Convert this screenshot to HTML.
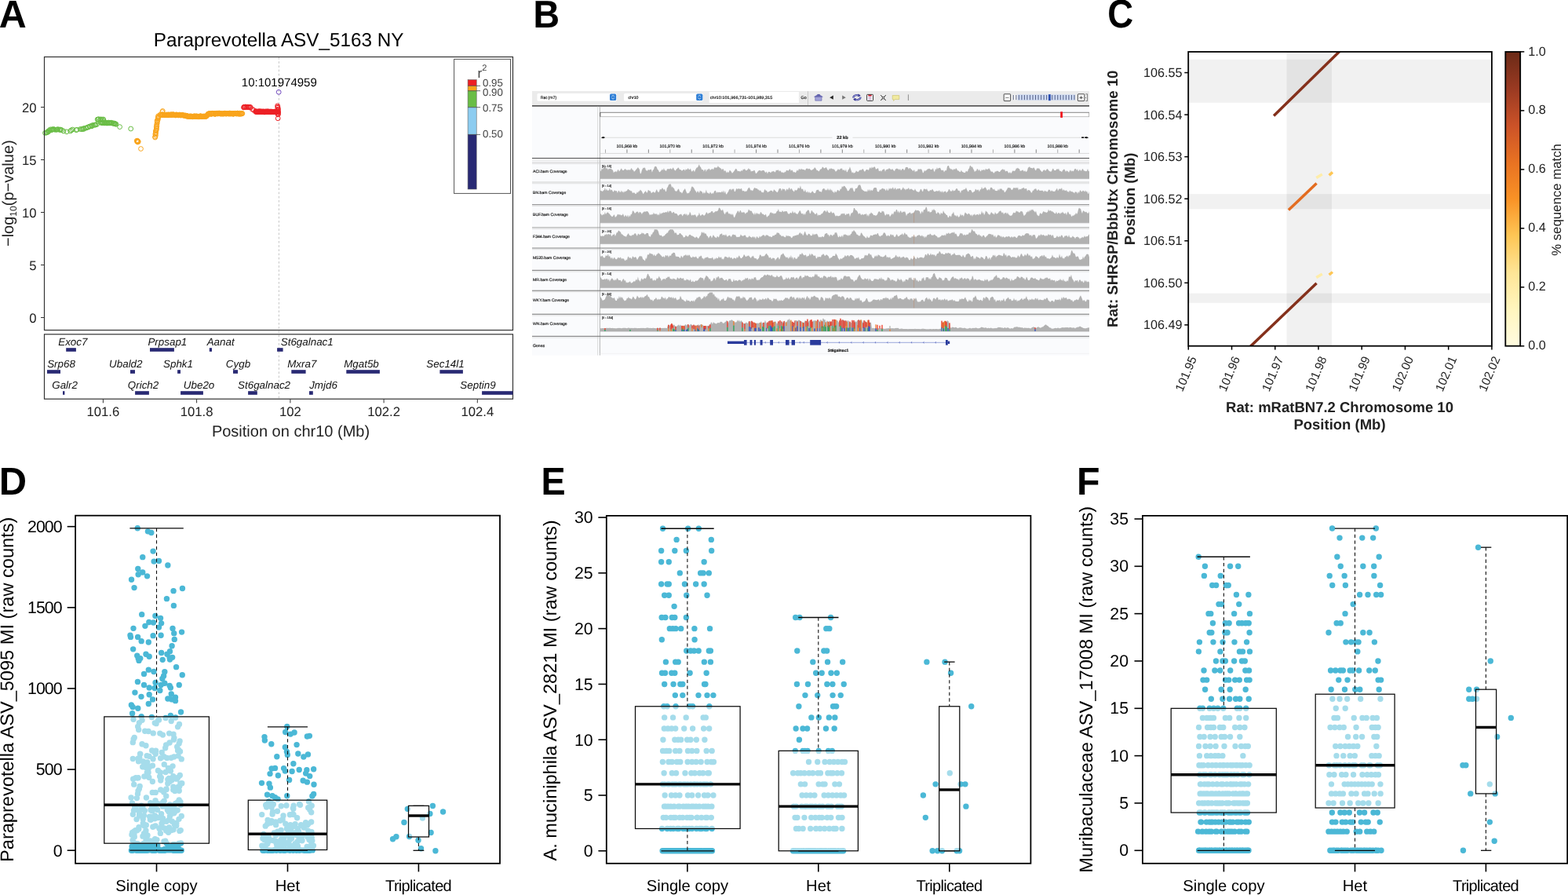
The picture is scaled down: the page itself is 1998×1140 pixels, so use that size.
<!DOCTYPE html>
<html lang="en"><head><meta charset="utf-8"><title>Figure</title>
<style>
html,body{margin:0;padding:0;background:#fff}
body{width:1998px;height:1140px;overflow:hidden}
svg{display:block}
#panelB text{stroke:#111;stroke-width:.16px}
svg text{font-family:"Liberation Sans",sans-serif;text-rendering:geometricPrecision}
</style></head><body>
<svg width="1998" height="1140" viewBox="0 0 1998 1140">
<rect width="1998" height="1140" fill="#fff"/>
<g id="panelA">
<text transform="translate(-1.21 35) scale(0.9886 1.0086)" font-size="49" font-weight="bold">A</text>
<text x="355.2" y="58.7" font-size="24.3" text-anchor="middle">Paraprevotella ASV_5163 NY</text>
<line x1="355.4" y1="73" x2="355.4" y2="508" stroke="#bdbdbd" stroke-width="0.9" stroke-dasharray="2.6 2.6"/>
<path d="M54.55 169.36a2.9 2.9 0 1 0 5.8 0a2.9 2.9 0 1 0 -5.8 0M56.02 169a2.9 2.9 0 1 0 5.8 0a2.9 2.9 0 1 0 -5.8 0M56.61 168.85a2.9 2.9 0 1 0 5.8 0a2.9 2.9 0 1 0 -5.8 0M57.28 168.51a2.9 2.9 0 1 0 5.8 0a2.9 2.9 0 1 0 -5.8 0M58.6 167.99a2.9 2.9 0 1 0 5.8 0a2.9 2.9 0 1 0 -5.8 0M58.94 166.7a2.9 2.9 0 1 0 5.8 0a2.9 2.9 0 1 0 -5.8 0M59.82 166.41a2.9 2.9 0 1 0 5.8 0a2.9 2.9 0 1 0 -5.8 0M61.29 164.84a2.9 2.9 0 1 0 5.8 0a2.9 2.9 0 1 0 -5.8 0M62.58 165.72a2.9 2.9 0 1 0 5.8 0a2.9 2.9 0 1 0 -5.8 0M63.25 165.32a2.9 2.9 0 1 0 5.8 0a2.9 2.9 0 1 0 -5.8 0M63.76 164.68a2.9 2.9 0 1 0 5.8 0a2.9 2.9 0 1 0 -5.8 0M65.13 164.68a2.9 2.9 0 1 0 5.8 0a2.9 2.9 0 1 0 -5.8 0M65.79 164.81a2.9 2.9 0 1 0 5.8 0a2.9 2.9 0 1 0 -5.8 0M66.63 164.99a2.9 2.9 0 1 0 5.8 0a2.9 2.9 0 1 0 -5.8 0M68.04 165.32a2.9 2.9 0 1 0 5.8 0a2.9 2.9 0 1 0 -5.8 0M69.12 165.08a2.9 2.9 0 1 0 5.8 0a2.9 2.9 0 1 0 -5.8 0M70.1 165.05a2.9 2.9 0 1 0 5.8 0a2.9 2.9 0 1 0 -5.8 0M71.06 164.62a2.9 2.9 0 1 0 5.8 0a2.9 2.9 0 1 0 -5.8 0M72.6 165.3a2.9 2.9 0 1 0 5.8 0a2.9 2.9 0 1 0 -5.8 0M73.61 165.27a2.9 2.9 0 1 0 5.8 0a2.9 2.9 0 1 0 -5.8 0M74.25 165.06a2.9 2.9 0 1 0 5.8 0a2.9 2.9 0 1 0 -5.8 0M75.6 165.6a2.9 2.9 0 1 0 5.8 0a2.9 2.9 0 1 0 -5.8 0M78.1 167a2.9 2.9 0 1 0 5.8 0a2.9 2.9 0 1 0 -5.8 0M82.1 167.8a2.9 2.9 0 1 0 5.8 0a2.9 2.9 0 1 0 -5.8 0M86.7 167a2.9 2.9 0 1 0 5.8 0a2.9 2.9 0 1 0 -5.8 0M87.9 165.8a2.9 2.9 0 1 0 5.8 0a2.9 2.9 0 1 0 -5.8 0M89.7 165a2.9 2.9 0 1 0 5.8 0a2.9 2.9 0 1 0 -5.8 0M94.1 165.6a2.9 2.9 0 1 0 5.8 0a2.9 2.9 0 1 0 -5.8 0M95.3 165.2a2.9 2.9 0 1 0 5.8 0a2.9 2.9 0 1 0 -5.8 0M99.39 164.47a2.9 2.9 0 1 0 5.8 0a2.9 2.9 0 1 0 -5.8 0M101.03 164.57a2.9 2.9 0 1 0 5.8 0a2.9 2.9 0 1 0 -5.8 0M102.28 164.32a2.9 2.9 0 1 0 5.8 0a2.9 2.9 0 1 0 -5.8 0M103.56 164.55a2.9 2.9 0 1 0 5.8 0a2.9 2.9 0 1 0 -5.8 0M103.93 163.44a2.9 2.9 0 1 0 5.8 0a2.9 2.9 0 1 0 -5.8 0M106.18 163.24a2.9 2.9 0 1 0 5.8 0a2.9 2.9 0 1 0 -5.8 0M107.1 162.8a2.9 2.9 0 1 0 5.8 0a2.9 2.9 0 1 0 -5.8 0M109.08 162.1a2.9 2.9 0 1 0 5.8 0a2.9 2.9 0 1 0 -5.8 0M109.39 161.93a2.9 2.9 0 1 0 5.8 0a2.9 2.9 0 1 0 -5.8 0M111.32 161.17a2.9 2.9 0 1 0 5.8 0a2.9 2.9 0 1 0 -5.8 0M111.85 160.83a2.9 2.9 0 1 0 5.8 0a2.9 2.9 0 1 0 -5.8 0M113.94 160.86a2.9 2.9 0 1 0 5.8 0a2.9 2.9 0 1 0 -5.8 0M114.32 159.95a2.9 2.9 0 1 0 5.8 0a2.9 2.9 0 1 0 -5.8 0M115.48 159.4a2.9 2.9 0 1 0 5.8 0a2.9 2.9 0 1 0 -5.8 0M117.36 159.16a2.9 2.9 0 1 0 5.8 0a2.9 2.9 0 1 0 -5.8 0M118.3 159.07a2.9 2.9 0 1 0 5.8 0a2.9 2.9 0 1 0 -5.8 0M119.11 158.99a2.9 2.9 0 1 0 5.8 0a2.9 2.9 0 1 0 -5.8 0M120.6 158.4a2.9 2.9 0 1 0 5.8 0a2.9 2.9 0 1 0 -5.8 0M121.23 152.14a2.9 2.9 0 1 0 5.8 0a2.9 2.9 0 1 0 -5.8 0M122.13 151.92a2.9 2.9 0 1 0 5.8 0a2.9 2.9 0 1 0 -5.8 0M123.14 151.77a2.9 2.9 0 1 0 5.8 0a2.9 2.9 0 1 0 -5.8 0M124.81 152.3a2.9 2.9 0 1 0 5.8 0a2.9 2.9 0 1 0 -5.8 0M125.05 152.38a2.9 2.9 0 1 0 5.8 0a2.9 2.9 0 1 0 -5.8 0M125.87 151.89a2.9 2.9 0 1 0 5.8 0a2.9 2.9 0 1 0 -5.8 0M127.43 152.14a2.9 2.9 0 1 0 5.8 0a2.9 2.9 0 1 0 -5.8 0M127.59 152.49a2.9 2.9 0 1 0 5.8 0a2.9 2.9 0 1 0 -5.8 0M128.9 152a2.9 2.9 0 1 0 5.8 0a2.9 2.9 0 1 0 -5.8 0M125.31 156.26a2.9 2.9 0 1 0 5.8 0a2.9 2.9 0 1 0 -5.8 0M126.59 156.32a2.9 2.9 0 1 0 5.8 0a2.9 2.9 0 1 0 -5.8 0M126.84 156.06a2.9 2.9 0 1 0 5.8 0a2.9 2.9 0 1 0 -5.8 0M127.36 156.57a2.9 2.9 0 1 0 5.8 0a2.9 2.9 0 1 0 -5.8 0M128.23 156.58a2.9 2.9 0 1 0 5.8 0a2.9 2.9 0 1 0 -5.8 0M129.08 156.43a2.9 2.9 0 1 0 5.8 0a2.9 2.9 0 1 0 -5.8 0M130.39 156.45a2.9 2.9 0 1 0 5.8 0a2.9 2.9 0 1 0 -5.8 0M130.73 156.83a2.9 2.9 0 1 0 5.8 0a2.9 2.9 0 1 0 -5.8 0M131.06 156.11a2.9 2.9 0 1 0 5.8 0a2.9 2.9 0 1 0 -5.8 0M132.51 156.77a2.9 2.9 0 1 0 5.8 0a2.9 2.9 0 1 0 -5.8 0M132.57 156.13a2.9 2.9 0 1 0 5.8 0a2.9 2.9 0 1 0 -5.8 0M133.78 156.88a2.9 2.9 0 1 0 5.8 0a2.9 2.9 0 1 0 -5.8 0M133.96 156.88a2.9 2.9 0 1 0 5.8 0a2.9 2.9 0 1 0 -5.8 0M135.37 156.53a2.9 2.9 0 1 0 5.8 0a2.9 2.9 0 1 0 -5.8 0M135.63 156.03a2.9 2.9 0 1 0 5.8 0a2.9 2.9 0 1 0 -5.8 0M135.97 156.88a2.9 2.9 0 1 0 5.8 0a2.9 2.9 0 1 0 -5.8 0M136.89 156.62a2.9 2.9 0 1 0 5.8 0a2.9 2.9 0 1 0 -5.8 0M137.63 156.73a2.9 2.9 0 1 0 5.8 0a2.9 2.9 0 1 0 -5.8 0M138.7 156.19a2.9 2.9 0 1 0 5.8 0a2.9 2.9 0 1 0 -5.8 0M139.03 156.82a2.9 2.9 0 1 0 5.8 0a2.9 2.9 0 1 0 -5.8 0M139.67 156.53a2.9 2.9 0 1 0 5.8 0a2.9 2.9 0 1 0 -5.8 0M140.91 157.35a2.9 2.9 0 1 0 5.8 0a2.9 2.9 0 1 0 -5.8 0M141.71 156.98a2.9 2.9 0 1 0 5.8 0a2.9 2.9 0 1 0 -5.8 0M142.77 157.1a2.9 2.9 0 1 0 5.8 0a2.9 2.9 0 1 0 -5.8 0M142.62 157.37a2.9 2.9 0 1 0 5.8 0a2.9 2.9 0 1 0 -5.8 0M143.71 157.39a2.9 2.9 0 1 0 5.8 0a2.9 2.9 0 1 0 -5.8 0M144.11 157.94a2.9 2.9 0 1 0 5.8 0a2.9 2.9 0 1 0 -5.8 0M145.1 158.3a2.9 2.9 0 1 0 5.8 0a2.9 2.9 0 1 0 -5.8 0M149.7 161.6a2.9 2.9 0 1 0 5.8 0a2.9 2.9 0 1 0 -5.8 0M163.8 164a2.9 2.9 0 1 0 5.8 0a2.9 2.9 0 1 0 -5.8 0" fill="none" stroke="#69BD45" stroke-width="1"/>
<path d="M171.37 179.23a2.9 2.9 0 1 0 5.8 0a2.9 2.9 0 1 0 -5.8 0M171.66 180.19a2.9 2.9 0 1 0 5.8 0a2.9 2.9 0 1 0 -5.8 0M172.78 180.16a2.9 2.9 0 1 0 5.8 0a2.9 2.9 0 1 0 -5.8 0M172.99 180.28a2.9 2.9 0 1 0 5.8 0a2.9 2.9 0 1 0 -5.8 0M173.3 180.4a2.9 2.9 0 1 0 5.8 0a2.9 2.9 0 1 0 -5.8 0M172.3 179.2a2.9 2.9 0 1 0 5.8 0a2.9 2.9 0 1 0 -5.8 0M172.5 181a2.9 2.9 0 1 0 5.8 0a2.9 2.9 0 1 0 -5.8 0M176.6 189.5a2.9 2.9 0 1 0 5.8 0a2.9 2.9 0 1 0 -5.8 0M194.74 175.04a2.9 2.9 0 1 0 5.8 0a2.9 2.9 0 1 0 -5.8 0M194.72 174.16a2.9 2.9 0 1 0 5.8 0a2.9 2.9 0 1 0 -5.8 0M195.5 172.46a2.9 2.9 0 1 0 5.8 0a2.9 2.9 0 1 0 -5.8 0M194.96 170.85a2.9 2.9 0 1 0 5.8 0a2.9 2.9 0 1 0 -5.8 0M195.57 169.66a2.9 2.9 0 1 0 5.8 0a2.9 2.9 0 1 0 -5.8 0M195.55 168.64a2.9 2.9 0 1 0 5.8 0a2.9 2.9 0 1 0 -5.8 0M195.45 166.9a2.9 2.9 0 1 0 5.8 0a2.9 2.9 0 1 0 -5.8 0M196.25 165.97a2.9 2.9 0 1 0 5.8 0a2.9 2.9 0 1 0 -5.8 0M196.39 164.49a2.9 2.9 0 1 0 5.8 0a2.9 2.9 0 1 0 -5.8 0M196.59 163.42a2.9 2.9 0 1 0 5.8 0a2.9 2.9 0 1 0 -5.8 0M196.31 161.79a2.9 2.9 0 1 0 5.8 0a2.9 2.9 0 1 0 -5.8 0M197.02 160.57a2.9 2.9 0 1 0 5.8 0a2.9 2.9 0 1 0 -5.8 0M196.7 159.09a2.9 2.9 0 1 0 5.8 0a2.9 2.9 0 1 0 -5.8 0M197.3 157.47a2.9 2.9 0 1 0 5.8 0a2.9 2.9 0 1 0 -5.8 0M197.22 155.88a2.9 2.9 0 1 0 5.8 0a2.9 2.9 0 1 0 -5.8 0M197.43 154.86a2.9 2.9 0 1 0 5.8 0a2.9 2.9 0 1 0 -5.8 0M197.18 153.64a2.9 2.9 0 1 0 5.8 0a2.9 2.9 0 1 0 -5.8 0M198.34 152.63a2.9 2.9 0 1 0 5.8 0a2.9 2.9 0 1 0 -5.8 0M198.33 150.89a2.9 2.9 0 1 0 5.8 0a2.9 2.9 0 1 0 -5.8 0M198.67 149.91a2.9 2.9 0 1 0 5.8 0a2.9 2.9 0 1 0 -5.8 0M198.71 149.01a2.9 2.9 0 1 0 5.8 0a2.9 2.9 0 1 0 -5.8 0M198.68 147.75a2.9 2.9 0 1 0 5.8 0a2.9 2.9 0 1 0 -5.8 0M201.1 146.3a2.9 2.9 0 1 0 5.8 0a2.9 2.9 0 1 0 -5.8 0M204.4 141.4a2.9 2.9 0 1 0 5.8 0a2.9 2.9 0 1 0 -5.8 0M203.9 142.6a2.9 2.9 0 1 0 5.8 0a2.9 2.9 0 1 0 -5.8 0M201.54 146.42a2.9 2.9 0 1 0 5.8 0a2.9 2.9 0 1 0 -5.8 0M202.63 145.98a2.9 2.9 0 1 0 5.8 0a2.9 2.9 0 1 0 -5.8 0M203.45 146.3a2.9 2.9 0 1 0 5.8 0a2.9 2.9 0 1 0 -5.8 0M203.9 146.8a2.9 2.9 0 1 0 5.8 0a2.9 2.9 0 1 0 -5.8 0M204.03 145.71a2.9 2.9 0 1 0 5.8 0a2.9 2.9 0 1 0 -5.8 0M204.64 146.51a2.9 2.9 0 1 0 5.8 0a2.9 2.9 0 1 0 -5.8 0M205.08 145.9a2.9 2.9 0 1 0 5.8 0a2.9 2.9 0 1 0 -5.8 0M206.48 146.49a2.9 2.9 0 1 0 5.8 0a2.9 2.9 0 1 0 -5.8 0M206.47 146.77a2.9 2.9 0 1 0 5.8 0a2.9 2.9 0 1 0 -5.8 0M206.89 146.5a2.9 2.9 0 1 0 5.8 0a2.9 2.9 0 1 0 -5.8 0M207.29 146.22a2.9 2.9 0 1 0 5.8 0a2.9 2.9 0 1 0 -5.8 0M208.58 146.8a2.9 2.9 0 1 0 5.8 0a2.9 2.9 0 1 0 -5.8 0M209.22 146.16a2.9 2.9 0 1 0 5.8 0a2.9 2.9 0 1 0 -5.8 0M209.42 146.08a2.9 2.9 0 1 0 5.8 0a2.9 2.9 0 1 0 -5.8 0M209.44 146.3a2.9 2.9 0 1 0 5.8 0a2.9 2.9 0 1 0 -5.8 0M210.84 146.72a2.9 2.9 0 1 0 5.8 0a2.9 2.9 0 1 0 -5.8 0M211.24 146.84a2.9 2.9 0 1 0 5.8 0a2.9 2.9 0 1 0 -5.8 0M211.28 145.9a2.9 2.9 0 1 0 5.8 0a2.9 2.9 0 1 0 -5.8 0M212.04 146.03a2.9 2.9 0 1 0 5.8 0a2.9 2.9 0 1 0 -5.8 0M212.31 146.21a2.9 2.9 0 1 0 5.8 0a2.9 2.9 0 1 0 -5.8 0M213.36 146.31a2.9 2.9 0 1 0 5.8 0a2.9 2.9 0 1 0 -5.8 0M213.55 146.73a2.9 2.9 0 1 0 5.8 0a2.9 2.9 0 1 0 -5.8 0M214.9 146.28a2.9 2.9 0 1 0 5.8 0a2.9 2.9 0 1 0 -5.8 0M214.37 145.78a2.9 2.9 0 1 0 5.8 0a2.9 2.9 0 1 0 -5.8 0M215.88 145.8a2.9 2.9 0 1 0 5.8 0a2.9 2.9 0 1 0 -5.8 0M216.24 146.44a2.9 2.9 0 1 0 5.8 0a2.9 2.9 0 1 0 -5.8 0M216.32 146.72a2.9 2.9 0 1 0 5.8 0a2.9 2.9 0 1 0 -5.8 0M216.52 145.94a2.9 2.9 0 1 0 5.8 0a2.9 2.9 0 1 0 -5.8 0M217.6 145.81a2.9 2.9 0 1 0 5.8 0a2.9 2.9 0 1 0 -5.8 0M218.61 146.08a2.9 2.9 0 1 0 5.8 0a2.9 2.9 0 1 0 -5.8 0M218.34 145.86a2.9 2.9 0 1 0 5.8 0a2.9 2.9 0 1 0 -5.8 0M219.48 146.34a2.9 2.9 0 1 0 5.8 0a2.9 2.9 0 1 0 -5.8 0M220.03 146.6a2.9 2.9 0 1 0 5.8 0a2.9 2.9 0 1 0 -5.8 0M220.8 146.98a2.9 2.9 0 1 0 5.8 0a2.9 2.9 0 1 0 -5.8 0M221.21 146.07a2.9 2.9 0 1 0 5.8 0a2.9 2.9 0 1 0 -5.8 0M221.51 146.06a2.9 2.9 0 1 0 5.8 0a2.9 2.9 0 1 0 -5.8 0M221.51 146.42a2.9 2.9 0 1 0 5.8 0a2.9 2.9 0 1 0 -5.8 0M222.91 146.07a2.9 2.9 0 1 0 5.8 0a2.9 2.9 0 1 0 -5.8 0M222.94 146.28a2.9 2.9 0 1 0 5.8 0a2.9 2.9 0 1 0 -5.8 0M224 146.5a2.9 2.9 0 1 0 5.8 0a2.9 2.9 0 1 0 -5.8 0M224.46 146.79a2.9 2.9 0 1 0 5.8 0a2.9 2.9 0 1 0 -5.8 0M224.75 146.84a2.9 2.9 0 1 0 5.8 0a2.9 2.9 0 1 0 -5.8 0M225.92 146a2.9 2.9 0 1 0 5.8 0a2.9 2.9 0 1 0 -5.8 0M226.51 146.78a2.9 2.9 0 1 0 5.8 0a2.9 2.9 0 1 0 -5.8 0M226.1 146.46a2.9 2.9 0 1 0 5.8 0a2.9 2.9 0 1 0 -5.8 0M227.25 147.02a2.9 2.9 0 1 0 5.8 0a2.9 2.9 0 1 0 -5.8 0M227.51 146.62a2.9 2.9 0 1 0 5.8 0a2.9 2.9 0 1 0 -5.8 0M228.67 146.9a2.9 2.9 0 1 0 5.8 0a2.9 2.9 0 1 0 -5.8 0M229.3 146.51a2.9 2.9 0 1 0 5.8 0a2.9 2.9 0 1 0 -5.8 0M229.5 146.2a2.9 2.9 0 1 0 5.8 0a2.9 2.9 0 1 0 -5.8 0M230.14 146.95a2.9 2.9 0 1 0 5.8 0a2.9 2.9 0 1 0 -5.8 0M230.6 146.84a2.9 2.9 0 1 0 5.8 0a2.9 2.9 0 1 0 -5.8 0M230.64 147.06a2.9 2.9 0 1 0 5.8 0a2.9 2.9 0 1 0 -5.8 0M232.12 147.16a2.9 2.9 0 1 0 5.8 0a2.9 2.9 0 1 0 -5.8 0M232.14 146.95a2.9 2.9 0 1 0 5.8 0a2.9 2.9 0 1 0 -5.8 0M232.38 147.36a2.9 2.9 0 1 0 5.8 0a2.9 2.9 0 1 0 -5.8 0M233.53 146.95a2.9 2.9 0 1 0 5.8 0a2.9 2.9 0 1 0 -5.8 0M233.1 147.33a2.9 2.9 0 1 0 5.8 0a2.9 2.9 0 1 0 -5.8 0M234.16 147.99a2.9 2.9 0 1 0 5.8 0a2.9 2.9 0 1 0 -5.8 0M234.58 147.37a2.9 2.9 0 1 0 5.8 0a2.9 2.9 0 1 0 -5.8 0M235.47 147.68a2.9 2.9 0 1 0 5.8 0a2.9 2.9 0 1 0 -5.8 0M236.02 147.81a2.9 2.9 0 1 0 5.8 0a2.9 2.9 0 1 0 -5.8 0M236.02 148.55a2.9 2.9 0 1 0 5.8 0a2.9 2.9 0 1 0 -5.8 0M236.34 147.79a2.9 2.9 0 1 0 5.8 0a2.9 2.9 0 1 0 -5.8 0M237.35 148.49a2.9 2.9 0 1 0 5.8 0a2.9 2.9 0 1 0 -5.8 0M238.3 148.45a2.9 2.9 0 1 0 5.8 0a2.9 2.9 0 1 0 -5.8 0M238.98 148.22a2.9 2.9 0 1 0 5.8 0a2.9 2.9 0 1 0 -5.8 0M239.55 147.74a2.9 2.9 0 1 0 5.8 0a2.9 2.9 0 1 0 -5.8 0M239.23 148.27a2.9 2.9 0 1 0 5.8 0a2.9 2.9 0 1 0 -5.8 0M239.87 148.52a2.9 2.9 0 1 0 5.8 0a2.9 2.9 0 1 0 -5.8 0M240.85 148.27a2.9 2.9 0 1 0 5.8 0a2.9 2.9 0 1 0 -5.8 0M241.65 148.32a2.9 2.9 0 1 0 5.8 0a2.9 2.9 0 1 0 -5.8 0M241.57 148.11a2.9 2.9 0 1 0 5.8 0a2.9 2.9 0 1 0 -5.8 0M242.77 148.74a2.9 2.9 0 1 0 5.8 0a2.9 2.9 0 1 0 -5.8 0M242.56 148.69a2.9 2.9 0 1 0 5.8 0a2.9 2.9 0 1 0 -5.8 0M244.03 148.3a2.9 2.9 0 1 0 5.8 0a2.9 2.9 0 1 0 -5.8 0M244.12 147.92a2.9 2.9 0 1 0 5.8 0a2.9 2.9 0 1 0 -5.8 0M244.63 148.28a2.9 2.9 0 1 0 5.8 0a2.9 2.9 0 1 0 -5.8 0M245.27 147.72a2.9 2.9 0 1 0 5.8 0a2.9 2.9 0 1 0 -5.8 0M246.27 148.31a2.9 2.9 0 1 0 5.8 0a2.9 2.9 0 1 0 -5.8 0M246.14 148.65a2.9 2.9 0 1 0 5.8 0a2.9 2.9 0 1 0 -5.8 0M246.9 148.29a2.9 2.9 0 1 0 5.8 0a2.9 2.9 0 1 0 -5.8 0M247.61 147.78a2.9 2.9 0 1 0 5.8 0a2.9 2.9 0 1 0 -5.8 0M247.98 148.2a2.9 2.9 0 1 0 5.8 0a2.9 2.9 0 1 0 -5.8 0M249.04 148.82a2.9 2.9 0 1 0 5.8 0a2.9 2.9 0 1 0 -5.8 0M248.78 148.28a2.9 2.9 0 1 0 5.8 0a2.9 2.9 0 1 0 -5.8 0M249.16 148.24a2.9 2.9 0 1 0 5.8 0a2.9 2.9 0 1 0 -5.8 0M250.55 148.81a2.9 2.9 0 1 0 5.8 0a2.9 2.9 0 1 0 -5.8 0M250.7 148.11a2.9 2.9 0 1 0 5.8 0a2.9 2.9 0 1 0 -5.8 0M250.92 148.48a2.9 2.9 0 1 0 5.8 0a2.9 2.9 0 1 0 -5.8 0M252.35 147.89a2.9 2.9 0 1 0 5.8 0a2.9 2.9 0 1 0 -5.8 0M252.74 147.77a2.9 2.9 0 1 0 5.8 0a2.9 2.9 0 1 0 -5.8 0M252.59 148.02a2.9 2.9 0 1 0 5.8 0a2.9 2.9 0 1 0 -5.8 0M253.74 148.14a2.9 2.9 0 1 0 5.8 0a2.9 2.9 0 1 0 -5.8 0M253.9 148.5a2.9 2.9 0 1 0 5.8 0a2.9 2.9 0 1 0 -5.8 0M254.16 148.64a2.9 2.9 0 1 0 5.8 0a2.9 2.9 0 1 0 -5.8 0M254.74 148.38a2.9 2.9 0 1 0 5.8 0a2.9 2.9 0 1 0 -5.8 0M255.45 148.01a2.9 2.9 0 1 0 5.8 0a2.9 2.9 0 1 0 -5.8 0M256.35 148.3a2.9 2.9 0 1 0 5.8 0a2.9 2.9 0 1 0 -5.8 0M256.72 148.28a2.9 2.9 0 1 0 5.8 0a2.9 2.9 0 1 0 -5.8 0M257.46 147.98a2.9 2.9 0 1 0 5.8 0a2.9 2.9 0 1 0 -5.8 0M257.63 148.55a2.9 2.9 0 1 0 5.8 0a2.9 2.9 0 1 0 -5.8 0M258.71 148.43a2.9 2.9 0 1 0 5.8 0a2.9 2.9 0 1 0 -5.8 0M259.52 148.53a2.9 2.9 0 1 0 5.8 0a2.9 2.9 0 1 0 -5.8 0M259.97 147.7a2.9 2.9 0 1 0 5.8 0a2.9 2.9 0 1 0 -5.8 0M260.28 148.02a2.9 2.9 0 1 0 5.8 0a2.9 2.9 0 1 0 -5.8 0M260.92 147.05a2.9 2.9 0 1 0 5.8 0a2.9 2.9 0 1 0 -5.8 0M260.66 147.4a2.9 2.9 0 1 0 5.8 0a2.9 2.9 0 1 0 -5.8 0M260.98 147.11a2.9 2.9 0 1 0 5.8 0a2.9 2.9 0 1 0 -5.8 0M262.23 145.69a2.9 2.9 0 1 0 5.8 0a2.9 2.9 0 1 0 -5.8 0M261.9 146.03a2.9 2.9 0 1 0 5.8 0a2.9 2.9 0 1 0 -5.8 0M262.37 144.89a2.9 2.9 0 1 0 5.8 0a2.9 2.9 0 1 0 -5.8 0M263.5 144.91a2.9 2.9 0 1 0 5.8 0a2.9 2.9 0 1 0 -5.8 0M264.01 144.54a2.9 2.9 0 1 0 5.8 0a2.9 2.9 0 1 0 -5.8 0M264.1 145.19a2.9 2.9 0 1 0 5.8 0a2.9 2.9 0 1 0 -5.8 0M264.2 144.59a2.9 2.9 0 1 0 5.8 0a2.9 2.9 0 1 0 -5.8 0M265.56 145.43a2.9 2.9 0 1 0 5.8 0a2.9 2.9 0 1 0 -5.8 0M266.46 144.46a2.9 2.9 0 1 0 5.8 0a2.9 2.9 0 1 0 -5.8 0M266.47 145.21a2.9 2.9 0 1 0 5.8 0a2.9 2.9 0 1 0 -5.8 0M267.02 145.11a2.9 2.9 0 1 0 5.8 0a2.9 2.9 0 1 0 -5.8 0M267.21 144.36a2.9 2.9 0 1 0 5.8 0a2.9 2.9 0 1 0 -5.8 0M267.67 144.3a2.9 2.9 0 1 0 5.8 0a2.9 2.9 0 1 0 -5.8 0M268.76 144.86a2.9 2.9 0 1 0 5.8 0a2.9 2.9 0 1 0 -5.8 0M269.34 144.4a2.9 2.9 0 1 0 5.8 0a2.9 2.9 0 1 0 -5.8 0M269.44 144.45a2.9 2.9 0 1 0 5.8 0a2.9 2.9 0 1 0 -5.8 0M270.79 145.38a2.9 2.9 0 1 0 5.8 0a2.9 2.9 0 1 0 -5.8 0M271.45 144.29a2.9 2.9 0 1 0 5.8 0a2.9 2.9 0 1 0 -5.8 0M270.97 145.3a2.9 2.9 0 1 0 5.8 0a2.9 2.9 0 1 0 -5.8 0M272.01 145.06a2.9 2.9 0 1 0 5.8 0a2.9 2.9 0 1 0 -5.8 0M272.41 144.69a2.9 2.9 0 1 0 5.8 0a2.9 2.9 0 1 0 -5.8 0M273.2 144.63a2.9 2.9 0 1 0 5.8 0a2.9 2.9 0 1 0 -5.8 0M273.86 144.11a2.9 2.9 0 1 0 5.8 0a2.9 2.9 0 1 0 -5.8 0M274.54 145.09a2.9 2.9 0 1 0 5.8 0a2.9 2.9 0 1 0 -5.8 0M274.48 144.61a2.9 2.9 0 1 0 5.8 0a2.9 2.9 0 1 0 -5.8 0M275.71 144.53a2.9 2.9 0 1 0 5.8 0a2.9 2.9 0 1 0 -5.8 0M275.61 144.23a2.9 2.9 0 1 0 5.8 0a2.9 2.9 0 1 0 -5.8 0M276.56 144.03a2.9 2.9 0 1 0 5.8 0a2.9 2.9 0 1 0 -5.8 0M277.57 144.96a2.9 2.9 0 1 0 5.8 0a2.9 2.9 0 1 0 -5.8 0M277.9 145.04a2.9 2.9 0 1 0 5.8 0a2.9 2.9 0 1 0 -5.8 0M278.37 144.5a2.9 2.9 0 1 0 5.8 0a2.9 2.9 0 1 0 -5.8 0M278.89 144.62a2.9 2.9 0 1 0 5.8 0a2.9 2.9 0 1 0 -5.8 0M279.9 144.99a2.9 2.9 0 1 0 5.8 0a2.9 2.9 0 1 0 -5.8 0M279.59 145.12a2.9 2.9 0 1 0 5.8 0a2.9 2.9 0 1 0 -5.8 0M280.73 144.97a2.9 2.9 0 1 0 5.8 0a2.9 2.9 0 1 0 -5.8 0M281.37 144.53a2.9 2.9 0 1 0 5.8 0a2.9 2.9 0 1 0 -5.8 0M282.02 145.1a2.9 2.9 0 1 0 5.8 0a2.9 2.9 0 1 0 -5.8 0M282.33 144.97a2.9 2.9 0 1 0 5.8 0a2.9 2.9 0 1 0 -5.8 0M282.97 144.54a2.9 2.9 0 1 0 5.8 0a2.9 2.9 0 1 0 -5.8 0M283.48 144.15a2.9 2.9 0 1 0 5.8 0a2.9 2.9 0 1 0 -5.8 0M283.58 144.63a2.9 2.9 0 1 0 5.8 0a2.9 2.9 0 1 0 -5.8 0M283.73 144.5a2.9 2.9 0 1 0 5.8 0a2.9 2.9 0 1 0 -5.8 0M285.04 144.83a2.9 2.9 0 1 0 5.8 0a2.9 2.9 0 1 0 -5.8 0M285.11 145.22a2.9 2.9 0 1 0 5.8 0a2.9 2.9 0 1 0 -5.8 0M286.19 144.49a2.9 2.9 0 1 0 5.8 0a2.9 2.9 0 1 0 -5.8 0M286.74 144.78a2.9 2.9 0 1 0 5.8 0a2.9 2.9 0 1 0 -5.8 0M287.14 144.57a2.9 2.9 0 1 0 5.8 0a2.9 2.9 0 1 0 -5.8 0M288.26 144.88a2.9 2.9 0 1 0 5.8 0a2.9 2.9 0 1 0 -5.8 0M288.45 145.03a2.9 2.9 0 1 0 5.8 0a2.9 2.9 0 1 0 -5.8 0M289.34 144.14a2.9 2.9 0 1 0 5.8 0a2.9 2.9 0 1 0 -5.8 0M289.46 145.01a2.9 2.9 0 1 0 5.8 0a2.9 2.9 0 1 0 -5.8 0M289.59 144.61a2.9 2.9 0 1 0 5.8 0a2.9 2.9 0 1 0 -5.8 0M289.89 144.37a2.9 2.9 0 1 0 5.8 0a2.9 2.9 0 1 0 -5.8 0M290.84 144.26a2.9 2.9 0 1 0 5.8 0a2.9 2.9 0 1 0 -5.8 0M291.25 145.23a2.9 2.9 0 1 0 5.8 0a2.9 2.9 0 1 0 -5.8 0M292.16 144.76a2.9 2.9 0 1 0 5.8 0a2.9 2.9 0 1 0 -5.8 0M293.22 144.84a2.9 2.9 0 1 0 5.8 0a2.9 2.9 0 1 0 -5.8 0M293.81 144.93a2.9 2.9 0 1 0 5.8 0a2.9 2.9 0 1 0 -5.8 0M294.14 144.26a2.9 2.9 0 1 0 5.8 0a2.9 2.9 0 1 0 -5.8 0M294.44 145.08a2.9 2.9 0 1 0 5.8 0a2.9 2.9 0 1 0 -5.8 0M294.33 145.29a2.9 2.9 0 1 0 5.8 0a2.9 2.9 0 1 0 -5.8 0M295.03 144.75a2.9 2.9 0 1 0 5.8 0a2.9 2.9 0 1 0 -5.8 0M295.59 144.78a2.9 2.9 0 1 0 5.8 0a2.9 2.9 0 1 0 -5.8 0M296.68 144.26a2.9 2.9 0 1 0 5.8 0a2.9 2.9 0 1 0 -5.8 0M297.63 144.7a2.9 2.9 0 1 0 5.8 0a2.9 2.9 0 1 0 -5.8 0M297.68 144.9a2.9 2.9 0 1 0 5.8 0a2.9 2.9 0 1 0 -5.8 0M298.04 144.52a2.9 2.9 0 1 0 5.8 0a2.9 2.9 0 1 0 -5.8 0M298.94 144.84a2.9 2.9 0 1 0 5.8 0a2.9 2.9 0 1 0 -5.8 0M299.04 145.01a2.9 2.9 0 1 0 5.8 0a2.9 2.9 0 1 0 -5.8 0M299.61 144.15a2.9 2.9 0 1 0 5.8 0a2.9 2.9 0 1 0 -5.8 0M300.09 144.18a2.9 2.9 0 1 0 5.8 0a2.9 2.9 0 1 0 -5.8 0M300.54 145.02a2.9 2.9 0 1 0 5.8 0a2.9 2.9 0 1 0 -5.8 0M301.37 145.18a2.9 2.9 0 1 0 5.8 0a2.9 2.9 0 1 0 -5.8 0M302.35 144.15a2.9 2.9 0 1 0 5.8 0a2.9 2.9 0 1 0 -5.8 0M303.19 145.21a2.9 2.9 0 1 0 5.8 0a2.9 2.9 0 1 0 -5.8 0M302.64 145.15a2.9 2.9 0 1 0 5.8 0a2.9 2.9 0 1 0 -5.8 0M303.62 144.62a2.9 2.9 0 1 0 5.8 0a2.9 2.9 0 1 0 -5.8 0M304.82 144.33a2.9 2.9 0 1 0 5.8 0a2.9 2.9 0 1 0 -5.8 0M304.83 145.15a2.9 2.9 0 1 0 5.8 0a2.9 2.9 0 1 0 -5.8 0M305.62 144.57a2.9 2.9 0 1 0 5.8 0a2.9 2.9 0 1 0 -5.8 0M305.9 144.6a2.9 2.9 0 1 0 5.8 0a2.9 2.9 0 1 0 -5.8 0" fill="none" stroke="#F9A41A" stroke-width="1"/>
<path d="M307.58 136.92a2.9 2.9 0 1 0 5.8 0a2.9 2.9 0 1 0 -5.8 0M308.1 136.2a2.9 2.9 0 1 0 5.8 0a2.9 2.9 0 1 0 -5.8 0M309.02 136.52a2.9 2.9 0 1 0 5.8 0a2.9 2.9 0 1 0 -5.8 0M309.5 136.09a2.9 2.9 0 1 0 5.8 0a2.9 2.9 0 1 0 -5.8 0M310.73 136.14a2.9 2.9 0 1 0 5.8 0a2.9 2.9 0 1 0 -5.8 0M311.54 136.67a2.9 2.9 0 1 0 5.8 0a2.9 2.9 0 1 0 -5.8 0M312.46 136.24a2.9 2.9 0 1 0 5.8 0a2.9 2.9 0 1 0 -5.8 0M313.48 136.38a2.9 2.9 0 1 0 5.8 0a2.9 2.9 0 1 0 -5.8 0M314.58 136.47a2.9 2.9 0 1 0 5.8 0a2.9 2.9 0 1 0 -5.8 0M315.7 136.87a2.9 2.9 0 1 0 5.8 0a2.9 2.9 0 1 0 -5.8 0M316.1 136.4a2.9 2.9 0 1 0 5.8 0a2.9 2.9 0 1 0 -5.8 0M318.5 139a2.9 2.9 0 1 0 5.8 0a2.9 2.9 0 1 0 -5.8 0M320.6 140.6a2.9 2.9 0 1 0 5.8 0a2.9 2.9 0 1 0 -5.8 0M322.9 141.8a2.9 2.9 0 1 0 5.8 0a2.9 2.9 0 1 0 -5.8 0M323.33 141.94a2.9 2.9 0 1 0 5.8 0a2.9 2.9 0 1 0 -5.8 0M323.17 142.6a2.9 2.9 0 1 0 5.8 0a2.9 2.9 0 1 0 -5.8 0M324.29 142.33a2.9 2.9 0 1 0 5.8 0a2.9 2.9 0 1 0 -5.8 0M324.32 141.99a2.9 2.9 0 1 0 5.8 0a2.9 2.9 0 1 0 -5.8 0M325.1 142.28a2.9 2.9 0 1 0 5.8 0a2.9 2.9 0 1 0 -5.8 0M325.46 142.36a2.9 2.9 0 1 0 5.8 0a2.9 2.9 0 1 0 -5.8 0M326.08 141.92a2.9 2.9 0 1 0 5.8 0a2.9 2.9 0 1 0 -5.8 0M326.03 142.71a2.9 2.9 0 1 0 5.8 0a2.9 2.9 0 1 0 -5.8 0M327.15 142.62a2.9 2.9 0 1 0 5.8 0a2.9 2.9 0 1 0 -5.8 0M326.73 141.8a2.9 2.9 0 1 0 5.8 0a2.9 2.9 0 1 0 -5.8 0M327.42 142.17a2.9 2.9 0 1 0 5.8 0a2.9 2.9 0 1 0 -5.8 0M328.22 141.85a2.9 2.9 0 1 0 5.8 0a2.9 2.9 0 1 0 -5.8 0M328.6 141.83a2.9 2.9 0 1 0 5.8 0a2.9 2.9 0 1 0 -5.8 0M328.6 142.44a2.9 2.9 0 1 0 5.8 0a2.9 2.9 0 1 0 -5.8 0M329.51 142.39a2.9 2.9 0 1 0 5.8 0a2.9 2.9 0 1 0 -5.8 0M329.79 142.25a2.9 2.9 0 1 0 5.8 0a2.9 2.9 0 1 0 -5.8 0M330.08 142.12a2.9 2.9 0 1 0 5.8 0a2.9 2.9 0 1 0 -5.8 0M331.07 142.62a2.9 2.9 0 1 0 5.8 0a2.9 2.9 0 1 0 -5.8 0M330.86 141.9a2.9 2.9 0 1 0 5.8 0a2.9 2.9 0 1 0 -5.8 0M332.05 142.41a2.9 2.9 0 1 0 5.8 0a2.9 2.9 0 1 0 -5.8 0M332.46 142a2.9 2.9 0 1 0 5.8 0a2.9 2.9 0 1 0 -5.8 0M332.57 142.05a2.9 2.9 0 1 0 5.8 0a2.9 2.9 0 1 0 -5.8 0M333.41 142.17a2.9 2.9 0 1 0 5.8 0a2.9 2.9 0 1 0 -5.8 0M333.7 142.79a2.9 2.9 0 1 0 5.8 0a2.9 2.9 0 1 0 -5.8 0M333.83 142.35a2.9 2.9 0 1 0 5.8 0a2.9 2.9 0 1 0 -5.8 0M334.7 142.73a2.9 2.9 0 1 0 5.8 0a2.9 2.9 0 1 0 -5.8 0M334.83 142.18a2.9 2.9 0 1 0 5.8 0a2.9 2.9 0 1 0 -5.8 0M334.95 142.69a2.9 2.9 0 1 0 5.8 0a2.9 2.9 0 1 0 -5.8 0M335.38 141.9a2.9 2.9 0 1 0 5.8 0a2.9 2.9 0 1 0 -5.8 0M336.31 142.3a2.9 2.9 0 1 0 5.8 0a2.9 2.9 0 1 0 -5.8 0M336.89 142.12a2.9 2.9 0 1 0 5.8 0a2.9 2.9 0 1 0 -5.8 0M337.43 141.9a2.9 2.9 0 1 0 5.8 0a2.9 2.9 0 1 0 -5.8 0M337.31 142.49a2.9 2.9 0 1 0 5.8 0a2.9 2.9 0 1 0 -5.8 0M337.63 142.13a2.9 2.9 0 1 0 5.8 0a2.9 2.9 0 1 0 -5.8 0M338.72 142.52a2.9 2.9 0 1 0 5.8 0a2.9 2.9 0 1 0 -5.8 0M338.73 141.98a2.9 2.9 0 1 0 5.8 0a2.9 2.9 0 1 0 -5.8 0M339.26 142.56a2.9 2.9 0 1 0 5.8 0a2.9 2.9 0 1 0 -5.8 0M339.72 141.95a2.9 2.9 0 1 0 5.8 0a2.9 2.9 0 1 0 -5.8 0M340.51 142.41a2.9 2.9 0 1 0 5.8 0a2.9 2.9 0 1 0 -5.8 0M341.17 142.78a2.9 2.9 0 1 0 5.8 0a2.9 2.9 0 1 0 -5.8 0M341.61 142.28a2.9 2.9 0 1 0 5.8 0a2.9 2.9 0 1 0 -5.8 0M341.95 142.15a2.9 2.9 0 1 0 5.8 0a2.9 2.9 0 1 0 -5.8 0M341.92 142.25a2.9 2.9 0 1 0 5.8 0a2.9 2.9 0 1 0 -5.8 0M342.98 142.75a2.9 2.9 0 1 0 5.8 0a2.9 2.9 0 1 0 -5.8 0M342.75 142.22a2.9 2.9 0 1 0 5.8 0a2.9 2.9 0 1 0 -5.8 0M343.32 142.22a2.9 2.9 0 1 0 5.8 0a2.9 2.9 0 1 0 -5.8 0M343.8 142.25a2.9 2.9 0 1 0 5.8 0a2.9 2.9 0 1 0 -5.8 0M344.04 142.43a2.9 2.9 0 1 0 5.8 0a2.9 2.9 0 1 0 -5.8 0M345.1 142.41a2.9 2.9 0 1 0 5.8 0a2.9 2.9 0 1 0 -5.8 0M345.59 142.43a2.9 2.9 0 1 0 5.8 0a2.9 2.9 0 1 0 -5.8 0M345.38 142.63a2.9 2.9 0 1 0 5.8 0a2.9 2.9 0 1 0 -5.8 0M346.53 142.15a2.9 2.9 0 1 0 5.8 0a2.9 2.9 0 1 0 -5.8 0M346.12 142.39a2.9 2.9 0 1 0 5.8 0a2.9 2.9 0 1 0 -5.8 0M347.09 142.44a2.9 2.9 0 1 0 5.8 0a2.9 2.9 0 1 0 -5.8 0M347.97 142.53a2.9 2.9 0 1 0 5.8 0a2.9 2.9 0 1 0 -5.8 0M348.25 141.95a2.9 2.9 0 1 0 5.8 0a2.9 2.9 0 1 0 -5.8 0M348.45 142.67a2.9 2.9 0 1 0 5.8 0a2.9 2.9 0 1 0 -5.8 0M348.43 141.97a2.9 2.9 0 1 0 5.8 0a2.9 2.9 0 1 0 -5.8 0M349.54 142.79a2.9 2.9 0 1 0 5.8 0a2.9 2.9 0 1 0 -5.8 0M349.33 142.53a2.9 2.9 0 1 0 5.8 0a2.9 2.9 0 1 0 -5.8 0M349.84 142.64a2.9 2.9 0 1 0 5.8 0a2.9 2.9 0 1 0 -5.8 0M350.8 142.14a2.9 2.9 0 1 0 5.8 0a2.9 2.9 0 1 0 -5.8 0M351.1 142.4a2.9 2.9 0 1 0 5.8 0a2.9 2.9 0 1 0 -5.8 0M350.72 134.77a2.9 2.9 0 1 0 5.8 0a2.9 2.9 0 1 0 -5.8 0M351.07 136.2a2.9 2.9 0 1 0 5.8 0a2.9 2.9 0 1 0 -5.8 0M350.99 137.21a2.9 2.9 0 1 0 5.8 0a2.9 2.9 0 1 0 -5.8 0M351.62 138.98a2.9 2.9 0 1 0 5.8 0a2.9 2.9 0 1 0 -5.8 0M351.19 140.29a2.9 2.9 0 1 0 5.8 0a2.9 2.9 0 1 0 -5.8 0M351.47 141.9a2.9 2.9 0 1 0 5.8 0a2.9 2.9 0 1 0 -5.8 0M351.71 143.04a2.9 2.9 0 1 0 5.8 0a2.9 2.9 0 1 0 -5.8 0M351.68 144.73a2.9 2.9 0 1 0 5.8 0a2.9 2.9 0 1 0 -5.8 0M351.4 146a2.9 2.9 0 1 0 5.8 0a2.9 2.9 0 1 0 -5.8 0M351.3 150.8a2.9 2.9 0 1 0 5.8 0a2.9 2.9 0 1 0 -5.8 0M350.7 144.5a2.9 2.9 0 1 0 5.8 0a2.9 2.9 0 1 0 -5.8 0" fill="none" stroke="#ED1F24" stroke-width="1"/>
<path d="M352.3 117.3a2.9 2.9 0 1 0 5.8 0a2.9 2.9 0 1 0 -5.8 0" fill="none" stroke="#6E45BD" stroke-width="1"/>
<text x="355.8" y="110" font-size="15" text-anchor="middle">10:101974959</text>
<rect x="56.5" y="72.5" width="597" height="348" fill="none" stroke="#333" stroke-width="1.2"/>
<line x1="52" y1="404.5" x2="56.5" y2="404.5" stroke="#333" stroke-width="1"/>
<text x="46.6" y="410.6" font-size="16.7" text-anchor="end" fill="#222">0</text>
<line x1="52" y1="337.5" x2="56.5" y2="337.5" stroke="#333" stroke-width="1"/>
<text x="46.6" y="343.6" font-size="16.7" text-anchor="end" fill="#222">5</text>
<line x1="52" y1="270.5" x2="56.5" y2="270.5" stroke="#333" stroke-width="1"/>
<text x="46.6" y="276.6" font-size="16.7" text-anchor="end" fill="#222">10</text>
<line x1="52" y1="203.5" x2="56.5" y2="203.5" stroke="#333" stroke-width="1"/>
<text x="46.6" y="209.6" font-size="16.7" text-anchor="end" fill="#222">15</text>
<line x1="52" y1="136.5" x2="56.5" y2="136.5" stroke="#333" stroke-width="1"/>
<text x="46.6" y="142.6" font-size="16.7" text-anchor="end" fill="#222">20</text>
<text transform="translate(16.6 314) rotate(-90)" font-size="20" fill="#222">−log<tspan font-size="12" dy="4">10</tspan><tspan dy="-4">(p−value)</tspan></text>
<rect x="578.6" y="75.4" width="71.9" height="171" fill="#fff" stroke="#555" stroke-width="1"/>
<rect x="596.1" y="101.6" width="11.1" height="7.9" fill="#ED1F24"/>
<rect x="596.1" y="109.5" width="11.1" height="6.3" fill="#F9A41A"/>
<rect x="596.1" y="115.8" width="11.1" height="20.9" fill="#69BD45"/>
<rect x="596.1" y="136.7" width="11.1" height="34.7" fill="#8CCCF0"/>
<rect x="596.1" y="171.4" width="11.1" height="69.6" fill="#282973"/>
<rect x="596.1" y="101.6" width="11.1" height="139.4" fill="none" stroke="#666" stroke-width="0.6"/>
<line x1="596.1" y1="109.3" x2="612.1" y2="109.3" stroke="#444" stroke-width="0.8"/>
<text x="615" y="109.8" font-size="13.3" fill="#444">0.95</text>
<line x1="596.1" y1="115.7" x2="612.1" y2="115.7" stroke="#444" stroke-width="0.8"/>
<text x="615" y="121.8" font-size="13.3" fill="#444">0.90</text>
<line x1="596.1" y1="136.7" x2="612.1" y2="136.7" stroke="#444" stroke-width="0.8"/>
<text x="615" y="141.7" font-size="13.3" fill="#444">0.75</text>
<line x1="596.1" y1="171.4" x2="612.1" y2="171.4" stroke="#444" stroke-width="0.8"/>
<text x="615" y="175" font-size="13.3" fill="#444">0.50</text>
<text x="608.6" y="98.6" font-size="17" fill="#444">r<tspan font-size="11" dy="-8.2">2</tspan></text>
<rect x="56.5" y="425.8" width="597" height="82.4" fill="none" stroke="#333" stroke-width="1.2"/>
<rect x="84.2" y="443.2" width="12.7" height="4.6" fill="#282973"/>
<text x="92.85" y="439.6" font-size="13.4" text-anchor="middle" font-style="italic" fill="#111">Exoc7</text>
<rect x="191" y="443.2" width="30.9" height="4.6" fill="#282973"/>
<text x="213.35" y="439.6" font-size="13.4" text-anchor="middle" font-style="italic" fill="#111">Prpsap1</text>
<rect x="266.8" y="443.2" width="3.2" height="4.6" fill="#282973"/>
<text x="281.2" y="439.6" font-size="13.4" text-anchor="middle" font-style="italic" fill="#111">Aanat</text>
<rect x="353.1" y="443.2" width="7.5" height="4.6" fill="#282973"/>
<text x="391.25" y="439.6" font-size="13.4" text-anchor="middle" font-style="italic" fill="#111">St6galnac1</text>
<rect x="60" y="471.2" width="17" height="4.6" fill="#282973"/>
<text x="78" y="467.7" font-size="13.4" text-anchor="middle" font-style="italic" fill="#111">Srp68</text>
<rect x="166" y="471.2" width="6" height="4.6" fill="#282973"/>
<text x="160.3" y="467.7" font-size="13.4" text-anchor="middle" font-style="italic" fill="#111">Ubald2</text>
<rect x="226.1" y="471.2" width="3.9" height="4.6" fill="#282973"/>
<text x="227" y="467.7" font-size="13.4" text-anchor="middle" font-style="italic" fill="#111">Sphk1</text>
<rect x="297" y="471.2" width="6.1" height="4.6" fill="#282973"/>
<text x="303.45" y="467.7" font-size="13.4" text-anchor="middle" font-style="italic" fill="#111">Cygb</text>
<rect x="371.3" y="471.2" width="18.3" height="4.6" fill="#282973"/>
<text x="384.8" y="467.7" font-size="13.4" text-anchor="middle" font-style="italic" fill="#111">Mxra7</text>
<rect x="441.3" y="471.2" width="42.6" height="4.6" fill="#282973"/>
<text x="460.5" y="467.7" font-size="13.4" text-anchor="middle" font-style="italic" fill="#111">Mgat5b</text>
<rect x="560.4" y="471.2" width="29.5" height="4.6" fill="#282973"/>
<text x="567.55" y="467.7" font-size="13.4" text-anchor="middle" font-style="italic" fill="#111">Sec14l1</text>
<rect x="80" y="498.2" width="2.4" height="4.6" fill="#282973"/>
<text x="82.6" y="494.9" font-size="13.4" text-anchor="middle" font-style="italic" fill="#111">Galr2</text>
<rect x="172.1" y="498.2" width="17.8" height="4.6" fill="#282973"/>
<text x="182.55" y="494.9" font-size="13.4" text-anchor="middle" font-style="italic" fill="#111">Qrich2</text>
<rect x="230.1" y="498.2" width="28.8" height="4.6" fill="#282973"/>
<text x="253.55" y="494.9" font-size="13.4" text-anchor="middle" font-style="italic" fill="#111">Ube2o</text>
<rect x="316.1" y="498.2" width="11.7" height="4.6" fill="#282973"/>
<text x="336.55" y="494.9" font-size="13.4" text-anchor="middle" font-style="italic" fill="#111">St6galnac2</text>
<rect x="394" y="498.2" width="4.8" height="4.6" fill="#282973"/>
<text x="412" y="494.9" font-size="13.4" text-anchor="middle" font-style="italic" fill="#111">Jmjd6</text>
<rect x="614.1" y="498.2" width="39.4" height="4.6" fill="#282973"/>
<text x="609.05" y="494.9" font-size="13.4" text-anchor="middle" font-style="italic" fill="#111">Septin9</text>
<line x1="131.4" y1="508.2" x2="131.4" y2="513.3" stroke="#333" stroke-width="1"/>
<text x="131.4" y="529.6" font-size="16.7" text-anchor="middle" fill="#222">101.6</text>
<line x1="250.6" y1="508.2" x2="250.6" y2="513.3" stroke="#333" stroke-width="1"/>
<text x="250.6" y="529.6" font-size="16.7" text-anchor="middle" fill="#222">101.8</text>
<line x1="369.9" y1="508.2" x2="369.9" y2="513.3" stroke="#333" stroke-width="1"/>
<text x="369.9" y="529.6" font-size="16.7" text-anchor="middle" fill="#222">102</text>
<line x1="489.1" y1="508.2" x2="489.1" y2="513.3" stroke="#333" stroke-width="1"/>
<text x="489.1" y="529.6" font-size="16.7" text-anchor="middle" fill="#222">102.2</text>
<line x1="608.3" y1="508.2" x2="608.3" y2="513.3" stroke="#333" stroke-width="1"/>
<text x="608.3" y="529.6" font-size="16.7" text-anchor="middle" fill="#222">102.4</text>
<text x="370.5" y="555.8" font-size="20" text-anchor="middle" fill="#222">Position on chr10 (Mb)</text>
</g>
<g id="panelB" stroke-linejoin="round">
<text transform="translate(679.54 34.9) scale(0.9487 1.0041)" font-size="49" font-weight="bold">B</text>
<rect x="678" y="116" width="710" height="336.6" fill="#fafbfd"/>
<rect x="678" y="116" width="710" height="18.6" fill="#ebebeb"/>
<line x1="678" y1="134.9" x2="1388" y2="134.9" stroke="#5a5a5a" stroke-width="1.6"/>
<rect x="684.5" y="119" width="101.5" height="9.8" rx="1.6" fill="#fff"/>
<rect x="777" y="119.6" width="8.2" height="8.4" rx="1.6" fill="#2f7fd6"/>
<path d="M779.4 122.9l1.7-1.5 1.7 1.5M779.4 124.8l1.7 1.5 1.7-1.5" stroke="#fff" stroke-width="0.7" fill="none"/>
<text x="688.8" y="125.6" font-size="5.2" fill="#111">Rat (rn7)</text>
<rect x="795" y="119" width="101" height="9.8" rx="1.6" fill="#fff"/>
<rect x="887.2" y="119.6" width="8.2" height="8.4" rx="1.6" fill="#2f7fd6"/>
<path d="M889.6 122.9l1.7-1.5 1.7 1.5M889.6 124.8l1.7 1.5 1.7-1.5" stroke="#fff" stroke-width="0.7" fill="none"/>
<text x="800.5" y="125.6" font-size="5.2" fill="#111">chr10</text>
<rect x="903.7" y="117" width="114.2" height="14" fill="#fff"/>
<text x="904.8" y="125.6" font-size="5.2" fill="#111" textLength="79.5" lengthAdjust="spacingAndGlyphs">chr10:101,966,731-101,989,315</text>
<text x="1020.6" y="126.2" font-size="5.4" fill="#222">Go</text>
<line x1="1029.5" y1="116.2" x2="1029.5" y2="134" stroke="#c4c4c4" stroke-width="0.9"/>
<g>
<path d="M1037.4 123l5.6-3.2 5.4 3.2v0.8h-11z" fill="#6a6ab4"/><rect x="1038.8" y="123.4" width="8.2" height="4.8" fill="#a3a3d8" stroke="#5e5ea8" stroke-width="0.6"/><rect x="1041.4" y="120.2" width="3.4" height="1.6" fill="#5e5ea8"/>
<path d="M1057.2 124.2l4.6-2.6v5.2z" fill="#222"/>
<path d="M1077.8 124.2l-4.6-2.6v5.2z" fill="#777"/>
<g fill="none" stroke="#3d3d96" stroke-width="2.2"><path d="M1087.2 124.6c0.4-3.4 5-4.6 8.2-2.4"/><path d="M1096.6 123.6c-0.4 3.4-5 4.6-8.2 2.4"/></g><g fill="none" stroke="#a9b0e6" stroke-width="1"><path d="M1087.2 124.6c0.4-3.4 5-4.6 8.2-2.4"/><path d="M1096.6 123.6c-0.4 3.4-5 4.6-8.2 2.4"/></g><path d="M1093.6 119.4l3.2 2.4-3.4 1.6zM1090.2 128.8l-3.2-2.4 3.4-1.6z" fill="#3d3d96"/>
<rect x="1104.6" y="120.4" width="7.9" height="8" rx="0.8" fill="#fff" stroke="#222" stroke-width="0.9"/><rect x="1106.4" y="121" width="4.2" height="6.8" fill="#d6d3ee"/><rect x="1106.4" y="120.9" width="4.2" height="1.5" fill="#e01b24"/><path d="M1107.6 122.6v5M1109.4 122.6v5" stroke="#e7a0b0" stroke-width="0.5"/>
<path d="M1122.2 121.2l6.6 6.8M1128.8 121.2l-6.6 6.8" stroke="#111" stroke-width="0.9"/><rect x="1124.3" y="123.4" width="2.4" height="2.4" fill="#ebebeb" stroke="#111" stroke-width="0.6"/>
<path d="M1137.2 121.6h8.6v5h-5.6l-1.6 1.9v-1.9h-1.4z" fill="#f1eaa0" stroke="#c9bd62" stroke-width="0.6"/>
<line x1="1157.4" y1="120.4" x2="1157.4" y2="128" stroke="#666" stroke-width="0.7"/>
<rect x="1279.2" y="119.8" width="8.4" height="8.8" rx="0.6" fill="#fff" stroke="#222" stroke-width="0.8"/><path d="M1281.2 124.4h4.4" stroke="#333" stroke-width="0.6"/>
<rect x="1290.4" y="120.6" width="6" height="7" fill="#f6f6f6"/><rect x="1296.4" y="120.4" width="73.6" height="7.4" fill="#cfdbf3"/>
<path d="M1291.3 121v6.2M1294.83 121v6.2M1298.36 121v6.2M1301.89 121v6.2M1305.42 121v6.2M1308.95 121v6.2M1312.48 121v6.2M1316.01 121v6.2M1319.54 121v6.2M1323.07 121v6.2M1326.6 121v6.2M1330.13 121v6.2M1333.66 121v6.2M1337.19 121v6.2M1340.72 121v6.2M1344.25 121v6.2M1347.78 121v6.2M1351.31 121v6.2M1354.84 121v6.2M1358.37 121v6.2M1361.9 121v6.2M1365.43 121v6.2M1368.96 121v6.2" stroke="#2b3560" stroke-width="0.75"/>
<rect x="1336" y="120.2" width="2.8" height="8" fill="#2d4fb0"/>
<rect x="1373.4" y="119.8" width="8.4" height="8.8" rx="0.6" fill="#fff" stroke="#222" stroke-width="0.8"/><path d="M1375.4 124.4h4.4M1377.6 122.2v4.4" stroke="#111" stroke-width="0.7"/>
<path d="M1383.4 119.8h2.2v8.8h-2.2" fill="none" stroke="#333" stroke-width="0.6"/><rect x="1383.2" y="124" width="0.8" height="0.8" fill="#333"/>
</g>
<line x1="761.6" y1="135.6" x2="761.6" y2="452.6" stroke="#cfcfcf" stroke-width="0.7"/>
<line x1="764.4" y1="135.6" x2="764.4" y2="452.6" stroke="#9a9a9a" stroke-width="0.7"/>
<rect x="764.6" y="143.3" width="623.2" height="5.2" fill="#fff"/>
<line x1="764.6" y1="143.3" x2="1388" y2="143.3" stroke="#666" stroke-width="0.8"/>
<line x1="764.6" y1="148.6" x2="1388" y2="148.6" stroke="#aaa" stroke-width="0.7"/>
<line x1="764.8" y1="143.3" x2="764.8" y2="148.6" stroke="#333" stroke-width="0.9"/>
<line x1="1387.6" y1="143.3" x2="1387.6" y2="148.6" stroke="#888" stroke-width="0.6"/>
<rect x="1351.2" y="142.3" width="2.8" height="7.6" fill="#f0141e"/>
<line x1="770" y1="175.2" x2="1060.5" y2="175.2" stroke="#dcdcdc" stroke-width="1.1"/>
<line x1="1086.5" y1="175.2" x2="1379" y2="175.2" stroke="#dcdcdc" stroke-width="1.1"/>
<path d="M765.8 175.2l3-1.2v2.4z" fill="#000"/><rect x="768" y="174.4" width="2.4" height="1.6" fill="#000"/>
<path d="M1387.2 175.2l-3-1.2v2.4z" fill="#000"/><rect x="1378.2" y="174.4" width="3" height="1.6" fill="#000"/><rect x="1382.2" y="174.4" width="2.4" height="1.6" fill="#000"/>
<text x="1073.5" y="177.4" font-size="5.6" font-weight="bold" text-anchor="middle" fill="#111">22 kb</text>
<line x1="771.5" y1="190.4" x2="771.5" y2="194.8" stroke="#777" stroke-width="0.6"/>
<line x1="798.94" y1="190.4" x2="798.94" y2="194.8" stroke="#333" stroke-width="0.6"/>
<text x="798.94" y="187.9" font-size="5.4" text-anchor="middle" fill="#111">101,968 kb</text>
<line x1="826.38" y1="190.4" x2="826.38" y2="194.8" stroke="#333" stroke-width="0.6"/>
<line x1="853.82" y1="190.4" x2="853.82" y2="194.8" stroke="#777" stroke-width="0.6"/>
<text x="853.82" y="187.9" font-size="5.4" text-anchor="middle" fill="#111">101,970 kb</text>
<line x1="881.26" y1="190.4" x2="881.26" y2="194.8" stroke="#333" stroke-width="0.6"/>
<line x1="908.7" y1="190.4" x2="908.7" y2="194.8" stroke="#333" stroke-width="0.6"/>
<text x="908.7" y="187.9" font-size="5.4" text-anchor="middle" fill="#111">101,972 kb</text>
<line x1="936.14" y1="190.4" x2="936.14" y2="194.8" stroke="#777" stroke-width="0.6"/>
<line x1="963.58" y1="190.4" x2="963.58" y2="194.8" stroke="#333" stroke-width="0.6"/>
<text x="963.58" y="187.9" font-size="5.4" text-anchor="middle" fill="#111">101,974 kb</text>
<line x1="991.02" y1="190.4" x2="991.02" y2="194.8" stroke="#333" stroke-width="0.6"/>
<line x1="1018.46" y1="190.4" x2="1018.46" y2="194.8" stroke="#777" stroke-width="0.6"/>
<text x="1018.46" y="187.9" font-size="5.4" text-anchor="middle" fill="#111">101,976 kb</text>
<line x1="1045.9" y1="190.4" x2="1045.9" y2="194.8" stroke="#333" stroke-width="0.6"/>
<line x1="1073.34" y1="190.4" x2="1073.34" y2="194.8" stroke="#333" stroke-width="0.6"/>
<text x="1073.34" y="187.9" font-size="5.4" text-anchor="middle" fill="#111">101,978 kb</text>
<line x1="1100.78" y1="190.4" x2="1100.78" y2="194.8" stroke="#777" stroke-width="0.6"/>
<line x1="1128.22" y1="190.4" x2="1128.22" y2="194.8" stroke="#333" stroke-width="0.6"/>
<text x="1128.22" y="187.9" font-size="5.4" text-anchor="middle" fill="#111">101,980 kb</text>
<line x1="1155.66" y1="190.4" x2="1155.66" y2="194.8" stroke="#333" stroke-width="0.6"/>
<line x1="1183.1" y1="190.4" x2="1183.1" y2="194.8" stroke="#777" stroke-width="0.6"/>
<text x="1183.1" y="187.9" font-size="5.4" text-anchor="middle" fill="#111">101,982 kb</text>
<line x1="1210.54" y1="190.4" x2="1210.54" y2="194.8" stroke="#333" stroke-width="0.6"/>
<line x1="1237.98" y1="190.4" x2="1237.98" y2="194.8" stroke="#333" stroke-width="0.6"/>
<text x="1237.98" y="187.9" font-size="5.4" text-anchor="middle" fill="#111">101,984 kb</text>
<line x1="1265.42" y1="190.4" x2="1265.42" y2="194.8" stroke="#777" stroke-width="0.6"/>
<line x1="1292.86" y1="190.4" x2="1292.86" y2="194.8" stroke="#333" stroke-width="0.6"/>
<text x="1292.86" y="187.9" font-size="5.4" text-anchor="middle" fill="#111">101,986 kb</text>
<line x1="1320.3" y1="190.4" x2="1320.3" y2="194.8" stroke="#333" stroke-width="0.6"/>
<line x1="1347.74" y1="190.4" x2="1347.74" y2="194.8" stroke="#777" stroke-width="0.6"/>
<text x="1347.74" y="187.9" font-size="5.4" text-anchor="middle" fill="#111">101,988 kb</text>
<line x1="1375.18" y1="190.4" x2="1375.18" y2="194.8" stroke="#333" stroke-width="0.6"/>
<line x1="764.6" y1="195.4" x2="1388" y2="195.4" stroke="#cfcfcf" stroke-width="0.8"/>
<line x1="678" y1="201.5" x2="1388" y2="201.5" stroke="#3a3a3a" stroke-width="0.9"/>
<line x1="678" y1="204.1" x2="1388" y2="204.1" stroke="#dedede" stroke-width="0.7"/>
<line x1="678" y1="206.9" x2="1388" y2="206.9" stroke="#c9c9c9" stroke-width="0.9"/>
<line x1="678" y1="208.6" x2="1388" y2="208.6" stroke="#d0d0d0" stroke-width="0.6"/>
<text x="679" y="219.6" font-size="5.15" fill="#111">ACI.bam Coverage</text>
<path d="M764.9 227.4L764.9 218.41L765.9 217.16L766.9 214.11L767.9 216.03L768.9 213.83L769.9 211.77L770.9 209.28L771.9 212.93L772.9 215.18L773.9 213.86L774.9 216.76L775.9 214.37L776.9 215.02L777.9 214.75L778.9 214.64L779.9 216.33L780.9 216.48L781.9 220.22L782.9 218.49L783.9 219L784.9 217.82L785.9 219.61L786.9 216.86L787.9 215.78L788.9 218.58L789.9 217.13L790.9 215.76L791.9 214.31L792.9 216.57L793.9 216.91L794.9 216.77L795.9 215.53L796.91 215.12L797.91 216.54L798.91 216.6L799.91 216.46L800.91 216.6L801.91 216.01L802.91 216.9L803.91 215.07L804.91 214.07L805.91 216.85L806.91 216.36L807.91 218.74L808.91 217.95L809.91 216.68L810.91 215.45L811.91 214.49L812.91 213.08L813.91 214.55L814.91 215.68L815.91 221.45L816.91 220.62L817.91 216.85L818.91 214.85L819.91 213.62L820.91 214.04L821.91 213.18L822.91 216.84L823.91 217.27L824.91 217.8L825.91 216.01L826.91 216.62L827.91 216.54L828.91 215.78L829.91 215.73L830.91 219.83L831.91 216.57L832.91 215.88L833.91 212.51L834.91 212.06L835.91 211.79L836.91 213.31L837.91 216.09L838.91 216.48L839.91 218.9L840.91 219.37L841.91 217.74L842.91 216.94L843.91 215.14L844.91 217.31L845.91 214.06L846.91 216.63L847.91 216.89L848.91 218.07L849.91 215.87L850.91 215.05L851.91 215.16L852.91 215.57L853.91 214.83L854.91 214.47L855.91 215.9L856.91 214.44L857.91 213.37L858.92 215.68L859.92 217.05L860.92 217.53L861.92 215.33L862.92 215.05L863.92 213.58L864.92 213.82L865.92 215.91L866.92 215.95L867.92 216.58L868.92 217.72L869.92 216.7L870.92 215.98L871.92 215.67L872.92 217.87L873.92 215L874.92 216.39L875.92 215.35L876.92 214.04L877.92 216.21L878.92 216L879.92 214.48L880.92 217.67L881.92 218.63L882.92 217.36L883.92 216.55L884.92 219.22L885.92 216.63L886.92 214.87L887.92 213.3L888.92 213.48L889.92 211.28L890.92 209.28L891.92 212.28L892.92 212.83L893.92 215.51L894.92 216.19L895.92 216.01L896.92 218.6L897.92 215.84L898.92 215.83L899.92 218.88L900.92 215.27L901.92 216.82L902.92 214.84L903.92 215.09L904.92 216.97L905.92 215.77L906.92 215.54L907.92 214.66L908.92 216.33L909.92 214.02L910.92 212.74L911.92 213.9L912.92 213.22L913.92 213.58L914.92 211L915.92 213.03L916.92 213.2L917.92 214.27L918.92 214.83L919.92 216.38L920.93 214.83L921.93 215.84L922.93 218.45L923.93 216.81L924.93 218.16L925.93 220.6L926.93 218.14L927.93 220.26L928.93 218.79L929.93 216.59L930.93 217.84L931.93 218.79L932.93 220.83L933.93 219.77L934.93 218.54L935.93 217.28L936.93 215.48L937.93 214.63L938.93 216.01L939.93 218.29L940.93 217.78L941.93 218.09L942.93 218.52L943.93 218.19L944.93 216.5L945.93 218.23L946.93 215.23L947.93 216.32L948.93 214.84L949.93 216.79L950.93 217.3L951.93 216.8L952.93 215.77L953.93 213.96L954.93 216.31L955.93 215.27L956.93 218.73L957.93 217.81L958.93 218.09L959.93 217.7L960.93 216.43L961.93 217.8L962.93 220.95L963.93 220.63L964.93 219.49L965.93 217.99L966.93 217.21L967.93 216.95L968.93 217.02L969.93 218.25L970.93 216.93L971.93 217.28L972.93 216.79L973.93 217.38L974.93 219.46L975.93 219.74L976.93 218.24L977.93 221.45L978.93 218.9L979.93 218.87L980.93 218.94L981.93 220.37L982.93 219.1L983.94 218.35L984.94 218.54L985.94 217.67L986.94 219.11L987.94 219.6L988.94 216.62L989.94 217.06L990.94 216.64L991.94 216.2L992.94 218.86L993.94 216.94L994.94 218.23L995.94 219.74L996.94 219.49L997.94 219.58L998.94 220.42L999.94 218.42L1000.94 219.45L1001.94 216.99L1002.94 216.64L1003.94 217.56L1004.94 217.29L1005.94 215.58L1006.94 215.56L1007.94 218.06L1008.94 216.13L1009.94 217.22L1010.94 219.79L1011.94 218.79L1012.94 219.39L1013.94 220.1L1014.94 218.03L1015.94 216.22L1016.94 218.05L1017.94 215.3L1018.94 215.2L1019.94 216.5L1020.94 214.51L1021.94 216.11L1022.94 215.57L1023.94 216.18L1024.94 215.93L1025.94 217.22L1026.94 215.23L1027.94 214.48L1028.94 214.45L1029.94 215.8L1030.94 214.43L1031.94 215.33L1032.94 216.62L1033.94 216.78L1034.94 216.57L1035.94 215.56L1036.94 215.14L1037.94 213.34L1038.94 213.79L1039.94 215.57L1040.94 217.18L1041.94 216.69L1042.94 218.3L1043.94 218.06L1044.94 215.63L1045.95 215.58L1046.95 215.04L1047.95 212.43L1048.95 213.11L1049.95 214.43L1050.95 214.2L1051.95 213.41L1052.95 212.95L1053.95 215.15L1054.95 216.79L1055.95 216.87L1056.95 214.13L1057.95 215.84L1058.95 214.04L1059.95 215.12L1060.95 215.17L1061.95 215.41L1062.95 215.51L1063.95 217.33L1064.95 218.79L1065.95 217.76L1066.95 216.81L1067.95 214.9L1068.95 216.33L1069.95 216.29L1070.95 214.55L1071.95 215.07L1072.95 214.37L1073.95 217.13L1074.95 216.18L1075.95 216.54L1076.95 218.23L1077.95 215.25L1078.95 219.5L1079.95 218.76L1080.95 215.88L1081.95 215.52L1082.95 212.35L1083.95 215.37L1084.95 218.21L1085.95 220.49L1086.95 219.03L1087.95 221.12L1088.95 219.69L1089.95 219.85L1090.95 217.13L1091.95 218.44L1092.95 218.74L1093.95 218.8L1094.95 216.91L1095.95 216.57L1096.95 216.6L1097.95 216.51L1098.95 215.36L1099.95 215.32L1100.95 217.7L1101.95 218.64L1102.95 217.32L1103.95 215.88L1104.95 215.83L1105.95 216.57L1106.95 216.75L1107.96 214.21L1108.96 212.96L1109.96 215.17L1110.96 212.35L1111.96 214.18L1112.96 212.99L1113.96 212.54L1114.96 212.43L1115.96 215.71L1116.96 215.25L1117.96 214.67L1118.96 213.96L1119.96 217.97L1120.96 218.08L1121.96 216.9L1122.96 218.68L1123.96 216.75L1124.96 216.04L1125.96 215.44L1126.96 215.2L1127.96 218.63L1128.96 216.27L1129.96 216L1130.96 215.34L1131.96 215.76L1132.96 213.79L1133.96 215.22L1134.96 215.38L1135.96 216.41L1136.96 214.75L1137.96 216.15L1138.96 217.24L1139.96 217.91L1140.96 215.34L1141.96 215.2L1142.96 214.25L1143.96 215.56L1144.96 215.33L1145.96 216.77L1146.96 214.87L1147.96 217.54L1148.96 216.06L1149.96 214.88L1150.96 215.07L1151.96 217.09L1152.96 215.89L1153.96 212.99L1154.96 213.03L1155.96 212.85L1156.96 213.54L1157.96 215.77L1158.96 213.86L1159.96 214.19L1160.96 215.38L1161.96 216L1162.96 217.84L1163.96 217.4L1164.96 215.73L1165.96 219.52L1166.96 217.68L1167.96 218.55L1168.96 217.84L1169.97 214.95L1170.97 215.68L1171.97 215.61L1172.97 215.49L1173.97 215.22L1174.97 216.97L1175.97 220.6L1176.97 219.59L1177.97 216.38L1178.97 218.4L1179.97 216.67L1180.97 216.71L1181.97 214.91L1182.97 215.42L1183.97 214.54L1184.97 215.26L1185.97 216.14L1186.97 215.79L1187.97 215.77L1188.97 214.07L1189.97 217.72L1190.97 219.07L1191.97 214.69L1192.97 216.56L1193.97 213.08L1194.97 215.63L1195.97 213.84L1196.97 214.32L1197.97 213.57L1198.97 215.83L1199.97 217.21L1200.97 216.82L1201.97 216.47L1202.97 219.53L1203.97 217.51L1204.97 216.99L1205.97 217.13L1206.97 212.34L1207.97 211.09L1208.97 211.05L1209.97 214.54L1210.97 214.58L1211.97 216.12L1212.97 215.12L1213.97 217.11L1214.97 215.72L1215.97 214.94L1216.97 216.18L1217.97 214.14L1218.97 214.67L1219.97 217.02L1220.97 217.4L1221.97 217.67L1222.97 219.23L1223.97 218.85L1224.97 216.52L1225.97 218.98L1226.97 218.67L1227.97 220.08L1228.97 219.73L1229.97 220.06L1230.97 217.47L1231.97 218.43L1232.98 218.45L1233.98 215.58L1234.98 214.49L1235.98 210.85L1236.98 211.24L1237.98 212.99L1238.98 212.37L1239.98 214.74L1240.98 216.42L1241.98 219.15L1242.98 217.34L1243.98 217.93L1244.98 215.02L1245.98 215.39L1246.98 217.76L1247.98 215.49L1248.98 218.06L1249.98 218.21L1250.98 215.74L1251.98 217.24L1252.98 216.35L1253.98 215.84L1254.98 217.61L1255.98 214.6L1256.98 215.9L1257.98 215.39L1258.98 215.77L1259.98 214.35L1260.98 214.98L1261.98 217.32L1262.98 218.64L1263.98 218.5L1264.98 218.66L1265.98 220.46L1266.98 220.34L1267.98 218.26L1268.98 218.64L1269.98 217.66L1270.98 217.67L1271.98 218.07L1272.98 219.07L1273.98 219L1274.98 217.6L1275.98 216.57L1276.98 215.86L1277.98 215.33L1278.98 216.69L1279.98 215.57L1280.98 218.34L1281.98 218.34L1282.98 217.43L1283.98 218.36L1284.98 220.33L1285.98 220.62L1286.98 218.65L1287.98 221L1288.98 219.99L1289.98 217.96L1290.98 217.33L1291.98 218.07L1292.98 217.87L1293.98 216.77L1294.99 214.15L1295.99 214.72L1296.99 213.55L1297.99 215.01L1298.99 215.05L1299.99 218.13L1300.99 217.21L1301.99 217.46L1302.99 216.37L1303.99 217.16L1304.99 218.66L1305.99 216.91L1306.99 218.63L1307.99 218.72L1308.99 217.29L1309.99 213.61L1310.99 213.35L1311.99 212.02L1312.99 213.99L1313.99 213.74L1314.99 214.27L1315.99 214.52L1316.99 213.36L1317.99 214.12L1318.99 216.55L1319.99 217.34L1320.99 214.68L1321.99 214.18L1322.99 214.83L1323.99 214.21L1324.99 215.79L1325.99 217.34L1326.99 218.28L1327.99 219.37L1328.99 217.61L1329.99 216.52L1330.99 216.33L1331.99 217.77L1332.99 216.65L1333.99 215.3L1334.99 215.32L1335.99 216.71L1336.99 218.01L1337.99 218.24L1338.99 218.78L1339.99 218L1340.99 215.44L1341.99 214.57L1342.99 216.46L1343.99 217.22L1344.99 217.06L1345.99 216.32L1346.99 214.69L1347.99 216.15L1348.99 214.48L1349.99 217.6L1350.99 217.85L1351.99 217.93L1352.99 219.17L1353.99 216.91L1354.99 216.34L1355.99 215.3L1357 216.68L1358 219.02L1359 217.24L1360 217.8L1361 218.5L1362 219.72L1363 217.62L1364 216.34L1365 218.77L1366 216.9L1367 218.2L1368 217.89L1369 215.75L1370 214.78L1371 215.2L1372 217.25L1373 215.01L1374 218.15L1375 217.33L1376 215.62L1377 217.41L1378 217.62L1379 215.18L1380 215.24L1381 217.62L1382 217.43L1383 217.91L1384 218.29L1385 217.67L1386 214.82L1387 218.25L1388 217.82L1388 227.4Z" fill="#b1b1b1"/>
<text x="766.9" y="212.7" font-size="3.9" fill="#222">[0 - 15]</text>
<line x1="764.6" y1="227.6" x2="1388" y2="227.6" stroke="#a0a0a0" stroke-width="0.5"/>
<line x1="678" y1="232" x2="1388" y2="232" stroke="#c9c9c9" stroke-width="0.9"/>
<line x1="678" y1="233.7" x2="1388" y2="233.7" stroke="#d0d0d0" stroke-width="0.6"/>
<text x="679" y="246.6" font-size="5.15" fill="#111">BN.bam Coverage</text>
<path d="M764.9 254.3L764.9 242.27L765.9 243.18L766.9 243.14L767.9 243.97L768.9 242.61L769.9 241.95L770.9 238.92L771.9 242.91L772.9 240.25L773.9 242.83L774.9 242.45L775.9 242.6L776.9 239.23L777.9 242.7L778.9 241.5L779.9 242.09L780.9 243.98L781.9 244.53L782.9 242.1L783.9 243.04L784.9 243.42L785.9 242.89L786.9 245.88L787.9 243.2L788.9 242.76L789.9 245.09L790.9 244.38L791.9 242.53L792.9 245.15L793.9 243.41L794.9 245.83L795.9 243.37L796.91 244.52L797.91 243.12L798.91 243.31L799.91 240.94L800.91 241.09L801.91 242.55L802.91 242.31L803.91 243.84L804.91 243.03L805.91 245.93L806.91 245.48L807.91 245.25L808.91 245.97L809.91 247.28L810.91 246.51L811.91 244.35L812.91 245.8L813.91 243.19L814.91 243.8L815.91 241.58L816.91 242.68L817.91 243.84L818.91 245.93L819.91 247.2L820.91 245.09L821.91 244.27L822.91 243.07L823.91 245.45L824.91 245.13L825.91 241.74L826.91 242.62L827.91 243.56L828.91 243.22L829.91 246.27L830.91 245.36L831.91 244.39L832.91 244.17L833.91 245.48L834.91 245.34L835.91 242.75L836.91 241.07L837.91 244.12L838.91 244.69L839.91 244.43L840.91 240.76L841.91 241.51L842.91 241.11L843.91 238.98L844.91 240.55L845.91 241.98L846.91 240.4L847.91 243.39L848.91 244.22L849.91 239.34L850.91 238.26L851.91 235.62L852.91 234.4L853.91 234.4L854.91 234.4L855.91 239.08L856.91 237.35L857.91 239.55L858.92 239.63L859.92 242.83L860.92 243.39L861.92 243.66L862.92 242.97L863.92 240.95L864.92 240.62L865.92 243.52L866.92 245.06L867.92 244.48L868.92 246.49L869.92 244.84L870.92 242.57L871.92 241.44L872.92 239.99L873.92 242.7L874.92 245.24L875.92 246.71L876.92 245.6L877.92 246.18L878.92 243.73L879.92 242.88L880.92 238.8L881.92 237.37L882.92 238.24L883.92 239.06L884.92 241.03L885.92 242.74L886.92 244.03L887.92 245.83L888.92 243.02L889.92 244.33L890.92 246.06L891.92 242.55L892.92 243.74L893.92 243.39L894.92 244.94L895.92 247.02L896.92 244.32L897.92 246.72L898.92 244.97L899.92 241.48L900.92 245.92L901.92 245.32L902.92 246.31L903.92 247.05L904.92 244.13L905.92 245.98L906.92 247.36L907.92 245.27L908.92 246.91L909.92 243.91L910.92 243.09L911.92 242.77L912.92 246.35L913.92 243.96L914.92 245.58L915.92 244.62L916.92 245.03L917.92 244.7L918.92 245.37L919.92 243.37L920.93 245.51L921.93 242.35L922.93 246.41L923.93 243.07L924.93 246.72L925.93 247.69L926.93 245.57L927.93 244.62L928.93 241.85L929.93 241.09L930.93 240.56L931.93 242.71L932.93 240.29L933.93 241.38L934.93 240.01L935.93 244.29L936.93 243.72L937.93 240.96L938.93 239.64L939.93 241.42L940.93 240.01L941.93 240.36L942.93 240.91L943.93 240.47L944.93 239.79L945.93 243.22L946.93 243.25L947.93 242.64L948.93 244.39L949.93 243.35L950.93 244.05L951.93 242.67L952.93 240.52L953.93 239.17L954.93 238.72L955.93 241.15L956.93 242.77L957.93 241.94L958.93 243.45L959.93 241.44L960.93 239.58L961.93 238.99L962.93 240.01L963.93 240.11L964.93 240.3L965.93 241.84L966.93 241.52L967.93 243.49L968.93 241.95L969.93 244.09L970.93 245.18L971.93 244.68L972.93 245.46L973.93 241.88L974.93 241.02L975.93 243.27L976.93 242.51L977.93 245.03L978.93 244.62L979.93 243.96L980.93 243.47L981.93 242.38L982.93 242.8L983.94 243.01L984.94 244.79L985.94 241.39L986.94 241.82L987.94 243.25L988.94 243.78L989.94 245.09L990.94 244.63L991.94 242.45L992.94 240.04L993.94 240.29L994.94 240L995.94 243.42L996.94 240.44L997.94 240.62L998.94 241.45L999.94 240.48L1000.94 243.97L1001.94 241.5L1002.94 240.16L1003.94 242.43L1004.94 239.67L1005.94 238.8L1006.94 241.98L1007.94 240.26L1008.94 240.3L1009.94 242.44L1010.94 243.21L1011.94 244.38L1012.94 241.44L1013.94 242.61L1014.94 242.47L1015.94 241.39L1016.94 238.88L1017.94 239.4L1018.94 240.19L1019.94 236.29L1020.94 240.2L1021.94 241.31L1022.94 240.31L1023.94 243.29L1024.94 244.15L1025.94 241.01L1026.94 244.39L1027.94 245.28L1028.94 243.2L1029.94 246.21L1030.94 243.67L1031.94 246.07L1032.94 245.54L1033.94 245.24L1034.94 243.28L1035.94 244.09L1036.94 245.63L1037.94 246.08L1038.94 246.05L1039.94 243.01L1040.94 241.75L1041.94 242.08L1042.94 241.4L1043.94 244.01L1044.94 243.68L1045.95 244.25L1046.95 244.84L1047.95 240.93L1048.95 240.55L1049.95 239.87L1050.95 241.08L1051.95 242.63L1052.95 241.15L1053.95 242.8L1054.95 239.55L1055.95 242.28L1056.95 242.45L1057.95 240.06L1058.95 243.32L1059.95 241.3L1060.95 244.64L1061.95 244.1L1062.95 246.29L1063.95 243.05L1064.95 245.01L1065.95 244.39L1066.95 242.31L1067.95 241.72L1068.95 243.53L1069.95 242.89L1070.95 239.93L1071.95 241.33L1072.95 237.12L1073.95 238.43L1074.95 237.12L1075.95 236.7L1076.95 237.78L1077.95 239.19L1078.95 240.51L1079.95 243.28L1080.95 243.16L1081.95 242.33L1082.95 240.54L1083.95 239.1L1084.95 240.21L1085.95 238.62L1086.95 240.9L1087.95 243.75L1088.95 244.28L1089.95 240.01L1090.95 239.94L1091.95 239.75L1092.95 237.93L1093.95 235.31L1094.95 235.91L1095.95 235L1096.95 237.45L1097.95 241.34L1098.95 241.38L1099.95 242.85L1100.95 243.26L1101.95 243.84L1102.95 244L1103.95 243.27L1104.95 244.73L1105.95 240.86L1106.95 243.67L1107.96 240.8L1108.96 243.73L1109.96 241.4L1110.96 242.82L1111.96 242.84L1112.96 240.25L1113.96 239.07L1114.96 239.05L1115.96 238.93L1116.96 239.58L1117.96 244.36L1118.96 244.11L1119.96 244.57L1120.96 241.33L1121.96 241.92L1122.96 240.65L1123.96 240.35L1124.96 239.44L1125.96 240.88L1126.96 240.22L1127.96 241.68L1128.96 243.27L1129.96 239.72L1130.96 242.65L1131.96 242.48L1132.96 239.29L1133.96 241.31L1134.96 239.14L1135.96 241.06L1136.96 239.7L1137.96 238.23L1138.96 241.51L1139.96 240.17L1140.96 238.82L1141.96 242.09L1142.96 240.49L1143.96 240.2L1144.96 240.57L1145.96 239.91L1146.96 239.94L1147.96 242.45L1148.96 241.5L1149.96 240.02L1150.96 238.18L1151.96 241.12L1152.96 240.18L1153.96 242.58L1154.96 240.24L1155.96 241.25L1156.96 240.32L1157.96 239.12L1158.96 242.06L1159.96 240.48L1160.96 240.99L1161.96 240.38L1162.96 242.34L1163.96 242.15L1164.96 242.84L1165.96 240.3L1166.96 242.56L1167.96 243.72L1168.96 244.17L1169.97 244.42L1170.97 244.82L1171.97 243.61L1172.97 240.75L1173.97 240.98L1174.97 243.19L1175.97 244.35L1176.97 240.43L1177.97 240.75L1178.97 240.81L1179.97 241.87L1180.97 239.94L1181.97 242.85L1182.97 243.57L1183.97 243.83L1184.97 242.62L1185.97 241.74L1186.97 242.81L1187.97 240.59L1188.97 241.95L1189.97 243.84L1190.97 244.15L1191.97 243.83L1192.97 243.2L1193.97 243.13L1194.97 243.45L1195.97 243.54L1196.97 242.12L1197.97 245.06L1198.97 243.05L1199.97 245.38L1200.97 242.84L1201.97 245.64L1202.97 243.67L1203.97 244.12L1204.97 243.32L1205.97 245.65L1206.97 244.34L1207.97 243.8L1208.97 241.01L1209.97 241.15L1210.97 243.67L1211.97 243.16L1212.97 243.65L1213.97 241.19L1214.97 243.79L1215.97 242.62L1216.97 243.01L1217.97 240.8L1218.97 240.1L1219.97 240.6L1220.97 243.21L1221.97 242.55L1222.97 243.45L1223.97 246.34L1224.97 242.17L1225.97 242.9L1226.97 241.83L1227.97 241.51L1228.97 241.16L1229.97 240.99L1230.97 238.7L1231.97 241.44L1232.98 243.52L1233.98 244.62L1234.98 241.96L1235.98 242.04L1236.98 242.03L1237.98 243.49L1238.98 245.55L1239.98 244.95L1240.98 244L1241.98 243.79L1242.98 240.6L1243.98 241.54L1244.98 242.78L1245.98 241.23L1246.98 241.88L1247.98 244.53L1248.98 240.76L1249.98 241.86L1250.98 237.77L1251.98 240.91L1252.98 240.04L1253.98 239.89L1254.98 238.19L1255.98 239.12L1256.98 240.84L1257.98 242.67L1258.98 241.64L1259.98 240.73L1260.98 242.86L1261.98 238.92L1262.98 238.78L1263.98 239.07L1264.98 240.66L1265.98 241.64L1266.98 240.16L1267.98 242.96L1268.98 242.76L1269.98 243.37L1270.98 243.02L1271.98 240.41L1272.98 242.88L1273.98 239.92L1274.98 240.97L1275.98 239.98L1276.98 241.4L1277.98 242.64L1278.98 242.05L1279.98 245.32L1280.98 244.46L1281.98 242.92L1282.98 241.54L1283.98 239.44L1284.98 238.79L1285.98 239.54L1286.98 238.97L1287.98 240.27L1288.98 242L1289.98 241.75L1290.98 239.88L1291.98 238.71L1292.98 239.59L1293.98 239.65L1294.99 238.6L1295.99 240.15L1296.99 238.29L1297.99 242.55L1298.99 240.66L1299.99 240.84L1300.99 241.53L1301.99 239.55L1302.99 240.36L1303.99 238.82L1304.99 239.56L1305.99 240.92L1306.99 239.93L1307.99 240.04L1308.99 243.64L1309.99 241.69L1310.99 242.37L1311.99 242.19L1312.99 243.56L1313.99 245.49L1314.99 245.13L1315.99 242.22L1316.99 242.9L1317.99 240.51L1318.99 241.06L1319.99 239.87L1320.99 242.23L1321.99 242.93L1322.99 240.99L1323.99 242.01L1324.99 243.2L1325.99 242.51L1326.99 243.12L1327.99 242.39L1328.99 243.01L1329.99 244.66L1330.99 242.58L1331.99 243.68L1332.99 243.33L1333.99 244.4L1334.99 243.88L1335.99 241.79L1336.99 241.49L1337.99 242.24L1338.99 244.14L1339.99 242.23L1340.99 243.15L1341.99 244.01L1342.99 243.39L1343.99 244.2L1344.99 242.56L1345.99 241.31L1346.99 239.54L1347.99 243.23L1348.99 241.57L1349.99 240.25L1350.99 240.86L1351.99 240.63L1352.99 238.98L1353.99 243.18L1354.99 241.02L1355.99 242.6L1357 242.48L1358 243.31L1359 241.8L1360 244.45L1361 243.51L1362 245.25L1363 242.59L1364 243.15L1365 244.53L1366 243.51L1367 245.11L1368 244.67L1369 246.49L1370 244.06L1371 244.8L1372 244.55L1373 247.01L1374 243.78L1375 246.03L1376 242.81L1377 242.13L1378 244.52L1379 243.73L1380 242.53L1381 243.37L1382 244.4L1383 242.18L1384 244.78L1385 243.35L1386 246.1L1387 247.24L1388 243.49L1388 254.3Z" fill="#b1b1b1"/>
<text x="766.9" y="237.8" font-size="3.9" fill="#222">[0 - 14]</text>
<line x1="764.6" y1="254.5" x2="1388" y2="254.5" stroke="#a0a0a0" stroke-width="0.5"/>
<line x1="678" y1="260.7" x2="1388" y2="260.7" stroke="#777" stroke-width="0.9"/>
<line x1="678" y1="262.4" x2="1388" y2="262.4" stroke="#d0d0d0" stroke-width="0.6"/>
<text x="679" y="275.1" font-size="5.15" fill="#111">BUF.bam Coverage</text>
<path d="M764.9 283.7L764.9 272.75L765.9 272.33L766.9 274.53L767.9 273.67L768.9 272.39L769.9 273.77L770.9 269.73L771.9 273.28L772.9 271.42L773.9 270.53L774.9 270.49L775.9 272.1L776.9 272.44L777.9 274.3L778.9 274.96L779.9 276.34L780.9 275.47L781.9 273.97L782.9 273.23L783.9 276.9L784.9 276.05L785.9 274.97L786.9 273.12L787.9 272.87L788.9 274.02L789.9 272.87L790.9 274.26L791.9 274.18L792.9 274.02L793.9 272.04L794.9 274.67L795.9 276.59L796.91 273.51L797.91 274.99L798.91 276.2L799.91 273.49L800.91 277.23L801.91 273.65L802.91 276.31L803.91 272.51L804.91 273.26L805.91 269.08L806.91 268.22L807.91 270.12L808.91 271.7L809.91 271.33L810.91 269.66L811.91 269.85L812.91 269.55L813.91 272L814.91 269.7L815.91 270.29L816.91 270.9L817.91 273.03L818.91 270.8L819.91 270.54L820.91 269.13L821.91 269.68L822.91 269.52L823.91 269.21L824.91 269.11L825.91 270.12L826.91 271.69L827.91 274.23L828.91 272.63L829.91 273.96L830.91 272.43L831.91 273.52L832.91 270.5L833.91 272.93L834.91 271.92L835.91 273L836.91 271.99L837.91 274.53L838.91 272.55L839.91 274.43L840.91 270.37L841.91 273.26L842.91 271.17L843.91 271.66L844.91 270.71L845.91 270.46L846.91 270.9L847.91 270.17L848.91 270.03L849.91 270.73L850.91 268.02L851.91 271.19L852.91 268.33L853.91 269.36L854.91 268.38L855.91 270.9L856.91 271.56L857.91 269.78L858.92 270.32L859.92 272.35L860.92 271.83L861.92 271.95L862.92 272.73L863.92 274.76L864.92 274.61L865.92 273.01L866.92 273.33L867.92 272.32L868.92 274.06L869.92 275.43L870.92 272.48L871.92 273.37L872.92 271.77L873.92 274.2L874.92 271.71L875.92 275.17L876.92 272.93L877.92 273.9L878.92 269.87L879.92 271.16L880.92 274.31L881.92 274.52L882.92 273.29L883.92 274.41L884.92 273.59L885.92 273.26L886.92 275.34L887.92 277.11L888.92 273.98L889.92 274.71L890.92 270.62L891.92 274.04L892.92 274.94L893.92 273.64L894.92 272.99L895.92 273.41L896.92 274.87L897.92 274.32L898.92 272.63L899.92 270.5L900.92 270.38L901.92 272.74L902.92 271.39L903.92 271.03L904.92 271.14L905.92 269.84L906.92 269.07L907.92 269.05L908.92 271.44L909.92 270.41L910.92 270.09L911.92 268.7L912.92 269.45L913.92 268.69L914.92 268.19L915.92 265.05L916.92 264.47L917.92 266.35L918.92 267.88L919.92 268.35L920.93 266.41L921.93 269.42L922.93 272.21L923.93 272.92L924.93 269.98L925.93 270.68L926.93 268.82L927.93 271.16L928.93 272.85L929.93 271.47L930.93 273.67L931.93 271.91L932.93 274.21L933.93 271.94L934.93 276.36L935.93 277.23L936.93 274.65L937.93 272.36L938.93 270.72L939.93 268.4L940.93 268.76L941.93 271.36L942.93 268.11L943.93 268.23L944.93 271.18L945.93 270.1L946.93 271.11L947.93 269.66L948.93 271.25L949.93 272.75L950.93 270.5L951.93 270.88L952.93 269.75L953.93 266.59L954.93 267.71L955.93 268.78L956.93 268.49L957.93 269.05L958.93 271.78L959.93 271.86L960.93 273.9L961.93 270.27L962.93 273.78L963.93 271.37L964.93 271.58L965.93 273.02L966.93 271.79L967.93 273.58L968.93 270.3L969.93 270.17L970.93 272.3L971.93 272.64L972.93 272.8L973.93 274.3L974.93 273.8L975.93 272.62L976.93 276.53L977.93 276.36L978.93 274.5L979.93 274.67L980.93 271.63L981.93 270.47L982.93 270.42L983.94 272L984.94 270.93L985.94 272.75L986.94 271.58L987.94 272.28L988.94 271L989.94 268.96L990.94 268.67L991.94 266.03L992.94 270.25L993.94 269.17L994.94 270.02L995.94 270.29L996.94 268.11L997.94 269.38L998.94 270.1L999.94 268.84L1000.94 269.49L1001.94 268.84L1002.94 269.59L1003.94 272.04L1004.94 272.49L1005.94 272.46L1006.94 271.03L1007.94 270.66L1008.94 272.06L1009.94 268.34L1010.94 271L1011.94 271.4L1012.94 269.59L1013.94 272.35L1014.94 271.87L1015.94 273.28L1016.94 271.82L1017.94 269.96L1018.94 268.15L1019.94 268.6L1020.94 271.71L1021.94 272.42L1022.94 271.48L1023.94 274.05L1024.94 271.61L1025.94 273.94L1026.94 270.13L1027.94 269.19L1028.94 268.01L1029.94 267.13L1030.94 268.31L1031.94 272.05L1032.94 271.77L1033.94 268.05L1034.94 268.39L1035.94 270.44L1036.94 270.59L1037.94 272.29L1038.94 273.04L1039.94 272.18L1040.94 270.77L1041.94 275.15L1042.94 273.13L1043.94 274.33L1044.94 273.83L1045.95 273.38L1046.95 271.85L1047.95 272.13L1048.95 269.89L1049.95 268.67L1050.95 268.06L1051.95 268.93L1052.95 270.53L1053.95 267.22L1054.95 269.85L1055.95 271.07L1056.95 271.2L1057.95 270.71L1058.95 268.71L1059.95 271.06L1060.95 271.81L1061.95 270.62L1062.95 271.53L1063.95 274.03L1064.95 275.68L1065.95 274.55L1066.95 274.7L1067.95 275.43L1068.95 274.99L1069.95 274.64L1070.95 274.19L1071.95 271.71L1072.95 272.81L1073.95 271.61L1074.95 272.83L1075.95 271.25L1076.95 273.63L1077.95 273.97L1078.95 271.79L1079.95 273.09L1080.95 272.23L1081.95 271.75L1082.95 276.14L1083.95 272.92L1084.95 271.01L1085.95 271.4L1086.95 269.75L1087.95 265.12L1088.95 264.99L1089.95 267.55L1090.95 267.74L1091.95 268.43L1092.95 270.23L1093.95 272.95L1094.95 271.87L1095.95 271.5L1096.95 273.79L1097.95 273.65L1098.95 272.37L1099.95 273.95L1100.95 273.14L1101.95 272.54L1102.95 273.31L1103.95 271.58L1104.95 275.71L1105.95 272.73L1106.95 276.02L1107.96 271.69L1108.96 272.68L1109.96 270.19L1110.96 271.75L1111.96 272.01L1112.96 273.91L1113.96 274.22L1114.96 274.06L1115.96 274.99L1116.96 273.9L1117.96 273.37L1118.96 270.45L1119.96 269.2L1120.96 269.53L1121.96 270.9L1122.96 270.9L1123.96 268.28L1124.96 269.75L1125.96 268.78L1126.96 271.88L1127.96 274.78L1128.96 273.84L1129.96 272L1130.96 273.86L1131.96 272.48L1132.96 273.31L1133.96 276.16L1134.96 274.6L1135.96 273.23L1136.96 271.52L1137.96 273.8L1138.96 270.44L1139.96 268.72L1140.96 270.55L1141.96 267.04L1142.96 267L1143.96 270.93L1144.96 268.35L1145.96 271.65L1146.96 269.13L1147.96 268.26L1148.96 271.09L1149.96 270.57L1150.96 269.19L1151.96 270.25L1152.96 268.97L1153.96 271.62L1154.96 275.36L1155.96 272.62L1156.96 272.26L1157.96 271.42L1158.96 270.79L1159.96 270.58L1160.96 272.85L1161.96 271.4L1162.96 271.36L1163.96 271.53L1164.96 269.43L1165.96 268.15L1166.96 266.98L1167.96 268.61L1168.96 268.01L1169.97 267.64L1170.97 268.77L1171.97 269.24L1172.97 272.88L1173.97 270.51L1174.97 268.43L1175.97 271.87L1176.97 266.82L1177.97 267.6L1178.97 266.32L1179.97 263.24L1180.97 264.59L1181.97 269.59L1182.97 269.38L1183.97 268.75L1184.97 271.04L1185.97 269.83L1186.97 270.28L1187.97 266.38L1188.97 268.45L1189.97 265.83L1190.97 268.02L1191.97 267.96L1192.97 272.18L1193.97 271.88L1194.97 269.78L1195.97 271.35L1196.97 271.69L1197.97 273.92L1198.97 270.44L1199.97 272.02L1200.97 272.34L1201.97 268.09L1202.97 270.58L1203.97 271.81L1204.97 272.61L1205.97 273.88L1206.97 273.93L1207.97 277.26L1208.97 276.63L1209.97 274.48L1210.97 275.32L1211.97 276.53L1212.97 272.32L1213.97 272.16L1214.97 269.47L1215.97 273.62L1216.97 274.71L1217.97 274.32L1218.97 276.25L1219.97 273.56L1220.97 276.48L1221.97 276.51L1222.97 275.29L1223.97 272.11L1224.97 274.88L1225.97 273.51L1226.97 273.98L1227.97 275.97L1228.97 272.42L1229.97 270.18L1230.97 271.85L1231.97 272.34L1232.98 273.61L1233.98 271.4L1234.98 272.3L1235.98 273.25L1236.98 275.1L1237.98 272.87L1238.98 276.02L1239.98 273.08L1240.98 273.95L1241.98 271.98L1242.98 274.4L1243.98 273.43L1244.98 272.92L1245.98 272.67L1246.98 274.52L1247.98 271.62L1248.98 273.75L1249.98 272.45L1250.98 268.26L1251.98 272.52L1252.98 269.99L1253.98 273.92L1254.98 272.37L1255.98 268.26L1256.98 269.64L1257.98 269.69L1258.98 272.55L1259.98 272.44L1260.98 274.08L1261.98 272.57L1262.98 270.15L1263.98 270.72L1264.98 272.56L1265.98 272.04L1266.98 273.66L1267.98 270L1268.98 271.95L1269.98 272.77L1270.98 271.72L1271.98 271.42L1272.98 269.24L1273.98 269.14L1274.98 268.07L1275.98 269.95L1276.98 271.53L1277.98 270.03L1278.98 273.3L1279.98 271.23L1280.98 271.43L1281.98 270.62L1282.98 272.88L1283.98 270.51L1284.98 273.34L1285.98 273.6L1286.98 275.08L1287.98 274.49L1288.98 274.86L1289.98 273.4L1290.98 271.17L1291.98 270.51L1292.98 271.59L1293.98 270.66L1294.99 268.31L1295.99 269.42L1296.99 269.13L1297.99 270.33L1298.99 270.94L1299.99 269.73L1300.99 268.63L1301.99 269.53L1302.99 269.58L1303.99 273.34L1304.99 275.26L1305.99 273.61L1306.99 273.16L1307.99 269.8L1308.99 270.83L1309.99 268.2L1310.99 270.62L1311.99 267.19L1312.99 269.35L1313.99 266.6L1314.99 268.06L1315.99 266.18L1316.99 268.61L1317.99 269.12L1318.99 270.67L1319.99 268.38L1320.99 272.32L1321.99 274.6L1322.99 274.57L1323.99 275.49L1324.99 271.67L1325.99 271.2L1326.99 272.83L1327.99 272.11L1328.99 269.85L1329.99 268.89L1330.99 270.6L1331.99 269.73L1332.99 270.96L1333.99 270.41L1334.99 269.98L1335.99 266.55L1336.99 269.07L1337.99 268.22L1338.99 268.11L1339.99 269.63L1340.99 268.68L1341.99 270.46L1342.99 270.41L1343.99 272.34L1344.99 272.07L1345.99 269.48L1346.99 272.75L1347.99 271.71L1348.99 270.83L1349.99 271.48L1350.99 272.68L1351.99 270.58L1352.99 271.84L1353.99 269.54L1354.99 271.14L1355.99 272.11L1357 272.61L1358 270.6L1359 274.3L1360 270.88L1361 269.37L1362 271.72L1363 273.6L1364 272.28L1365 275.42L1366 275.86L1367 274.08L1368 275.34L1369 273.36L1370 273.43L1371 270.83L1372 273.09L1373 271.16L1374 266.98L1375 264.62L1376 265.7L1377 265.75L1378 269.54L1379 272.07L1380 268.31L1381 268.79L1382 269.51L1383 270.52L1384 269.43L1385 270.77L1386 271.76L1387 271.41L1388 269.31L1388 283.7Z" fill="#b1b1b1"/>
<line x1="1164.6" y1="270.8" x2="1164.6" y2="283.7" stroke="#b9937f" stroke-width="0.7"/>
<text x="766.9" y="266.5" font-size="3.9" fill="#222">[0 - 16]</text>
<line x1="764.6" y1="283.9" x2="1388" y2="283.9" stroke="#a0a0a0" stroke-width="0.5"/>
<line x1="678" y1="289.8" x2="1388" y2="289.8" stroke="#999" stroke-width="0.9"/>
<line x1="678" y1="291.5" x2="1388" y2="291.5" stroke="#d0d0d0" stroke-width="0.6"/>
<text x="679" y="302.8" font-size="5.15" fill="#111">F344.bam Coverage</text>
<path d="M764.9 310.4L764.9 299.66L765.9 301.05L766.9 300.82L767.9 300.13L768.9 301.01L769.9 300.37L770.9 298.39L771.9 299.34L772.9 297.53L773.9 299.68L774.9 297.41L775.9 298.23L776.9 299.24L777.9 297.11L778.9 300.53L779.9 300.82L780.9 298.4L781.9 299.18L782.9 297.4L783.9 300.89L784.9 298.78L785.9 295.66L786.9 296.55L787.9 293.63L788.9 293.87L789.9 295.32L790.9 295.44L791.9 298.42L792.9 298.17L793.9 299.62L794.9 300.17L795.9 301.1L796.91 300.87L797.91 301.89L798.91 299.56L799.91 298.27L800.91 296.89L801.91 299.71L802.91 300.04L803.91 300.61L804.91 300.34L805.91 298.83L806.91 299.76L807.91 298.25L808.91 297.28L809.91 297.32L810.91 299.34L811.91 300.66L812.91 297.82L813.91 297.86L814.91 299.39L815.91 297.99L816.91 298.31L817.91 295.91L818.91 297.63L819.91 296.6L820.91 298.34L821.91 298.71L822.91 297.97L823.91 296.8L824.91 297.05L825.91 297.12L826.91 301.09L827.91 300.81L828.91 302.1L829.91 298.04L830.91 299.1L831.91 295.83L832.91 295.84L833.91 292.18L834.91 292.18L835.91 292.43L836.91 292.18L837.91 292.96L838.91 294.93L839.91 298.77L840.91 299.83L841.91 300.12L842.91 299.42L843.91 301.42L844.91 301.14L845.91 300.36L846.91 300.37L847.91 298.24L848.91 297.95L849.91 296.29L850.91 296.76L851.91 293.63L852.91 293.26L853.91 292.18L854.91 292.18L855.91 292.41L856.91 292.18L857.91 292.94L858.92 294.87L859.92 297.47L860.92 296.06L861.92 296.98L862.92 299.49L863.92 299.01L864.92 298.96L865.92 297.08L866.92 296.98L867.92 298.19L868.92 299.18L869.92 299.91L870.92 302.42L871.92 302.13L872.92 301.72L873.92 299.35L874.92 300.68L875.92 301.16L876.92 301.43L877.92 299.61L878.92 298.75L879.92 298.93L880.92 300.54L881.92 300.16L882.92 300.9L883.92 301.39L884.92 302.29L885.92 303.13L886.92 301.47L887.92 301.84L888.92 303.1L889.92 304.06L890.92 302.49L891.92 300.4L892.92 299.68L893.92 295.62L894.92 295.67L895.92 297.16L896.92 295.21L897.92 297.92L898.92 296.99L899.92 298.22L900.92 300.65L901.92 300.87L902.92 303.73L903.92 301.75L904.92 300.43L905.92 300.23L906.92 303.44L907.92 301.33L908.92 299.11L909.92 300.71L910.92 302.08L911.92 302.38L912.92 303.25L913.92 300.58L914.92 301.68L915.92 302.38L916.92 299.51L917.92 298.03L918.92 298.19L919.92 297.06L920.93 300.17L921.93 298.97L922.93 298.89L923.93 300.45L924.93 297.93L925.93 300.38L926.93 301.81L927.93 300.57L928.93 299.93L929.93 299.41L930.93 301.21L931.93 301.76L932.93 299.58L933.93 298.41L934.93 298.64L935.93 299.5L936.93 298.81L937.93 300.95L938.93 302.24L939.93 301.64L940.93 301.66L941.93 302L942.93 301.07L943.93 298.33L944.93 300.16L945.93 300.18L946.93 300.95L947.93 299.66L948.93 299.7L949.93 299.43L950.93 302.54L951.93 301.96L952.93 302.86L953.93 301.49L954.93 300.04L955.93 301.94L956.93 301.68L957.93 302.9L958.93 301.61L959.93 301.2L960.93 303.03L961.93 301.03L962.93 304.72L963.93 301.48L964.93 301.32L965.93 302.93L966.93 303.25L967.93 300.16L968.93 302.6L969.93 300.71L970.93 300.77L971.93 299.26L972.93 299.59L973.93 299.54L974.93 301.46L975.93 299.36L976.93 299.51L977.93 299.54L978.93 299.89L979.93 301.22L980.93 301.3L981.93 301.27L982.93 302.26L983.94 301.48L984.94 299.65L985.94 300.45L986.94 299.72L987.94 298.59L988.94 299.04L989.94 295.89L990.94 296.78L991.94 296.4L992.94 297.23L993.94 299.61L994.94 299.36L995.94 301.34L996.94 300.81L997.94 300.19L998.94 301.84L999.94 301.7L1000.94 302.53L1001.94 299.36L1002.94 300.99L1003.94 300.27L1004.94 300.41L1005.94 300.92L1006.94 300.65L1007.94 302.46L1008.94 303.24L1009.94 301.83L1010.94 300.2L1011.94 301.08L1012.94 299.75L1013.94 300.03L1014.94 299.8L1015.94 298.75L1016.94 299.83L1017.94 297.91L1018.94 296.47L1019.94 296.32L1020.94 298.5L1021.94 297.06L1022.94 300.08L1023.94 299.23L1024.94 296.06L1025.94 294.55L1026.94 297.96L1027.94 299.48L1028.94 300.04L1029.94 297.87L1030.94 297.78L1031.94 298.42L1032.94 300.26L1033.94 300.27L1034.94 299.79L1035.94 296.97L1036.94 299.84L1037.94 297.99L1038.94 298.82L1039.94 297.97L1040.94 297.82L1041.94 299.44L1042.94 301.82L1043.94 302.39L1044.94 301.33L1045.95 302.56L1046.95 301.84L1047.95 300.72L1048.95 302.07L1049.95 301.67L1050.95 298.35L1051.95 297.54L1052.95 297.32L1053.95 296.66L1054.95 299.69L1055.95 298.52L1056.95 301.77L1057.95 298.88L1058.95 298.66L1059.95 299.83L1060.95 300.83L1061.95 298.34L1062.95 299.39L1063.95 295.82L1064.95 296.64L1065.95 295.72L1066.95 298.73L1067.95 301.96L1068.95 302.14L1069.95 299.99L1070.95 302.19L1071.95 301.3L1072.95 299.38L1073.95 302.55L1074.95 298.29L1075.95 299.45L1076.95 297.92L1077.95 299.15L1078.95 299.59L1079.95 299.61L1080.95 300.72L1081.95 298.77L1082.95 300.59L1083.95 297.99L1084.95 297.85L1085.95 294.25L1086.95 295.23L1087.95 292.81L1088.95 294.62L1089.95 295.35L1090.95 296.91L1091.95 299.31L1092.95 298.58L1093.95 300.85L1094.95 299.83L1095.95 300.85L1096.95 296.69L1097.95 296.48L1098.95 298.53L1099.95 299.95L1100.95 301.06L1101.95 301.44L1102.95 302.88L1103.95 303.43L1104.95 300.29L1105.95 303.11L1106.95 302.6L1107.96 302.63L1108.96 299.96L1109.96 299.44L1110.96 300.28L1111.96 300.25L1112.96 298.82L1113.96 299.03L1114.96 298.38L1115.96 298.16L1116.96 298.88L1117.96 297.04L1118.96 297.21L1119.96 300.4L1120.96 300.46L1121.96 301.54L1122.96 299.38L1123.96 300.28L1124.96 298.49L1125.96 296.4L1126.96 296.22L1127.96 296.97L1128.96 299.5L1129.96 300.96L1130.96 300.37L1131.96 299.15L1132.96 301.31L1133.96 300.18L1134.96 297.72L1135.96 299.37L1136.96 299.87L1137.96 298.44L1138.96 300.97L1139.96 302.04L1140.96 301.4L1141.96 299.07L1142.96 298.23L1143.96 300.72L1144.96 301.29L1145.96 300.44L1146.96 299.41L1147.96 298.65L1148.96 298.74L1149.96 297.03L1150.96 300.1L1151.96 297.85L1152.96 295.95L1153.96 298.75L1154.96 298.21L1155.96 299.1L1156.96 301.68L1157.96 301.4L1158.96 303.3L1159.96 302.27L1160.96 302.98L1161.96 300.78L1162.96 301.7L1163.96 300.34L1164.96 302.04L1165.96 300.27L1166.96 302.47L1167.96 301.12L1168.96 300.06L1169.97 299.86L1170.97 299.15L1171.97 299.62L1172.97 300.75L1173.97 300.69L1174.97 299.18L1175.97 301.67L1176.97 300.27L1177.97 303.43L1178.97 300.54L1179.97 302.64L1180.97 300.16L1181.97 299.16L1182.97 298.49L1183.97 299.57L1184.97 297.49L1185.97 298.18L1186.97 299.78L1187.97 299.55L1188.97 299.69L1189.97 299.24L1190.97 298.31L1191.97 300.09L1192.97 300.4L1193.97 301.08L1194.97 302.91L1195.97 301.95L1196.97 302.73L1197.97 301.36L1198.97 301.22L1199.97 299.18L1200.97 299.93L1201.97 299.41L1202.97 300.21L1203.97 298.42L1204.97 300.68L1205.97 296.39L1206.97 298.31L1207.97 297.22L1208.97 296.13L1209.97 298.21L1210.97 297.3L1211.97 296.9L1212.97 296.14L1213.97 295.9L1214.97 296.67L1215.97 295.04L1216.97 298.6L1217.97 297.3L1218.97 298.82L1219.97 301.25L1220.97 301.21L1221.97 300.59L1222.97 297.9L1223.97 296.5L1224.97 297.78L1225.97 296.88L1226.97 299.11L1227.97 300.06L1228.97 298.13L1229.97 299.83L1230.97 299.51L1231.97 298.25L1232.98 299.05L1233.98 298.14L1234.98 295.94L1235.98 296.57L1236.98 296.42L1237.98 292.57L1238.98 292.35L1239.98 294.16L1240.98 294.79L1241.98 294.23L1242.98 297.13L1243.98 297.69L1244.98 298.57L1245.98 300.33L1246.98 298.44L1247.98 298.82L1248.98 300.79L1249.98 299.85L1250.98 302.22L1251.98 300.52L1252.98 299.38L1253.98 299.88L1254.98 302.17L1255.98 302.42L1256.98 300.54L1257.98 300.45L1258.98 298.84L1259.98 298.01L1260.98 297.67L1261.98 298.54L1262.98 298.01L1263.98 299.79L1264.98 298.36L1265.98 300.16L1266.98 301.91L1267.98 299.17L1268.98 302.69L1269.98 301.92L1270.98 300.25L1271.98 298.73L1272.98 300.24L1273.98 299.82L1274.98 301.97L1275.98 300.21L1276.98 302.72L1277.98 301.2L1278.98 301.48L1279.98 302.66L1280.98 302.33L1281.98 301.31L1282.98 301.16L1283.98 302.08L1284.98 300.59L1285.98 301.14L1286.98 301.87L1287.98 303.11L1288.98 300.8L1289.98 302.16L1290.98 302.39L1291.98 300.91L1292.98 301.79L1293.98 301.51L1294.99 303.36L1295.99 302.63L1296.99 300.85L1297.99 300.09L1298.99 299.66L1299.99 300.6L1300.99 300.77L1301.99 301.09L1302.99 298.95L1303.99 300.24L1304.99 299.94L1305.99 298.55L1306.99 297.47L1307.99 297.18L1308.99 296.94L1309.99 297.48L1310.99 297.42L1311.99 300.23L1312.99 299.21L1313.99 299.45L1314.99 301.51L1315.99 299.01L1316.99 299.62L1317.99 298.66L1318.99 299.74L1319.99 303.68L1320.99 303.45L1321.99 302.05L1322.99 300.58L1323.99 298.97L1324.99 300.85L1325.99 298.58L1326.99 298.45L1327.99 300.34L1328.99 298.82L1329.99 299.62L1330.99 299.95L1331.99 301.02L1332.99 299.37L1333.99 300.87L1334.99 299.82L1335.99 297.76L1336.99 299.81L1337.99 298.95L1338.99 298.65L1339.99 301.1L1340.99 299.24L1341.99 299.52L1342.99 303.14L1343.99 303.08L1344.99 302.93L1345.99 301.88L1346.99 299.88L1347.99 301.71L1348.99 302.21L1349.99 300.27L1350.99 302.23L1351.99 299.95L1352.99 299.3L1353.99 300.75L1354.99 303.35L1355.99 301.72L1357 299.93L1358 300.91L1359 299.6L1360 301.04L1361 302.22L1362 299.01L1363 302L1364 302.55L1365 302.82L1366 302L1367 300.19L1368 302.09L1369 301.9L1370 304.24L1371 301.92L1372 301.96L1373 301.24L1374 302.57L1375 302.5L1376 304.67L1377 302.65L1378 303.49L1379 301.54L1380 302.83L1381 302.21L1382 299.9L1383 302.34L1384 301.07L1385 301.14L1386 301.1L1387 299.41L1388 298.21L1388 310.4Z" fill="#b1b1b1"/>
<line x1="1164.6" y1="298.99" x2="1164.6" y2="310.4" stroke="#b9937f" stroke-width="0.7"/>
<text x="766.9" y="295.6" font-size="3.9" fill="#222">[0 - 20]</text>
<line x1="764.6" y1="310.6" x2="1388" y2="310.6" stroke="#a0a0a0" stroke-width="0.5"/>
<line x1="678" y1="316" x2="1388" y2="316" stroke="#777" stroke-width="0.9"/>
<line x1="678" y1="317.7" x2="1388" y2="317.7" stroke="#d0d0d0" stroke-width="0.6"/>
<text x="679" y="330.3" font-size="5.15" fill="#111">M520.bam Coverage</text>
<path d="M764.9 338.5L764.9 325.2L765.9 327.17L766.9 325.87L767.9 325.93L768.9 328.11L769.9 328.14L770.9 328.13L771.9 325.08L772.9 326.1L773.9 325.86L774.9 323.57L775.9 327.29L776.9 325.39L777.9 328.21L778.9 329.53L779.9 327.33L780.9 330.35L781.9 329.01L782.9 327.44L783.9 329.41L784.9 330.34L785.9 330.24L786.9 328.67L787.9 327.62L788.9 328.87L789.9 328.46L790.9 327.34L791.9 330.24L792.9 328.76L793.9 329.81L794.9 329.27L795.9 331.5L796.91 332.29L797.91 330.28L798.91 331.49L799.91 327.55L800.91 326.39L801.91 329.09L802.91 327.95L803.91 328.59L804.91 330.15L805.91 326.6L806.91 326.69L807.91 328.23L808.91 327.74L809.91 327.01L810.91 328.54L811.91 330.9L812.91 329.6L813.91 327.42L814.91 326.46L815.91 325.83L816.91 326.98L817.91 326.05L818.91 329.45L819.91 330.77L820.91 331.18L821.91 332.41L822.91 328.01L823.91 330.21L824.91 324.46L825.91 324.24L826.91 324.62L827.91 321.67L828.91 323.3L829.91 323.27L830.91 323.62L831.91 323.95L832.91 326.34L833.91 323.58L834.91 326.36L835.91 325.74L836.91 323.49L837.91 323.84L838.91 321.75L839.91 323.13L840.91 323.51L841.91 325.37L842.91 325.66L843.91 327.58L844.91 326.96L845.91 326.31L846.91 328.46L847.91 325.12L848.91 325.17L849.91 326.55L850.91 324.54L851.91 327.9L852.91 325.89L853.91 325.33L854.91 325.88L855.91 322.92L856.91 323.03L857.91 321.61L858.92 322.05L859.92 322.02L860.92 326.59L861.92 326.69L862.92 326.68L863.92 326.88L864.92 327.12L865.92 328.22L866.92 329.1L867.92 325.42L868.92 326.87L869.92 328.41L870.92 325.65L871.92 325.44L872.92 325.14L873.92 324.05L874.92 326.17L875.92 324.2L876.92 326.29L877.92 324.31L878.92 325.22L879.92 327.58L880.92 327.96L881.92 328.13L882.92 326.3L883.92 327.74L884.92 327.36L885.92 327.64L886.92 326.36L887.92 328.49L888.92 329.15L889.92 329.34L890.92 326.17L891.92 327.26L892.92 325.56L893.92 326.11L894.92 329.62L895.92 328.69L896.92 330.84L897.92 328.32L898.92 328.63L899.92 327.47L900.92 327.92L901.92 327.06L902.92 329.1L903.92 328.87L904.92 329.03L905.92 328.68L906.92 329.02L907.92 327.2L908.92 329.96L909.92 330.98L910.92 328.57L911.92 330.31L912.92 327.76L913.92 329.18L914.92 328.89L915.92 326.33L916.92 327.88L917.92 328.47L918.92 326.85L919.92 330.47L920.93 329.31L921.93 330.84L922.93 328.1L923.93 326.59L924.93 326.92L925.93 327.38L926.93 327.68L927.93 328.73L928.93 326.39L929.93 328.02L930.93 328.98L931.93 327.44L932.93 329.25L933.93 330.31L934.93 328.42L935.93 328.48L936.93 328.93L937.93 329.72L938.93 326.87L939.93 329.07L940.93 326.71L941.93 325.17L942.93 327.5L943.93 329.09L944.93 329.1L945.93 327.77L946.93 326.78L947.93 324.04L948.93 324.93L949.93 326.71L950.93 327.14L951.93 325.58L952.93 326.51L953.93 324.97L954.93 326.67L955.93 327.65L956.93 328.98L957.93 326.5L958.93 326.64L959.93 325.39L960.93 328.76L961.93 328.8L962.93 329.22L963.93 329.27L964.93 331.13L965.93 329.47L966.93 328.89L967.93 325.01L968.93 324.22L969.93 325.68L970.93 327.09L971.93 326.1L972.93 326.55L973.93 326.17L974.93 324.85L975.93 323.41L976.93 322.87L977.93 324.97L978.93 325.51L979.93 328.47L980.93 328.37L981.93 327.47L982.93 330.21L983.94 329.14L984.94 328.3L985.94 328.99L986.94 328.64L987.94 332.03L988.94 329.73L989.94 329.18L990.94 327.62L991.94 327.88L992.94 330.81L993.94 328.97L994.94 324.65L995.94 324.21L996.94 323.86L997.94 322.24L998.94 324.2L999.94 326.09L1000.94 327.01L1001.94 328.6L1002.94 326.92L1003.94 328.43L1004.94 329.73L1005.94 326.43L1006.94 328.95L1007.94 324.84L1008.94 329.47L1009.94 326.75L1010.94 331.09L1011.94 327.65L1012.94 327.96L1013.94 329.91L1014.94 329.57L1015.94 329.21L1016.94 326.22L1017.94 327.39L1018.94 323.97L1019.94 323.53L1020.94 324.47L1021.94 321.86L1022.94 323.58L1023.94 324.65L1024.94 325.62L1025.94 324.86L1026.94 324.38L1027.94 327.83L1028.94 325.71L1029.94 326.41L1030.94 325.31L1031.94 322.5L1032.94 326.09L1033.94 323.35L1034.94 323.54L1035.94 324.46L1036.94 326.04L1037.94 325.67L1038.94 325.15L1039.94 329.14L1040.94 328.89L1041.94 326.52L1042.94 327.81L1043.94 326.94L1044.94 327.1L1045.95 327.69L1046.95 324.34L1047.95 325.12L1048.95 323.11L1049.95 324.3L1050.95 326.1L1051.95 325.54L1052.95 324.33L1053.95 324.65L1054.95 325.66L1055.95 326.72L1056.95 329.7L1057.95 328.4L1058.95 328.27L1059.95 327.69L1060.95 326.15L1061.95 325.75L1062.95 326L1063.95 326.05L1064.95 322.41L1065.95 324.34L1066.95 325.53L1067.95 328.69L1068.95 329.78L1069.95 331.59L1070.95 328.71L1071.95 329.76L1072.95 329.69L1073.95 328.16L1074.95 328.25L1075.95 326.98L1076.95 324.73L1077.95 326.83L1078.95 326.22L1079.95 325.08L1080.95 325.22L1081.95 326.94L1082.95 325.42L1083.95 324.87L1084.95 324.95L1085.95 325.13L1086.95 326.24L1087.95 327.07L1088.95 329.64L1089.95 329.56L1090.95 328.67L1091.95 328.08L1092.95 328.95L1093.95 327.09L1094.95 330.3L1095.95 330.77L1096.95 329.95L1097.95 328.67L1098.95 329.33L1099.95 328.85L1100.95 328.14L1101.95 324.5L1102.95 325.8L1103.95 324.56L1104.95 325.88L1105.95 324.85L1106.95 322.6L1107.96 323.03L1108.96 324.92L1109.96 323.68L1110.96 326.66L1111.96 328.41L1112.96 329.21L1113.96 327.88L1114.96 325.22L1115.96 327.21L1116.96 324.72L1117.96 327.26L1118.96 324.01L1119.96 325.18L1120.96 325.27L1121.96 326.88L1122.96 326.49L1123.96 327.27L1124.96 327.54L1125.96 326.74L1126.96 326.49L1127.96 324.97L1128.96 324.4L1129.96 328.48L1130.96 327.12L1131.96 327.84L1132.96 328.57L1133.96 326.71L1134.96 329.51L1135.96 330.16L1136.96 328.83L1137.96 328.92L1138.96 327.69L1139.96 328.12L1140.96 325.83L1141.96 324.6L1142.96 327.72L1143.96 326.19L1144.96 328.33L1145.96 326.16L1146.96 327.24L1147.96 328.92L1148.96 327.35L1149.96 328.08L1150.96 326.52L1151.96 327.17L1152.96 328.63L1153.96 328.44L1154.96 327.14L1155.96 328.34L1156.96 328.27L1157.96 330.42L1158.96 331.4L1159.96 330.78L1160.96 328.33L1161.96 330L1162.96 330.44L1163.96 328.2L1164.96 327.34L1165.96 328.13L1166.96 330.28L1167.96 329.5L1168.96 326.98L1169.97 328.9L1170.97 328.76L1171.97 328L1172.97 327.48L1173.97 328L1174.97 327.48L1175.97 328.81L1176.97 328.58L1177.97 327.22L1178.97 323.99L1179.97 323.9L1180.97 325.89L1181.97 322.77L1182.97 322.88L1183.97 325.13L1184.97 325.05L1185.97 322.33L1186.97 325.01L1187.97 324.25L1188.97 323.72L1189.97 325.61L1190.97 323.84L1191.97 326.7L1192.97 325.43L1193.97 323.31L1194.97 322.85L1195.97 322.66L1196.97 319.8L1197.97 320.87L1198.97 322.69L1199.97 323.87L1200.97 322.39L1201.97 324.06L1202.97 323.95L1203.97 324.02L1204.97 322.12L1205.97 322.52L1206.97 323.34L1207.97 321.64L1208.97 322.15L1209.97 323.17L1210.97 322.27L1211.97 325.83L1212.97 324.69L1213.97 323.64L1214.97 323.9L1215.97 321.78L1216.97 324.02L1217.97 325.01L1218.97 324.96L1219.97 325.1L1220.97 324.54L1221.97 325.01L1222.97 324.62L1223.97 325.7L1224.97 326.71L1225.97 327.26L1226.97 324.35L1227.97 326.1L1228.97 327.82L1229.97 327.68L1230.97 324.33L1231.97 323.67L1232.98 323.22L1233.98 322.52L1234.98 323.54L1235.98 324.14L1236.98 326.99L1237.98 327.31L1238.98 325.81L1239.98 326.34L1240.98 330.79L1241.98 327.99L1242.98 330.57L1243.98 326.29L1244.98 327.24L1245.98 327.63L1246.98 328.07L1247.98 328.84L1248.98 329.86L1249.98 326.73L1250.98 327.71L1251.98 327.76L1252.98 328.71L1253.98 330.56L1254.98 329.7L1255.98 326.33L1256.98 325.98L1257.98 327.58L1258.98 330.44L1259.98 328.99L1260.98 327.61L1261.98 331.29L1262.98 327.64L1263.98 327.75L1264.98 325.62L1265.98 324.39L1266.98 326.58L1267.98 324.26L1268.98 328.15L1269.98 325.89L1270.98 326.27L1271.98 324.85L1272.98 324.82L1273.98 324.72L1274.98 325.59L1275.98 325.35L1276.98 326.29L1277.98 326.01L1278.98 321.91L1279.98 323.18L1280.98 325.99L1281.98 323.68L1282.98 327.97L1283.98 325.46L1284.98 325.74L1285.98 324.97L1286.98 326.11L1287.98 327.36L1288.98 328.14L1289.98 327.32L1290.98 327.05L1291.98 328.07L1292.98 326.76L1293.98 328.82L1294.99 327.93L1295.99 328.42L1296.99 325.37L1297.99 326.07L1298.99 328.05L1299.99 325.69L1300.99 323.35L1301.99 323.28L1302.99 326L1303.99 326.53L1304.99 326.22L1305.99 323.52L1306.99 325.59L1307.99 325.39L1308.99 322.61L1309.99 323.52L1310.99 326.33L1311.99 324.17L1312.99 326.15L1313.99 327.55L1314.99 325.98L1315.99 330.26L1316.99 329.37L1317.99 329.33L1318.99 327.39L1319.99 325.73L1320.99 326.92L1321.99 327.2L1322.99 328.51L1323.99 329.27L1324.99 326.61L1325.99 326.48L1326.99 326.04L1327.99 324.76L1328.99 327.18L1329.99 324.56L1330.99 325.54L1331.99 327.78L1332.99 326.46L1333.99 329.56L1334.99 328.87L1335.99 329.22L1336.99 329.82L1337.99 329.47L1338.99 328.38L1339.99 327.59L1340.99 324.33L1341.99 327.55L1342.99 327.59L1343.99 328.11L1344.99 328.83L1345.99 329.07L1346.99 327.04L1347.99 328.73L1348.99 328.3L1349.99 323.23L1350.99 327.04L1351.99 328.28L1352.99 325.31L1353.99 329.42L1354.99 328.17L1355.99 329.98L1357 327.22L1358 327.5L1359 326.26L1360 325.54L1361 327.71L1362 325.24L1363 325.85L1364 324.59L1365 319.8L1366 318.87L1367 321.16L1368 323.04L1369 322.3L1370 324.37L1371 327.38L1372 326.72L1373 326.48L1374 326.86L1375 330.02L1376 330.63L1377 330.99L1378 329.64L1379 330.6L1380 326.27L1381 329.65L1382 327.03L1383 326.59L1384 324.62L1385 323.45L1386 323.7L1387 324.32L1388 327.52L1388 338.5Z" fill="#b1b1b1"/>
<line x1="1164.6" y1="325.91" x2="1164.6" y2="338.5" stroke="#b9937f" stroke-width="0.7"/>
<text x="766.9" y="321.8" font-size="3.9" fill="#222">[0 - 20]</text>
<line x1="764.6" y1="338.7" x2="1388" y2="338.7" stroke="#a0a0a0" stroke-width="0.5"/>
<line x1="678" y1="344.3" x2="1388" y2="344.3" stroke="#666" stroke-width="0.9"/>
<line x1="678" y1="346" x2="1388" y2="346" stroke="#d0d0d0" stroke-width="0.6"/>
<text x="679" y="357.9" font-size="5.15" fill="#111">MR.bam Coverage</text>
<path d="M764.9 366.5L764.9 352.72L765.9 353.94L766.9 355.87L767.9 356.17L768.9 355.95L769.9 356.11L770.9 354.68L771.9 356.53L772.9 354.79L773.9 355.27L774.9 357.34L775.9 355.11L776.9 358.64L777.9 356.39L778.9 355.13L779.9 354.16L780.9 355.49L781.9 356.66L782.9 357.49L783.9 355.55L784.9 357.56L785.9 354.86L786.9 354.33L787.9 356.44L788.9 356.89L789.9 356.68L790.9 356.92L791.9 359.37L792.9 357.26L793.9 355.39L794.9 355.18L795.9 358.21L796.91 356.46L797.91 360.48L798.91 359.27L799.91 360.5L800.91 359.17L801.91 359.56L802.91 358.03L803.91 360.5L804.91 360.5L805.91 359.63L806.91 358.98L807.91 357.75L808.91 359.05L809.91 357L810.91 355.41L811.91 357.42L812.91 352.34L813.91 357.05L814.91 357.29L815.91 359.02L816.91 355.52L817.91 354.28L818.91 356.39L819.91 355.56L820.91 354.37L821.91 354.4L822.91 354.92L823.91 352.58L824.91 349.23L825.91 348.47L826.91 351.35L827.91 352.28L828.91 355.23L829.91 354.84L830.91 354.09L831.91 357.48L832.91 357.17L833.91 356.02L834.91 357.73L835.91 356.62L836.91 353.85L837.91 355.59L838.91 353.83L839.91 351.54L840.91 354.26L841.91 354.73L842.91 358.34L843.91 356L844.91 355.49L845.91 355.19L846.91 354.91L847.91 356.26L848.91 353.77L849.91 354.22L850.91 352.17L851.91 353.34L852.91 352.03L853.91 355.14L854.91 354.98L855.91 355.47L856.91 355.67L857.91 354.31L858.92 355.44L859.92 354.95L860.92 356.13L861.92 356.49L862.92 353.55L863.92 353.66L864.92 355.2L865.92 354.7L866.92 353.39L867.92 354.17L868.92 355.06L869.92 354.73L870.92 354.02L871.92 357.44L872.92 356.53L873.92 357.4L874.92 355.03L875.92 356.74L876.92 355.63L877.92 357.41L878.92 357.13L879.92 355.28L880.92 358.93L881.92 359.07L882.92 357.14L883.92 359.32L884.92 359.03L885.92 357.99L886.92 356.94L887.92 358.3L888.92 356.92L889.92 356.51L890.92 354.5L891.92 353.9L892.92 352.97L893.92 354.05L894.92 354.14L895.92 354.13L896.92 357.8L897.92 354.6L898.92 352.98L899.92 350.86L900.92 351.79L901.92 352.38L902.92 354.11L903.92 356.11L904.92 355.03L905.92 358.83L906.92 357.52L907.92 357.72L908.92 355.44L909.92 353.87L910.92 354.92L911.92 357.6L912.92 352.54L913.92 354.23L914.92 352.07L915.92 352.36L916.92 355.61L917.92 353.77L918.92 354.35L919.92 353.4L920.93 354.83L921.93 356L922.93 357.1L923.93 357.06L924.93 356.14L925.93 355.65L926.93 358.56L927.93 356.25L928.93 354.81L929.93 355.53L930.93 354.94L931.93 357.98L932.93 359.04L933.93 358.84L934.93 355.11L935.93 357.99L936.93 357.42L937.93 356.69L938.93 357.61L939.93 358.34L940.93 356.8L941.93 356.53L942.93 356.58L943.93 357.35L944.93 358.82L945.93 356.42L946.93 357.62L947.93 355.43L948.93 356.49L949.93 353.54L950.93 355.19L951.93 354.34L952.93 353.79L953.93 357.22L954.93 354.67L955.93 355.18L956.93 356.86L957.93 354.29L958.93 354.92L959.93 355.92L960.93 353.11L961.93 353.66L962.93 352.83L963.93 356.81L964.93 356.65L965.93 356.74L966.93 356.62L967.93 356.46L968.93 354.44L969.93 353.77L970.93 353.11L971.93 352.9L972.93 351.31L973.93 350.56L974.93 349.38L975.93 351.31L976.93 350.56L977.93 349.29L978.93 350.24L979.93 350.72L980.93 350.22L981.93 351.81L982.93 350.24L983.94 350.25L984.94 352.66L985.94 351.7L986.94 353.49L987.94 352.44L988.94 353.33L989.94 350.29L990.94 352.49L991.94 352.68L992.94 352.88L993.94 351.86L994.94 350.93L995.94 351.29L996.94 353.38L997.94 356.16L998.94 356.44L999.94 355.4L1000.94 355.79L1001.94 352.86L1002.94 355.38L1003.94 354.65L1004.94 352.99L1005.94 356.09L1006.94 355.3L1007.94 353.37L1008.94 352.7L1009.94 354.06L1010.94 352.44L1011.94 353.64L1012.94 356.27L1013.94 353.65L1014.94 353.67L1015.94 353.36L1016.94 356.02L1017.94 353.93L1018.94 352.07L1019.94 351.15L1020.94 351.57L1021.94 355.19L1022.94 353.08L1023.94 353.21L1024.94 352.8L1025.94 350.12L1026.94 351.99L1027.94 351.27L1028.94 350.93L1029.94 351.8L1030.94 352.84L1031.94 352.95L1032.94 352.49L1033.94 353.81L1034.94 352.57L1035.94 351.95L1036.94 352.99L1037.94 350.77L1038.94 348.3L1039.94 351.05L1040.94 348.62L1041.94 351.8L1042.94 352.59L1043.94 352.11L1044.94 353.88L1045.95 354.06L1046.95 352.78L1047.95 354.89L1048.95 352.11L1049.95 351.37L1050.95 351.57L1051.95 352.33L1052.95 352.75L1053.95 354.7L1054.95 352.55L1055.95 352.82L1056.95 352.67L1057.95 352.5L1058.95 350.89L1059.95 354.19L1060.95 352.27L1061.95 353.29L1062.95 353.75L1063.95 352.29L1064.95 353.49L1065.95 352.66L1066.95 357.07L1067.95 357.69L1068.95 356.08L1069.95 356.66L1070.95 355.99L1071.95 353.75L1072.95 355.85L1073.95 355.53L1074.95 352.55L1075.95 351.23L1076.95 351.52L1077.95 351.44L1078.95 352.76L1079.95 351.9L1080.95 352.18L1081.95 351.88L1082.95 352.73L1083.95 355.46L1084.95 355.55L1085.95 356.55L1086.95 356.01L1087.95 358.69L1088.95 358.37L1089.95 356.14L1090.95 356.96L1091.95 356.04L1092.95 353.04L1093.95 351.95L1094.95 349.94L1095.95 350.68L1096.95 353.76L1097.95 354.79L1098.95 356.15L1099.95 355.59L1100.95 356.51L1101.95 354.09L1102.95 355.1L1103.95 355.74L1104.95 355.54L1105.95 354.35L1106.95 358.11L1107.96 354.57L1108.96 355.86L1109.96 357.16L1110.96 357.91L1111.96 357.89L1112.96 357.37L1113.96 355.33L1114.96 355.19L1115.96 355.2L1116.96 355.67L1117.96 355.51L1118.96 356.62L1119.96 355.39L1120.96 353.84L1121.96 356.24L1122.96 352.64L1123.96 356.45L1124.96 354.84L1125.96 356.37L1126.96 356.31L1127.96 358.33L1128.96 356.15L1129.96 357.58L1130.96 353.34L1131.96 353.59L1132.96 354.12L1133.96 355.14L1134.96 357.69L1135.96 356.05L1136.96 356.55L1137.96 356.06L1138.96 357.79L1139.96 356.88L1140.96 358.19L1141.96 358.7L1142.96 357.6L1143.96 353.78L1144.96 355.99L1145.96 356.26L1146.96 357.14L1147.96 355L1148.96 356.58L1149.96 358.12L1150.96 359.7L1151.96 356.75L1152.96 359.22L1153.96 355.51L1154.96 356.09L1155.96 356.12L1156.96 357.25L1157.96 354.43L1158.96 353.28L1159.96 354.67L1160.96 352.67L1161.96 356.17L1162.96 356.35L1163.96 356.68L1164.96 357.23L1165.96 353.59L1166.96 355.07L1167.96 357.97L1168.96 356.26L1169.97 359.05L1170.97 358.26L1171.97 356.44L1172.97 358.38L1173.97 357.47L1174.97 353.89L1175.97 355.08L1176.97 352.78L1177.97 356.88L1178.97 357.18L1179.97 352.73L1180.97 353.5L1181.97 353.01L1182.97 353.55L1183.97 355.89L1184.97 353.96L1185.97 356.32L1186.97 352.69L1187.97 352.86L1188.97 349.18L1189.97 348.15L1190.97 348.01L1191.97 351.84L1192.97 353.39L1193.97 355.37L1194.97 355.88L1195.97 355.26L1196.97 352.67L1197.97 354.11L1198.97 354.13L1199.97 355.06L1200.97 357.71L1201.97 356.46L1202.97 357.15L1203.97 353.71L1204.97 353.81L1205.97 354.11L1206.97 354.41L1207.97 357.38L1208.97 357.23L1209.97 357.96L1210.97 356.59L1211.97 354.43L1212.97 353.16L1213.97 352.4L1214.97 352.29L1215.97 355.45L1216.97 354.05L1217.97 354.42L1218.97 355.15L1219.97 355.58L1220.97 355.5L1221.97 357.3L1222.97 354.06L1223.97 355.31L1224.97 353.54L1225.97 353.81L1226.97 355.88L1227.97 355.24L1228.97 354.2L1229.97 354.24L1230.97 356.23L1231.97 354.43L1232.98 354.43L1233.98 354.85L1234.98 355.79L1235.98 357.99L1236.98 355.58L1237.98 355.64L1238.98 351.06L1239.98 352.7L1240.98 356.88L1241.98 355.79L1242.98 355.15L1243.98 356.47L1244.98 356.68L1245.98 356.58L1246.98 356.16L1247.98 355.58L1248.98 357.1L1249.98 356.75L1250.98 357.67L1251.98 357.14L1252.98 357.7L1253.98 358.3L1254.98 355.05L1255.98 357.59L1256.98 356.43L1257.98 355.14L1258.98 357.41L1259.98 359.07L1260.98 356.97L1261.98 357.81L1262.98 355.95L1263.98 356.96L1264.98 356.11L1265.98 354.84L1266.98 352.48L1267.98 352.58L1268.98 350.93L1269.98 350.21L1270.98 354.35L1271.98 353.39L1272.98 353.81L1273.98 354.85L1274.98 356.58L1275.98 355.26L1276.98 355.61L1277.98 352.74L1278.98 353.47L1279.98 353.44L1280.98 355.54L1281.98 353.48L1282.98 353.71L1283.98 354.58L1284.98 355.77L1285.98 354.53L1286.98 356.68L1287.98 358.42L1288.98 354.61L1289.98 357.56L1290.98 356.72L1291.98 356.98L1292.98 355.29L1293.98 355.41L1294.99 354.73L1295.99 352.07L1296.99 352.3L1297.99 353.1L1298.99 353.77L1299.99 354.68L1300.99 352.16L1301.99 352.96L1302.99 352.73L1303.99 355.32L1304.99 353.73L1305.99 356.84L1306.99 355.59L1307.99 352.57L1308.99 353.95L1309.99 357.02L1310.99 357.02L1311.99 356.86L1312.99 354.53L1313.99 353.61L1314.99 353.6L1315.99 354.07L1316.99 355.05L1317.99 355.03L1318.99 353.7L1319.99 355.51L1320.99 356.09L1321.99 356.14L1322.99 356.92L1323.99 357.2L1324.99 355.24L1325.99 353.6L1326.99 355.56L1327.99 354.98L1328.99 355.9L1329.99 355.35L1330.99 355.16L1331.99 353.52L1332.99 354.51L1333.99 352.98L1334.99 354.28L1335.99 355.37L1336.99 354.99L1337.99 354.18L1338.99 357.42L1339.99 356.3L1340.99 356.38L1341.99 357.18L1342.99 357.2L1343.99 356.48L1344.99 359.66L1345.99 357.37L1346.99 357.97L1347.99 358.11L1348.99 356.6L1349.99 357.3L1350.99 354.76L1351.99 357.2L1352.99 356.15L1353.99 357.89L1354.99 354.91L1355.99 358.56L1357 357.28L1358 359.34L1359 358.22L1360 356.89L1361 358.77L1362 352.87L1363 352.23L1364 353.09L1365 349.85L1366 354.16L1367 355.96L1368 357.56L1369 359.78L1370 356.82L1371 357.73L1372 357.5L1373 356.41L1374 359.96L1375 357.26L1376 356.04L1377 357.24L1378 358.95L1379 357.41L1380 359.33L1381 360.48L1382 356.47L1383 358.98L1384 356.93L1385 359.55L1386 358.78L1387 358.61L1388 359.7L1388 366.5Z" fill="#b1b1b1"/>
<line x1="1164.6" y1="354.1" x2="1164.6" y2="366.5" stroke="#b9937f" stroke-width="0.7"/>
<text x="766.9" y="350.1" font-size="3.9" fill="#222">[0 - 14]</text>
<line x1="764.6" y1="366.7" x2="1388" y2="366.7" stroke="#a0a0a0" stroke-width="0.5"/>
<line x1="678" y1="370.2" x2="1388" y2="370.2" stroke="#666" stroke-width="0.9"/>
<line x1="678" y1="371.9" x2="1388" y2="371.9" stroke="#d0d0d0" stroke-width="0.6"/>
<text x="679" y="384" font-size="5.15" fill="#111">WKY.bam Coverage</text>
<path d="M764.9 392.2L764.9 378.3L765.9 378.94L766.9 380.99L767.9 383.01L768.9 382.25L769.9 382.08L770.9 380.97L771.9 378.15L772.9 376.82L773.9 372.6L774.9 373.94L775.9 373.01L776.9 377.43L777.9 376.19L778.9 378.6L779.9 379.19L780.9 379.76L781.9 379.97L782.9 378.64L783.9 382.13L784.9 383.02L785.9 383.12L786.9 379.14L787.9 381.33L788.9 376.96L789.9 380.14L790.9 377.43L791.9 379.86L792.9 378.34L793.9 380.84L794.9 381.89L795.9 383.62L796.91 382.39L797.91 382.49L798.91 379.61L799.91 380.27L800.91 377.98L801.91 380.11L802.91 379.97L803.91 380.6L804.91 381.62L805.91 378.88L806.91 377.49L807.91 379.25L808.91 380.77L809.91 381.43L810.91 379.51L811.91 376.48L812.91 377.78L813.91 379.46L814.91 379.29L815.91 379.06L816.91 377.87L817.91 379.99L818.91 377.87L819.91 379.71L820.91 378.23L821.91 377.18L822.91 377.05L823.91 376.04L824.91 374.66L825.91 378.56L826.91 377.75L827.91 380.37L828.91 381.44L829.91 382.5L830.91 381.22L831.91 383.64L832.91 382.72L833.91 380.72L834.91 381L835.91 378.87L836.91 380.83L837.91 382.32L838.91 380.23L839.91 381.94L840.91 380.71L841.91 381.32L842.91 377.65L843.91 378.04L844.91 379.93L845.91 379.25L846.91 380.86L847.91 378.16L848.91 382.15L849.91 380.24L850.91 380.18L851.91 378.26L852.91 377.94L853.91 379.5L854.91 378.39L855.91 378.41L856.91 380.5L857.91 377.9L858.92 380.5L859.92 380.02L860.92 378.72L861.92 381.29L862.92 382.5L863.92 381.53L864.92 381.43L865.92 380.79L866.92 376.85L867.92 378.75L868.92 381.46L869.92 381.47L870.92 382.01L871.92 383.52L872.92 383.43L873.92 384.49L874.92 381L875.92 382.97L876.92 383.22L877.92 382.56L878.92 384.17L879.92 384.19L880.92 382.86L881.92 383.29L882.92 384L883.92 382.21L884.92 384.8L885.92 381.39L886.92 381.57L887.92 378.71L888.92 379.71L889.92 378.03L890.92 378.41L891.92 377.83L892.92 380.04L893.92 381.64L894.92 379.74L895.92 379.63L896.92 377.48L897.92 377.31L898.92 379.25L899.92 376.45L900.92 377.63L901.92 374.05L902.92 374.31L903.92 372.69L904.92 372.6L905.92 372.6L906.92 372.6L907.92 372.6L908.92 375.97L909.92 373.99L910.92 377.89L911.92 377.13L912.92 380.12L913.92 378.62L914.92 382.22L915.92 379.35L916.92 383.13L917.92 383.38L918.92 381.74L919.92 381.33L920.93 381.31L921.93 379.36L922.93 383.12L923.93 383.03L924.93 382.69L925.93 381.11L926.93 378.4L927.93 377.78L928.93 380.1L929.93 378.46L930.93 380.23L931.93 379.13L932.93 380.52L933.93 381.96L934.93 381.44L935.93 384.04L936.93 380.9L937.93 378.33L938.93 377.29L939.93 377.87L940.93 377.63L941.93 376.9L942.93 378.67L943.93 380.72L944.93 379.1L945.93 380.38L946.93 377.36L947.93 379.6L948.93 378.36L949.93 380.53L950.93 381.88L951.93 383.18L952.93 381.73L953.93 381.07L954.93 378.69L955.93 379.25L956.93 378.47L957.93 378.76L958.93 382.26L959.93 381.28L960.93 379.75L961.93 378.42L962.93 379.98L963.93 381.65L964.93 384.46L965.93 381.4L966.93 383.54L967.93 380.59L968.93 381.96L969.93 381.52L970.93 382.12L971.93 379.79L972.93 381.58L973.93 381.6L974.93 380.67L975.93 379.42L976.93 382.32L977.93 379.15L978.93 379.5L979.93 380.71L980.93 381.9L981.93 381.77L982.93 382.58L983.94 384.07L984.94 382.9L985.94 379.95L986.94 380.99L987.94 380.9L988.94 380.27L989.94 381.66L990.94 382.98L991.94 383.65L992.94 381.89L993.94 383.56L994.94 382.22L995.94 382.28L996.94 383.14L997.94 382.44L998.94 381.58L999.94 380.41L1000.94 379.02L1001.94 379.44L1002.94 379.7L1003.94 379.13L1004.94 381.61L1005.94 380.2L1006.94 378.08L1007.94 377.75L1008.94 377.61L1009.94 380.04L1010.94 378.26L1011.94 378.38L1012.94 381.26L1013.94 381.41L1014.94 378.59L1015.94 379.94L1016.94 378.22L1017.94 381.48L1018.94 378.54L1019.94 380.1L1020.94 381.09L1021.94 378.79L1022.94 379.01L1023.94 380.59L1024.94 378.01L1025.94 382.24L1026.94 380.48L1027.94 377.84L1028.94 377.11L1029.94 380.52L1030.94 378.51L1031.94 381.97L1032.94 379.93L1033.94 377.17L1034.94 378.72L1035.94 377.69L1036.94 377.24L1037.94 376.6L1038.94 377.65L1039.94 378.67L1040.94 378.4L1041.94 379.36L1042.94 379.51L1043.94 382.56L1044.94 382.21L1045.95 378.51L1046.95 378.28L1047.95 378.95L1048.95 380.18L1049.95 383.46L1050.95 382.49L1051.95 378.74L1052.95 379.67L1053.95 380.4L1054.95 378.9L1055.95 381.07L1056.95 378.85L1057.95 379.93L1058.95 381.77L1059.95 377.73L1060.95 376.73L1061.95 375.67L1062.95 375.83L1063.95 375.34L1064.95 374.45L1065.95 375.63L1066.95 374.53L1067.95 377.65L1068.95 377.64L1069.95 377.57L1070.95 378.65L1071.95 378.54L1072.95 377.08L1073.95 377.43L1074.95 377.86L1075.95 379.62L1076.95 382.6L1077.95 380.39L1078.95 379.24L1079.95 378.83L1080.95 379.82L1081.95 381.35L1082.95 379.1L1083.95 379.27L1084.95 380.08L1085.95 382.29L1086.95 382.24L1087.95 382.81L1088.95 382.42L1089.95 379.26L1090.95 381.68L1091.95 379.36L1092.95 380.48L1093.95 380.55L1094.95 378.72L1095.95 383.49L1096.95 381.94L1097.95 383.07L1098.95 385.43L1099.95 384.57L1100.95 383.94L1101.95 383.65L1102.95 382.07L1103.95 379.68L1104.95 380.28L1105.95 383.23L1106.95 384.98L1107.96 384.13L1108.96 384.98L1109.96 383.73L1110.96 383.82L1111.96 382.15L1112.96 381.49L1113.96 381.42L1114.96 381.77L1115.96 382.02L1116.96 382.34L1117.96 382.1L1118.96 381.48L1119.96 381.24L1120.96 383.39L1121.96 381.32L1122.96 381.09L1123.96 382.61L1124.96 379.69L1125.96 380.22L1126.96 379.13L1127.96 380.38L1128.96 378.04L1129.96 380.55L1130.96 379.19L1131.96 379.96L1132.96 381.64L1133.96 381.73L1134.96 379.06L1135.96 381.96L1136.96 378.31L1137.96 379.95L1138.96 377.76L1139.96 376.45L1140.96 377.11L1141.96 375.81L1142.96 375.87L1143.96 380.29L1144.96 380.81L1145.96 380.24L1146.96 379.81L1147.96 380.02L1148.96 381.31L1149.96 381.36L1150.96 381.39L1151.96 381.19L1152.96 379.4L1153.96 380.33L1154.96 377.81L1155.96 379.12L1156.96 381.49L1157.96 380.87L1158.96 382.62L1159.96 379.72L1160.96 381.12L1161.96 379.79L1162.96 381.79L1163.96 383.03L1164.96 380.27L1165.96 381.32L1166.96 378.95L1167.96 381.34L1168.96 384.3L1169.97 384.62L1170.97 384.4L1171.97 384.21L1172.97 384.13L1173.97 381.9L1174.97 382.25L1175.97 381.52L1176.97 383.63L1177.97 384.33L1178.97 380.43L1179.97 379.83L1180.97 378.45L1181.97 381.06L1182.97 381.77L1183.97 379.13L1184.97 382.11L1185.97 381.15L1186.97 383.74L1187.97 383.91L1188.97 380.39L1189.97 379.59L1190.97 380.07L1191.97 381.78L1192.97 380.08L1193.97 378.55L1194.97 378.93L1195.97 382.26L1196.97 381.67L1197.97 380.96L1198.97 382.88L1199.97 381.81L1200.97 381.34L1201.97 382.81L1202.97 381.12L1203.97 380.21L1204.97 382.76L1205.97 381.62L1206.97 381.24L1207.97 383.84L1208.97 382.85L1209.97 382.71L1210.97 381.71L1211.97 382.78L1212.97 381.28L1213.97 381.64L1214.97 383.63L1215.97 381.77L1216.97 383.42L1217.97 383.77L1218.97 384.05L1219.97 383.65L1220.97 384.29L1221.97 383.13L1222.97 380.28L1223.97 381.77L1224.97 380.63L1225.97 380.13L1226.97 381.08L1227.97 381.05L1228.97 379.89L1229.97 378.13L1230.97 380.69L1231.97 382.81L1232.98 384.5L1233.98 383.64L1234.98 381.1L1235.98 383.75L1236.98 381.83L1237.98 383.75L1238.98 384.55L1239.98 379.25L1240.98 379.01L1241.98 378.55L1242.98 376.33L1243.98 378.55L1244.98 381.78L1245.98 381.61L1246.98 381.91L1247.98 383.12L1248.98 382.08L1249.98 381.71L1250.98 383.04L1251.98 383.46L1252.98 378.94L1253.98 378.94L1254.98 380.91L1255.98 378.31L1256.98 378.1L1257.98 379.33L1258.98 379.52L1259.98 382.09L1260.98 383.14L1261.98 378.94L1262.98 379.04L1263.98 377.87L1264.98 377.99L1265.98 379.37L1266.98 382.71L1267.98 380.71L1268.98 385.03L1269.98 383.11L1270.98 382.45L1271.98 382.86L1272.98 382.83L1273.98 381.83L1274.98 384.69L1275.98 381.87L1276.98 383.01L1277.98 382.5L1278.98 379.82L1279.98 382.95L1280.98 384.33L1281.98 381.02L1282.98 380.54L1283.98 379.47L1284.98 378.41L1285.98 381.59L1286.98 381.04L1287.98 380.63L1288.98 383.62L1289.98 382.6L1290.98 382.97L1291.98 379.58L1292.98 382.31L1293.98 382.51L1294.99 381.16L1295.99 384.52L1296.99 382.26L1297.99 383.55L1298.99 382.39L1299.99 381.86L1300.99 381.07L1301.99 379.6L1302.99 381.97L1303.99 381.76L1304.99 380.12L1305.99 381L1306.99 379.56L1307.99 377.02L1308.99 380.95L1309.99 381.26L1310.99 383.53L1311.99 380.86L1312.99 382.07L1313.99 381.66L1314.99 379.89L1315.99 382.34L1316.99 380.79L1317.99 382.45L1318.99 379.87L1319.99 379.8L1320.99 381.89L1321.99 379.26L1322.99 381.9L1323.99 382.55L1324.99 381.28L1325.99 381.74L1326.99 382.32L1327.99 382.01L1328.99 382.53L1329.99 381.8L1330.99 380.1L1331.99 381.75L1332.99 380.25L1333.99 379.07L1334.99 380.3L1335.99 382.91L1336.99 383.3L1337.99 384.77L1338.99 384.26L1339.99 382.65L1340.99 382.88L1341.99 383.57L1342.99 384.9L1343.99 382.54L1344.99 380.79L1345.99 382.51L1346.99 381.84L1347.99 381.82L1348.99 382.15L1349.99 380.2L1350.99 382.99L1351.99 380.89L1352.99 378.18L1353.99 381.36L1354.99 377.98L1355.99 379.31L1357 380.28L1358 378.95L1359 379.27L1360 381.82L1361 380.75L1362 380.69L1363 380.76L1364 381.14L1365 383.09L1366 381.84L1367 384.25L1368 384.18L1369 382.28L1370 382.55L1371 381.88L1372 380.97L1373 382.12L1374 382.33L1375 379.91L1376 377.83L1377 376.28L1378 378.46L1379 380.9L1380 383.55L1381 382.02L1382 382.52L1383 384.25L1384 384.05L1385 381.17L1386 381.94L1387 381.44L1388 382.49L1388 392.2Z" fill="#b1b1b1"/>
<line x1="1164.6" y1="379.92" x2="1164.6" y2="392.2" stroke="#b9937f" stroke-width="0.7"/>
<text x="766.9" y="376" font-size="3.9" fill="#222">[0 - 16]</text>
<line x1="764.6" y1="392.4" x2="1388" y2="392.4" stroke="#a0a0a0" stroke-width="0.5"/>
<line x1="678" y1="400.2" x2="1388" y2="400.2" stroke="#666" stroke-width="0.9"/>
<line x1="678" y1="401.9" x2="1388" y2="401.9" stroke="#d0d0d0" stroke-width="0.6"/>
<text x="679" y="414" font-size="5.15" fill="#111">WN.bam Coverage</text>
<path d="M764.9 422L764.9 418.08L765.9 418.16L766.9 418.26L767.9 418.06L768.9 418L769.9 418.18L770.9 417.97L771.9 418.03L772.9 417.8L773.9 417.66L774.9 417.88L775.9 417.69L776.9 417.76L777.9 417.7L778.9 418.07L779.9 417.94L780.9 417.87L781.9 418.22L782.9 417.95L783.9 418.23L784.9 418.23L785.9 418.19L786.9 417.94L787.9 417.7L788.9 417.99L789.9 417.71L790.9 418.03L791.9 418.24L792.9 417.91L793.9 417.71L794.9 417.75L795.9 417.87L796.91 417.79L797.91 417.88L798.91 418.16L799.91 417.84L800.91 417.59L801.91 417.69L802.91 418.12L803.91 417.8L804.91 417.96L805.91 417.87L806.91 418.14L807.91 417.76L808.91 417.77L809.91 417.93L810.91 417.86L811.91 418.17L812.91 417.92L813.91 417.95L814.91 418.05L815.91 417.88L816.91 417.69L817.91 417.98L818.91 417.85L819.91 418L820.91 417.85L821.91 418.23L822.91 417.7L823.91 417.69L824.91 417.37L825.91 417.78L826.91 417.81L827.91 417.93L828.91 417.66L829.91 417.93L830.91 417.88L831.91 417.68L832.91 417.86L833.91 417.98L834.91 418.03L835.91 418.13L836.91 418.06L837.91 417.75L838.91 418.01L839.91 417.95L840.91 417.66L841.91 417.64L842.91 417.93L843.91 417.99L844.91 417.68L845.91 418.08L846.91 417.82L847.91 417.63L848.91 418.03L849.91 417.88L850.91 414.45L851.91 413.71L852.91 413.96L853.91 415.08L854.91 413.31L855.91 411.98L856.91 413.52L857.91 415.51L858.92 413.74L859.92 414.91L860.92 415.82L861.92 416.34L862.92 414.66L863.92 414.52L864.92 413.25L865.92 415.38L866.92 413.34L867.92 415.26L868.92 414.82L869.92 415.3L870.92 414.83L871.92 415.29L872.92 413.51L873.92 413.27L874.92 415.06L875.92 413.48L876.92 413.2L877.92 414.51L878.92 414.32L879.92 413.09L880.92 412.67L881.92 414.43L882.92 415.04L883.92 413.64L884.92 413.93L885.92 414.85L886.92 414.69L887.92 414.85L888.92 414.31L889.92 413.59L890.92 415L891.92 413.89L892.92 413.07L893.92 413.34L894.92 413.81L895.92 414.21L896.92 415.23L897.92 415.04L898.92 414.94L899.92 415.65L900.92 414.85L901.92 415.21L902.92 415.23L903.92 413.05L904.92 413.49L905.92 410.79L906.92 410.43L907.92 413.32L908.92 409.9L909.92 411.49L910.92 411.5L911.92 412.27L912.92 412.45L913.92 411.16L914.92 411.14L915.92 411.11L916.92 411.6L917.92 409.43L918.92 410.18L919.92 409.7L920.93 411.86L921.93 411.5L922.93 411.39L923.93 409.66L924.93 409.63L925.93 407.85L926.93 409.24L927.93 412.04L928.93 409.05L929.93 408.12L930.93 408.56L931.93 407.13L932.93 407.5L933.93 408.54L934.93 409.06L935.93 411.09L936.93 409.98L937.93 410.65L938.93 409.57L939.93 407.29L940.93 409.82L941.93 407.29L942.93 410.24L943.93 408.77L944.93 408.14L945.93 410.48L946.93 411.9L947.93 411.9L948.93 412.34L949.93 411.45L950.93 410.24L951.93 411.72L952.93 411.7L953.93 409.18L954.93 409.2L955.93 411.27L956.93 409.23L957.93 408.76L958.93 410.11L959.93 411.56L960.93 410.69L961.93 411.35L962.93 411.87L963.93 412.09L964.93 411.23L965.93 411.94L966.93 411.8L967.93 410.74L968.93 411.11L969.93 408.92L970.93 411.82L971.93 411.56L972.93 410.86L973.93 411.14L974.93 407.77L975.93 410.47L976.93 412.17L977.93 410.53L978.93 410.74L979.93 409.02L980.93 408.06L981.93 408.63L982.93 408.55L983.94 408.18L984.94 410.86L985.94 409.16L986.94 410.05L987.94 409.21L988.94 410.05L989.94 412.88L990.94 410.71L991.94 409.24L992.94 411.37L993.94 408.03L994.94 410.5L995.94 409.51L996.94 410.02L997.94 411.47L998.94 409.1L999.94 408.41L1000.94 410.91L1001.94 410.41L1002.94 408.95L1003.94 406.68L1004.94 407.78L1005.94 405.62L1006.94 409.28L1007.94 407.66L1008.94 410.59L1009.94 409.69L1010.94 410.88L1011.94 410.99L1012.94 408.41L1013.94 408.68L1014.94 408.14L1015.94 409.49L1016.94 407.95L1017.94 407.54L1018.94 408.03L1019.94 409.09L1020.94 409.46L1021.94 409.64L1022.94 410.81L1023.94 411.27L1024.94 410.12L1025.94 407.93L1026.94 408.9L1027.94 408.91L1028.94 406.48L1029.94 411.03L1030.94 409.26L1031.94 407.83L1032.94 407.82L1033.94 407.01L1034.94 409.58L1035.94 409.61L1036.94 407.65L1037.94 408.98L1038.94 407.42L1039.94 409.05L1040.94 408.38L1041.94 407.09L1042.94 410.05L1043.94 407.62L1044.94 410.22L1045.95 407.36L1046.95 408.86L1047.95 409.6L1048.95 405.71L1049.95 407.79L1050.95 407.2L1051.95 410.62L1052.95 409.92L1053.95 407.89L1054.95 409.68L1055.95 410.06L1056.95 408.79L1057.95 410.23L1058.95 409.32L1059.95 410.58L1060.95 406.92L1061.95 408.1L1062.95 406.74L1063.95 407.18L1064.95 407.15L1065.95 408.68L1066.95 407.45L1067.95 409.38L1068.95 410.95L1069.95 408.21L1070.95 405.65L1071.95 408.94L1072.95 407.57L1073.95 406.73L1074.95 407.85L1075.95 409.05L1076.95 407.45L1077.95 408.46L1078.95 410.14L1079.95 408.04L1080.95 408.74L1081.95 411.87L1082.95 409.6L1083.95 410.47L1084.95 411.41L1085.95 407.75L1086.95 410.24L1087.95 407.89L1088.95 410.59L1089.95 408.54L1090.95 410.53L1091.95 409.3L1092.95 408.04L1093.95 407.46L1094.95 407.35L1095.95 408.5L1096.95 407.25L1097.95 407.86L1098.95 409.86L1099.95 411.47L1100.95 408.27L1101.95 407.76L1102.95 409.75L1103.95 410.54L1104.95 410.8L1105.95 407.7L1106.95 407.51L1107.96 410.8L1108.96 411.05L1109.96 410.47L1110.96 418.4L1111.96 417.76L1112.96 417.8L1113.96 418.41L1114.96 418.11L1115.96 417.97L1116.96 418.24L1117.96 418.52L1118.96 418.09L1119.96 418.35L1120.96 418.28L1121.96 417.98L1122.96 418.26L1123.96 418.32L1124.96 418.15L1125.96 418.74L1126.96 418.72L1127.96 418.76L1128.96 418.56L1129.96 418.35L1130.96 418.52L1131.96 417.86L1132.96 418.45L1133.96 418.41L1134.96 417.92L1135.96 418.23L1136.96 418.33L1137.96 418.07L1138.96 418.5L1139.96 418.33L1140.96 418.08L1141.96 417.65L1142.96 418.05L1143.96 417.84L1144.96 417.96L1145.96 419.13L1146.96 418.84L1147.96 418.71L1148.96 418.62L1149.96 418.87L1150.96 418.98L1151.96 419.02L1152.96 418.94L1153.96 418.98L1154.96 418.98L1155.96 418.93L1156.96 419.2L1157.96 418.95L1158.96 419.09L1159.96 418.95L1160.96 419.06L1161.96 419.05L1162.96 418.99L1163.96 419.09L1164.96 418.94L1165.96 418.8L1166.96 419.12L1167.96 418.96L1168.96 419.01L1169.97 419.04L1170.97 418.91L1171.97 419.05L1172.97 419.14L1173.97 419.04L1174.97 418.76L1175.97 418.86L1176.97 418.83L1177.97 419.07L1178.97 418.98L1179.97 419.27L1180.97 419.22L1181.97 419.16L1182.97 419.24L1183.97 419.22L1184.97 419.12L1185.97 418.98L1186.97 419.16L1187.97 419.16L1188.97 418.9L1189.97 418.9L1190.97 419.21L1191.97 418.96L1192.97 418.97L1193.97 419.08L1194.97 419.18L1195.97 419.33L1196.97 419.04L1197.97 418.86L1198.97 418.98L1199.97 408.6L1200.97 410.71L1201.97 410.66L1202.97 409.68L1203.97 408.75L1204.97 408.91L1205.97 410.27L1206.97 407.99L1207.97 409.05L1208.97 411.76L1209.97 411.32L1210.97 417.09L1211.97 417.78L1212.97 417.12L1213.97 416.5L1214.97 416.96L1215.97 417.33L1216.97 417.15L1217.97 416.62L1218.97 417.42L1219.97 417.64L1220.97 418.3L1221.97 417.3L1222.97 417.45L1223.97 416.98L1224.97 417.7L1225.97 417.53L1226.97 418.37L1227.97 417.63L1228.97 417.66L1229.97 417.85L1230.97 418.45L1231.97 418.38L1232.98 418.84L1233.98 418.3L1234.98 418.17L1235.98 417.57L1236.98 418.14L1237.98 418.47L1238.98 417.76L1239.98 418.02L1240.98 417.75L1241.98 417.88L1242.98 417.5L1243.98 417.62L1244.98 418.07L1245.98 418.34L1246.98 418.16L1247.98 418.08L1248.98 417.81L1249.98 417.08L1250.98 416.51L1251.98 416.99L1252.98 417.16L1253.98 417.55L1254.98 417.63L1255.98 417.05L1256.98 417.78L1257.98 418.27L1258.98 417.65L1259.98 417.76L1260.98 418.32L1261.98 417.77L1262.98 417.43L1263.98 418.25L1264.98 418.37L1265.98 418.2L1266.98 418.15L1267.98 417.7L1268.98 418.33L1269.98 417.84L1270.98 417.84L1271.98 416.57L1272.98 417.24L1273.98 416.68L1274.98 416.91L1275.98 417.67L1276.98 416.95L1277.98 417.97L1278.98 418.09L1279.98 416.89L1280.98 417.55L1281.98 417.82L1282.98 417.73L1283.98 417.09L1284.98 417.46L1285.98 418.15L1286.98 418.56L1287.98 418.62L1288.98 417.7L1289.98 418.57L1290.98 418.22L1291.98 416.98L1292.98 416.59L1293.98 416.63L1294.99 416.2L1295.99 416.17L1296.99 416.6L1297.99 416.89L1298.99 416.39L1299.99 417.21L1300.99 416.92L1301.99 417.55L1302.99 417.09L1303.99 418.31L1304.99 417.66L1305.99 417.35L1306.99 418.1L1307.99 417.5L1308.99 417.94L1309.99 417.7L1310.99 417.86L1311.99 417.99L1312.99 418.39L1313.99 418.06L1314.99 417.1L1315.99 416.76L1316.99 416.23L1317.99 416.87L1318.99 417.19L1319.99 418.17L1320.99 417.31L1321.99 416.8L1322.99 416.25L1323.99 416.68L1324.99 417.55L1325.99 417.45L1326.99 417.35L1327.99 416.3L1328.99 416.59L1329.99 415.29L1330.99 414.49L1331.99 413.54L1332.99 413.45L1333.99 414.56L1334.99 415.08L1335.99 415.63L1336.99 416.95L1337.99 417.46L1338.99 417.41L1339.99 418.74L1340.99 418.39L1341.99 418.82L1342.99 418.24L1343.99 418.05L1344.99 417.69L1345.99 417.98L1346.99 418.22L1347.99 417.19L1348.99 417.95L1349.99 418.2L1350.99 417.97L1351.99 417.66L1352.99 417.14L1353.99 417L1354.99 417.48L1355.99 416.88L1357 417.45L1358 416.79L1359 417.34L1360 417.04L1361 417.05L1362 417.77L1363 416.85L1364 417.01L1365 417.27L1366 417.48L1367 417.72L1368 417.36L1369 417.61L1370 418.61L1371 417.35L1372 417.23L1373 416.44L1374 416.73L1375 416.34L1376 415.4L1377 415.99L1378 416.64L1379 417.11L1380 417.76L1381 418.03L1382 418.18L1383 418.34L1384 418.15L1385 417.81L1386 417.4L1387 417.42L1388 417.04L1388 422Z" fill="#b1b1b1"/>
<rect x="770.3" y="419.99" width="1.25" height="2.01" fill="#1fa04e"/>
<rect x="770.3" y="417.97" width="1.25" height="2.01" fill="#f0321e"/>
<rect x="802.31" y="419.87" width="1.25" height="2.13" fill="#1fa04e"/>
<rect x="802.31" y="418.12" width="1.25" height="1.75" fill="#b1b1b1"/>
<rect x="809.31" y="419.94" width="1.25" height="2.06" fill="#b1b1b1"/>
<rect x="809.31" y="417.93" width="1.25" height="2.01" fill="#b1b1b1"/>
<rect x="837.31" y="420.89" width="1.25" height="1.11" fill="#1fa04e"/>
<rect x="837.31" y="417.75" width="1.25" height="3.13" fill="#f0321e"/>
<rect x="840.31" y="420.38" width="1.25" height="1.62" fill="#ee7d2a"/>
<rect x="840.31" y="417.66" width="1.25" height="2.72" fill="#f0321e"/>
<rect x="851.31" y="418.24" width="1.25" height="3.76" fill="#ee7d2a"/>
<rect x="851.31" y="413.71" width="1.25" height="4.53" fill="#f0321e"/>
<rect x="854.31" y="419.74" width="1.25" height="2.26" fill="#ee7d2a"/>
<rect x="854.31" y="413.31" width="1.25" height="6.43" fill="#f0321e"/>
<rect x="855.31" y="419.31" width="1.25" height="2.69" fill="#ee7d2a"/>
<rect x="855.31" y="411.98" width="1.25" height="7.33" fill="#f0321e"/>
<rect x="856.31" y="417.36" width="1.25" height="4.64" fill="#b1b1b1"/>
<rect x="856.31" y="413.52" width="1.25" height="3.84" fill="#f0321e"/>
<rect x="857.31" y="418.33" width="1.25" height="3.67" fill="#1fa04e"/>
<rect x="857.31" y="415.51" width="1.25" height="2.83" fill="#f0321e"/>
<rect x="858.32" y="419.2" width="1.25" height="2.8" fill="#1fa04e"/>
<rect x="858.32" y="413.74" width="1.25" height="5.46" fill="#b1b1b1"/>
<rect x="860.32" y="420.19" width="1.25" height="1.81" fill="#2546c0"/>
<rect x="860.32" y="415.82" width="1.25" height="4.36" fill="#f0321e"/>
<rect x="868.32" y="419.73" width="1.25" height="2.27" fill="#2546c0"/>
<rect x="868.32" y="414.82" width="1.25" height="4.92" fill="#f0321e"/>
<rect x="869.32" y="418.07" width="1.25" height="3.93" fill="#1fa04e"/>
<rect x="869.32" y="415.3" width="1.25" height="2.77" fill="#f0321e"/>
<rect x="870.32" y="419.94" width="1.25" height="2.06" fill="#1fa04e"/>
<rect x="870.32" y="414.83" width="1.25" height="5.12" fill="#ee7d2a"/>
<rect x="871.32" y="419.71" width="1.25" height="2.29" fill="#2546c0"/>
<rect x="871.32" y="415.29" width="1.25" height="4.43" fill="#f0321e"/>
<rect x="874.32" y="419.92" width="1.25" height="2.08" fill="#2546c0"/>
<rect x="874.32" y="415.06" width="1.25" height="4.85" fill="#b1b1b1"/>
<rect x="875.32" y="418.88" width="1.25" height="3.12" fill="#2546c0"/>
<rect x="875.32" y="413.48" width="1.25" height="5.39" fill="#b1b1b1"/>
<rect x="876.32" y="417.45" width="1.25" height="4.55" fill="#1fa04e"/>
<rect x="876.32" y="413.2" width="1.25" height="4.25" fill="#f0321e"/>
<rect x="881.32" y="418.13" width="1.25" height="3.87" fill="#ee7d2a"/>
<rect x="881.32" y="414.43" width="1.25" height="3.7" fill="#f0321e"/>
<rect x="883.32" y="419.22" width="1.25" height="2.78" fill="#b1b1b1"/>
<rect x="883.32" y="413.64" width="1.25" height="5.58" fill="#f0321e"/>
<rect x="885.32" y="419.68" width="1.25" height="2.32" fill="#2546c0"/>
<rect x="885.32" y="414.85" width="1.25" height="4.83" fill="#f0321e"/>
<rect x="886.32" y="418.69" width="1.25" height="3.31" fill="#ee7d2a"/>
<rect x="886.32" y="414.69" width="1.25" height="4" fill="#ee7d2a"/>
<rect x="888.32" y="417.91" width="1.25" height="4.09" fill="#2546c0"/>
<rect x="888.32" y="414.31" width="1.25" height="3.6" fill="#f0321e"/>
<rect x="889.32" y="418.79" width="1.25" height="3.21" fill="#1fa04e"/>
<rect x="889.32" y="413.59" width="1.25" height="5.2" fill="#b1b1b1"/>
<rect x="890.32" y="419.99" width="1.25" height="2.01" fill="#2546c0"/>
<rect x="890.32" y="415" width="1.25" height="4.99" fill="#f0321e"/>
<rect x="891.32" y="418.3" width="1.25" height="3.7" fill="#b1b1b1"/>
<rect x="891.32" y="413.89" width="1.25" height="4.41" fill="#b1b1b1"/>
<rect x="893.32" y="417.03" width="1.25" height="4.97" fill="#b1b1b1"/>
<rect x="893.32" y="413.34" width="1.25" height="3.69" fill="#ee7d2a"/>
<rect x="896.32" y="419.87" width="1.25" height="2.13" fill="#2546c0"/>
<rect x="896.32" y="415.23" width="1.25" height="4.64" fill="#f0321e"/>
<rect x="897.32" y="417.97" width="1.25" height="4.03" fill="#2546c0"/>
<rect x="897.32" y="415.04" width="1.25" height="2.93" fill="#f0321e"/>
<rect x="898.32" y="419.57" width="1.25" height="2.43" fill="#b1b1b1"/>
<rect x="898.32" y="414.94" width="1.25" height="4.63" fill="#f0321e"/>
<rect x="902.32" y="418.43" width="1.25" height="3.57" fill="#ee7d2a"/>
<rect x="902.32" y="415.23" width="1.25" height="3.2" fill="#f0321e"/>
<rect x="904.32" y="417.95" width="1.25" height="4.05" fill="#1fa04e"/>
<rect x="904.32" y="413.49" width="1.25" height="4.46" fill="#f0321e"/>
<rect x="926.33" y="416.8" width="1.25" height="5.2" fill="#1fa04e"/>
<rect x="926.33" y="409.24" width="1.25" height="7.56" fill="#f0321e"/>
<rect x="934.33" y="414.43" width="1.25" height="7.57" fill="#1fa04e"/>
<rect x="934.33" y="409.06" width="1.25" height="5.37" fill="#ee7d2a"/>
<rect x="945.33" y="417.3" width="1.25" height="4.7" fill="#1fa04e"/>
<rect x="945.33" y="410.48" width="1.25" height="6.82" fill="#f0321e"/>
<rect x="947.33" y="417.48" width="1.25" height="4.52" fill="#b1b1b1"/>
<rect x="947.33" y="411.9" width="1.25" height="5.58" fill="#b1b1b1"/>
<rect x="948.33" y="419.29" width="1.25" height="2.71" fill="#ee7d2a"/>
<rect x="948.33" y="412.34" width="1.25" height="6.96" fill="#f0321e"/>
<rect x="954.33" y="415.81" width="1.25" height="6.19" fill="#2546c0"/>
<rect x="954.33" y="409.2" width="1.25" height="6.61" fill="#f0321e"/>
<rect x="956.33" y="416.58" width="1.25" height="5.42" fill="#2546c0"/>
<rect x="956.33" y="409.23" width="1.25" height="7.36" fill="#b1b1b1"/>
<rect x="957.33" y="418.53" width="1.25" height="3.47" fill="#b1b1b1"/>
<rect x="957.33" y="408.76" width="1.25" height="9.76" fill="#f0321e"/>
<rect x="958.33" y="417.08" width="1.25" height="4.92" fill="#b1b1b1"/>
<rect x="958.33" y="410.11" width="1.25" height="6.97" fill="#f0321e"/>
<rect x="960.33" y="417.1" width="1.25" height="4.9" fill="#ee7d2a"/>
<rect x="960.33" y="410.69" width="1.25" height="6.4" fill="#f0321e"/>
<rect x="961.33" y="417.66" width="1.25" height="4.34" fill="#2546c0"/>
<rect x="961.33" y="411.35" width="1.25" height="6.32" fill="#ee7d2a"/>
<rect x="962.33" y="417.74" width="1.25" height="4.26" fill="#2546c0"/>
<rect x="962.33" y="411.87" width="1.25" height="5.88" fill="#f0321e"/>
<rect x="966.33" y="417.15" width="1.25" height="4.85" fill="#2546c0"/>
<rect x="966.33" y="411.8" width="1.25" height="5.35" fill="#b1b1b1"/>
<rect x="968.33" y="418.93" width="1.25" height="3.07" fill="#2546c0"/>
<rect x="968.33" y="411.11" width="1.25" height="7.82" fill="#ee7d2a"/>
<rect x="971.33" y="415.8" width="1.25" height="6.2" fill="#1fa04e"/>
<rect x="971.33" y="411.56" width="1.25" height="4.23" fill="#b1b1b1"/>
<rect x="972.33" y="416.78" width="1.25" height="5.22" fill="#1fa04e"/>
<rect x="972.33" y="410.86" width="1.25" height="5.92" fill="#f0321e"/>
<rect x="976.33" y="417.6" width="1.25" height="4.4" fill="#2546c0"/>
<rect x="976.33" y="412.17" width="1.25" height="5.43" fill="#b1b1b1"/>
<rect x="977.33" y="418.23" width="1.25" height="3.77" fill="#b1b1b1"/>
<rect x="977.33" y="410.53" width="1.25" height="7.71" fill="#f0321e"/>
<rect x="979.33" y="415.08" width="1.25" height="6.92" fill="#1fa04e"/>
<rect x="979.33" y="409.02" width="1.25" height="6.06" fill="#f0321e"/>
<rect x="981.33" y="414.26" width="1.25" height="7.74" fill="#2546c0"/>
<rect x="981.33" y="408.63" width="1.25" height="5.63" fill="#f0321e"/>
<rect x="982.33" y="415.58" width="1.25" height="6.42" fill="#2546c0"/>
<rect x="982.33" y="408.55" width="1.25" height="7.03" fill="#ee7d2a"/>
<rect x="983.34" y="417.49" width="1.25" height="4.51" fill="#2546c0"/>
<rect x="983.34" y="408.18" width="1.25" height="9.31" fill="#f0321e"/>
<rect x="984.34" y="416.49" width="1.25" height="5.51" fill="#1fa04e"/>
<rect x="984.34" y="410.86" width="1.25" height="5.63" fill="#f0321e"/>
<rect x="986.34" y="415.35" width="1.25" height="6.65" fill="#1fa04e"/>
<rect x="986.34" y="410.05" width="1.25" height="5.3" fill="#ee7d2a"/>
<rect x="989.34" y="418.18" width="1.25" height="3.82" fill="#ee7d2a"/>
<rect x="989.34" y="412.88" width="1.25" height="5.29" fill="#b1b1b1"/>
<rect x="991.34" y="414.54" width="1.25" height="7.46" fill="#1fa04e"/>
<rect x="991.34" y="409.24" width="1.25" height="5.31" fill="#f0321e"/>
<rect x="992.34" y="417.43" width="1.25" height="4.57" fill="#b1b1b1"/>
<rect x="992.34" y="411.37" width="1.25" height="6.06" fill="#b1b1b1"/>
<rect x="993.34" y="418.16" width="1.25" height="3.84" fill="#ee7d2a"/>
<rect x="993.34" y="408.03" width="1.25" height="10.13" fill="#f0321e"/>
<rect x="994.34" y="419.1" width="1.25" height="2.9" fill="#ee7d2a"/>
<rect x="994.34" y="410.5" width="1.25" height="8.6" fill="#b1b1b1"/>
<rect x="995.34" y="414.72" width="1.25" height="7.28" fill="#1fa04e"/>
<rect x="995.34" y="409.51" width="1.25" height="5.21" fill="#f0321e"/>
<rect x="996.34" y="415.55" width="1.25" height="6.45" fill="#1fa04e"/>
<rect x="996.34" y="410.02" width="1.25" height="5.52" fill="#b1b1b1"/>
<rect x="997.34" y="418.86" width="1.25" height="3.14" fill="#ee7d2a"/>
<rect x="997.34" y="411.47" width="1.25" height="7.4" fill="#f0321e"/>
<rect x="998.34" y="415.32" width="1.25" height="6.68" fill="#2546c0"/>
<rect x="998.34" y="409.1" width="1.25" height="6.21" fill="#f0321e"/>
<rect x="1001.34" y="415.07" width="1.25" height="6.93" fill="#b1b1b1"/>
<rect x="1001.34" y="410.41" width="1.25" height="4.66" fill="#ee7d2a"/>
<rect x="1007.34" y="416.66" width="1.25" height="5.34" fill="#ee7d2a"/>
<rect x="1007.34" y="407.66" width="1.25" height="9" fill="#ee7d2a"/>
<rect x="1009.34" y="415.17" width="1.25" height="6.83" fill="#2546c0"/>
<rect x="1009.34" y="409.69" width="1.25" height="5.49" fill="#f0321e"/>
<rect x="1010.34" y="416.3" width="1.25" height="5.7" fill="#ee7d2a"/>
<rect x="1010.34" y="410.88" width="1.25" height="5.42" fill="#f0321e"/>
<rect x="1012.34" y="414.66" width="1.25" height="7.34" fill="#ee7d2a"/>
<rect x="1012.34" y="408.41" width="1.25" height="6.24" fill="#f0321e"/>
<rect x="1013.34" y="417.44" width="1.25" height="4.56" fill="#2546c0"/>
<rect x="1013.34" y="408.68" width="1.25" height="8.75" fill="#b1b1b1"/>
<rect x="1014.34" y="416.28" width="1.25" height="5.72" fill="#ee7d2a"/>
<rect x="1014.34" y="408.14" width="1.25" height="8.14" fill="#b1b1b1"/>
<rect x="1015.34" y="415.29" width="1.25" height="6.71" fill="#2546c0"/>
<rect x="1015.34" y="409.49" width="1.25" height="5.8" fill="#f0321e"/>
<rect x="1018.34" y="414.34" width="1.25" height="7.66" fill="#b1b1b1"/>
<rect x="1018.34" y="408.03" width="1.25" height="6.3" fill="#b1b1b1"/>
<rect x="1019.34" y="416.59" width="1.25" height="5.41" fill="#2546c0"/>
<rect x="1019.34" y="409.09" width="1.25" height="7.5" fill="#f0321e"/>
<rect x="1022.34" y="417.96" width="1.25" height="4.04" fill="#b1b1b1"/>
<rect x="1022.34" y="410.81" width="1.25" height="7.14" fill="#ee7d2a"/>
<rect x="1023.34" y="415.96" width="1.25" height="6.04" fill="#2546c0"/>
<rect x="1023.34" y="411.27" width="1.25" height="4.69" fill="#f0321e"/>
<rect x="1026.34" y="416.46" width="1.25" height="5.54" fill="#ee7d2a"/>
<rect x="1026.34" y="408.9" width="1.25" height="7.56" fill="#f0321e"/>
<rect x="1028.34" y="415.27" width="1.25" height="6.73" fill="#1fa04e"/>
<rect x="1028.34" y="406.48" width="1.25" height="8.78" fill="#f0321e"/>
<rect x="1029.34" y="415.5" width="1.25" height="6.5" fill="#b1b1b1"/>
<rect x="1029.34" y="411.03" width="1.25" height="4.47" fill="#f0321e"/>
<rect x="1030.34" y="417.71" width="1.25" height="4.29" fill="#2546c0"/>
<rect x="1030.34" y="409.26" width="1.25" height="8.46" fill="#b1b1b1"/>
<rect x="1032.34" y="416.3" width="1.25" height="5.7" fill="#1fa04e"/>
<rect x="1032.34" y="407.82" width="1.25" height="8.48" fill="#f0321e"/>
<rect x="1033.34" y="417.64" width="1.25" height="4.36" fill="#b1b1b1"/>
<rect x="1033.34" y="407.01" width="1.25" height="10.63" fill="#f0321e"/>
<rect x="1034.34" y="416.94" width="1.25" height="5.06" fill="#ee7d2a"/>
<rect x="1034.34" y="409.58" width="1.25" height="7.36" fill="#f0321e"/>
<rect x="1037.34" y="418.3" width="1.25" height="3.7" fill="#2546c0"/>
<rect x="1037.34" y="408.98" width="1.25" height="9.32" fill="#b1b1b1"/>
<rect x="1039.34" y="414.63" width="1.25" height="7.37" fill="#ee7d2a"/>
<rect x="1039.34" y="409.05" width="1.25" height="5.58" fill="#ee7d2a"/>
<rect x="1041.34" y="418.1" width="1.25" height="3.9" fill="#2546c0"/>
<rect x="1041.34" y="407.09" width="1.25" height="11.01" fill="#f0321e"/>
<rect x="1042.34" y="416.43" width="1.25" height="5.57" fill="#b1b1b1"/>
<rect x="1042.34" y="410.05" width="1.25" height="6.38" fill="#b1b1b1"/>
<rect x="1044.34" y="418.12" width="1.25" height="3.88" fill="#2546c0"/>
<rect x="1044.34" y="410.22" width="1.25" height="7.9" fill="#f0321e"/>
<rect x="1045.35" y="414.25" width="1.25" height="7.75" fill="#b1b1b1"/>
<rect x="1045.35" y="407.36" width="1.25" height="6.89" fill="#b1b1b1"/>
<rect x="1046.35" y="415.5" width="1.25" height="6.5" fill="#1fa04e"/>
<rect x="1046.35" y="408.86" width="1.25" height="6.63" fill="#ee7d2a"/>
<rect x="1047.35" y="416.98" width="1.25" height="5.02" fill="#ee7d2a"/>
<rect x="1047.35" y="409.6" width="1.25" height="7.38" fill="#f0321e"/>
<rect x="1048.35" y="415.52" width="1.25" height="6.48" fill="#1fa04e"/>
<rect x="1048.35" y="405.71" width="1.25" height="9.81" fill="#b1b1b1"/>
<rect x="1050.35" y="413.54" width="1.25" height="8.46" fill="#1fa04e"/>
<rect x="1050.35" y="407.2" width="1.25" height="6.35" fill="#b1b1b1"/>
<rect x="1051.35" y="416.2" width="1.25" height="5.8" fill="#1fa04e"/>
<rect x="1051.35" y="410.62" width="1.25" height="5.58" fill="#ee7d2a"/>
<rect x="1054.35" y="415.04" width="1.25" height="6.96" fill="#1fa04e"/>
<rect x="1054.35" y="409.68" width="1.25" height="5.36" fill="#ee7d2a"/>
<rect x="1055.35" y="416.8" width="1.25" height="5.2" fill="#1fa04e"/>
<rect x="1055.35" y="410.06" width="1.25" height="6.73" fill="#f0321e"/>
<rect x="1056.35" y="414.12" width="1.25" height="7.88" fill="#1fa04e"/>
<rect x="1056.35" y="408.79" width="1.25" height="5.33" fill="#b1b1b1"/>
<rect x="1057.35" y="415.64" width="1.25" height="6.36" fill="#ee7d2a"/>
<rect x="1057.35" y="410.23" width="1.25" height="5.4" fill="#f0321e"/>
<rect x="1058.35" y="414.91" width="1.25" height="7.09" fill="#b1b1b1"/>
<rect x="1058.35" y="409.32" width="1.25" height="5.59" fill="#f0321e"/>
<rect x="1060.35" y="414.71" width="1.25" height="7.29" fill="#1fa04e"/>
<rect x="1060.35" y="406.92" width="1.25" height="7.8" fill="#f0321e"/>
<rect x="1061.35" y="417.73" width="1.25" height="4.27" fill="#ee7d2a"/>
<rect x="1061.35" y="408.1" width="1.25" height="9.63" fill="#b1b1b1"/>
<rect x="1062.35" y="415.5" width="1.25" height="6.5" fill="#1fa04e"/>
<rect x="1062.35" y="406.74" width="1.25" height="8.76" fill="#f0321e"/>
<rect x="1063.35" y="416.95" width="1.25" height="5.05" fill="#ee7d2a"/>
<rect x="1063.35" y="407.18" width="1.25" height="9.77" fill="#f0321e"/>
<rect x="1064.35" y="414.33" width="1.25" height="7.67" fill="#1fa04e"/>
<rect x="1064.35" y="407.15" width="1.25" height="7.18" fill="#ee7d2a"/>
<rect x="1069.35" y="415.86" width="1.25" height="6.14" fill="#b1b1b1"/>
<rect x="1069.35" y="408.21" width="1.25" height="7.65" fill="#f0321e"/>
<rect x="1070.35" y="414.79" width="1.25" height="7.21" fill="#1fa04e"/>
<rect x="1070.35" y="405.65" width="1.25" height="9.14" fill="#f0321e"/>
<rect x="1072.35" y="417.24" width="1.25" height="4.76" fill="#2546c0"/>
<rect x="1072.35" y="407.57" width="1.25" height="9.66" fill="#f0321e"/>
<rect x="1074.35" y="418.3" width="1.25" height="3.7" fill="#b1b1b1"/>
<rect x="1074.35" y="407.85" width="1.25" height="10.45" fill="#f0321e"/>
<rect x="1075.35" y="417.77" width="1.25" height="4.23" fill="#2546c0"/>
<rect x="1075.35" y="409.05" width="1.25" height="8.72" fill="#f0321e"/>
<rect x="1077.35" y="415.28" width="1.25" height="6.72" fill="#ee7d2a"/>
<rect x="1077.35" y="408.46" width="1.25" height="6.82" fill="#f0321e"/>
<rect x="1078.35" y="417.21" width="1.25" height="4.79" fill="#1fa04e"/>
<rect x="1078.35" y="410.14" width="1.25" height="7.08" fill="#ee7d2a"/>
<rect x="1080.35" y="417.52" width="1.25" height="4.48" fill="#2546c0"/>
<rect x="1080.35" y="408.74" width="1.25" height="8.78" fill="#b1b1b1"/>
<rect x="1082.35" y="416.74" width="1.25" height="5.26" fill="#1fa04e"/>
<rect x="1082.35" y="409.6" width="1.25" height="7.14" fill="#f0321e"/>
<rect x="1085.35" y="417.33" width="1.25" height="4.67" fill="#2546c0"/>
<rect x="1085.35" y="407.75" width="1.25" height="9.59" fill="#f0321e"/>
<rect x="1087.35" y="416.85" width="1.25" height="5.15" fill="#1fa04e"/>
<rect x="1087.35" y="407.89" width="1.25" height="8.96" fill="#f0321e"/>
<rect x="1088.35" y="418.77" width="1.25" height="3.23" fill="#ee7d2a"/>
<rect x="1088.35" y="410.59" width="1.25" height="8.18" fill="#f0321e"/>
<rect x="1092.35" y="413.99" width="1.25" height="8.01" fill="#ee7d2a"/>
<rect x="1092.35" y="408.04" width="1.25" height="5.94" fill="#b1b1b1"/>
<rect x="1093.35" y="417.53" width="1.25" height="4.47" fill="#ee7d2a"/>
<rect x="1093.35" y="407.46" width="1.25" height="10.07" fill="#f0321e"/>
<rect x="1095.35" y="417.49" width="1.25" height="4.51" fill="#2546c0"/>
<rect x="1095.35" y="408.5" width="1.25" height="8.99" fill="#f0321e"/>
<rect x="1096.35" y="415.77" width="1.25" height="6.23" fill="#ee7d2a"/>
<rect x="1096.35" y="407.25" width="1.25" height="8.52" fill="#ee7d2a"/>
<rect x="1099.35" y="417.79" width="1.25" height="4.21" fill="#b1b1b1"/>
<rect x="1099.35" y="411.47" width="1.25" height="6.32" fill="#f0321e"/>
<rect x="1100.35" y="416.67" width="1.25" height="5.33" fill="#2546c0"/>
<rect x="1100.35" y="408.27" width="1.25" height="8.4" fill="#f0321e"/>
<rect x="1102.35" y="417.94" width="1.25" height="4.06" fill="#1fa04e"/>
<rect x="1102.35" y="409.75" width="1.25" height="8.18" fill="#f0321e"/>
<rect x="1103.35" y="416.32" width="1.25" height="5.68" fill="#b1b1b1"/>
<rect x="1103.35" y="410.54" width="1.25" height="5.78" fill="#f0321e"/>
<rect x="1105.35" y="417.52" width="1.25" height="4.48" fill="#1fa04e"/>
<rect x="1105.35" y="407.7" width="1.25" height="9.81" fill="#ee7d2a"/>
<rect x="1106.35" y="414.81" width="1.25" height="7.19" fill="#2546c0"/>
<rect x="1106.35" y="407.51" width="1.25" height="7.3" fill="#f0321e"/>
<rect x="1107.36" y="416" width="1.25" height="6" fill="#2546c0"/>
<rect x="1107.36" y="410.8" width="1.25" height="5.19" fill="#f0321e"/>
<rect x="1115.36" y="418.27" width="1.25" height="3.73" fill="#2546c0"/>
<rect x="1115.36" y="413.29" width="1.25" height="4.98" fill="#ee7d2a"/>
<rect x="1117.36" y="419.85" width="1.25" height="2.15" fill="#1fa04e"/>
<rect x="1117.36" y="413.74" width="1.25" height="6.11" fill="#f0321e"/>
<rect x="1120.36" y="418.34" width="1.25" height="3.66" fill="#b1b1b1"/>
<rect x="1120.36" y="414.67" width="1.25" height="3.67" fill="#f0321e"/>
<rect x="1123.36" y="419.06" width="1.25" height="2.94" fill="#1fa04e"/>
<rect x="1123.36" y="413.84" width="1.25" height="5.22" fill="#f0321e"/>
<rect x="1133.36" y="419.22" width="1.25" height="2.78" fill="#ee7d2a"/>
<rect x="1133.36" y="415.1" width="1.25" height="4.12" fill="#b1b1b1"/>
<rect x="1199.37" y="416.87" width="1.25" height="5.13" fill="#2546c0"/>
<rect x="1199.37" y="408.6" width="1.25" height="8.27" fill="#f0321e"/>
<rect x="1200.37" y="417.96" width="1.25" height="4.04" fill="#b1b1b1"/>
<rect x="1200.37" y="410.71" width="1.25" height="7.25" fill="#ee7d2a"/>
<rect x="1201.37" y="418.09" width="1.25" height="3.91" fill="#1fa04e"/>
<rect x="1201.37" y="410.66" width="1.25" height="7.42" fill="#f0321e"/>
<rect x="1202.37" y="418.3" width="1.25" height="3.7" fill="#2546c0"/>
<rect x="1202.37" y="409.68" width="1.25" height="8.62" fill="#ee7d2a"/>
<rect x="1203.37" y="415.75" width="1.25" height="6.25" fill="#b1b1b1"/>
<rect x="1203.37" y="408.75" width="1.25" height="7" fill="#ee7d2a"/>
<rect x="1204.37" y="414.22" width="1.25" height="7.78" fill="#1fa04e"/>
<rect x="1204.37" y="408.91" width="1.25" height="5.31" fill="#f0321e"/>
<rect x="1205.37" y="416.08" width="1.25" height="5.92" fill="#1fa04e"/>
<rect x="1205.37" y="410.27" width="1.25" height="5.81" fill="#f0321e"/>
<rect x="1207.37" y="417.74" width="1.25" height="4.26" fill="#2546c0"/>
<rect x="1207.37" y="409.05" width="1.25" height="8.69" fill="#b1b1b1"/>
<rect x="1209.37" y="419.07" width="1.25" height="2.93" fill="#1fa04e"/>
<rect x="1209.37" y="411.32" width="1.25" height="7.75" fill="#f0321e"/>
<rect x="1318.39" y="419.22" width="1.25" height="2.78" fill="#2546c0"/>
<rect x="1318.39" y="417.19" width="1.25" height="2.04" fill="#f0321e"/>
<rect x="1366.4" y="420.52" width="1.25" height="1.48" fill="#b1b1b1"/>
<rect x="1366.4" y="417.72" width="1.25" height="2.8" fill="#b1b1b1"/>
<text x="766.9" y="406" font-size="3.9" fill="#222">[0 - 154]</text>
<line x1="764.6" y1="422.2" x2="1388" y2="422.2" stroke="#a0a0a0" stroke-width="0.5"/>
<line x1="678" y1="428.3" x2="1388" y2="428.3" stroke="#666" stroke-width="0.9"/>
<line x1="678" y1="430" x2="1388" y2="430" stroke="#d0d0d0" stroke-width="0.6"/>
<text x="679" y="442" font-size="5.15" fill="#111">Genes</text>
<line x1="927" y1="436.3" x2="1210" y2="436.3" stroke="#5b6cc4" stroke-width="0.6"/>
<path d="M975.9 435.3l-1.2 1 1.2 1M992.9 435.3l-1.2 1 1.2 1M1019.9 435.3l-1.2 1 1.2 1M1024.9 435.3l-1.2 1 1.2 1M1054.7 435.3l-1.2 1 1.2 1M1070.05 435.3l-1.2 1 1.2 1M1085.4 435.3l-1.2 1 1.2 1M1100.75 435.3l-1.2 1 1.2 1M1116.1 435.3l-1.2 1 1.2 1M1131.45 435.3l-1.2 1 1.2 1M1146.8 435.3l-1.2 1 1.2 1M1162.15 435.3l-1.2 1 1.2 1M1177.5 435.3l-1.2 1 1.2 1M1192.85 435.3l-1.2 1 1.2 1" fill="none" stroke="#3a4bb0" stroke-width="0.6"/>
<rect x="927" y="434.6" width="21" height="3.4" fill="#2a3b9c"/>
<rect x="948" y="433" width="3.6" height="6.6" fill="#2a3b9c"/>
<rect x="955.6" y="433" width="2.8" height="6.6" fill="#2a3b9c"/>
<rect x="961" y="433" width="2" height="6.6" fill="#2a3b9c"/>
<rect x="968.6" y="433" width="3" height="6.6" fill="#2a3b9c"/>
<rect x="981.2" y="433" width="3.8" height="6.6" fill="#2a3b9c"/>
<rect x="1001" y="433" width="4.6" height="6.6" fill="#2a3b9c"/>
<rect x="1008.6" y="433" width="4.4" height="6.6" fill="#2a3b9c"/>
<rect x="1032.2" y="433" width="13.9" height="6.6" fill="#2a3b9c"/>
<rect x="1205" y="433" width="2.8" height="6.6" fill="#2a3b9c"/>
<rect x="1207.8" y="434.6" width="2.4" height="3.4" fill="#2a3b9c"/>
<text x="1068" y="448.4" font-size="5" font-weight="bold" text-anchor="middle" fill="#111">St6galnac1</text>
<line x1="764.6" y1="450.4" x2="1388" y2="450.4" stroke="#ededed" stroke-width="0.6"/>
</g>
<g id="panelC">
<text transform="translate(1411.33 35.1) scale(0.9302 1.0406)" font-size="49" font-weight="bold">C</text>
<defs><linearGradient id="cb" x1="0" y1="1" x2="0" y2="0"><stop offset="0" stop-color="#FFFBE0"/><stop offset="0.125" stop-color="#FFF5BE"/><stop offset="0.25" stop-color="#FEE596"/><stop offset="0.375" stop-color="#FEC655"/><stop offset="0.5" stop-color="#F99226"/><stop offset="0.625" stop-color="#E87222"/><stop offset="0.75" stop-color="#CB5228"/><stop offset="0.875" stop-color="#9A3A22"/><stop offset="1" stop-color="#6B2A17"/></linearGradient><clipPath id="cclip"><rect x="1514.2" y="66" width="386.7" height="374.7"/></clipPath></defs>
<rect x="1514.2" y="75.7" width="386.7" height="55.2" fill="#000" fill-opacity="0.055"/>
<rect x="1514.2" y="247.1" width="386.7" height="19.2" fill="#000" fill-opacity="0.055"/>
<rect x="1514.2" y="373.6" width="386.7" height="12.3" fill="#000" fill-opacity="0.055"/>
<rect x="1639.5" y="66" width="57.5" height="374.7" fill="#000" fill-opacity="0.055"/>
<g clip-path="url(#cclip)" fill="none" stroke-width="3.5">
<path d="M1623.1 147.4L1708.4 64" stroke="#84301B"/>
<path d="M1641.9 267.6L1677.6 233.6" stroke="#E36C20"/>
<path d="M1677.3 226.5L1684.8 221.9" stroke="#FEEDA9"/>
<path d="M1693.6 223.2L1698 219.4" stroke="#FEC654"/>
<path d="M1589.4 445L1677.6 360.7" stroke="#84301B"/>
<path d="M1677.3 353.5L1684.8 349" stroke="#FEEDA9"/>
<path d="M1693.6 350L1698 346.5" stroke="#FEC654"/>
</g>
<rect x="1514.2" y="66" width="386.7" height="374.7" fill="none" stroke="#000" stroke-width="1.8"/>
<line x1="1509.3" y1="92.55" x2="1514.2" y2="92.55" stroke="#000" stroke-width="1.5"/>
<text x="1506.4" y="98.15" font-size="16.2" text-anchor="end" fill="#222">106.55</text>
<line x1="1509.3" y1="146.1" x2="1514.2" y2="146.1" stroke="#000" stroke-width="1.5"/>
<text x="1506.4" y="151.7" font-size="16.2" text-anchor="end" fill="#222">106.54</text>
<line x1="1509.3" y1="199.65" x2="1514.2" y2="199.65" stroke="#000" stroke-width="1.5"/>
<text x="1506.4" y="205.25" font-size="16.2" text-anchor="end" fill="#222">106.53</text>
<line x1="1509.3" y1="253.2" x2="1514.2" y2="253.2" stroke="#000" stroke-width="1.5"/>
<text x="1506.4" y="258.8" font-size="16.2" text-anchor="end" fill="#222">106.52</text>
<line x1="1509.3" y1="306.75" x2="1514.2" y2="306.75" stroke="#000" stroke-width="1.5"/>
<text x="1506.4" y="312.35" font-size="16.2" text-anchor="end" fill="#222">106.51</text>
<line x1="1509.3" y1="360.3" x2="1514.2" y2="360.3" stroke="#000" stroke-width="1.5"/>
<text x="1506.4" y="365.9" font-size="16.2" text-anchor="end" fill="#222">106.50</text>
<line x1="1509.3" y1="413.85" x2="1514.2" y2="413.85" stroke="#000" stroke-width="1.5"/>
<text x="1506.4" y="419.45" font-size="16.2" text-anchor="end" fill="#222">106.49</text>
<line x1="1514.3" y1="440.7" x2="1514.3" y2="445.6" stroke="#000" stroke-width="1.5"/>
<text transform="translate(1511 476) rotate(-67)" font-size="15.3" text-anchor="middle" y="5.4" fill="#222">101.95</text>
<line x1="1569.53" y1="440.7" x2="1569.53" y2="445.6" stroke="#000" stroke-width="1.5"/>
<text transform="translate(1566.23 476) rotate(-67)" font-size="15.3" text-anchor="middle" y="5.4" fill="#222">101.96</text>
<line x1="1624.76" y1="440.7" x2="1624.76" y2="445.6" stroke="#000" stroke-width="1.5"/>
<text transform="translate(1621.46 476) rotate(-67)" font-size="15.3" text-anchor="middle" y="5.4" fill="#222">101.97</text>
<line x1="1679.99" y1="440.7" x2="1679.99" y2="445.6" stroke="#000" stroke-width="1.5"/>
<text transform="translate(1676.69 476) rotate(-67)" font-size="15.3" text-anchor="middle" y="5.4" fill="#222">101.98</text>
<line x1="1735.22" y1="440.7" x2="1735.22" y2="445.6" stroke="#000" stroke-width="1.5"/>
<text transform="translate(1731.92 476) rotate(-67)" font-size="15.3" text-anchor="middle" y="5.4" fill="#222">101.99</text>
<line x1="1790.45" y1="440.7" x2="1790.45" y2="445.6" stroke="#000" stroke-width="1.5"/>
<text transform="translate(1787.15 476) rotate(-67)" font-size="15.3" text-anchor="middle" y="5.4" fill="#222">102.00</text>
<line x1="1845.68" y1="440.7" x2="1845.68" y2="445.6" stroke="#000" stroke-width="1.5"/>
<text transform="translate(1842.38 476) rotate(-67)" font-size="15.3" text-anchor="middle" y="5.4" fill="#222">102.01</text>
<line x1="1900.91" y1="440.7" x2="1900.91" y2="445.6" stroke="#000" stroke-width="1.5"/>
<text transform="translate(1897.61 476) rotate(-67)" font-size="15.3" text-anchor="middle" y="5.4" fill="#222">102.02</text>
<text x="1707" y="524.8" font-size="18.5" text-anchor="middle" font-weight="bold" fill="#222">Rat: mRatBN7.2 Chromosome 10</text>
<text x="1707" y="547" font-size="18.5" text-anchor="middle" font-weight="bold" fill="#222">Position (Mb)</text>
<text transform="translate(1424.2 253.3) rotate(-90)" font-size="18.6" text-anchor="middle" font-weight="bold" fill="#222">Rat: SHRSP/BbbUtx Chromosome 10</text>
<text transform="translate(1446.3 253.3) rotate(-90)" font-size="18.6" text-anchor="middle" font-weight="bold" fill="#222">Position (Mb)</text>
<rect x="1918.3" y="66" width="18.9" height="374.7" fill="url(#cb)" stroke="#000" stroke-width="1.8"/>
<line x1="1937.2" y1="65.9" x2="1942.3" y2="65.9" stroke="#000" stroke-width="1.5"/>
<text x="1947.3" y="70.5" font-size="16.2" fill="#222">1.0</text>
<line x1="1937.2" y1="140.87" x2="1942.3" y2="140.87" stroke="#000" stroke-width="1.5"/>
<text x="1947.3" y="145.47" font-size="16.2" fill="#222">0.8</text>
<line x1="1937.2" y1="215.84" x2="1942.3" y2="215.84" stroke="#000" stroke-width="1.5"/>
<text x="1947.3" y="220.44" font-size="16.2" fill="#222">0.6</text>
<line x1="1937.2" y1="290.81" x2="1942.3" y2="290.81" stroke="#000" stroke-width="1.5"/>
<text x="1947.3" y="295.41" font-size="16.2" fill="#222">0.4</text>
<line x1="1937.2" y1="365.78" x2="1942.3" y2="365.78" stroke="#000" stroke-width="1.5"/>
<text x="1947.3" y="370.38" font-size="16.2" fill="#222">0.2</text>
<line x1="1937.2" y1="440.75" x2="1942.3" y2="440.75" stroke="#000" stroke-width="1.5"/>
<text x="1947.3" y="445.35" font-size="16.2" fill="#222">0.0</text>
<text transform="translate(1989 254.5) rotate(-90)" font-size="16.8" text-anchor="middle" fill="#222">% sequence match</text>
</g>
<g id="panelD">
<path d="M171.56 672.81a3.7 3.7 0 1 0 7.4 0a3.7 3.7 0 1 0 -7.4 0M184.72 676.84a3.7 3.7 0 1 0 7.4 0a3.7 3.7 0 1 0 -7.4 0M189.11 678.42a3.7 3.7 0 1 0 7.4 0a3.7 3.7 0 1 0 -7.4 0M191.39 702.11a3.7 3.7 0 1 0 7.4 0a3.7 3.7 0 1 0 -7.4 0M178.05 709.65a3.7 3.7 0 1 0 7.4 0a3.7 3.7 0 1 0 -7.4 0M192.44 715.09a3.7 3.7 0 1 0 7.4 0a3.7 3.7 0 1 0 -7.4 0M198.76 714.56a3.7 3.7 0 1 0 7.4 0a3.7 3.7 0 1 0 -7.4 0M210.16 720a3.7 3.7 0 1 0 7.4 0a3.7 3.7 0 1 0 -7.4 0M172.09 724.39a3.7 3.7 0 1 0 7.4 0a3.7 3.7 0 1 0 -7.4 0M178.05 728.95a3.7 3.7 0 1 0 7.4 0a3.7 3.7 0 1 0 -7.4 0M172.44 731.75a3.7 3.7 0 1 0 7.4 0a3.7 3.7 0 1 0 -7.4 0M183.84 733.86a3.7 3.7 0 1 0 7.4 0a3.7 3.7 0 1 0 -7.4 0M163.84 738.25a3.7 3.7 0 1 0 7.4 0a3.7 3.7 0 1 0 -7.4 0M167.35 748.6a3.7 3.7 0 1 0 7.4 0a3.7 3.7 0 1 0 -7.4 0M228.76 749.47a3.7 3.7 0 1 0 7.4 0a3.7 3.7 0 1 0 -7.4 0M217.35 752.63a3.7 3.7 0 1 0 7.4 0a3.7 3.7 0 1 0 -7.4 0M208.76 762.63a3.7 3.7 0 1 0 7.4 0a3.7 3.7 0 1 0 -7.4 0M217.7 771.4a3.7 3.7 0 1 0 7.4 0a3.7 3.7 0 1 0 -7.4 0M177 782.63a3.7 3.7 0 1 0 7.4 0a3.7 3.7 0 1 0 -7.4 0M194.19 784.56a3.7 3.7 0 1 0 7.4 0a3.7 3.7 0 1 0 -7.4 0M200.86 787.37a3.7 3.7 0 1 0 7.4 0a3.7 3.7 0 1 0 -7.4 0M186.12 792.46a3.7 3.7 0 1 0 7.4 0a3.7 3.7 0 1 0 -7.4 0M191.74 792.98a3.7 3.7 0 1 0 7.4 0a3.7 3.7 0 1 0 -7.4 0M201.91 793.86a3.7 3.7 0 1 0 7.4 0a3.7 3.7 0 1 0 -7.4 0M181.21 797.37a3.7 3.7 0 1 0 7.4 0a3.7 3.7 0 1 0 -7.4 0M198.76 799.12a3.7 3.7 0 1 0 7.4 0a3.7 3.7 0 1 0 -7.4 0M166.3 800.35a3.7 3.7 0 1 0 7.4 0a3.7 3.7 0 1 0 -7.4 0M216.3 800.53a3.7 3.7 0 1 0 7.4 0a3.7 3.7 0 1 0 -7.4 0M227.88 805.09a3.7 3.7 0 1 0 7.4 0a3.7 3.7 0 1 0 -7.4 0M218.05 806.67a3.7 3.7 0 1 0 7.4 0a3.7 3.7 0 1 0 -7.4 0M162.26 809.3a3.7 3.7 0 1 0 7.4 0a3.7 3.7 0 1 0 -7.4 0M162.79 811.4a3.7 3.7 0 1 0 7.4 0a3.7 3.7 0 1 0 -7.4 0M171.91 811.4a3.7 3.7 0 1 0 7.4 0a3.7 3.7 0 1 0 -7.4 0M191.39 809.65a3.7 3.7 0 1 0 7.4 0a3.7 3.7 0 1 0 -7.4 0M201.39 809.3a3.7 3.7 0 1 0 7.4 0a3.7 3.7 0 1 0 -7.4 0M218.58 814.39a3.7 3.7 0 1 0 7.4 0a3.7 3.7 0 1 0 -7.4 0M176.48 816.67a3.7 3.7 0 1 0 7.4 0a3.7 3.7 0 1 0 -7.4 0M185.6 818.07a3.7 3.7 0 1 0 7.4 0a3.7 3.7 0 1 0 -7.4 0M215.42 822.81a3.7 3.7 0 1 0 7.4 0a3.7 3.7 0 1 0 -7.4 0M165.95 826.84a3.7 3.7 0 1 0 7.4 0a3.7 3.7 0 1 0 -7.4 0M212.79 829.82a3.7 3.7 0 1 0 7.4 0a3.7 3.7 0 1 0 -7.4 0M201.91 831.58a3.7 3.7 0 1 0 7.4 0a3.7 3.7 0 1 0 -7.4 0M209.28 833.33a3.7 3.7 0 1 0 7.4 0a3.7 3.7 0 1 0 -7.4 0M182.26 833.33a3.7 3.7 0 1 0 7.4 0a3.7 3.7 0 1 0 -7.4 0M186.48 836.32a3.7 3.7 0 1 0 7.4 0a3.7 3.7 0 1 0 -7.4 0M171.04 835.09a3.7 3.7 0 1 0 7.4 0a3.7 3.7 0 1 0 -7.4 0M172.44 838.6a3.7 3.7 0 1 0 7.4 0a3.7 3.7 0 1 0 -7.4 0M175.07 838.6a3.7 3.7 0 1 0 7.4 0a3.7 3.7 0 1 0 -7.4 0M212.44 837.72a3.7 3.7 0 1 0 7.4 0a3.7 3.7 0 1 0 -7.4 0M215.95 837.37a3.7 3.7 0 1 0 7.4 0a3.7 3.7 0 1 0 -7.4 0M203.49 840.35a3.7 3.7 0 1 0 7.4 0a3.7 3.7 0 1 0 -7.4 0M173.32 841.4a3.7 3.7 0 1 0 7.4 0a3.7 3.7 0 1 0 -7.4 0M212.79 840a3.7 3.7 0 1 0 7.4 0a3.7 3.7 0 1 0 -7.4 0M220.86 849.65a3.7 3.7 0 1 0 7.4 0a3.7 3.7 0 1 0 -7.4 0M185.6 853.16a3.7 3.7 0 1 0 7.4 0a3.7 3.7 0 1 0 -7.4 0M192.26 855.44a3.7 3.7 0 1 0 7.4 0a3.7 3.7 0 1 0 -7.4 0M206.12 855.79a3.7 3.7 0 1 0 7.4 0a3.7 3.7 0 1 0 -7.4 0M179.81 858.42a3.7 3.7 0 1 0 7.4 0a3.7 3.7 0 1 0 -7.4 0M228.58 859.82a3.7 3.7 0 1 0 7.4 0a3.7 3.7 0 1 0 -7.4 0M204.9 861.05a3.7 3.7 0 1 0 7.4 0a3.7 3.7 0 1 0 -7.4 0M203.14 864.56a3.7 3.7 0 1 0 7.4 0a3.7 3.7 0 1 0 -7.4 0M171.74 868.42a3.7 3.7 0 1 0 7.4 0a3.7 3.7 0 1 0 -7.4 0M194.37 869.47a3.7 3.7 0 1 0 7.4 0a3.7 3.7 0 1 0 -7.4 0M206.12 870.18a3.7 3.7 0 1 0 7.4 0a3.7 3.7 0 1 0 -7.4 0M179.81 872.46a3.7 3.7 0 1 0 7.4 0a3.7 3.7 0 1 0 -7.4 0M201.39 872.46a3.7 3.7 0 1 0 7.4 0a3.7 3.7 0 1 0 -7.4 0M224.55 872.46a3.7 3.7 0 1 0 7.4 0a3.7 3.7 0 1 0 -7.4 0M212.44 873.33a3.7 3.7 0 1 0 7.4 0a3.7 3.7 0 1 0 -7.4 0M186.48 875.96a3.7 3.7 0 1 0 7.4 0a3.7 3.7 0 1 0 -7.4 0M193.49 876.49a3.7 3.7 0 1 0 7.4 0a3.7 3.7 0 1 0 -7.4 0M213.67 875.96a3.7 3.7 0 1 0 7.4 0a3.7 3.7 0 1 0 -7.4 0M200.16 879.47a3.7 3.7 0 1 0 7.4 0a3.7 3.7 0 1 0 -7.4 0M168.23 882.11a3.7 3.7 0 1 0 7.4 0a3.7 3.7 0 1 0 -7.4 0M214.55 883.86a3.7 3.7 0 1 0 7.4 0a3.7 3.7 0 1 0 -7.4 0M186.48 884.74a3.7 3.7 0 1 0 7.4 0a3.7 3.7 0 1 0 -7.4 0M176.3 887.37a3.7 3.7 0 1 0 7.4 0a3.7 3.7 0 1 0 -7.4 0M219.81 888.25a3.7 3.7 0 1 0 7.4 0a3.7 3.7 0 1 0 -7.4 0M210.16 890a3.7 3.7 0 1 0 7.4 0a3.7 3.7 0 1 0 -7.4 0M215.42 890.88a3.7 3.7 0 1 0 7.4 0a3.7 3.7 0 1 0 -7.4 0M190.86 890.88a3.7 3.7 0 1 0 7.4 0a3.7 3.7 0 1 0 -7.4 0M219.81 892.63a3.7 3.7 0 1 0 7.4 0a3.7 3.7 0 1 0 -7.4 0M185.6 896.49a3.7 3.7 0 1 0 7.4 0a3.7 3.7 0 1 0 -7.4 0M163.67 897.89a3.7 3.7 0 1 0 7.4 0a3.7 3.7 0 1 0 -7.4 0M165.42 900.53a3.7 3.7 0 1 0 7.4 0a3.7 3.7 0 1 0 -7.4 0M172.09 902.28a3.7 3.7 0 1 0 7.4 0a3.7 3.7 0 1 0 -7.4 0M226.83 907.02a3.7 3.7 0 1 0 7.4 0a3.7 3.7 0 1 0 -7.4 0M164.9 908.77a3.7 3.7 0 1 0 7.4 0a3.7 3.7 0 1 0 -7.4 0M213.67 911.4a3.7 3.7 0 1 0 7.4 0a3.7 3.7 0 1 0 -7.4 0M176.48 912.81a3.7 3.7 0 1 0 7.4 0a3.7 3.7 0 1 0 -7.4 0M211.52 991.53a3.7 3.7 0 1 0 7.4 0a3.7 3.7 0 1 0 -7.4 0M224.56 1007.31a3.7 3.7 0 1 0 7.4 0a3.7 3.7 0 1 0 -7.4 0M223.25 1002.35a3.7 3.7 0 1 0 7.4 0a3.7 3.7 0 1 0 -7.4 0M193.57 920.87a3.7 3.7 0 1 0 7.4 0a3.7 3.7 0 1 0 -7.4 0M205.48 1020.21a3.7 3.7 0 1 0 7.4 0a3.7 3.7 0 1 0 -7.4 0M170.66 1016.57a3.7 3.7 0 1 0 7.4 0a3.7 3.7 0 1 0 -7.4 0M179.33 976.48a3.7 3.7 0 1 0 7.4 0a3.7 3.7 0 1 0 -7.4 0M200.61 983.92a3.7 3.7 0 1 0 7.4 0a3.7 3.7 0 1 0 -7.4 0M177.39 917.34a3.7 3.7 0 1 0 7.4 0a3.7 3.7 0 1 0 -7.4 0M222.86 956.05a3.7 3.7 0 1 0 7.4 0a3.7 3.7 0 1 0 -7.4 0M173.67 1004.68a3.7 3.7 0 1 0 7.4 0a3.7 3.7 0 1 0 -7.4 0M172.32 1007.49a3.7 3.7 0 1 0 7.4 0a3.7 3.7 0 1 0 -7.4 0M171.54 991.01a3.7 3.7 0 1 0 7.4 0a3.7 3.7 0 1 0 -7.4 0M219.94 913.97a3.7 3.7 0 1 0 7.4 0a3.7 3.7 0 1 0 -7.4 0M177.31 947.68a3.7 3.7 0 1 0 7.4 0a3.7 3.7 0 1 0 -7.4 0M220.01 1023.52a3.7 3.7 0 1 0 7.4 0a3.7 3.7 0 1 0 -7.4 0M225.8 957.18a3.7 3.7 0 1 0 7.4 0a3.7 3.7 0 1 0 -7.4 0M207.36 983.48a3.7 3.7 0 1 0 7.4 0a3.7 3.7 0 1 0 -7.4 0M224.46 947.09a3.7 3.7 0 1 0 7.4 0a3.7 3.7 0 1 0 -7.4 0M226.13 997.85a3.7 3.7 0 1 0 7.4 0a3.7 3.7 0 1 0 -7.4 0M182.72 1015.95a3.7 3.7 0 1 0 7.4 0a3.7 3.7 0 1 0 -7.4 0M174.09 965.18a3.7 3.7 0 1 0 7.4 0a3.7 3.7 0 1 0 -7.4 0M167.53 939.41a3.7 3.7 0 1 0 7.4 0a3.7 3.7 0 1 0 -7.4 0M202.5 958.55a3.7 3.7 0 1 0 7.4 0a3.7 3.7 0 1 0 -7.4 0M207.37 914.57a3.7 3.7 0 1 0 7.4 0a3.7 3.7 0 1 0 -7.4 0M183.45 962.64a3.7 3.7 0 1 0 7.4 0a3.7 3.7 0 1 0 -7.4 0M194.55 1009.38a3.7 3.7 0 1 0 7.4 0a3.7 3.7 0 1 0 -7.4 0M194.58 960.18a3.7 3.7 0 1 0 7.4 0a3.7 3.7 0 1 0 -7.4 0M167.01 999.14a3.7 3.7 0 1 0 7.4 0a3.7 3.7 0 1 0 -7.4 0M164.79 1022.9a3.7 3.7 0 1 0 7.4 0a3.7 3.7 0 1 0 -7.4 0M218.22 1003.25a3.7 3.7 0 1 0 7.4 0a3.7 3.7 0 1 0 -7.4 0M214.5 918.52a3.7 3.7 0 1 0 7.4 0a3.7 3.7 0 1 0 -7.4 0M200.9 965.72a3.7 3.7 0 1 0 7.4 0a3.7 3.7 0 1 0 -7.4 0M166.34 916.29a3.7 3.7 0 1 0 7.4 0a3.7 3.7 0 1 0 -7.4 0M225.39 944.07a3.7 3.7 0 1 0 7.4 0a3.7 3.7 0 1 0 -7.4 0M212.42 946.06a3.7 3.7 0 1 0 7.4 0a3.7 3.7 0 1 0 -7.4 0M224.53 1019.04a3.7 3.7 0 1 0 7.4 0a3.7 3.7 0 1 0 -7.4 0M186.36 963.35a3.7 3.7 0 1 0 7.4 0a3.7 3.7 0 1 0 -7.4 0M213.71 982.05a3.7 3.7 0 1 0 7.4 0a3.7 3.7 0 1 0 -7.4 0M211.95 934.11a3.7 3.7 0 1 0 7.4 0a3.7 3.7 0 1 0 -7.4 0M219.18 1007.49a3.7 3.7 0 1 0 7.4 0a3.7 3.7 0 1 0 -7.4 0M224.78 922.38a3.7 3.7 0 1 0 7.4 0a3.7 3.7 0 1 0 -7.4 0M185.45 931.58a3.7 3.7 0 1 0 7.4 0a3.7 3.7 0 1 0 -7.4 0M222.98 990.39a3.7 3.7 0 1 0 7.4 0a3.7 3.7 0 1 0 -7.4 0M223.37 962.86a3.7 3.7 0 1 0 7.4 0a3.7 3.7 0 1 0 -7.4 0M183.61 984.06a3.7 3.7 0 1 0 7.4 0a3.7 3.7 0 1 0 -7.4 0M174.84 960.29a3.7 3.7 0 1 0 7.4 0a3.7 3.7 0 1 0 -7.4 0M172.98 929.56a3.7 3.7 0 1 0 7.4 0a3.7 3.7 0 1 0 -7.4 0M228.09 997.72a3.7 3.7 0 1 0 7.4 0a3.7 3.7 0 1 0 -7.4 0M166.46 941.54a3.7 3.7 0 1 0 7.4 0a3.7 3.7 0 1 0 -7.4 0M197.98 1023.88a3.7 3.7 0 1 0 7.4 0a3.7 3.7 0 1 0 -7.4 0M178.73 969.95a3.7 3.7 0 1 0 7.4 0a3.7 3.7 0 1 0 -7.4 0M217.01 988.78a3.7 3.7 0 1 0 7.4 0a3.7 3.7 0 1 0 -7.4 0M190.71 975.12a3.7 3.7 0 1 0 7.4 0a3.7 3.7 0 1 0 -7.4 0M222.84 925.84a3.7 3.7 0 1 0 7.4 0a3.7 3.7 0 1 0 -7.4 0M195.38 921.62a3.7 3.7 0 1 0 7.4 0a3.7 3.7 0 1 0 -7.4 0M171.79 1011.13a3.7 3.7 0 1 0 7.4 0a3.7 3.7 0 1 0 -7.4 0M225.04 1001.6a3.7 3.7 0 1 0 7.4 0a3.7 3.7 0 1 0 -7.4 0M214.52 992.24a3.7 3.7 0 1 0 7.4 0a3.7 3.7 0 1 0 -7.4 0M191.55 933.9a3.7 3.7 0 1 0 7.4 0a3.7 3.7 0 1 0 -7.4 0M218.21 939.89a3.7 3.7 0 1 0 7.4 0a3.7 3.7 0 1 0 -7.4 0M192.76 957.81a3.7 3.7 0 1 0 7.4 0a3.7 3.7 0 1 0 -7.4 0M218.7 1024.94a3.7 3.7 0 1 0 7.4 0a3.7 3.7 0 1 0 -7.4 0M192.78 1022.98a3.7 3.7 0 1 0 7.4 0a3.7 3.7 0 1 0 -7.4 0M210.72 978.41a3.7 3.7 0 1 0 7.4 0a3.7 3.7 0 1 0 -7.4 0M182.22 977.49a3.7 3.7 0 1 0 7.4 0a3.7 3.7 0 1 0 -7.4 0M172.82 969.73a3.7 3.7 0 1 0 7.4 0a3.7 3.7 0 1 0 -7.4 0M227.55 966.89a3.7 3.7 0 1 0 7.4 0a3.7 3.7 0 1 0 -7.4 0M204.05 1021.61a3.7 3.7 0 1 0 7.4 0a3.7 3.7 0 1 0 -7.4 0M185.3 979.53a3.7 3.7 0 1 0 7.4 0a3.7 3.7 0 1 0 -7.4 0M181 931.27a3.7 3.7 0 1 0 7.4 0a3.7 3.7 0 1 0 -7.4 0M219.68 1006.14a3.7 3.7 0 1 0 7.4 0a3.7 3.7 0 1 0 -7.4 0M214.39 965.2a3.7 3.7 0 1 0 7.4 0a3.7 3.7 0 1 0 -7.4 0M208.45 1005.5a3.7 3.7 0 1 0 7.4 0a3.7 3.7 0 1 0 -7.4 0M212.68 995.39a3.7 3.7 0 1 0 7.4 0a3.7 3.7 0 1 0 -7.4 0M209.09 965.42a3.7 3.7 0 1 0 7.4 0a3.7 3.7 0 1 0 -7.4 0M194.87 956.21a3.7 3.7 0 1 0 7.4 0a3.7 3.7 0 1 0 -7.4 0M208.21 1005.04a3.7 3.7 0 1 0 7.4 0a3.7 3.7 0 1 0 -7.4 0M224.76 957.7a3.7 3.7 0 1 0 7.4 0a3.7 3.7 0 1 0 -7.4 0M201.04 994.05a3.7 3.7 0 1 0 7.4 0a3.7 3.7 0 1 0 -7.4 0M198.85 916.95a3.7 3.7 0 1 0 7.4 0a3.7 3.7 0 1 0 -7.4 0M206.96 952.68a3.7 3.7 0 1 0 7.4 0a3.7 3.7 0 1 0 -7.4 0M216.38 975.86a3.7 3.7 0 1 0 7.4 0a3.7 3.7 0 1 0 -7.4 0M215.15 993.84a3.7 3.7 0 1 0 7.4 0a3.7 3.7 0 1 0 -7.4 0M205.16 963.73a3.7 3.7 0 1 0 7.4 0a3.7 3.7 0 1 0 -7.4 0M217.13 1002.16a3.7 3.7 0 1 0 7.4 0a3.7 3.7 0 1 0 -7.4 0M218.09 963.97a3.7 3.7 0 1 0 7.4 0a3.7 3.7 0 1 0 -7.4 0M208.04 1013.88a3.7 3.7 0 1 0 7.4 0a3.7 3.7 0 1 0 -7.4 0M225.47 1022.99a3.7 3.7 0 1 0 7.4 0a3.7 3.7 0 1 0 -7.4 0M197.71 981.4a3.7 3.7 0 1 0 7.4 0a3.7 3.7 0 1 0 -7.4 0M217.68 942.15a3.7 3.7 0 1 0 7.4 0a3.7 3.7 0 1 0 -7.4 0M194.32 1019.7a3.7 3.7 0 1 0 7.4 0a3.7 3.7 0 1 0 -7.4 0M210.08 997.92a3.7 3.7 0 1 0 7.4 0a3.7 3.7 0 1 0 -7.4 0M174.47 1001.48a3.7 3.7 0 1 0 7.4 0a3.7 3.7 0 1 0 -7.4 0M201.05 1005.99a3.7 3.7 0 1 0 7.4 0a3.7 3.7 0 1 0 -7.4 0M190.65 995.53a3.7 3.7 0 1 0 7.4 0a3.7 3.7 0 1 0 -7.4 0M213.66 991.61a3.7 3.7 0 1 0 7.4 0a3.7 3.7 0 1 0 -7.4 0M210.13 992.85a3.7 3.7 0 1 0 7.4 0a3.7 3.7 0 1 0 -7.4 0M173.7 920.59a3.7 3.7 0 1 0 7.4 0a3.7 3.7 0 1 0 -7.4 0M205.56 973.62a3.7 3.7 0 1 0 7.4 0a3.7 3.7 0 1 0 -7.4 0M207.89 948.86a3.7 3.7 0 1 0 7.4 0a3.7 3.7 0 1 0 -7.4 0M166.02 992.28a3.7 3.7 0 1 0 7.4 0a3.7 3.7 0 1 0 -7.4 0M178.01 976.74a3.7 3.7 0 1 0 7.4 0a3.7 3.7 0 1 0 -7.4 0M171.98 925.57a3.7 3.7 0 1 0 7.4 0a3.7 3.7 0 1 0 -7.4 0M175.1 960.36a3.7 3.7 0 1 0 7.4 0a3.7 3.7 0 1 0 -7.4 0M165.62 945.66a3.7 3.7 0 1 0 7.4 0a3.7 3.7 0 1 0 -7.4 0M188.02 976.1a3.7 3.7 0 1 0 7.4 0a3.7 3.7 0 1 0 -7.4 0M201.66 990.48a3.7 3.7 0 1 0 7.4 0a3.7 3.7 0 1 0 -7.4 0M222.01 951.15a3.7 3.7 0 1 0 7.4 0a3.7 3.7 0 1 0 -7.4 0M189.65 913.46a3.7 3.7 0 1 0 7.4 0a3.7 3.7 0 1 0 -7.4 0M189.95 955.94a3.7 3.7 0 1 0 7.4 0a3.7 3.7 0 1 0 -7.4 0M217.34 935.13a3.7 3.7 0 1 0 7.4 0a3.7 3.7 0 1 0 -7.4 0M165.64 966.55a3.7 3.7 0 1 0 7.4 0a3.7 3.7 0 1 0 -7.4 0M169.46 990.64a3.7 3.7 0 1 0 7.4 0a3.7 3.7 0 1 0 -7.4 0M185.36 984.06a3.7 3.7 0 1 0 7.4 0a3.7 3.7 0 1 0 -7.4 0M225.59 987.52a3.7 3.7 0 1 0 7.4 0a3.7 3.7 0 1 0 -7.4 0M190.54 1009.38a3.7 3.7 0 1 0 7.4 0a3.7 3.7 0 1 0 -7.4 0M205.05 1008.89a3.7 3.7 0 1 0 7.4 0a3.7 3.7 0 1 0 -7.4 0M172.54 966.07a3.7 3.7 0 1 0 7.4 0a3.7 3.7 0 1 0 -7.4 0M199.95 988.97a3.7 3.7 0 1 0 7.4 0a3.7 3.7 0 1 0 -7.4 0M226.22 1021.39a3.7 3.7 0 1 0 7.4 0a3.7 3.7 0 1 0 -7.4 0M186.12 990.17a3.7 3.7 0 1 0 7.4 0a3.7 3.7 0 1 0 -7.4 0M163.36 1015.93a3.7 3.7 0 1 0 7.4 0a3.7 3.7 0 1 0 -7.4 0M200.08 934.09a3.7 3.7 0 1 0 7.4 0a3.7 3.7 0 1 0 -7.4 0M172.45 990.8a3.7 3.7 0 1 0 7.4 0a3.7 3.7 0 1 0 -7.4 0M221.23 992.15a3.7 3.7 0 1 0 7.4 0a3.7 3.7 0 1 0 -7.4 0M191.36 966.76a3.7 3.7 0 1 0 7.4 0a3.7 3.7 0 1 0 -7.4 0M182.25 949.75a3.7 3.7 0 1 0 7.4 0a3.7 3.7 0 1 0 -7.4 0M187.99 1022.68a3.7 3.7 0 1 0 7.4 0a3.7 3.7 0 1 0 -7.4 0M222.69 1021.72a3.7 3.7 0 1 0 7.4 0a3.7 3.7 0 1 0 -7.4 0M180.19 988.95a3.7 3.7 0 1 0 7.4 0a3.7 3.7 0 1 0 -7.4 0M195.56 1023.4a3.7 3.7 0 1 0 7.4 0a3.7 3.7 0 1 0 -7.4 0M184.04 970.96a3.7 3.7 0 1 0 7.4 0a3.7 3.7 0 1 0 -7.4 0M195.26 1023.68a3.7 3.7 0 1 0 7.4 0a3.7 3.7 0 1 0 -7.4 0M194.3 956.85a3.7 3.7 0 1 0 7.4 0a3.7 3.7 0 1 0 -7.4 0M203.71 936.1a3.7 3.7 0 1 0 7.4 0a3.7 3.7 0 1 0 -7.4 0M182.35 973.86a3.7 3.7 0 1 0 7.4 0a3.7 3.7 0 1 0 -7.4 0M217.04 1006.11a3.7 3.7 0 1 0 7.4 0a3.7 3.7 0 1 0 -7.4 0M197.92 917.36a3.7 3.7 0 1 0 7.4 0a3.7 3.7 0 1 0 -7.4 0M224.09 955.39a3.7 3.7 0 1 0 7.4 0a3.7 3.7 0 1 0 -7.4 0M214.12 1037.04a3.7 3.7 0 1 0 7.4 0a3.7 3.7 0 1 0 -7.4 0M180.7 1032.58a3.7 3.7 0 1 0 7.4 0a3.7 3.7 0 1 0 -7.4 0M227.57 1039.37a3.7 3.7 0 1 0 7.4 0a3.7 3.7 0 1 0 -7.4 0M202.82 1048.26a3.7 3.7 0 1 0 7.4 0a3.7 3.7 0 1 0 -7.4 0M205.22 1054.59a3.7 3.7 0 1 0 7.4 0a3.7 3.7 0 1 0 -7.4 0M211.63 1030.79a3.7 3.7 0 1 0 7.4 0a3.7 3.7 0 1 0 -7.4 0M212.73 1039.73a3.7 3.7 0 1 0 7.4 0a3.7 3.7 0 1 0 -7.4 0M197.98 1041.47a3.7 3.7 0 1 0 7.4 0a3.7 3.7 0 1 0 -7.4 0M182.59 1050.96a3.7 3.7 0 1 0 7.4 0a3.7 3.7 0 1 0 -7.4 0M193.48 1042.69a3.7 3.7 0 1 0 7.4 0a3.7 3.7 0 1 0 -7.4 0M211.73 1053.95a3.7 3.7 0 1 0 7.4 0a3.7 3.7 0 1 0 -7.4 0M165.67 1037.37a3.7 3.7 0 1 0 7.4 0a3.7 3.7 0 1 0 -7.4 0M192.91 1069.91a3.7 3.7 0 1 0 7.4 0a3.7 3.7 0 1 0 -7.4 0M221.02 1051.73a3.7 3.7 0 1 0 7.4 0a3.7 3.7 0 1 0 -7.4 0M164.25 1063.14a3.7 3.7 0 1 0 7.4 0a3.7 3.7 0 1 0 -7.4 0M191.1 1053.21a3.7 3.7 0 1 0 7.4 0a3.7 3.7 0 1 0 -7.4 0M209.33 1055.98a3.7 3.7 0 1 0 7.4 0a3.7 3.7 0 1 0 -7.4 0M194.62 1069.67a3.7 3.7 0 1 0 7.4 0a3.7 3.7 0 1 0 -7.4 0M188.36 1044.2a3.7 3.7 0 1 0 7.4 0a3.7 3.7 0 1 0 -7.4 0M218.67 1034.63a3.7 3.7 0 1 0 7.4 0a3.7 3.7 0 1 0 -7.4 0M182.57 1065.67a3.7 3.7 0 1 0 7.4 0a3.7 3.7 0 1 0 -7.4 0M167.59 1065.98a3.7 3.7 0 1 0 7.4 0a3.7 3.7 0 1 0 -7.4 0M208.45 1046.21a3.7 3.7 0 1 0 7.4 0a3.7 3.7 0 1 0 -7.4 0M181.91 1063.26a3.7 3.7 0 1 0 7.4 0a3.7 3.7 0 1 0 -7.4 0M222.49 1031.99a3.7 3.7 0 1 0 7.4 0a3.7 3.7 0 1 0 -7.4 0M194.4 1051.91a3.7 3.7 0 1 0 7.4 0a3.7 3.7 0 1 0 -7.4 0M195.65 1041.21a3.7 3.7 0 1 0 7.4 0a3.7 3.7 0 1 0 -7.4 0M173.28 1053.71a3.7 3.7 0 1 0 7.4 0a3.7 3.7 0 1 0 -7.4 0M216.07 1028.35a3.7 3.7 0 1 0 7.4 0a3.7 3.7 0 1 0 -7.4 0M178.25 1065.16a3.7 3.7 0 1 0 7.4 0a3.7 3.7 0 1 0 -7.4 0M214.76 1057.52a3.7 3.7 0 1 0 7.4 0a3.7 3.7 0 1 0 -7.4 0M164.96 1060.41a3.7 3.7 0 1 0 7.4 0a3.7 3.7 0 1 0 -7.4 0M226.91 1073.92a3.7 3.7 0 1 0 7.4 0a3.7 3.7 0 1 0 -7.4 0M208.88 1027.4a3.7 3.7 0 1 0 7.4 0a3.7 3.7 0 1 0 -7.4 0M218.03 1035.74a3.7 3.7 0 1 0 7.4 0a3.7 3.7 0 1 0 -7.4 0M205.27 1071.66a3.7 3.7 0 1 0 7.4 0a3.7 3.7 0 1 0 -7.4 0M209.61 1031.6a3.7 3.7 0 1 0 7.4 0a3.7 3.7 0 1 0 -7.4 0M182.31 1069.98a3.7 3.7 0 1 0 7.4 0a3.7 3.7 0 1 0 -7.4 0M173.03 1054.92a3.7 3.7 0 1 0 7.4 0a3.7 3.7 0 1 0 -7.4 0M190.21 1032.9a3.7 3.7 0 1 0 7.4 0a3.7 3.7 0 1 0 -7.4 0M203.76 1027.13a3.7 3.7 0 1 0 7.4 0a3.7 3.7 0 1 0 -7.4 0M170.33 1043.58a3.7 3.7 0 1 0 7.4 0a3.7 3.7 0 1 0 -7.4 0M167.98 1027.82a3.7 3.7 0 1 0 7.4 0a3.7 3.7 0 1 0 -7.4 0M200.69 1061.37a3.7 3.7 0 1 0 7.4 0a3.7 3.7 0 1 0 -7.4 0M220.4 1031.58a3.7 3.7 0 1 0 7.4 0a3.7 3.7 0 1 0 -7.4 0M191.36 1040.41a3.7 3.7 0 1 0 7.4 0a3.7 3.7 0 1 0 -7.4 0M202.31 1048.99a3.7 3.7 0 1 0 7.4 0a3.7 3.7 0 1 0 -7.4 0M224.3 1043.34a3.7 3.7 0 1 0 7.4 0a3.7 3.7 0 1 0 -7.4 0M166.92 1059.17a3.7 3.7 0 1 0 7.4 0a3.7 3.7 0 1 0 -7.4 0M173.12 1055.94a3.7 3.7 0 1 0 7.4 0a3.7 3.7 0 1 0 -7.4 0M196.18 1069.61a3.7 3.7 0 1 0 7.4 0a3.7 3.7 0 1 0 -7.4 0M199.37 1055.42a3.7 3.7 0 1 0 7.4 0a3.7 3.7 0 1 0 -7.4 0M180.41 1052.03a3.7 3.7 0 1 0 7.4 0a3.7 3.7 0 1 0 -7.4 0M179.82 1061.78a3.7 3.7 0 1 0 7.4 0a3.7 3.7 0 1 0 -7.4 0M196.9 1031.56a3.7 3.7 0 1 0 7.4 0a3.7 3.7 0 1 0 -7.4 0M178.54 1043.19a3.7 3.7 0 1 0 7.4 0a3.7 3.7 0 1 0 -7.4 0M211.19 1033.79a3.7 3.7 0 1 0 7.4 0a3.7 3.7 0 1 0 -7.4 0M209.66 1057.1a3.7 3.7 0 1 0 7.4 0a3.7 3.7 0 1 0 -7.4 0M168.84 1057.73a3.7 3.7 0 1 0 7.4 0a3.7 3.7 0 1 0 -7.4 0M169.23 1031.11a3.7 3.7 0 1 0 7.4 0a3.7 3.7 0 1 0 -7.4 0M201.91 1036.69a3.7 3.7 0 1 0 7.4 0a3.7 3.7 0 1 0 -7.4 0M220.3 1048.54a3.7 3.7 0 1 0 7.4 0a3.7 3.7 0 1 0 -7.4 0M184.31 1064.03a3.7 3.7 0 1 0 7.4 0a3.7 3.7 0 1 0 -7.4 0M165.21 1060.53a3.7 3.7 0 1 0 7.4 0a3.7 3.7 0 1 0 -7.4 0M166.79 1032.39a3.7 3.7 0 1 0 7.4 0a3.7 3.7 0 1 0 -7.4 0M225.18 1058.37a3.7 3.7 0 1 0 7.4 0a3.7 3.7 0 1 0 -7.4 0M177.8 1030.69a3.7 3.7 0 1 0 7.4 0a3.7 3.7 0 1 0 -7.4 0M226.53 1057.59a3.7 3.7 0 1 0 7.4 0a3.7 3.7 0 1 0 -7.4 0M216.64 1031.85a3.7 3.7 0 1 0 7.4 0a3.7 3.7 0 1 0 -7.4 0M203.91 1042.36a3.7 3.7 0 1 0 7.4 0a3.7 3.7 0 1 0 -7.4 0M178.58 1041.33a3.7 3.7 0 1 0 7.4 0a3.7 3.7 0 1 0 -7.4 0M203.19 1042.08a3.7 3.7 0 1 0 7.4 0a3.7 3.7 0 1 0 -7.4 0M188.37 1031.68a3.7 3.7 0 1 0 7.4 0a3.7 3.7 0 1 0 -7.4 0M217.32 1056.75a3.7 3.7 0 1 0 7.4 0a3.7 3.7 0 1 0 -7.4 0M215.59 1046.24a3.7 3.7 0 1 0 7.4 0a3.7 3.7 0 1 0 -7.4 0M218.65 1050.36a3.7 3.7 0 1 0 7.4 0a3.7 3.7 0 1 0 -7.4 0M201.82 1053.09a3.7 3.7 0 1 0 7.4 0a3.7 3.7 0 1 0 -7.4 0M211.41 1044.38a3.7 3.7 0 1 0 7.4 0a3.7 3.7 0 1 0 -7.4 0M169.6 1026.63a3.7 3.7 0 1 0 7.4 0a3.7 3.7 0 1 0 -7.4 0M176.46 1026.93a3.7 3.7 0 1 0 7.4 0a3.7 3.7 0 1 0 -7.4 0M221.1 1048.57a3.7 3.7 0 1 0 7.4 0a3.7 3.7 0 1 0 -7.4 0M212.72 1025.02a3.7 3.7 0 1 0 7.4 0a3.7 3.7 0 1 0 -7.4 0M193.86 1068.6a3.7 3.7 0 1 0 7.4 0a3.7 3.7 0 1 0 -7.4 0M203.57 1046a3.7 3.7 0 1 0 7.4 0a3.7 3.7 0 1 0 -7.4 0M193.56 1029.89a3.7 3.7 0 1 0 7.4 0a3.7 3.7 0 1 0 -7.4 0M173.35 1032.79a3.7 3.7 0 1 0 7.4 0a3.7 3.7 0 1 0 -7.4 0M187.65 1043.9a3.7 3.7 0 1 0 7.4 0a3.7 3.7 0 1 0 -7.4 0M220.52 1032.45a3.7 3.7 0 1 0 7.4 0a3.7 3.7 0 1 0 -7.4 0M179.81 1038.59a3.7 3.7 0 1 0 7.4 0a3.7 3.7 0 1 0 -7.4 0M173.8 1039.07a3.7 3.7 0 1 0 7.4 0a3.7 3.7 0 1 0 -7.4 0M178.59 1048.62a3.7 3.7 0 1 0 7.4 0a3.7 3.7 0 1 0 -7.4 0M165.39 1070.3a3.7 3.7 0 1 0 7.4 0a3.7 3.7 0 1 0 -7.4 0M187.28 1070.96a3.7 3.7 0 1 0 7.4 0a3.7 3.7 0 1 0 -7.4 0M208 1058.02a3.7 3.7 0 1 0 7.4 0a3.7 3.7 0 1 0 -7.4 0M193.96 1071.32a3.7 3.7 0 1 0 7.4 0a3.7 3.7 0 1 0 -7.4 0M170.96 1057.76a3.7 3.7 0 1 0 7.4 0a3.7 3.7 0 1 0 -7.4 0M182.22 1058.05a3.7 3.7 0 1 0 7.4 0a3.7 3.7 0 1 0 -7.4 0M210.7 1033a3.7 3.7 0 1 0 7.4 0a3.7 3.7 0 1 0 -7.4 0M176.37 1026.22a3.7 3.7 0 1 0 7.4 0a3.7 3.7 0 1 0 -7.4 0M178.28 1028.83a3.7 3.7 0 1 0 7.4 0a3.7 3.7 0 1 0 -7.4 0M189.37 1072.71a3.7 3.7 0 1 0 7.4 0a3.7 3.7 0 1 0 -7.4 0M186.98 1040.28a3.7 3.7 0 1 0 7.4 0a3.7 3.7 0 1 0 -7.4 0M193.72 1038.87a3.7 3.7 0 1 0 7.4 0a3.7 3.7 0 1 0 -7.4 0M210.9 1060.18a3.7 3.7 0 1 0 7.4 0a3.7 3.7 0 1 0 -7.4 0M173.92 1036.79a3.7 3.7 0 1 0 7.4 0a3.7 3.7 0 1 0 -7.4 0M206.99 1071.08a3.7 3.7 0 1 0 7.4 0a3.7 3.7 0 1 0 -7.4 0M205.28 1046.1a3.7 3.7 0 1 0 7.4 0a3.7 3.7 0 1 0 -7.4 0M226.7 1025.31a3.7 3.7 0 1 0 7.4 0a3.7 3.7 0 1 0 -7.4 0M167.26 1063.18a3.7 3.7 0 1 0 7.4 0a3.7 3.7 0 1 0 -7.4 0M189.96 1027.2a3.7 3.7 0 1 0 7.4 0a3.7 3.7 0 1 0 -7.4 0M198.95 1081.92a3.7 3.7 0 1 0 7.4 0a3.7 3.7 0 1 0 -7.4 0M197.03 1076.8a3.7 3.7 0 1 0 7.4 0a3.7 3.7 0 1 0 -7.4 0M169.4 1074.57a3.7 3.7 0 1 0 7.4 0a3.7 3.7 0 1 0 -7.4 0M221.72 1077.93a3.7 3.7 0 1 0 7.4 0a3.7 3.7 0 1 0 -7.4 0M224.12 1074.43a3.7 3.7 0 1 0 7.4 0a3.7 3.7 0 1 0 -7.4 0M179.13 1074.4a3.7 3.7 0 1 0 7.4 0a3.7 3.7 0 1 0 -7.4 0M189.13 1074.48a3.7 3.7 0 1 0 7.4 0a3.7 3.7 0 1 0 -7.4 0M179.9 1077.26a3.7 3.7 0 1 0 7.4 0a3.7 3.7 0 1 0 -7.4 0M183.19 1074.41a3.7 3.7 0 1 0 7.4 0a3.7 3.7 0 1 0 -7.4 0M165.74 1081.77a3.7 3.7 0 1 0 7.4 0a3.7 3.7 0 1 0 -7.4 0M174.96 1078.07a3.7 3.7 0 1 0 7.4 0a3.7 3.7 0 1 0 -7.4 0M189.45 1078.25a3.7 3.7 0 1 0 7.4 0a3.7 3.7 0 1 0 -7.4 0M168.78 1076.51a3.7 3.7 0 1 0 7.4 0a3.7 3.7 0 1 0 -7.4 0M170.32 1078.34a3.7 3.7 0 1 0 7.4 0a3.7 3.7 0 1 0 -7.4 0M223.18 1078.79a3.7 3.7 0 1 0 7.4 0a3.7 3.7 0 1 0 -7.4 0M218.99 1075.72a3.7 3.7 0 1 0 7.4 0a3.7 3.7 0 1 0 -7.4 0M164.43 1078.32a3.7 3.7 0 1 0 7.4 0a3.7 3.7 0 1 0 -7.4 0M194.93 1078.57a3.7 3.7 0 1 0 7.4 0a3.7 3.7 0 1 0 -7.4 0M187.78 1079a3.7 3.7 0 1 0 7.4 0a3.7 3.7 0 1 0 -7.4 0M210.47 1081.3a3.7 3.7 0 1 0 7.4 0a3.7 3.7 0 1 0 -7.4 0M183.29 1077.59a3.7 3.7 0 1 0 7.4 0a3.7 3.7 0 1 0 -7.4 0M217.02 1075.79a3.7 3.7 0 1 0 7.4 0a3.7 3.7 0 1 0 -7.4 0M170.82 1076.49a3.7 3.7 0 1 0 7.4 0a3.7 3.7 0 1 0 -7.4 0M169 1080.18a3.7 3.7 0 1 0 7.4 0a3.7 3.7 0 1 0 -7.4 0M216.56 1076.5a3.7 3.7 0 1 0 7.4 0a3.7 3.7 0 1 0 -7.4 0M171.74 1074.66a3.7 3.7 0 1 0 7.4 0a3.7 3.7 0 1 0 -7.4 0M179.22 1074.67a3.7 3.7 0 1 0 7.4 0a3.7 3.7 0 1 0 -7.4 0M191.16 1078.62a3.7 3.7 0 1 0 7.4 0a3.7 3.7 0 1 0 -7.4 0M179.25 1074.49a3.7 3.7 0 1 0 7.4 0a3.7 3.7 0 1 0 -7.4 0M208.84 1074.38a3.7 3.7 0 1 0 7.4 0a3.7 3.7 0 1 0 -7.4 0M176.29 1076.29a3.7 3.7 0 1 0 7.4 0a3.7 3.7 0 1 0 -7.4 0M187.59 1074.79a3.7 3.7 0 1 0 7.4 0a3.7 3.7 0 1 0 -7.4 0M190.64 1076.51a3.7 3.7 0 1 0 7.4 0a3.7 3.7 0 1 0 -7.4 0M212.2 1078.45a3.7 3.7 0 1 0 7.4 0a3.7 3.7 0 1 0 -7.4 0M221.55 1079.23a3.7 3.7 0 1 0 7.4 0a3.7 3.7 0 1 0 -7.4 0M212.68 1078.6a3.7 3.7 0 1 0 7.4 0a3.7 3.7 0 1 0 -7.4 0M192.04 1080.53a3.7 3.7 0 1 0 7.4 0a3.7 3.7 0 1 0 -7.4 0M205.9 1081.64a3.7 3.7 0 1 0 7.4 0a3.7 3.7 0 1 0 -7.4 0M210.62 1079.61a3.7 3.7 0 1 0 7.4 0a3.7 3.7 0 1 0 -7.4 0M180.7 1080.5a3.7 3.7 0 1 0 7.4 0a3.7 3.7 0 1 0 -7.4 0M163.71 1083.2a3.7 3.7 0 1 0 7.4 0a3.7 3.7 0 1 0 -7.4 0M164.52 1083.2a3.7 3.7 0 1 0 7.4 0a3.7 3.7 0 1 0 -7.4 0M165.54 1083.2a3.7 3.7 0 1 0 7.4 0a3.7 3.7 0 1 0 -7.4 0M166.73 1082.6a3.7 3.7 0 1 0 7.4 0a3.7 3.7 0 1 0 -7.4 0M167.92 1082.9a3.7 3.7 0 1 0 7.4 0a3.7 3.7 0 1 0 -7.4 0M169.45 1082.9a3.7 3.7 0 1 0 7.4 0a3.7 3.7 0 1 0 -7.4 0M170.11 1083.2a3.7 3.7 0 1 0 7.4 0a3.7 3.7 0 1 0 -7.4 0M170.95 1083.2a3.7 3.7 0 1 0 7.4 0a3.7 3.7 0 1 0 -7.4 0M172.79 1083.2a3.7 3.7 0 1 0 7.4 0a3.7 3.7 0 1 0 -7.4 0M173.65 1083.2a3.7 3.7 0 1 0 7.4 0a3.7 3.7 0 1 0 -7.4 0M174.16 1082.9a3.7 3.7 0 1 0 7.4 0a3.7 3.7 0 1 0 -7.4 0M175.27 1082.9a3.7 3.7 0 1 0 7.4 0a3.7 3.7 0 1 0 -7.4 0M176.44 1083.2a3.7 3.7 0 1 0 7.4 0a3.7 3.7 0 1 0 -7.4 0M177.77 1083.2a3.7 3.7 0 1 0 7.4 0a3.7 3.7 0 1 0 -7.4 0M179.4 1083.2a3.7 3.7 0 1 0 7.4 0a3.7 3.7 0 1 0 -7.4 0M180.58 1082.9a3.7 3.7 0 1 0 7.4 0a3.7 3.7 0 1 0 -7.4 0M181.3 1083.2a3.7 3.7 0 1 0 7.4 0a3.7 3.7 0 1 0 -7.4 0M181.97 1083.2a3.7 3.7 0 1 0 7.4 0a3.7 3.7 0 1 0 -7.4 0M183.26 1083.2a3.7 3.7 0 1 0 7.4 0a3.7 3.7 0 1 0 -7.4 0M184.28 1083.2a3.7 3.7 0 1 0 7.4 0a3.7 3.7 0 1 0 -7.4 0M185.32 1082.9a3.7 3.7 0 1 0 7.4 0a3.7 3.7 0 1 0 -7.4 0M186.06 1082.9a3.7 3.7 0 1 0 7.4 0a3.7 3.7 0 1 0 -7.4 0M187.77 1082.6a3.7 3.7 0 1 0 7.4 0a3.7 3.7 0 1 0 -7.4 0M189.11 1082.6a3.7 3.7 0 1 0 7.4 0a3.7 3.7 0 1 0 -7.4 0M190.09 1083.2a3.7 3.7 0 1 0 7.4 0a3.7 3.7 0 1 0 -7.4 0M190.49 1083.2a3.7 3.7 0 1 0 7.4 0a3.7 3.7 0 1 0 -7.4 0M192.04 1082.9a3.7 3.7 0 1 0 7.4 0a3.7 3.7 0 1 0 -7.4 0M192.74 1083.2a3.7 3.7 0 1 0 7.4 0a3.7 3.7 0 1 0 -7.4 0M194.4 1083.2a3.7 3.7 0 1 0 7.4 0a3.7 3.7 0 1 0 -7.4 0M195.2 1082.6a3.7 3.7 0 1 0 7.4 0a3.7 3.7 0 1 0 -7.4 0M196.82 1082.6a3.7 3.7 0 1 0 7.4 0a3.7 3.7 0 1 0 -7.4 0M197.74 1082.6a3.7 3.7 0 1 0 7.4 0a3.7 3.7 0 1 0 -7.4 0M198.09 1082.6a3.7 3.7 0 1 0 7.4 0a3.7 3.7 0 1 0 -7.4 0M199.39 1083.2a3.7 3.7 0 1 0 7.4 0a3.7 3.7 0 1 0 -7.4 0M201.12 1082.9a3.7 3.7 0 1 0 7.4 0a3.7 3.7 0 1 0 -7.4 0M201.72 1083.2a3.7 3.7 0 1 0 7.4 0a3.7 3.7 0 1 0 -7.4 0M202.77 1083.2a3.7 3.7 0 1 0 7.4 0a3.7 3.7 0 1 0 -7.4 0M203.86 1083.2a3.7 3.7 0 1 0 7.4 0a3.7 3.7 0 1 0 -7.4 0M205.3 1082.6a3.7 3.7 0 1 0 7.4 0a3.7 3.7 0 1 0 -7.4 0M206.56 1083.2a3.7 3.7 0 1 0 7.4 0a3.7 3.7 0 1 0 -7.4 0M207.21 1082.6a3.7 3.7 0 1 0 7.4 0a3.7 3.7 0 1 0 -7.4 0M208.77 1082.9a3.7 3.7 0 1 0 7.4 0a3.7 3.7 0 1 0 -7.4 0M209.45 1082.6a3.7 3.7 0 1 0 7.4 0a3.7 3.7 0 1 0 -7.4 0M210 1082.9a3.7 3.7 0 1 0 7.4 0a3.7 3.7 0 1 0 -7.4 0M211.85 1082.6a3.7 3.7 0 1 0 7.4 0a3.7 3.7 0 1 0 -7.4 0M212.5 1082.9a3.7 3.7 0 1 0 7.4 0a3.7 3.7 0 1 0 -7.4 0M213.19 1082.9a3.7 3.7 0 1 0 7.4 0a3.7 3.7 0 1 0 -7.4 0M215.28 1082.6a3.7 3.7 0 1 0 7.4 0a3.7 3.7 0 1 0 -7.4 0M215.34 1082.6a3.7 3.7 0 1 0 7.4 0a3.7 3.7 0 1 0 -7.4 0M217.01 1083.2a3.7 3.7 0 1 0 7.4 0a3.7 3.7 0 1 0 -7.4 0M217.99 1082.6a3.7 3.7 0 1 0 7.4 0a3.7 3.7 0 1 0 -7.4 0M219.51 1083.2a3.7 3.7 0 1 0 7.4 0a3.7 3.7 0 1 0 -7.4 0M220.06 1082.9a3.7 3.7 0 1 0 7.4 0a3.7 3.7 0 1 0 -7.4 0M220.95 1083.2a3.7 3.7 0 1 0 7.4 0a3.7 3.7 0 1 0 -7.4 0M222.1 1082.6a3.7 3.7 0 1 0 7.4 0a3.7 3.7 0 1 0 -7.4 0M223.1 1083.2a3.7 3.7 0 1 0 7.4 0a3.7 3.7 0 1 0 -7.4 0M224.58 1082.6a3.7 3.7 0 1 0 7.4 0a3.7 3.7 0 1 0 -7.4 0M225.44 1083.2a3.7 3.7 0 1 0 7.4 0a3.7 3.7 0 1 0 -7.4 0M226.95 1083.2a3.7 3.7 0 1 0 7.4 0a3.7 3.7 0 1 0 -7.4 0M227.48 1083.2a3.7 3.7 0 1 0 7.4 0a3.7 3.7 0 1 0 -7.4 0M362.09 925.44a3.7 3.7 0 1 0 7.4 0a3.7 3.7 0 1 0 -7.4 0M359.98 932.46a3.7 3.7 0 1 0 7.4 0a3.7 3.7 0 1 0 -7.4 0M366.48 935.09a3.7 3.7 0 1 0 7.4 0a3.7 3.7 0 1 0 -7.4 0M371.39 932.98a3.7 3.7 0 1 0 7.4 0a3.7 3.7 0 1 0 -7.4 0M333.32 938.6a3.7 3.7 0 1 0 7.4 0a3.7 3.7 0 1 0 -7.4 0M333.67 942.98a3.7 3.7 0 1 0 7.4 0a3.7 3.7 0 1 0 -7.4 0M387.7 938.07a3.7 3.7 0 1 0 7.4 0a3.7 3.7 0 1 0 -7.4 0M390.69 937.37a3.7 3.7 0 1 0 7.4 0a3.7 3.7 0 1 0 -7.4 0M342.09 947.72a3.7 3.7 0 1 0 7.4 0a3.7 3.7 0 1 0 -7.4 0M374.37 948.6a3.7 3.7 0 1 0 7.4 0a3.7 3.7 0 1 0 -7.4 0M359.63 951.75a3.7 3.7 0 1 0 7.4 0a3.7 3.7 0 1 0 -7.4 0M361.74 957.54a3.7 3.7 0 1 0 7.4 0a3.7 3.7 0 1 0 -7.4 0M362.62 961.4a3.7 3.7 0 1 0 7.4 0a3.7 3.7 0 1 0 -7.4 0M376.12 960a3.7 3.7 0 1 0 7.4 0a3.7 3.7 0 1 0 -7.4 0M388.76 960.88a3.7 3.7 0 1 0 7.4 0a3.7 3.7 0 1 0 -7.4 0M349.11 963.68a3.7 3.7 0 1 0 7.4 0a3.7 3.7 0 1 0 -7.4 0M383.14 964.04a3.7 3.7 0 1 0 7.4 0a3.7 3.7 0 1 0 -7.4 0M370.16 972.81a3.7 3.7 0 1 0 7.4 0a3.7 3.7 0 1 0 -7.4 0M342.44 978.95a3.7 3.7 0 1 0 7.4 0a3.7 3.7 0 1 0 -7.4 0M346.83 978.42a3.7 3.7 0 1 0 7.4 0a3.7 3.7 0 1 0 -7.4 0M357.88 978.6a3.7 3.7 0 1 0 7.4 0a3.7 3.7 0 1 0 -7.4 0M359.63 982.11a3.7 3.7 0 1 0 7.4 0a3.7 3.7 0 1 0 -7.4 0M368.41 982.46a3.7 3.7 0 1 0 7.4 0a3.7 3.7 0 1 0 -7.4 0M377.53 980.53a3.7 3.7 0 1 0 7.4 0a3.7 3.7 0 1 0 -7.4 0M387.18 980.7a3.7 3.7 0 1 0 7.4 0a3.7 3.7 0 1 0 -7.4 0M395.95 979.82a3.7 3.7 0 1 0 7.4 0a3.7 3.7 0 1 0 -7.4 0M340.34 985.61a3.7 3.7 0 1 0 7.4 0a3.7 3.7 0 1 0 -7.4 0M350.69 987.72a3.7 3.7 0 1 0 7.4 0a3.7 3.7 0 1 0 -7.4 0M385.95 985.09a3.7 3.7 0 1 0 7.4 0a3.7 3.7 0 1 0 -7.4 0M391.04 988.6a3.7 3.7 0 1 0 7.4 0a3.7 3.7 0 1 0 -7.4 0M364.9 993.51a3.7 3.7 0 1 0 7.4 0a3.7 3.7 0 1 0 -7.4 0M382.44 994.21a3.7 3.7 0 1 0 7.4 0a3.7 3.7 0 1 0 -7.4 0M387.7 996.14a3.7 3.7 0 1 0 7.4 0a3.7 3.7 0 1 0 -7.4 0M329.81 997.37a3.7 3.7 0 1 0 7.4 0a3.7 3.7 0 1 0 -7.4 0M339.28 998.25a3.7 3.7 0 1 0 7.4 0a3.7 3.7 0 1 0 -7.4 0M340.69 1003.16a3.7 3.7 0 1 0 7.4 0a3.7 3.7 0 1 0 -7.4 0M396.3 999.3a3.7 3.7 0 1 0 7.4 0a3.7 3.7 0 1 0 -7.4 0M336.83 1012.28a3.7 3.7 0 1 0 7.4 0a3.7 3.7 0 1 0 -7.4 0M343.32 1013.68a3.7 3.7 0 1 0 7.4 0a3.7 3.7 0 1 0 -7.4 0M346.83 1015.79a3.7 3.7 0 1 0 7.4 0a3.7 3.7 0 1 0 -7.4 0M362.09 1013.68a3.7 3.7 0 1 0 7.4 0a3.7 3.7 0 1 0 -7.4 0M395.95 1011.4a3.7 3.7 0 1 0 7.4 0a3.7 3.7 0 1 0 -7.4 0M394.19 1014.04a3.7 3.7 0 1 0 7.4 0a3.7 3.7 0 1 0 -7.4 0M350.34 1017.89a3.7 3.7 0 1 0 7.4 0a3.7 3.7 0 1 0 -7.4 0M389.81 1021.05a3.7 3.7 0 1 0 7.4 0a3.7 3.7 0 1 0 -7.4 0M338.93 1021.05a3.7 3.7 0 1 0 7.4 0a3.7 3.7 0 1 0 -7.4 0M334.93 1025.49a3.7 3.7 0 1 0 7.4 0a3.7 3.7 0 1 0 -7.4 0M353.29 1045.22a3.7 3.7 0 1 0 7.4 0a3.7 3.7 0 1 0 -7.4 0M379.93 1050.58a3.7 3.7 0 1 0 7.4 0a3.7 3.7 0 1 0 -7.4 0M350.05 1059.17a3.7 3.7 0 1 0 7.4 0a3.7 3.7 0 1 0 -7.4 0M347.92 1050.64a3.7 3.7 0 1 0 7.4 0a3.7 3.7 0 1 0 -7.4 0M334.55 1052.14a3.7 3.7 0 1 0 7.4 0a3.7 3.7 0 1 0 -7.4 0M374.02 1060.28a3.7 3.7 0 1 0 7.4 0a3.7 3.7 0 1 0 -7.4 0M389.01 1049.51a3.7 3.7 0 1 0 7.4 0a3.7 3.7 0 1 0 -7.4 0M385.12 1051.54a3.7 3.7 0 1 0 7.4 0a3.7 3.7 0 1 0 -7.4 0M370.12 1030.35a3.7 3.7 0 1 0 7.4 0a3.7 3.7 0 1 0 -7.4 0M363.9 1057.85a3.7 3.7 0 1 0 7.4 0a3.7 3.7 0 1 0 -7.4 0M345.58 1060.99a3.7 3.7 0 1 0 7.4 0a3.7 3.7 0 1 0 -7.4 0M365.7 1037.74a3.7 3.7 0 1 0 7.4 0a3.7 3.7 0 1 0 -7.4 0M330 1037.61a3.7 3.7 0 1 0 7.4 0a3.7 3.7 0 1 0 -7.4 0M341.56 1048.12a3.7 3.7 0 1 0 7.4 0a3.7 3.7 0 1 0 -7.4 0M389.17 1058.41a3.7 3.7 0 1 0 7.4 0a3.7 3.7 0 1 0 -7.4 0M370.29 1037.47a3.7 3.7 0 1 0 7.4 0a3.7 3.7 0 1 0 -7.4 0M336.99 1049.55a3.7 3.7 0 1 0 7.4 0a3.7 3.7 0 1 0 -7.4 0M366.33 1050.61a3.7 3.7 0 1 0 7.4 0a3.7 3.7 0 1 0 -7.4 0M354.49 1057.47a3.7 3.7 0 1 0 7.4 0a3.7 3.7 0 1 0 -7.4 0M343.84 1034.22a3.7 3.7 0 1 0 7.4 0a3.7 3.7 0 1 0 -7.4 0M347.47 1046.89a3.7 3.7 0 1 0 7.4 0a3.7 3.7 0 1 0 -7.4 0M389.02 1028.7a3.7 3.7 0 1 0 7.4 0a3.7 3.7 0 1 0 -7.4 0M371.57 1052.66a3.7 3.7 0 1 0 7.4 0a3.7 3.7 0 1 0 -7.4 0M344.63 1024.51a3.7 3.7 0 1 0 7.4 0a3.7 3.7 0 1 0 -7.4 0M367.15 1055.21a3.7 3.7 0 1 0 7.4 0a3.7 3.7 0 1 0 -7.4 0M387.79 1051.12a3.7 3.7 0 1 0 7.4 0a3.7 3.7 0 1 0 -7.4 0M357.31 1039.02a3.7 3.7 0 1 0 7.4 0a3.7 3.7 0 1 0 -7.4 0M364.7 1058.19a3.7 3.7 0 1 0 7.4 0a3.7 3.7 0 1 0 -7.4 0M349.75 1033.23a3.7 3.7 0 1 0 7.4 0a3.7 3.7 0 1 0 -7.4 0M369.75 1060.66a3.7 3.7 0 1 0 7.4 0a3.7 3.7 0 1 0 -7.4 0M342.16 1023.22a3.7 3.7 0 1 0 7.4 0a3.7 3.7 0 1 0 -7.4 0M337.43 1044.5a3.7 3.7 0 1 0 7.4 0a3.7 3.7 0 1 0 -7.4 0M369.63 1029.36a3.7 3.7 0 1 0 7.4 0a3.7 3.7 0 1 0 -7.4 0M342.36 1045.78a3.7 3.7 0 1 0 7.4 0a3.7 3.7 0 1 0 -7.4 0M372.46 1049.61a3.7 3.7 0 1 0 7.4 0a3.7 3.7 0 1 0 -7.4 0M377.91 1024.46a3.7 3.7 0 1 0 7.4 0a3.7 3.7 0 1 0 -7.4 0M361.79 1055.39a3.7 3.7 0 1 0 7.4 0a3.7 3.7 0 1 0 -7.4 0M392.98 1034.74a3.7 3.7 0 1 0 7.4 0a3.7 3.7 0 1 0 -7.4 0M385.92 1047.81a3.7 3.7 0 1 0 7.4 0a3.7 3.7 0 1 0 -7.4 0M390.96 1031.16a3.7 3.7 0 1 0 7.4 0a3.7 3.7 0 1 0 -7.4 0M375.79 1055.63a3.7 3.7 0 1 0 7.4 0a3.7 3.7 0 1 0 -7.4 0M361.26 1026.03a3.7 3.7 0 1 0 7.4 0a3.7 3.7 0 1 0 -7.4 0M342.57 1028.27a3.7 3.7 0 1 0 7.4 0a3.7 3.7 0 1 0 -7.4 0M335.93 1028.08a3.7 3.7 0 1 0 7.4 0a3.7 3.7 0 1 0 -7.4 0M370.44 1026.2a3.7 3.7 0 1 0 7.4 0a3.7 3.7 0 1 0 -7.4 0M379.83 1051.45a3.7 3.7 0 1 0 7.4 0a3.7 3.7 0 1 0 -7.4 0M383.68 1054.15a3.7 3.7 0 1 0 7.4 0a3.7 3.7 0 1 0 -7.4 0M376.86 1058.96a3.7 3.7 0 1 0 7.4 0a3.7 3.7 0 1 0 -7.4 0M392.96 1047a3.7 3.7 0 1 0 7.4 0a3.7 3.7 0 1 0 -7.4 0M393.5 1026.13a3.7 3.7 0 1 0 7.4 0a3.7 3.7 0 1 0 -7.4 0M336.59 1024.58a3.7 3.7 0 1 0 7.4 0a3.7 3.7 0 1 0 -7.4 0M343.42 1036.98a3.7 3.7 0 1 0 7.4 0a3.7 3.7 0 1 0 -7.4 0M360.07 1049.22a3.7 3.7 0 1 0 7.4 0a3.7 3.7 0 1 0 -7.4 0M378.83 1025.35a3.7 3.7 0 1 0 7.4 0a3.7 3.7 0 1 0 -7.4 0M356.41 1043.74a3.7 3.7 0 1 0 7.4 0a3.7 3.7 0 1 0 -7.4 0M354.56 1026.7a3.7 3.7 0 1 0 7.4 0a3.7 3.7 0 1 0 -7.4 0M369.21 1036.98a3.7 3.7 0 1 0 7.4 0a3.7 3.7 0 1 0 -7.4 0M374.93 1041.82a3.7 3.7 0 1 0 7.4 0a3.7 3.7 0 1 0 -7.4 0M393.34 1059.8a3.7 3.7 0 1 0 7.4 0a3.7 3.7 0 1 0 -7.4 0M334.56 1077.2a3.7 3.7 0 1 0 7.4 0a3.7 3.7 0 1 0 -7.4 0M377.4 1067.92a3.7 3.7 0 1 0 7.4 0a3.7 3.7 0 1 0 -7.4 0M337.51 1071.58a3.7 3.7 0 1 0 7.4 0a3.7 3.7 0 1 0 -7.4 0M353.17 1076.75a3.7 3.7 0 1 0 7.4 0a3.7 3.7 0 1 0 -7.4 0M390.41 1069.64a3.7 3.7 0 1 0 7.4 0a3.7 3.7 0 1 0 -7.4 0M348.98 1071.98a3.7 3.7 0 1 0 7.4 0a3.7 3.7 0 1 0 -7.4 0M375.79 1077.78a3.7 3.7 0 1 0 7.4 0a3.7 3.7 0 1 0 -7.4 0M367.79 1067.92a3.7 3.7 0 1 0 7.4 0a3.7 3.7 0 1 0 -7.4 0M352.04 1078.96a3.7 3.7 0 1 0 7.4 0a3.7 3.7 0 1 0 -7.4 0M364.07 1063.01a3.7 3.7 0 1 0 7.4 0a3.7 3.7 0 1 0 -7.4 0M357.57 1066.76a3.7 3.7 0 1 0 7.4 0a3.7 3.7 0 1 0 -7.4 0M373.77 1063.47a3.7 3.7 0 1 0 7.4 0a3.7 3.7 0 1 0 -7.4 0M347.69 1063.92a3.7 3.7 0 1 0 7.4 0a3.7 3.7 0 1 0 -7.4 0M361.32 1081.69a3.7 3.7 0 1 0 7.4 0a3.7 3.7 0 1 0 -7.4 0M365.53 1069.73a3.7 3.7 0 1 0 7.4 0a3.7 3.7 0 1 0 -7.4 0M391.44 1063.84a3.7 3.7 0 1 0 7.4 0a3.7 3.7 0 1 0 -7.4 0M353.28 1078.22a3.7 3.7 0 1 0 7.4 0a3.7 3.7 0 1 0 -7.4 0M330.14 1077.32a3.7 3.7 0 1 0 7.4 0a3.7 3.7 0 1 0 -7.4 0M353.63 1062.33a3.7 3.7 0 1 0 7.4 0a3.7 3.7 0 1 0 -7.4 0M346.36 1071.16a3.7 3.7 0 1 0 7.4 0a3.7 3.7 0 1 0 -7.4 0M355.07 1072.34a3.7 3.7 0 1 0 7.4 0a3.7 3.7 0 1 0 -7.4 0M333.31 1066.37a3.7 3.7 0 1 0 7.4 0a3.7 3.7 0 1 0 -7.4 0M394.1 1070.85a3.7 3.7 0 1 0 7.4 0a3.7 3.7 0 1 0 -7.4 0M360.94 1063.71a3.7 3.7 0 1 0 7.4 0a3.7 3.7 0 1 0 -7.4 0M348.22 1081.1a3.7 3.7 0 1 0 7.4 0a3.7 3.7 0 1 0 -7.4 0M375.15 1072.16a3.7 3.7 0 1 0 7.4 0a3.7 3.7 0 1 0 -7.4 0M333.3 1069.85a3.7 3.7 0 1 0 7.4 0a3.7 3.7 0 1 0 -7.4 0M381.18 1070.69a3.7 3.7 0 1 0 7.4 0a3.7 3.7 0 1 0 -7.4 0M368.97 1080.05a3.7 3.7 0 1 0 7.4 0a3.7 3.7 0 1 0 -7.4 0M372.38 1074.72a3.7 3.7 0 1 0 7.4 0a3.7 3.7 0 1 0 -7.4 0M332.18 1062.48a3.7 3.7 0 1 0 7.4 0a3.7 3.7 0 1 0 -7.4 0M380.59 1070.27a3.7 3.7 0 1 0 7.4 0a3.7 3.7 0 1 0 -7.4 0M387.5 1078.51a3.7 3.7 0 1 0 7.4 0a3.7 3.7 0 1 0 -7.4 0M390.21 1069.57a3.7 3.7 0 1 0 7.4 0a3.7 3.7 0 1 0 -7.4 0M395.74 1077.12a3.7 3.7 0 1 0 7.4 0a3.7 3.7 0 1 0 -7.4 0M388.66 1064.96a3.7 3.7 0 1 0 7.4 0a3.7 3.7 0 1 0 -7.4 0M381.34 1070.44a3.7 3.7 0 1 0 7.4 0a3.7 3.7 0 1 0 -7.4 0M393.96 1081.88a3.7 3.7 0 1 0 7.4 0a3.7 3.7 0 1 0 -7.4 0M344.1 1070.43a3.7 3.7 0 1 0 7.4 0a3.7 3.7 0 1 0 -7.4 0M347.68 1071.4a3.7 3.7 0 1 0 7.4 0a3.7 3.7 0 1 0 -7.4 0M348.71 1075.33a3.7 3.7 0 1 0 7.4 0a3.7 3.7 0 1 0 -7.4 0M337.94 1065.38a3.7 3.7 0 1 0 7.4 0a3.7 3.7 0 1 0 -7.4 0M360.01 1063.48a3.7 3.7 0 1 0 7.4 0a3.7 3.7 0 1 0 -7.4 0M354.96 1079.95a3.7 3.7 0 1 0 7.4 0a3.7 3.7 0 1 0 -7.4 0M388.23 1065.93a3.7 3.7 0 1 0 7.4 0a3.7 3.7 0 1 0 -7.4 0M331.02 1078.57a3.7 3.7 0 1 0 7.4 0a3.7 3.7 0 1 0 -7.4 0M393.21 1073.98a3.7 3.7 0 1 0 7.4 0a3.7 3.7 0 1 0 -7.4 0M338.8 1066.73a3.7 3.7 0 1 0 7.4 0a3.7 3.7 0 1 0 -7.4 0M390.53 1080.75a3.7 3.7 0 1 0 7.4 0a3.7 3.7 0 1 0 -7.4 0M331.85 1065.7a3.7 3.7 0 1 0 7.4 0a3.7 3.7 0 1 0 -7.4 0M358.12 1067.33a3.7 3.7 0 1 0 7.4 0a3.7 3.7 0 1 0 -7.4 0M379.56 1069.46a3.7 3.7 0 1 0 7.4 0a3.7 3.7 0 1 0 -7.4 0M380.96 1065.04a3.7 3.7 0 1 0 7.4 0a3.7 3.7 0 1 0 -7.4 0M364.01 1081.5a3.7 3.7 0 1 0 7.4 0a3.7 3.7 0 1 0 -7.4 0M376.13 1063.8a3.7 3.7 0 1 0 7.4 0a3.7 3.7 0 1 0 -7.4 0M337.12 1074.87a3.7 3.7 0 1 0 7.4 0a3.7 3.7 0 1 0 -7.4 0M354.55 1069.37a3.7 3.7 0 1 0 7.4 0a3.7 3.7 0 1 0 -7.4 0M361.33 1073.63a3.7 3.7 0 1 0 7.4 0a3.7 3.7 0 1 0 -7.4 0M393.55 1066.82a3.7 3.7 0 1 0 7.4 0a3.7 3.7 0 1 0 -7.4 0M367.33 1067.26a3.7 3.7 0 1 0 7.4 0a3.7 3.7 0 1 0 -7.4 0M365.79 1076.63a3.7 3.7 0 1 0 7.4 0a3.7 3.7 0 1 0 -7.4 0M338.62 1071.62a3.7 3.7 0 1 0 7.4 0a3.7 3.7 0 1 0 -7.4 0M376.38 1062.16a3.7 3.7 0 1 0 7.4 0a3.7 3.7 0 1 0 -7.4 0M380.69 1070.38a3.7 3.7 0 1 0 7.4 0a3.7 3.7 0 1 0 -7.4 0M363.07 1074.21a3.7 3.7 0 1 0 7.4 0a3.7 3.7 0 1 0 -7.4 0M382.13 1063.12a3.7 3.7 0 1 0 7.4 0a3.7 3.7 0 1 0 -7.4 0M362.84 1062.77a3.7 3.7 0 1 0 7.4 0a3.7 3.7 0 1 0 -7.4 0M355.24 1068.92a3.7 3.7 0 1 0 7.4 0a3.7 3.7 0 1 0 -7.4 0M331.21 1067.95a3.7 3.7 0 1 0 7.4 0a3.7 3.7 0 1 0 -7.4 0M359.5 1075.1a3.7 3.7 0 1 0 7.4 0a3.7 3.7 0 1 0 -7.4 0M331.16 1083.2a3.7 3.7 0 1 0 7.4 0a3.7 3.7 0 1 0 -7.4 0M331.81 1082.9a3.7 3.7 0 1 0 7.4 0a3.7 3.7 0 1 0 -7.4 0M333.51 1083.2a3.7 3.7 0 1 0 7.4 0a3.7 3.7 0 1 0 -7.4 0M335.25 1082.9a3.7 3.7 0 1 0 7.4 0a3.7 3.7 0 1 0 -7.4 0M337.04 1083.2a3.7 3.7 0 1 0 7.4 0a3.7 3.7 0 1 0 -7.4 0M338.53 1082.9a3.7 3.7 0 1 0 7.4 0a3.7 3.7 0 1 0 -7.4 0M340.05 1083.2a3.7 3.7 0 1 0 7.4 0a3.7 3.7 0 1 0 -7.4 0M340.51 1083.2a3.7 3.7 0 1 0 7.4 0a3.7 3.7 0 1 0 -7.4 0M341.78 1083.2a3.7 3.7 0 1 0 7.4 0a3.7 3.7 0 1 0 -7.4 0M344.37 1083.2a3.7 3.7 0 1 0 7.4 0a3.7 3.7 0 1 0 -7.4 0M344.58 1082.9a3.7 3.7 0 1 0 7.4 0a3.7 3.7 0 1 0 -7.4 0M346.59 1082.9a3.7 3.7 0 1 0 7.4 0a3.7 3.7 0 1 0 -7.4 0M348.48 1083.2a3.7 3.7 0 1 0 7.4 0a3.7 3.7 0 1 0 -7.4 0M349.64 1082.9a3.7 3.7 0 1 0 7.4 0a3.7 3.7 0 1 0 -7.4 0M350.9 1082.9a3.7 3.7 0 1 0 7.4 0a3.7 3.7 0 1 0 -7.4 0M353.16 1083.2a3.7 3.7 0 1 0 7.4 0a3.7 3.7 0 1 0 -7.4 0M353.71 1083.2a3.7 3.7 0 1 0 7.4 0a3.7 3.7 0 1 0 -7.4 0M355.54 1082.9a3.7 3.7 0 1 0 7.4 0a3.7 3.7 0 1 0 -7.4 0M357.42 1083.2a3.7 3.7 0 1 0 7.4 0a3.7 3.7 0 1 0 -7.4 0M357.87 1083.2a3.7 3.7 0 1 0 7.4 0a3.7 3.7 0 1 0 -7.4 0M359.65 1083.2a3.7 3.7 0 1 0 7.4 0a3.7 3.7 0 1 0 -7.4 0M361.32 1082.9a3.7 3.7 0 1 0 7.4 0a3.7 3.7 0 1 0 -7.4 0M362.9 1082.9a3.7 3.7 0 1 0 7.4 0a3.7 3.7 0 1 0 -7.4 0M363.84 1082.9a3.7 3.7 0 1 0 7.4 0a3.7 3.7 0 1 0 -7.4 0M365.67 1083.2a3.7 3.7 0 1 0 7.4 0a3.7 3.7 0 1 0 -7.4 0M366.55 1082.9a3.7 3.7 0 1 0 7.4 0a3.7 3.7 0 1 0 -7.4 0M368.06 1082.9a3.7 3.7 0 1 0 7.4 0a3.7 3.7 0 1 0 -7.4 0M369.9 1083.2a3.7 3.7 0 1 0 7.4 0a3.7 3.7 0 1 0 -7.4 0M371.08 1082.9a3.7 3.7 0 1 0 7.4 0a3.7 3.7 0 1 0 -7.4 0M373.75 1082.9a3.7 3.7 0 1 0 7.4 0a3.7 3.7 0 1 0 -7.4 0M374.19 1083.2a3.7 3.7 0 1 0 7.4 0a3.7 3.7 0 1 0 -7.4 0M375.67 1082.9a3.7 3.7 0 1 0 7.4 0a3.7 3.7 0 1 0 -7.4 0M377.88 1083.2a3.7 3.7 0 1 0 7.4 0a3.7 3.7 0 1 0 -7.4 0M379.29 1082.9a3.7 3.7 0 1 0 7.4 0a3.7 3.7 0 1 0 -7.4 0M380.05 1082.9a3.7 3.7 0 1 0 7.4 0a3.7 3.7 0 1 0 -7.4 0M382.35 1082.9a3.7 3.7 0 1 0 7.4 0a3.7 3.7 0 1 0 -7.4 0M383.52 1083.2a3.7 3.7 0 1 0 7.4 0a3.7 3.7 0 1 0 -7.4 0M384.64 1083.2a3.7 3.7 0 1 0 7.4 0a3.7 3.7 0 1 0 -7.4 0M386.46 1083.2a3.7 3.7 0 1 0 7.4 0a3.7 3.7 0 1 0 -7.4 0M387.36 1082.9a3.7 3.7 0 1 0 7.4 0a3.7 3.7 0 1 0 -7.4 0M388.85 1083.2a3.7 3.7 0 1 0 7.4 0a3.7 3.7 0 1 0 -7.4 0M391.22 1083.2a3.7 3.7 0 1 0 7.4 0a3.7 3.7 0 1 0 -7.4 0M392.04 1082.9a3.7 3.7 0 1 0 7.4 0a3.7 3.7 0 1 0 -7.4 0M394.18 1082.9a3.7 3.7 0 1 0 7.4 0a3.7 3.7 0 1 0 -7.4 0M394.59 1082.9a3.7 3.7 0 1 0 7.4 0a3.7 3.7 0 1 0 -7.4 0M547.7 1026.49a3.7 3.7 0 1 0 7.4 0a3.7 3.7 0 1 0 -7.4 0M560.86 1034.04a3.7 3.7 0 1 0 7.4 0a3.7 3.7 0 1 0 -7.4 0M515.6 1030.35a3.7 3.7 0 1 0 7.4 0a3.7 3.7 0 1 0 -7.4 0M544.19 1036.49a3.7 3.7 0 1 0 7.4 0a3.7 3.7 0 1 0 -7.4 0M534.72 1042.11a3.7 3.7 0 1 0 7.4 0a3.7 3.7 0 1 0 -7.4 0M511.21 1047.54a3.7 3.7 0 1 0 7.4 0a3.7 3.7 0 1 0 -7.4 0M545.42 1060.53a3.7 3.7 0 1 0 7.4 0a3.7 3.7 0 1 0 -7.4 0M517.88 1065.44a3.7 3.7 0 1 0 7.4 0a3.7 3.7 0 1 0 -7.4 0M501.21 1065.79a3.7 3.7 0 1 0 7.4 0a3.7 3.7 0 1 0 -7.4 0M496.83 1068.77a3.7 3.7 0 1 0 7.4 0a3.7 3.7 0 1 0 -7.4 0M529.28 1070.18a3.7 3.7 0 1 0 7.4 0a3.7 3.7 0 1 0 -7.4 0M532.79 1080.7a3.7 3.7 0 1 0 7.4 0a3.7 3.7 0 1 0 -7.4 0M551.21 1083.68a3.7 3.7 0 1 0 7.4 0a3.7 3.7 0 1 0 -7.4 0" fill="#4BB8D6"/>
<line x1="199.5" y1="672.9" x2="199.5" y2="912.9" stroke="#111" stroke-width="1.1" stroke-dasharray="4.3 3.4"/>
<line x1="199.5" y1="1074.2" x2="199.5" y2="1083.2" stroke="#111" stroke-width="1.1" stroke-dasharray="4.3 3.4"/>
<line x1="165.4" y1="672.9" x2="233.8" y2="672.9" stroke="#0a0a0a" stroke-width="1.3"/>
<line x1="165.4" y1="1083.2" x2="233.8" y2="1083.2" stroke="#0a0a0a" stroke-width="1.3"/>
<rect x="132.8" y="912.9" width="133.6" height="161.3" fill="#fff" stroke="#0a0a0a" stroke-width="1.25" fill-opacity="0.5"/>
<line x1="132.8" y1="1025.2" x2="266.4" y2="1025.2" stroke="#000" stroke-width="3.4"/>
<line x1="366.5" y1="925.8" x2="366.5" y2="1019.2" stroke="#111" stroke-width="1.1" stroke-dasharray="4.3 3.4"/>
<line x1="366.5" y1="1082.5" x2="366.5" y2="1083.2" stroke="#111" stroke-width="1.1" stroke-dasharray="4.3 3.4"/>
<line x1="340.9" y1="925.8" x2="392" y2="925.8" stroke="#0a0a0a" stroke-width="1.3"/>
<line x1="340.9" y1="1083.2" x2="392" y2="1083.2" stroke="#0a0a0a" stroke-width="1.3"/>
<rect x="316.3" y="1019.2" width="100.4" height="63.3" fill="#fff" stroke="#0a0a0a" stroke-width="1.25" fill-opacity="0.5"/>
<line x1="316.3" y1="1062.3" x2="416.7" y2="1062.3" stroke="#000" stroke-width="3.4"/>
<line x1="533.4" y1="1066" x2="533.4" y2="1083.3" stroke="#111" stroke-width="1.1" stroke-dasharray="4.3 3.4"/>
<line x1="526.5" y1="1026.4" x2="540.3" y2="1026.4" stroke="#0a0a0a" stroke-width="1.3"/>
<line x1="526.5" y1="1083.3" x2="540.3" y2="1083.3" stroke="#0a0a0a" stroke-width="1.3"/>
<rect x="520.5" y="1026.4" width="26" height="39.6" fill="#fff" stroke="#0a0a0a" stroke-width="1.25" fill-opacity="0.5"/>
<line x1="520.5" y1="1039" x2="546.5" y2="1039" stroke="#000" stroke-width="3.4"/>
<text transform="translate(-1.37 630) scale(0.9983 1.0056)" font-size="49" font-weight="bold">D</text>
<rect x="96.1" y="656.7" width="540.9" height="443.1" fill="none" stroke="#000" stroke-width="1.8"/>
<line x1="85.7" y1="1083.2" x2="96.1" y2="1083.2" stroke="#000" stroke-width="1.6"/>
<text x="79.7" y="1090.6" font-size="21.3" text-anchor="end">0</text>
<line x1="85.7" y1="980.08" x2="96.1" y2="980.08" stroke="#000" stroke-width="1.6"/>
<text x="79.7" y="987.48" font-size="21.3" text-anchor="end" textLength="34.0" lengthAdjust="spacing">500</text>
<line x1="85.7" y1="876.95" x2="96.1" y2="876.95" stroke="#000" stroke-width="1.6"/>
<text x="79.7" y="884.35" font-size="21.3" text-anchor="end" textLength="44.8" lengthAdjust="spacing">1000</text>
<line x1="85.7" y1="773.83" x2="96.1" y2="773.83" stroke="#000" stroke-width="1.6"/>
<text x="79.7" y="781.23" font-size="21.3" text-anchor="end" textLength="44.8" lengthAdjust="spacing">1500</text>
<line x1="85.7" y1="670.7" x2="96.1" y2="670.7" stroke="#000" stroke-width="1.6"/>
<text x="79.7" y="678.1" font-size="21.3" text-anchor="end" textLength="44.8" lengthAdjust="spacing">2000</text>
<line x1="199.5" y1="1099.8" x2="199.5" y2="1110.4" stroke="#000" stroke-width="1.6"/>
<text x="199.5" y="1135" font-size="20.2" text-anchor="middle">Single copy</text>
<line x1="366.5" y1="1099.8" x2="366.5" y2="1110.4" stroke="#000" stroke-width="1.6"/>
<text x="366.5" y="1135" font-size="20.2" text-anchor="middle">Het</text>
<line x1="533.4" y1="1099.8" x2="533.4" y2="1110.4" stroke="#000" stroke-width="1.6"/>
<text x="533.4" y="1135" font-size="20" text-anchor="middle" textLength="84.6" lengthAdjust="spacing">Triplicated</text>
<text transform="translate(17.1 878.3) rotate(-90)" font-size="23.6" text-anchor="middle">Paraprevotella ASV_5095 MI (raw counts)</text>
</g>
<g id="panelE">
<path d="M840.86 673.25a3.7 3.7 0 1 0 7.4 0a3.7 3.7 0 1 0 -7.4 0M872.97 673.25a3.7 3.7 0 1 0 7.4 0a3.7 3.7 0 1 0 -7.4 0M886.65 673.25a3.7 3.7 0 1 0 7.4 0a3.7 3.7 0 1 0 -7.4 0M858.41 687.4a3.7 3.7 0 1 0 7.4 0a3.7 3.7 0 1 0 -7.4 0M902.62 687.4a3.7 3.7 0 1 0 7.4 0a3.7 3.7 0 1 0 -7.4 0M838.93 701.56a3.7 3.7 0 1 0 7.4 0a3.7 3.7 0 1 0 -7.4 0M856.12 701.56a3.7 3.7 0 1 0 7.4 0a3.7 3.7 0 1 0 -7.4 0M870.69 701.56a3.7 3.7 0 1 0 7.4 0a3.7 3.7 0 1 0 -7.4 0M902.97 701.56a3.7 3.7 0 1 0 7.4 0a3.7 3.7 0 1 0 -7.4 0M838.93 715.72a3.7 3.7 0 1 0 7.4 0a3.7 3.7 0 1 0 -7.4 0M848.58 715.72a3.7 3.7 0 1 0 7.4 0a3.7 3.7 0 1 0 -7.4 0M893.49 715.72a3.7 3.7 0 1 0 7.4 0a3.7 3.7 0 1 0 -7.4 0M862.62 729.88a3.7 3.7 0 1 0 7.4 0a3.7 3.7 0 1 0 -7.4 0M888.93 729.88a3.7 3.7 0 1 0 7.4 0a3.7 3.7 0 1 0 -7.4 0M892.44 729.88a3.7 3.7 0 1 0 7.4 0a3.7 3.7 0 1 0 -7.4 0M899.63 729.88a3.7 3.7 0 1 0 7.4 0a3.7 3.7 0 1 0 -7.4 0M838.93 744.03a3.7 3.7 0 1 0 7.4 0a3.7 3.7 0 1 0 -7.4 0M846.48 744.03a3.7 3.7 0 1 0 7.4 0a3.7 3.7 0 1 0 -7.4 0M848.58 744.03a3.7 3.7 0 1 0 7.4 0a3.7 3.7 0 1 0 -7.4 0M868.76 744.03a3.7 3.7 0 1 0 7.4 0a3.7 3.7 0 1 0 -7.4 0M882.97 744.03a3.7 3.7 0 1 0 7.4 0a3.7 3.7 0 1 0 -7.4 0M893.49 744.03a3.7 3.7 0 1 0 7.4 0a3.7 3.7 0 1 0 -7.4 0M842.97 758.19a3.7 3.7 0 1 0 7.4 0a3.7 3.7 0 1 0 -7.4 0M848.58 758.19a3.7 3.7 0 1 0 7.4 0a3.7 3.7 0 1 0 -7.4 0M871.04 758.19a3.7 3.7 0 1 0 7.4 0a3.7 3.7 0 1 0 -7.4 0M897.35 758.19a3.7 3.7 0 1 0 7.4 0a3.7 3.7 0 1 0 -7.4 0M855.42 772.35a3.7 3.7 0 1 0 7.4 0a3.7 3.7 0 1 0 -7.4 0M839.46 786.5a3.7 3.7 0 1 0 7.4 0a3.7 3.7 0 1 0 -7.4 0M844.19 786.5a3.7 3.7 0 1 0 7.4 0a3.7 3.7 0 1 0 -7.4 0M852.62 786.5a3.7 3.7 0 1 0 7.4 0a3.7 3.7 0 1 0 -7.4 0M856.12 786.5a3.7 3.7 0 1 0 7.4 0a3.7 3.7 0 1 0 -7.4 0M870.69 786.5a3.7 3.7 0 1 0 7.4 0a3.7 3.7 0 1 0 -7.4 0M849.63 800.66a3.7 3.7 0 1 0 7.4 0a3.7 3.7 0 1 0 -7.4 0M853.49 800.66a3.7 3.7 0 1 0 7.4 0a3.7 3.7 0 1 0 -7.4 0M857.35 800.66a3.7 3.7 0 1 0 7.4 0a3.7 3.7 0 1 0 -7.4 0M864.02 800.66a3.7 3.7 0 1 0 7.4 0a3.7 3.7 0 1 0 -7.4 0M881.21 800.66a3.7 3.7 0 1 0 7.4 0a3.7 3.7 0 1 0 -7.4 0M900.86 800.66a3.7 3.7 0 1 0 7.4 0a3.7 3.7 0 1 0 -7.4 0M839.63 814.82a3.7 3.7 0 1 0 7.4 0a3.7 3.7 0 1 0 -7.4 0M881.39 814.82a3.7 3.7 0 1 0 7.4 0a3.7 3.7 0 1 0 -7.4 0M871.04 828.97a3.7 3.7 0 1 0 7.4 0a3.7 3.7 0 1 0 -7.4 0M876.3 828.97a3.7 3.7 0 1 0 7.4 0a3.7 3.7 0 1 0 -7.4 0M880.69 828.97a3.7 3.7 0 1 0 7.4 0a3.7 3.7 0 1 0 -7.4 0M886.48 828.97a3.7 3.7 0 1 0 7.4 0a3.7 3.7 0 1 0 -7.4 0M899.63 828.97a3.7 3.7 0 1 0 7.4 0a3.7 3.7 0 1 0 -7.4 0M901.74 828.97a3.7 3.7 0 1 0 7.4 0a3.7 3.7 0 1 0 -7.4 0M844.72 843.13a3.7 3.7 0 1 0 7.4 0a3.7 3.7 0 1 0 -7.4 0M857 843.13a3.7 3.7 0 1 0 7.4 0a3.7 3.7 0 1 0 -7.4 0M860.51 843.13a3.7 3.7 0 1 0 7.4 0a3.7 3.7 0 1 0 -7.4 0M893.67 843.13a3.7 3.7 0 1 0 7.4 0a3.7 3.7 0 1 0 -7.4 0M901.74 843.13a3.7 3.7 0 1 0 7.4 0a3.7 3.7 0 1 0 -7.4 0M839.81 857.29a3.7 3.7 0 1 0 7.4 0a3.7 3.7 0 1 0 -7.4 0M843.84 857.29a3.7 3.7 0 1 0 7.4 0a3.7 3.7 0 1 0 -7.4 0M852.09 857.29a3.7 3.7 0 1 0 7.4 0a3.7 3.7 0 1 0 -7.4 0M856.12 857.29a3.7 3.7 0 1 0 7.4 0a3.7 3.7 0 1 0 -7.4 0M875.42 857.29a3.7 3.7 0 1 0 7.4 0a3.7 3.7 0 1 0 -7.4 0M896.48 857.29a3.7 3.7 0 1 0 7.4 0a3.7 3.7 0 1 0 -7.4 0M842.97 871.44a3.7 3.7 0 1 0 7.4 0a3.7 3.7 0 1 0 -7.4 0M854.37 871.44a3.7 3.7 0 1 0 7.4 0a3.7 3.7 0 1 0 -7.4 0M863.14 871.44a3.7 3.7 0 1 0 7.4 0a3.7 3.7 0 1 0 -7.4 0M866.12 871.44a3.7 3.7 0 1 0 7.4 0a3.7 3.7 0 1 0 -7.4 0M893.84 871.44a3.7 3.7 0 1 0 7.4 0a3.7 3.7 0 1 0 -7.4 0M895.25 871.44a3.7 3.7 0 1 0 7.4 0a3.7 3.7 0 1 0 -7.4 0M856.65 885.6a3.7 3.7 0 1 0 7.4 0a3.7 3.7 0 1 0 -7.4 0M866.12 885.6a3.7 3.7 0 1 0 7.4 0a3.7 3.7 0 1 0 -7.4 0M886.3 885.6a3.7 3.7 0 1 0 7.4 0a3.7 3.7 0 1 0 -7.4 0M897.35 885.6a3.7 3.7 0 1 0 7.4 0a3.7 3.7 0 1 0 -7.4 0M905.25 885.6a3.7 3.7 0 1 0 7.4 0a3.7 3.7 0 1 0 -7.4 0M842.09 899.76a3.7 3.7 0 1 0 7.4 0a3.7 3.7 0 1 0 -7.4 0M846.48 899.76a3.7 3.7 0 1 0 7.4 0a3.7 3.7 0 1 0 -7.4 0M857.35 899.76a3.7 3.7 0 1 0 7.4 0a3.7 3.7 0 1 0 -7.4 0M874.9 899.76a3.7 3.7 0 1 0 7.4 0a3.7 3.7 0 1 0 -7.4 0M878.93 899.76a3.7 3.7 0 1 0 7.4 0a3.7 3.7 0 1 0 -7.4 0M900.16 899.76a3.7 3.7 0 1 0 7.4 0a3.7 3.7 0 1 0 -7.4 0M842.97 913.92a3.7 3.7 0 1 0 7.4 0a3.7 3.7 0 1 0 -7.4 0M853.84 913.92a3.7 3.7 0 1 0 7.4 0a3.7 3.7 0 1 0 -7.4 0M870.51 913.92a3.7 3.7 0 1 0 7.4 0a3.7 3.7 0 1 0 -7.4 0M892.44 913.92a3.7 3.7 0 1 0 7.4 0a3.7 3.7 0 1 0 -7.4 0M895.6 913.92a3.7 3.7 0 1 0 7.4 0a3.7 3.7 0 1 0 -7.4 0M842.62 928.07a3.7 3.7 0 1 0 7.4 0a3.7 3.7 0 1 0 -7.4 0M847.35 928.07a3.7 3.7 0 1 0 7.4 0a3.7 3.7 0 1 0 -7.4 0M852.09 928.07a3.7 3.7 0 1 0 7.4 0a3.7 3.7 0 1 0 -7.4 0M857 928.07a3.7 3.7 0 1 0 7.4 0a3.7 3.7 0 1 0 -7.4 0M868.05 928.07a3.7 3.7 0 1 0 7.4 0a3.7 3.7 0 1 0 -7.4 0M878.93 928.07a3.7 3.7 0 1 0 7.4 0a3.7 3.7 0 1 0 -7.4 0M892.97 928.07a3.7 3.7 0 1 0 7.4 0a3.7 3.7 0 1 0 -7.4 0M899.98 928.07a3.7 3.7 0 1 0 7.4 0a3.7 3.7 0 1 0 -7.4 0M841.21 942.23a3.7 3.7 0 1 0 7.4 0a3.7 3.7 0 1 0 -7.4 0M856.12 942.23a3.7 3.7 0 1 0 7.4 0a3.7 3.7 0 1 0 -7.4 0M860.51 942.23a3.7 3.7 0 1 0 7.4 0a3.7 3.7 0 1 0 -7.4 0M864.02 942.23a3.7 3.7 0 1 0 7.4 0a3.7 3.7 0 1 0 -7.4 0M871.91 942.23a3.7 3.7 0 1 0 7.4 0a3.7 3.7 0 1 0 -7.4 0M876.3 942.23a3.7 3.7 0 1 0 7.4 0a3.7 3.7 0 1 0 -7.4 0M883.67 942.23a3.7 3.7 0 1 0 7.4 0a3.7 3.7 0 1 0 -7.4 0M894.19 942.23a3.7 3.7 0 1 0 7.4 0a3.7 3.7 0 1 0 -7.4 0M840.86 956.39a3.7 3.7 0 1 0 7.4 0a3.7 3.7 0 1 0 -7.4 0M845.6 956.39a3.7 3.7 0 1 0 7.4 0a3.7 3.7 0 1 0 -7.4 0M849.11 956.39a3.7 3.7 0 1 0 7.4 0a3.7 3.7 0 1 0 -7.4 0M857 956.39a3.7 3.7 0 1 0 7.4 0a3.7 3.7 0 1 0 -7.4 0M862.26 956.39a3.7 3.7 0 1 0 7.4 0a3.7 3.7 0 1 0 -7.4 0M872.79 956.39a3.7 3.7 0 1 0 7.4 0a3.7 3.7 0 1 0 -7.4 0M878.05 956.39a3.7 3.7 0 1 0 7.4 0a3.7 3.7 0 1 0 -7.4 0M884.19 956.39a3.7 3.7 0 1 0 7.4 0a3.7 3.7 0 1 0 -7.4 0M896.48 956.39a3.7 3.7 0 1 0 7.4 0a3.7 3.7 0 1 0 -7.4 0M903.49 956.39a3.7 3.7 0 1 0 7.4 0a3.7 3.7 0 1 0 -7.4 0M840.69 970.54a3.7 3.7 0 1 0 7.4 0a3.7 3.7 0 1 0 -7.4 0M848.23 970.54a3.7 3.7 0 1 0 7.4 0a3.7 3.7 0 1 0 -7.4 0M852.62 970.54a3.7 3.7 0 1 0 7.4 0a3.7 3.7 0 1 0 -7.4 0M858.76 970.54a3.7 3.7 0 1 0 7.4 0a3.7 3.7 0 1 0 -7.4 0M863.14 970.54a3.7 3.7 0 1 0 7.4 0a3.7 3.7 0 1 0 -7.4 0M872.44 970.54a3.7 3.7 0 1 0 7.4 0a3.7 3.7 0 1 0 -7.4 0M878.05 970.54a3.7 3.7 0 1 0 7.4 0a3.7 3.7 0 1 0 -7.4 0M883.32 970.54a3.7 3.7 0 1 0 7.4 0a3.7 3.7 0 1 0 -7.4 0M889.46 970.54a3.7 3.7 0 1 0 7.4 0a3.7 3.7 0 1 0 -7.4 0M897.35 970.54a3.7 3.7 0 1 0 7.4 0a3.7 3.7 0 1 0 -7.4 0M902.62 970.54a3.7 3.7 0 1 0 7.4 0a3.7 3.7 0 1 0 -7.4 0M905.77 970.54a3.7 3.7 0 1 0 7.4 0a3.7 3.7 0 1 0 -7.4 0M842.44 984.7a3.7 3.7 0 1 0 7.4 0a3.7 3.7 0 1 0 -7.4 0M852.62 984.7a3.7 3.7 0 1 0 7.4 0a3.7 3.7 0 1 0 -7.4 0M857.88 984.7a3.7 3.7 0 1 0 7.4 0a3.7 3.7 0 1 0 -7.4 0M869.28 984.7a3.7 3.7 0 1 0 7.4 0a3.7 3.7 0 1 0 -7.4 0M877.18 984.7a3.7 3.7 0 1 0 7.4 0a3.7 3.7 0 1 0 -7.4 0M881.56 984.7a3.7 3.7 0 1 0 7.4 0a3.7 3.7 0 1 0 -7.4 0M887.7 984.7a3.7 3.7 0 1 0 7.4 0a3.7 3.7 0 1 0 -7.4 0M892.09 984.7a3.7 3.7 0 1 0 7.4 0a3.7 3.7 0 1 0 -7.4 0M898.23 984.7a3.7 3.7 0 1 0 7.4 0a3.7 3.7 0 1 0 -7.4 0M899.63 984.7a3.7 3.7 0 1 0 7.4 0a3.7 3.7 0 1 0 -7.4 0M843.49 1013.01a3.7 3.7 0 1 0 7.4 0a3.7 3.7 0 1 0 -7.4 0M851.74 1013.01a3.7 3.7 0 1 0 7.4 0a3.7 3.7 0 1 0 -7.4 0M857 1013.01a3.7 3.7 0 1 0 7.4 0a3.7 3.7 0 1 0 -7.4 0M862.26 1013.01a3.7 3.7 0 1 0 7.4 0a3.7 3.7 0 1 0 -7.4 0M872.79 1013.01a3.7 3.7 0 1 0 7.4 0a3.7 3.7 0 1 0 -7.4 0M878.05 1013.01a3.7 3.7 0 1 0 7.4 0a3.7 3.7 0 1 0 -7.4 0M885.95 1013.01a3.7 3.7 0 1 0 7.4 0a3.7 3.7 0 1 0 -7.4 0M893.84 1013.01a3.7 3.7 0 1 0 7.4 0a3.7 3.7 0 1 0 -7.4 0M898.23 1013.01a3.7 3.7 0 1 0 7.4 0a3.7 3.7 0 1 0 -7.4 0M905.25 1013.01a3.7 3.7 0 1 0 7.4 0a3.7 3.7 0 1 0 -7.4 0M840.66 998.86a3.7 3.7 0 1 0 7.4 0a3.7 3.7 0 1 0 -7.4 0M843.1 998.86a3.7 3.7 0 1 0 7.4 0a3.7 3.7 0 1 0 -7.4 0M847.53 998.86a3.7 3.7 0 1 0 7.4 0a3.7 3.7 0 1 0 -7.4 0M848.78 998.86a3.7 3.7 0 1 0 7.4 0a3.7 3.7 0 1 0 -7.4 0M853.1 998.86a3.7 3.7 0 1 0 7.4 0a3.7 3.7 0 1 0 -7.4 0M855.55 998.86a3.7 3.7 0 1 0 7.4 0a3.7 3.7 0 1 0 -7.4 0M857.6 998.86a3.7 3.7 0 1 0 7.4 0a3.7 3.7 0 1 0 -7.4 0M861.88 998.86a3.7 3.7 0 1 0 7.4 0a3.7 3.7 0 1 0 -7.4 0M863.45 998.86a3.7 3.7 0 1 0 7.4 0a3.7 3.7 0 1 0 -7.4 0M867.57 998.86a3.7 3.7 0 1 0 7.4 0a3.7 3.7 0 1 0 -7.4 0M869.45 998.86a3.7 3.7 0 1 0 7.4 0a3.7 3.7 0 1 0 -7.4 0M872.47 998.86a3.7 3.7 0 1 0 7.4 0a3.7 3.7 0 1 0 -7.4 0M876.41 998.86a3.7 3.7 0 1 0 7.4 0a3.7 3.7 0 1 0 -7.4 0M880.55 998.86a3.7 3.7 0 1 0 7.4 0a3.7 3.7 0 1 0 -7.4 0M881.43 998.86a3.7 3.7 0 1 0 7.4 0a3.7 3.7 0 1 0 -7.4 0M884.68 998.86a3.7 3.7 0 1 0 7.4 0a3.7 3.7 0 1 0 -7.4 0M888.83 998.86a3.7 3.7 0 1 0 7.4 0a3.7 3.7 0 1 0 -7.4 0M892.73 998.86a3.7 3.7 0 1 0 7.4 0a3.7 3.7 0 1 0 -7.4 0M894.59 998.86a3.7 3.7 0 1 0 7.4 0a3.7 3.7 0 1 0 -7.4 0M897.01 998.86a3.7 3.7 0 1 0 7.4 0a3.7 3.7 0 1 0 -7.4 0M901.68 998.86a3.7 3.7 0 1 0 7.4 0a3.7 3.7 0 1 0 -7.4 0M901.88 998.86a3.7 3.7 0 1 0 7.4 0a3.7 3.7 0 1 0 -7.4 0M842.8 1027.17a3.7 3.7 0 1 0 7.4 0a3.7 3.7 0 1 0 -7.4 0M844.36 1027.17a3.7 3.7 0 1 0 7.4 0a3.7 3.7 0 1 0 -7.4 0M847.44 1027.17a3.7 3.7 0 1 0 7.4 0a3.7 3.7 0 1 0 -7.4 0M850.96 1027.17a3.7 3.7 0 1 0 7.4 0a3.7 3.7 0 1 0 -7.4 0M855.26 1027.17a3.7 3.7 0 1 0 7.4 0a3.7 3.7 0 1 0 -7.4 0M860.7 1027.17a3.7 3.7 0 1 0 7.4 0a3.7 3.7 0 1 0 -7.4 0M862.02 1027.17a3.7 3.7 0 1 0 7.4 0a3.7 3.7 0 1 0 -7.4 0M867.08 1027.17a3.7 3.7 0 1 0 7.4 0a3.7 3.7 0 1 0 -7.4 0M870.9 1027.17a3.7 3.7 0 1 0 7.4 0a3.7 3.7 0 1 0 -7.4 0M873.54 1027.17a3.7 3.7 0 1 0 7.4 0a3.7 3.7 0 1 0 -7.4 0M877.79 1027.17a3.7 3.7 0 1 0 7.4 0a3.7 3.7 0 1 0 -7.4 0M879.65 1027.17a3.7 3.7 0 1 0 7.4 0a3.7 3.7 0 1 0 -7.4 0M883.25 1027.17a3.7 3.7 0 1 0 7.4 0a3.7 3.7 0 1 0 -7.4 0M887.39 1027.17a3.7 3.7 0 1 0 7.4 0a3.7 3.7 0 1 0 -7.4 0M892.71 1027.17a3.7 3.7 0 1 0 7.4 0a3.7 3.7 0 1 0 -7.4 0M895.41 1027.17a3.7 3.7 0 1 0 7.4 0a3.7 3.7 0 1 0 -7.4 0M898.61 1027.17a3.7 3.7 0 1 0 7.4 0a3.7 3.7 0 1 0 -7.4 0M903.2 1027.17a3.7 3.7 0 1 0 7.4 0a3.7 3.7 0 1 0 -7.4 0M841.54 1041.33a3.7 3.7 0 1 0 7.4 0a3.7 3.7 0 1 0 -7.4 0M844.98 1041.33a3.7 3.7 0 1 0 7.4 0a3.7 3.7 0 1 0 -7.4 0M851.05 1041.33a3.7 3.7 0 1 0 7.4 0a3.7 3.7 0 1 0 -7.4 0M854.73 1041.33a3.7 3.7 0 1 0 7.4 0a3.7 3.7 0 1 0 -7.4 0M856.94 1041.33a3.7 3.7 0 1 0 7.4 0a3.7 3.7 0 1 0 -7.4 0M862.35 1041.33a3.7 3.7 0 1 0 7.4 0a3.7 3.7 0 1 0 -7.4 0M866.21 1041.33a3.7 3.7 0 1 0 7.4 0a3.7 3.7 0 1 0 -7.4 0M871.69 1041.33a3.7 3.7 0 1 0 7.4 0a3.7 3.7 0 1 0 -7.4 0M875.16 1041.33a3.7 3.7 0 1 0 7.4 0a3.7 3.7 0 1 0 -7.4 0M877.43 1041.33a3.7 3.7 0 1 0 7.4 0a3.7 3.7 0 1 0 -7.4 0M884.31 1041.33a3.7 3.7 0 1 0 7.4 0a3.7 3.7 0 1 0 -7.4 0M884.87 1041.33a3.7 3.7 0 1 0 7.4 0a3.7 3.7 0 1 0 -7.4 0M890.15 1041.33a3.7 3.7 0 1 0 7.4 0a3.7 3.7 0 1 0 -7.4 0M895.59 1041.33a3.7 3.7 0 1 0 7.4 0a3.7 3.7 0 1 0 -7.4 0M897.19 1041.33a3.7 3.7 0 1 0 7.4 0a3.7 3.7 0 1 0 -7.4 0M902.62 1041.33a3.7 3.7 0 1 0 7.4 0a3.7 3.7 0 1 0 -7.4 0M839.86 1055.49a3.7 3.7 0 1 0 7.4 0a3.7 3.7 0 1 0 -7.4 0M846.48 1055.49a3.7 3.7 0 1 0 7.4 0a3.7 3.7 0 1 0 -7.4 0M850.93 1055.49a3.7 3.7 0 1 0 7.4 0a3.7 3.7 0 1 0 -7.4 0M854.22 1055.49a3.7 3.7 0 1 0 7.4 0a3.7 3.7 0 1 0 -7.4 0M859.51 1055.49a3.7 3.7 0 1 0 7.4 0a3.7 3.7 0 1 0 -7.4 0M861.29 1055.49a3.7 3.7 0 1 0 7.4 0a3.7 3.7 0 1 0 -7.4 0M866.9 1055.49a3.7 3.7 0 1 0 7.4 0a3.7 3.7 0 1 0 -7.4 0M870.55 1055.49a3.7 3.7 0 1 0 7.4 0a3.7 3.7 0 1 0 -7.4 0M874.56 1055.49a3.7 3.7 0 1 0 7.4 0a3.7 3.7 0 1 0 -7.4 0M878.12 1055.49a3.7 3.7 0 1 0 7.4 0a3.7 3.7 0 1 0 -7.4 0M883.74 1055.49a3.7 3.7 0 1 0 7.4 0a3.7 3.7 0 1 0 -7.4 0M888.23 1055.49a3.7 3.7 0 1 0 7.4 0a3.7 3.7 0 1 0 -7.4 0M890.38 1055.49a3.7 3.7 0 1 0 7.4 0a3.7 3.7 0 1 0 -7.4 0M895.21 1055.49a3.7 3.7 0 1 0 7.4 0a3.7 3.7 0 1 0 -7.4 0M896.82 1055.49a3.7 3.7 0 1 0 7.4 0a3.7 3.7 0 1 0 -7.4 0M903.49 1055.49a3.7 3.7 0 1 0 7.4 0a3.7 3.7 0 1 0 -7.4 0M840.46 1083.8a3.7 3.7 0 1 0 7.4 0a3.7 3.7 0 1 0 -7.4 0M842.06 1083.8a3.7 3.7 0 1 0 7.4 0a3.7 3.7 0 1 0 -7.4 0M843.04 1083.8a3.7 3.7 0 1 0 7.4 0a3.7 3.7 0 1 0 -7.4 0M843.58 1083.8a3.7 3.7 0 1 0 7.4 0a3.7 3.7 0 1 0 -7.4 0M844.88 1083.8a3.7 3.7 0 1 0 7.4 0a3.7 3.7 0 1 0 -7.4 0M846.4 1083.8a3.7 3.7 0 1 0 7.4 0a3.7 3.7 0 1 0 -7.4 0M846.82 1083.8a3.7 3.7 0 1 0 7.4 0a3.7 3.7 0 1 0 -7.4 0M848.52 1083.8a3.7 3.7 0 1 0 7.4 0a3.7 3.7 0 1 0 -7.4 0M849.35 1083.8a3.7 3.7 0 1 0 7.4 0a3.7 3.7 0 1 0 -7.4 0M850.47 1083.8a3.7 3.7 0 1 0 7.4 0a3.7 3.7 0 1 0 -7.4 0M851.59 1083.8a3.7 3.7 0 1 0 7.4 0a3.7 3.7 0 1 0 -7.4 0M853.61 1083.8a3.7 3.7 0 1 0 7.4 0a3.7 3.7 0 1 0 -7.4 0M854.03 1083.8a3.7 3.7 0 1 0 7.4 0a3.7 3.7 0 1 0 -7.4 0M855.36 1083.8a3.7 3.7 0 1 0 7.4 0a3.7 3.7 0 1 0 -7.4 0M856.71 1083.8a3.7 3.7 0 1 0 7.4 0a3.7 3.7 0 1 0 -7.4 0M858.46 1083.8a3.7 3.7 0 1 0 7.4 0a3.7 3.7 0 1 0 -7.4 0M858.7 1083.8a3.7 3.7 0 1 0 7.4 0a3.7 3.7 0 1 0 -7.4 0M860.32 1083.8a3.7 3.7 0 1 0 7.4 0a3.7 3.7 0 1 0 -7.4 0M861.62 1083.8a3.7 3.7 0 1 0 7.4 0a3.7 3.7 0 1 0 -7.4 0M863.2 1083.8a3.7 3.7 0 1 0 7.4 0a3.7 3.7 0 1 0 -7.4 0M864.3 1083.8a3.7 3.7 0 1 0 7.4 0a3.7 3.7 0 1 0 -7.4 0M865.54 1083.8a3.7 3.7 0 1 0 7.4 0a3.7 3.7 0 1 0 -7.4 0M866.03 1083.8a3.7 3.7 0 1 0 7.4 0a3.7 3.7 0 1 0 -7.4 0M867.37 1083.8a3.7 3.7 0 1 0 7.4 0a3.7 3.7 0 1 0 -7.4 0M868.49 1083.8a3.7 3.7 0 1 0 7.4 0a3.7 3.7 0 1 0 -7.4 0M870.29 1083.8a3.7 3.7 0 1 0 7.4 0a3.7 3.7 0 1 0 -7.4 0M871.56 1083.8a3.7 3.7 0 1 0 7.4 0a3.7 3.7 0 1 0 -7.4 0M871.79 1083.8a3.7 3.7 0 1 0 7.4 0a3.7 3.7 0 1 0 -7.4 0M873 1083.8a3.7 3.7 0 1 0 7.4 0a3.7 3.7 0 1 0 -7.4 0M874.25 1083.8a3.7 3.7 0 1 0 7.4 0a3.7 3.7 0 1 0 -7.4 0M875.43 1083.8a3.7 3.7 0 1 0 7.4 0a3.7 3.7 0 1 0 -7.4 0M876.91 1083.8a3.7 3.7 0 1 0 7.4 0a3.7 3.7 0 1 0 -7.4 0M878.21 1083.8a3.7 3.7 0 1 0 7.4 0a3.7 3.7 0 1 0 -7.4 0M879.01 1083.8a3.7 3.7 0 1 0 7.4 0a3.7 3.7 0 1 0 -7.4 0M879.89 1083.8a3.7 3.7 0 1 0 7.4 0a3.7 3.7 0 1 0 -7.4 0M881.56 1083.8a3.7 3.7 0 1 0 7.4 0a3.7 3.7 0 1 0 -7.4 0M882.68 1083.8a3.7 3.7 0 1 0 7.4 0a3.7 3.7 0 1 0 -7.4 0M884.1 1083.8a3.7 3.7 0 1 0 7.4 0a3.7 3.7 0 1 0 -7.4 0M885.74 1083.8a3.7 3.7 0 1 0 7.4 0a3.7 3.7 0 1 0 -7.4 0M886.61 1083.8a3.7 3.7 0 1 0 7.4 0a3.7 3.7 0 1 0 -7.4 0M887.58 1083.8a3.7 3.7 0 1 0 7.4 0a3.7 3.7 0 1 0 -7.4 0M888.88 1083.8a3.7 3.7 0 1 0 7.4 0a3.7 3.7 0 1 0 -7.4 0M890.14 1083.8a3.7 3.7 0 1 0 7.4 0a3.7 3.7 0 1 0 -7.4 0M890.58 1083.8a3.7 3.7 0 1 0 7.4 0a3.7 3.7 0 1 0 -7.4 0M892.76 1083.8a3.7 3.7 0 1 0 7.4 0a3.7 3.7 0 1 0 -7.4 0M893.8 1083.8a3.7 3.7 0 1 0 7.4 0a3.7 3.7 0 1 0 -7.4 0M895.1 1083.8a3.7 3.7 0 1 0 7.4 0a3.7 3.7 0 1 0 -7.4 0M896.19 1083.8a3.7 3.7 0 1 0 7.4 0a3.7 3.7 0 1 0 -7.4 0M896.89 1083.8a3.7 3.7 0 1 0 7.4 0a3.7 3.7 0 1 0 -7.4 0M898.08 1083.8a3.7 3.7 0 1 0 7.4 0a3.7 3.7 0 1 0 -7.4 0M898.91 1083.8a3.7 3.7 0 1 0 7.4 0a3.7 3.7 0 1 0 -7.4 0M900.72 1083.8a3.7 3.7 0 1 0 7.4 0a3.7 3.7 0 1 0 -7.4 0M901.23 1083.8a3.7 3.7 0 1 0 7.4 0a3.7 3.7 0 1 0 -7.4 0M902.42 1083.8a3.7 3.7 0 1 0 7.4 0a3.7 3.7 0 1 0 -7.4 0M903.76 1083.8a3.7 3.7 0 1 0 7.4 0a3.7 3.7 0 1 0 -7.4 0M1009.98 786.5a3.7 3.7 0 1 0 7.4 0a3.7 3.7 0 1 0 -7.4 0M1015.25 786.5a3.7 3.7 0 1 0 7.4 0a3.7 3.7 0 1 0 -7.4 0M1054.9 786.5a3.7 3.7 0 1 0 7.4 0a3.7 3.7 0 1 0 -7.4 0M1049.11 800.66a3.7 3.7 0 1 0 7.4 0a3.7 3.7 0 1 0 -7.4 0M1053.14 800.66a3.7 3.7 0 1 0 7.4 0a3.7 3.7 0 1 0 -7.4 0M1012.09 828.97a3.7 3.7 0 1 0 7.4 0a3.7 3.7 0 1 0 -7.4 0M1046.12 828.97a3.7 3.7 0 1 0 7.4 0a3.7 3.7 0 1 0 -7.4 0M1049.98 828.97a3.7 3.7 0 1 0 7.4 0a3.7 3.7 0 1 0 -7.4 0M1032.09 843.13a3.7 3.7 0 1 0 7.4 0a3.7 3.7 0 1 0 -7.4 0M1050.86 843.13a3.7 3.7 0 1 0 7.4 0a3.7 3.7 0 1 0 -7.4 0M1069.98 843.13a3.7 3.7 0 1 0 7.4 0a3.7 3.7 0 1 0 -7.4 0M1035.95 857.29a3.7 3.7 0 1 0 7.4 0a3.7 3.7 0 1 0 -7.4 0M1043.49 857.29a3.7 3.7 0 1 0 7.4 0a3.7 3.7 0 1 0 -7.4 0M1055.25 857.29a3.7 3.7 0 1 0 7.4 0a3.7 3.7 0 1 0 -7.4 0M1062.62 857.29a3.7 3.7 0 1 0 7.4 0a3.7 3.7 0 1 0 -7.4 0M1011.74 871.44a3.7 3.7 0 1 0 7.4 0a3.7 3.7 0 1 0 -7.4 0M1025.77 871.44a3.7 3.7 0 1 0 7.4 0a3.7 3.7 0 1 0 -7.4 0M1050.16 871.44a3.7 3.7 0 1 0 7.4 0a3.7 3.7 0 1 0 -7.4 0M1057.18 871.44a3.7 3.7 0 1 0 7.4 0a3.7 3.7 0 1 0 -7.4 0M1071.56 871.44a3.7 3.7 0 1 0 7.4 0a3.7 3.7 0 1 0 -7.4 0M1022.26 885.6a3.7 3.7 0 1 0 7.4 0a3.7 3.7 0 1 0 -7.4 0M1038.05 885.6a3.7 3.7 0 1 0 7.4 0a3.7 3.7 0 1 0 -7.4 0M1057.35 885.6a3.7 3.7 0 1 0 7.4 0a3.7 3.7 0 1 0 -7.4 0M1067.53 885.6a3.7 3.7 0 1 0 7.4 0a3.7 3.7 0 1 0 -7.4 0M1014.19 899.76a3.7 3.7 0 1 0 7.4 0a3.7 3.7 0 1 0 -7.4 0M1057.88 899.76a3.7 3.7 0 1 0 7.4 0a3.7 3.7 0 1 0 -7.4 0M1061.91 899.76a3.7 3.7 0 1 0 7.4 0a3.7 3.7 0 1 0 -7.4 0M1030.16 913.92a3.7 3.7 0 1 0 7.4 0a3.7 3.7 0 1 0 -7.4 0M1039.63 913.92a3.7 3.7 0 1 0 7.4 0a3.7 3.7 0 1 0 -7.4 0M1052.62 913.92a3.7 3.7 0 1 0 7.4 0a3.7 3.7 0 1 0 -7.4 0M1060.16 913.92a3.7 3.7 0 1 0 7.4 0a3.7 3.7 0 1 0 -7.4 0M1010.51 928.07a3.7 3.7 0 1 0 7.4 0a3.7 3.7 0 1 0 -7.4 0M1019.28 928.07a3.7 3.7 0 1 0 7.4 0a3.7 3.7 0 1 0 -7.4 0M1024.9 928.07a3.7 3.7 0 1 0 7.4 0a3.7 3.7 0 1 0 -7.4 0M1048.76 928.07a3.7 3.7 0 1 0 7.4 0a3.7 3.7 0 1 0 -7.4 0M1059.46 928.07a3.7 3.7 0 1 0 7.4 0a3.7 3.7 0 1 0 -7.4 0M1014.72 942.23a3.7 3.7 0 1 0 7.4 0a3.7 3.7 0 1 0 -7.4 0M1009.63 956.39a3.7 3.7 0 1 0 7.4 0a3.7 3.7 0 1 0 -7.4 0M1019.28 956.39a3.7 3.7 0 1 0 7.4 0a3.7 3.7 0 1 0 -7.4 0M1021.91 956.39a3.7 3.7 0 1 0 7.4 0a3.7 3.7 0 1 0 -7.4 0M1025.42 956.39a3.7 3.7 0 1 0 7.4 0a3.7 3.7 0 1 0 -7.4 0M1039.46 956.39a3.7 3.7 0 1 0 7.4 0a3.7 3.7 0 1 0 -7.4 0M1051.74 956.39a3.7 3.7 0 1 0 7.4 0a3.7 3.7 0 1 0 -7.4 0M1056.65 956.39a3.7 3.7 0 1 0 7.4 0a3.7 3.7 0 1 0 -7.4 0M1026.83 970.54a3.7 3.7 0 1 0 7.4 0a3.7 3.7 0 1 0 -7.4 0M1038.05 970.54a3.7 3.7 0 1 0 7.4 0a3.7 3.7 0 1 0 -7.4 0M1047.35 970.54a3.7 3.7 0 1 0 7.4 0a3.7 3.7 0 1 0 -7.4 0M1053.49 970.54a3.7 3.7 0 1 0 7.4 0a3.7 3.7 0 1 0 -7.4 0M1058.76 970.54a3.7 3.7 0 1 0 7.4 0a3.7 3.7 0 1 0 -7.4 0M1064.02 970.54a3.7 3.7 0 1 0 7.4 0a3.7 3.7 0 1 0 -7.4 0M1069.28 970.54a3.7 3.7 0 1 0 7.4 0a3.7 3.7 0 1 0 -7.4 0M1072.79 970.54a3.7 3.7 0 1 0 7.4 0a3.7 3.7 0 1 0 -7.4 0M1016.65 998.86a3.7 3.7 0 1 0 7.4 0a3.7 3.7 0 1 0 -7.4 0M1021.91 998.86a3.7 3.7 0 1 0 7.4 0a3.7 3.7 0 1 0 -7.4 0M1039.46 998.86a3.7 3.7 0 1 0 7.4 0a3.7 3.7 0 1 0 -7.4 0M1044.72 998.86a3.7 3.7 0 1 0 7.4 0a3.7 3.7 0 1 0 -7.4 0M1047.35 998.86a3.7 3.7 0 1 0 7.4 0a3.7 3.7 0 1 0 -7.4 0M1060.16 998.86a3.7 3.7 0 1 0 7.4 0a3.7 3.7 0 1 0 -7.4 0M1065.77 998.86a3.7 3.7 0 1 0 7.4 0a3.7 3.7 0 1 0 -7.4 0M1018.41 1013.01a3.7 3.7 0 1 0 7.4 0a3.7 3.7 0 1 0 -7.4 0M1023.67 1013.01a3.7 3.7 0 1 0 7.4 0a3.7 3.7 0 1 0 -7.4 0M1028.93 1013.01a3.7 3.7 0 1 0 7.4 0a3.7 3.7 0 1 0 -7.4 0M1034.19 1013.01a3.7 3.7 0 1 0 7.4 0a3.7 3.7 0 1 0 -7.4 0M1046.48 1013.01a3.7 3.7 0 1 0 7.4 0a3.7 3.7 0 1 0 -7.4 0M1051.74 1013.01a3.7 3.7 0 1 0 7.4 0a3.7 3.7 0 1 0 -7.4 0M1057 1013.01a3.7 3.7 0 1 0 7.4 0a3.7 3.7 0 1 0 -7.4 0M1062.26 1013.01a3.7 3.7 0 1 0 7.4 0a3.7 3.7 0 1 0 -7.4 0M1067.53 1013.01a3.7 3.7 0 1 0 7.4 0a3.7 3.7 0 1 0 -7.4 0M1071.91 1013.01a3.7 3.7 0 1 0 7.4 0a3.7 3.7 0 1 0 -7.4 0M1006.92 984.7a3.7 3.7 0 1 0 7.4 0a3.7 3.7 0 1 0 -7.4 0M1012.9 984.7a3.7 3.7 0 1 0 7.4 0a3.7 3.7 0 1 0 -7.4 0M1016.52 984.7a3.7 3.7 0 1 0 7.4 0a3.7 3.7 0 1 0 -7.4 0M1021.33 984.7a3.7 3.7 0 1 0 7.4 0a3.7 3.7 0 1 0 -7.4 0M1027.18 984.7a3.7 3.7 0 1 0 7.4 0a3.7 3.7 0 1 0 -7.4 0M1032 984.7a3.7 3.7 0 1 0 7.4 0a3.7 3.7 0 1 0 -7.4 0M1038.41 984.7a3.7 3.7 0 1 0 7.4 0a3.7 3.7 0 1 0 -7.4 0M1041.77 984.7a3.7 3.7 0 1 0 7.4 0a3.7 3.7 0 1 0 -7.4 0M1051.15 984.7a3.7 3.7 0 1 0 7.4 0a3.7 3.7 0 1 0 -7.4 0M1054.91 984.7a3.7 3.7 0 1 0 7.4 0a3.7 3.7 0 1 0 -7.4 0M1057.62 984.7a3.7 3.7 0 1 0 7.4 0a3.7 3.7 0 1 0 -7.4 0M1063.23 984.7a3.7 3.7 0 1 0 7.4 0a3.7 3.7 0 1 0 -7.4 0M1068.79 984.7a3.7 3.7 0 1 0 7.4 0a3.7 3.7 0 1 0 -7.4 0M1007.6 1027.17a3.7 3.7 0 1 0 7.4 0a3.7 3.7 0 1 0 -7.4 0M1010.73 1027.17a3.7 3.7 0 1 0 7.4 0a3.7 3.7 0 1 0 -7.4 0M1017.85 1027.17a3.7 3.7 0 1 0 7.4 0a3.7 3.7 0 1 0 -7.4 0M1022.57 1027.17a3.7 3.7 0 1 0 7.4 0a3.7 3.7 0 1 0 -7.4 0M1024.52 1027.17a3.7 3.7 0 1 0 7.4 0a3.7 3.7 0 1 0 -7.4 0M1028.72 1027.17a3.7 3.7 0 1 0 7.4 0a3.7 3.7 0 1 0 -7.4 0M1031.2 1027.17a3.7 3.7 0 1 0 7.4 0a3.7 3.7 0 1 0 -7.4 0M1035.4 1027.17a3.7 3.7 0 1 0 7.4 0a3.7 3.7 0 1 0 -7.4 0M1040.51 1027.17a3.7 3.7 0 1 0 7.4 0a3.7 3.7 0 1 0 -7.4 0M1044.32 1027.17a3.7 3.7 0 1 0 7.4 0a3.7 3.7 0 1 0 -7.4 0M1050.77 1027.17a3.7 3.7 0 1 0 7.4 0a3.7 3.7 0 1 0 -7.4 0M1052.14 1027.17a3.7 3.7 0 1 0 7.4 0a3.7 3.7 0 1 0 -7.4 0M1055.7 1027.17a3.7 3.7 0 1 0 7.4 0a3.7 3.7 0 1 0 -7.4 0M1063.65 1027.17a3.7 3.7 0 1 0 7.4 0a3.7 3.7 0 1 0 -7.4 0M1066.03 1027.17a3.7 3.7 0 1 0 7.4 0a3.7 3.7 0 1 0 -7.4 0M1068.58 1027.17a3.7 3.7 0 1 0 7.4 0a3.7 3.7 0 1 0 -7.4 0M1009.36 1041.33a3.7 3.7 0 1 0 7.4 0a3.7 3.7 0 1 0 -7.4 0M1012.26 1041.33a3.7 3.7 0 1 0 7.4 0a3.7 3.7 0 1 0 -7.4 0M1021.27 1041.33a3.7 3.7 0 1 0 7.4 0a3.7 3.7 0 1 0 -7.4 0M1029.97 1041.33a3.7 3.7 0 1 0 7.4 0a3.7 3.7 0 1 0 -7.4 0M1035.28 1041.33a3.7 3.7 0 1 0 7.4 0a3.7 3.7 0 1 0 -7.4 0M1040.28 1041.33a3.7 3.7 0 1 0 7.4 0a3.7 3.7 0 1 0 -7.4 0M1043.67 1041.33a3.7 3.7 0 1 0 7.4 0a3.7 3.7 0 1 0 -7.4 0M1050.3 1041.33a3.7 3.7 0 1 0 7.4 0a3.7 3.7 0 1 0 -7.4 0M1055.1 1041.33a3.7 3.7 0 1 0 7.4 0a3.7 3.7 0 1 0 -7.4 0M1064.73 1041.33a3.7 3.7 0 1 0 7.4 0a3.7 3.7 0 1 0 -7.4 0M1069.3 1041.33a3.7 3.7 0 1 0 7.4 0a3.7 3.7 0 1 0 -7.4 0M1010.77 1055.49a3.7 3.7 0 1 0 7.4 0a3.7 3.7 0 1 0 -7.4 0M1014.08 1055.49a3.7 3.7 0 1 0 7.4 0a3.7 3.7 0 1 0 -7.4 0M1019.44 1055.49a3.7 3.7 0 1 0 7.4 0a3.7 3.7 0 1 0 -7.4 0M1028.97 1055.49a3.7 3.7 0 1 0 7.4 0a3.7 3.7 0 1 0 -7.4 0M1036.01 1055.49a3.7 3.7 0 1 0 7.4 0a3.7 3.7 0 1 0 -7.4 0M1041.22 1055.49a3.7 3.7 0 1 0 7.4 0a3.7 3.7 0 1 0 -7.4 0M1046.94 1055.49a3.7 3.7 0 1 0 7.4 0a3.7 3.7 0 1 0 -7.4 0M1053.01 1055.49a3.7 3.7 0 1 0 7.4 0a3.7 3.7 0 1 0 -7.4 0M1058.54 1055.49a3.7 3.7 0 1 0 7.4 0a3.7 3.7 0 1 0 -7.4 0M1061.46 1055.49a3.7 3.7 0 1 0 7.4 0a3.7 3.7 0 1 0 -7.4 0M1069.21 1055.49a3.7 3.7 0 1 0 7.4 0a3.7 3.7 0 1 0 -7.4 0M1006.79 1083.8a3.7 3.7 0 1 0 7.4 0a3.7 3.7 0 1 0 -7.4 0M1008.1 1083.8a3.7 3.7 0 1 0 7.4 0a3.7 3.7 0 1 0 -7.4 0M1010.04 1083.8a3.7 3.7 0 1 0 7.4 0a3.7 3.7 0 1 0 -7.4 0M1012.47 1083.8a3.7 3.7 0 1 0 7.4 0a3.7 3.7 0 1 0 -7.4 0M1014.37 1083.8a3.7 3.7 0 1 0 7.4 0a3.7 3.7 0 1 0 -7.4 0M1017.15 1083.8a3.7 3.7 0 1 0 7.4 0a3.7 3.7 0 1 0 -7.4 0M1019.6 1083.8a3.7 3.7 0 1 0 7.4 0a3.7 3.7 0 1 0 -7.4 0M1020.56 1083.8a3.7 3.7 0 1 0 7.4 0a3.7 3.7 0 1 0 -7.4 0M1023.45 1083.8a3.7 3.7 0 1 0 7.4 0a3.7 3.7 0 1 0 -7.4 0M1025.49 1083.8a3.7 3.7 0 1 0 7.4 0a3.7 3.7 0 1 0 -7.4 0M1027.37 1083.8a3.7 3.7 0 1 0 7.4 0a3.7 3.7 0 1 0 -7.4 0M1028.16 1083.8a3.7 3.7 0 1 0 7.4 0a3.7 3.7 0 1 0 -7.4 0M1029.82 1083.8a3.7 3.7 0 1 0 7.4 0a3.7 3.7 0 1 0 -7.4 0M1031.78 1083.8a3.7 3.7 0 1 0 7.4 0a3.7 3.7 0 1 0 -7.4 0M1033.66 1083.8a3.7 3.7 0 1 0 7.4 0a3.7 3.7 0 1 0 -7.4 0M1035.61 1083.8a3.7 3.7 0 1 0 7.4 0a3.7 3.7 0 1 0 -7.4 0M1038.37 1083.8a3.7 3.7 0 1 0 7.4 0a3.7 3.7 0 1 0 -7.4 0M1040.85 1083.8a3.7 3.7 0 1 0 7.4 0a3.7 3.7 0 1 0 -7.4 0M1042.67 1083.8a3.7 3.7 0 1 0 7.4 0a3.7 3.7 0 1 0 -7.4 0M1043.91 1083.8a3.7 3.7 0 1 0 7.4 0a3.7 3.7 0 1 0 -7.4 0M1046.19 1083.8a3.7 3.7 0 1 0 7.4 0a3.7 3.7 0 1 0 -7.4 0M1048.42 1083.8a3.7 3.7 0 1 0 7.4 0a3.7 3.7 0 1 0 -7.4 0M1048.97 1083.8a3.7 3.7 0 1 0 7.4 0a3.7 3.7 0 1 0 -7.4 0M1052.03 1083.8a3.7 3.7 0 1 0 7.4 0a3.7 3.7 0 1 0 -7.4 0M1054.45 1083.8a3.7 3.7 0 1 0 7.4 0a3.7 3.7 0 1 0 -7.4 0M1056.15 1083.8a3.7 3.7 0 1 0 7.4 0a3.7 3.7 0 1 0 -7.4 0M1058.03 1083.8a3.7 3.7 0 1 0 7.4 0a3.7 3.7 0 1 0 -7.4 0M1059.44 1083.8a3.7 3.7 0 1 0 7.4 0a3.7 3.7 0 1 0 -7.4 0M1060.8 1083.8a3.7 3.7 0 1 0 7.4 0a3.7 3.7 0 1 0 -7.4 0M1063.93 1083.8a3.7 3.7 0 1 0 7.4 0a3.7 3.7 0 1 0 -7.4 0M1064.98 1083.8a3.7 3.7 0 1 0 7.4 0a3.7 3.7 0 1 0 -7.4 0M1067.83 1083.8a3.7 3.7 0 1 0 7.4 0a3.7 3.7 0 1 0 -7.4 0M1070.1 1083.8a3.7 3.7 0 1 0 7.4 0a3.7 3.7 0 1 0 -7.4 0M1070.93 1083.8a3.7 3.7 0 1 0 7.4 0a3.7 3.7 0 1 0 -7.4 0M1177.18 843.13a3.7 3.7 0 1 0 7.4 0a3.7 3.7 0 1 0 -7.4 0M1200.34 843.13a3.7 3.7 0 1 0 7.4 0a3.7 3.7 0 1 0 -7.4 0M1207.88 857.29a3.7 3.7 0 1 0 7.4 0a3.7 3.7 0 1 0 -7.4 0M1234.02 899.76a3.7 3.7 0 1 0 7.4 0a3.7 3.7 0 1 0 -7.4 0M1206.58 984.7a3.7 3.7 0 1 0 7.4 0a3.7 3.7 0 1 0 -7.4 0M1188.4 998.86a3.7 3.7 0 1 0 7.4 0a3.7 3.7 0 1 0 -7.4 0M1220.33 998.86a3.7 3.7 0 1 0 7.4 0a3.7 3.7 0 1 0 -7.4 0M1226.22 998.86a3.7 3.7 0 1 0 7.4 0a3.7 3.7 0 1 0 -7.4 0M1172.69 1013.01a3.7 3.7 0 1 0 7.4 0a3.7 3.7 0 1 0 -7.4 0M1227.2 1027.17a3.7 3.7 0 1 0 7.4 0a3.7 3.7 0 1 0 -7.4 0M1175.63 1041.33a3.7 3.7 0 1 0 7.4 0a3.7 3.7 0 1 0 -7.4 0M1184.47 1083.8a3.7 3.7 0 1 0 7.4 0a3.7 3.7 0 1 0 -7.4 0M1190.86 1083.8a3.7 3.7 0 1 0 7.4 0a3.7 3.7 0 1 0 -7.4 0M1196.75 1083.8a3.7 3.7 0 1 0 7.4 0a3.7 3.7 0 1 0 -7.4 0M1215.42 1083.8a3.7 3.7 0 1 0 7.4 0a3.7 3.7 0 1 0 -7.4 0M1218.85 1083.8a3.7 3.7 0 1 0 7.4 0a3.7 3.7 0 1 0 -7.4 0" fill="#4BB8D6"/>
<line x1="875.9" y1="673.25" x2="875.9" y2="899.76" stroke="#111" stroke-width="1.1" stroke-dasharray="4.3 3.4"/>
<line x1="875.9" y1="1055.49" x2="875.9" y2="1083.8" stroke="#111" stroke-width="1.1" stroke-dasharray="4.3 3.4"/>
<line x1="842.5" y1="673.25" x2="909.7" y2="673.25" stroke="#0a0a0a" stroke-width="1.3"/>
<line x1="842.5" y1="1083.8" x2="909.7" y2="1083.8" stroke="#0a0a0a" stroke-width="1.3"/>
<rect x="809.5" y="899.76" width="133.6" height="155.73" fill="#fff" stroke="#0a0a0a" stroke-width="1.25" fill-opacity="0.5"/>
<line x1="809.5" y1="998.86" x2="943.1" y2="998.86" stroke="#000" stroke-width="3.4"/>
<line x1="1042.8" y1="786.5" x2="1042.8" y2="956.39" stroke="#111" stroke-width="1.1" stroke-dasharray="4.3 3.4"/>
<line x1="1017.2" y1="786.5" x2="1068.5" y2="786.5" stroke="#0a0a0a" stroke-width="1.3"/>
<line x1="1017.2" y1="1083.8" x2="1068.5" y2="1083.8" stroke="#0a0a0a" stroke-width="1.3"/>
<rect x="992.2" y="956.39" width="101.2" height="127.41" fill="#fff" stroke="#0a0a0a" stroke-width="1.25" fill-opacity="0.5"/>
<line x1="992.2" y1="1027.17" x2="1093.4" y2="1027.17" stroke="#000" stroke-width="3.4"/>
<line x1="1209.8" y1="843.13" x2="1209.8" y2="899.76" stroke="#111" stroke-width="1.1" stroke-dasharray="4.3 3.4"/>
<line x1="1203.2" y1="843.13" x2="1216.6" y2="843.13" stroke="#0a0a0a" stroke-width="1.3"/>
<line x1="1203.2" y1="1083.8" x2="1216.6" y2="1083.8" stroke="#0a0a0a" stroke-width="1.3"/>
<rect x="1196.7" y="899.76" width="26.1" height="184.04" fill="#fff" stroke="#0a0a0a" stroke-width="1.25" fill-opacity="0.5"/>
<line x1="1196.7" y1="1005.94" x2="1222.8" y2="1005.94" stroke="#000" stroke-width="3.4"/>
<text transform="translate(689.58 630) scale(0.9530 1.0056)" font-size="49" font-weight="bold">E</text>
<rect x="772.8" y="656.9" width="540.6" height="442.9" fill="none" stroke="#000" stroke-width="1.8"/>
<line x1="762.4" y1="1083.8" x2="772.8" y2="1083.8" stroke="#000" stroke-width="1.6"/>
<text x="755.6" y="1091.2" font-size="21.3" text-anchor="end">0</text>
<line x1="762.4" y1="1013.01" x2="772.8" y2="1013.01" stroke="#000" stroke-width="1.6"/>
<text x="755.6" y="1020.41" font-size="21.3" text-anchor="end">5</text>
<line x1="762.4" y1="942.23" x2="772.8" y2="942.23" stroke="#000" stroke-width="1.6"/>
<text x="755.6" y="949.63" font-size="21.3" text-anchor="end">10</text>
<line x1="762.4" y1="871.44" x2="772.8" y2="871.44" stroke="#000" stroke-width="1.6"/>
<text x="755.6" y="878.84" font-size="21.3" text-anchor="end">15</text>
<line x1="762.4" y1="800.66" x2="772.8" y2="800.66" stroke="#000" stroke-width="1.6"/>
<text x="755.6" y="808.06" font-size="21.3" text-anchor="end">20</text>
<line x1="762.4" y1="729.88" x2="772.8" y2="729.88" stroke="#000" stroke-width="1.6"/>
<text x="755.6" y="737.27" font-size="21.3" text-anchor="end">25</text>
<line x1="762.4" y1="659.09" x2="772.8" y2="659.09" stroke="#000" stroke-width="1.6"/>
<text x="755.6" y="666.49" font-size="21.3" text-anchor="end">30</text>
<line x1="875.9" y1="1099.8" x2="875.9" y2="1110.4" stroke="#000" stroke-width="1.6"/>
<text x="875.9" y="1135" font-size="20.2" text-anchor="middle">Single copy</text>
<line x1="1042.8" y1="1099.8" x2="1042.8" y2="1110.4" stroke="#000" stroke-width="1.6"/>
<text x="1042.8" y="1135" font-size="20.2" text-anchor="middle">Het</text>
<line x1="1209.8" y1="1099.8" x2="1209.8" y2="1110.4" stroke="#000" stroke-width="1.6"/>
<text x="1209.8" y="1135" font-size="20" text-anchor="middle" textLength="84.6" lengthAdjust="spacing">Triplicated</text>
<text transform="translate(709.3 879.5) rotate(-90)" font-size="23.6" text-anchor="middle">A. muciniphila ASV_2821 MI (raw counts)</text>
</g>
<g id="panelF">
<path d="M1523.49 709.25a3.7 3.7 0 1 0 7.4 0a3.7 3.7 0 1 0 -7.4 0M1531.74 721.32a3.7 3.7 0 1 0 7.4 0a3.7 3.7 0 1 0 -7.4 0M1563.84 721.32a3.7 3.7 0 1 0 7.4 0a3.7 3.7 0 1 0 -7.4 0M1574.02 721.32a3.7 3.7 0 1 0 7.4 0a3.7 3.7 0 1 0 -7.4 0M1530.69 733.39a3.7 3.7 0 1 0 7.4 0a3.7 3.7 0 1 0 -7.4 0M1551.56 733.39a3.7 3.7 0 1 0 7.4 0a3.7 3.7 0 1 0 -7.4 0M1541.04 745.45a3.7 3.7 0 1 0 7.4 0a3.7 3.7 0 1 0 -7.4 0M1545.95 745.45a3.7 3.7 0 1 0 7.4 0a3.7 3.7 0 1 0 -7.4 0M1558.58 745.45a3.7 3.7 0 1 0 7.4 0a3.7 3.7 0 1 0 -7.4 0M1561.56 745.45a3.7 3.7 0 1 0 7.4 0a3.7 3.7 0 1 0 -7.4 0M1571.74 757.52a3.7 3.7 0 1 0 7.4 0a3.7 3.7 0 1 0 -7.4 0M1587.18 757.52a3.7 3.7 0 1 0 7.4 0a3.7 3.7 0 1 0 -7.4 0M1549.28 769.58a3.7 3.7 0 1 0 7.4 0a3.7 3.7 0 1 0 -7.4 0M1552.79 769.58a3.7 3.7 0 1 0 7.4 0a3.7 3.7 0 1 0 -7.4 0M1575.07 769.58a3.7 3.7 0 1 0 7.4 0a3.7 3.7 0 1 0 -7.4 0M1536.3 781.65a3.7 3.7 0 1 0 7.4 0a3.7 3.7 0 1 0 -7.4 0M1539.11 781.65a3.7 3.7 0 1 0 7.4 0a3.7 3.7 0 1 0 -7.4 0M1568.93 781.65a3.7 3.7 0 1 0 7.4 0a3.7 3.7 0 1 0 -7.4 0M1588.76 781.65a3.7 3.7 0 1 0 7.4 0a3.7 3.7 0 1 0 -7.4 0M1541.74 793.72a3.7 3.7 0 1 0 7.4 0a3.7 3.7 0 1 0 -7.4 0M1557.7 793.72a3.7 3.7 0 1 0 7.4 0a3.7 3.7 0 1 0 -7.4 0M1562.44 793.72a3.7 3.7 0 1 0 7.4 0a3.7 3.7 0 1 0 -7.4 0M1574.9 793.72a3.7 3.7 0 1 0 7.4 0a3.7 3.7 0 1 0 -7.4 0M1578.76 793.72a3.7 3.7 0 1 0 7.4 0a3.7 3.7 0 1 0 -7.4 0M1583.49 793.72a3.7 3.7 0 1 0 7.4 0a3.7 3.7 0 1 0 -7.4 0M1587.53 793.72a3.7 3.7 0 1 0 7.4 0a3.7 3.7 0 1 0 -7.4 0M1537.53 805.78a3.7 3.7 0 1 0 7.4 0a3.7 3.7 0 1 0 -7.4 0M1540.16 805.78a3.7 3.7 0 1 0 7.4 0a3.7 3.7 0 1 0 -7.4 0M1557.18 805.78a3.7 3.7 0 1 0 7.4 0a3.7 3.7 0 1 0 -7.4 0M1560.34 805.78a3.7 3.7 0 1 0 7.4 0a3.7 3.7 0 1 0 -7.4 0M1588.41 805.78a3.7 3.7 0 1 0 7.4 0a3.7 3.7 0 1 0 -7.4 0M1524.72 817.85a3.7 3.7 0 1 0 7.4 0a3.7 3.7 0 1 0 -7.4 0M1542.26 817.85a3.7 3.7 0 1 0 7.4 0a3.7 3.7 0 1 0 -7.4 0M1554.37 817.85a3.7 3.7 0 1 0 7.4 0a3.7 3.7 0 1 0 -7.4 0M1569.28 817.85a3.7 3.7 0 1 0 7.4 0a3.7 3.7 0 1 0 -7.4 0M1584.9 817.85a3.7 3.7 0 1 0 7.4 0a3.7 3.7 0 1 0 -7.4 0M1523.67 829.91a3.7 3.7 0 1 0 7.4 0a3.7 3.7 0 1 0 -7.4 0M1551.21 829.91a3.7 3.7 0 1 0 7.4 0a3.7 3.7 0 1 0 -7.4 0M1575.77 829.91a3.7 3.7 0 1 0 7.4 0a3.7 3.7 0 1 0 -7.4 0M1579.81 829.91a3.7 3.7 0 1 0 7.4 0a3.7 3.7 0 1 0 -7.4 0M1588.76 829.91a3.7 3.7 0 1 0 7.4 0a3.7 3.7 0 1 0 -7.4 0M1545.77 841.98a3.7 3.7 0 1 0 7.4 0a3.7 3.7 0 1 0 -7.4 0M1554.19 841.98a3.7 3.7 0 1 0 7.4 0a3.7 3.7 0 1 0 -7.4 0M1557.7 841.98a3.7 3.7 0 1 0 7.4 0a3.7 3.7 0 1 0 -7.4 0M1568.93 841.98a3.7 3.7 0 1 0 7.4 0a3.7 3.7 0 1 0 -7.4 0M1578.76 841.98a3.7 3.7 0 1 0 7.4 0a3.7 3.7 0 1 0 -7.4 0M1582.62 841.98a3.7 3.7 0 1 0 7.4 0a3.7 3.7 0 1 0 -7.4 0M1530.34 854.05a3.7 3.7 0 1 0 7.4 0a3.7 3.7 0 1 0 -7.4 0M1544.19 854.05a3.7 3.7 0 1 0 7.4 0a3.7 3.7 0 1 0 -7.4 0M1551.04 854.05a3.7 3.7 0 1 0 7.4 0a3.7 3.7 0 1 0 -7.4 0M1564.02 854.05a3.7 3.7 0 1 0 7.4 0a3.7 3.7 0 1 0 -7.4 0M1583.14 854.05a3.7 3.7 0 1 0 7.4 0a3.7 3.7 0 1 0 -7.4 0M1587.88 854.05a3.7 3.7 0 1 0 7.4 0a3.7 3.7 0 1 0 -7.4 0M1529.28 866.11a3.7 3.7 0 1 0 7.4 0a3.7 3.7 0 1 0 -7.4 0M1534.02 866.11a3.7 3.7 0 1 0 7.4 0a3.7 3.7 0 1 0 -7.4 0M1557.7 866.11a3.7 3.7 0 1 0 7.4 0a3.7 3.7 0 1 0 -7.4 0M1562.09 866.11a3.7 3.7 0 1 0 7.4 0a3.7 3.7 0 1 0 -7.4 0M1569.98 866.11a3.7 3.7 0 1 0 7.4 0a3.7 3.7 0 1 0 -7.4 0M1575.6 866.11a3.7 3.7 0 1 0 7.4 0a3.7 3.7 0 1 0 -7.4 0M1584.9 866.11a3.7 3.7 0 1 0 7.4 0a3.7 3.7 0 1 0 -7.4 0M1588.41 866.11a3.7 3.7 0 1 0 7.4 0a3.7 3.7 0 1 0 -7.4 0M1531.91 878.18a3.7 3.7 0 1 0 7.4 0a3.7 3.7 0 1 0 -7.4 0M1552.44 878.18a3.7 3.7 0 1 0 7.4 0a3.7 3.7 0 1 0 -7.4 0M1563.49 878.18a3.7 3.7 0 1 0 7.4 0a3.7 3.7 0 1 0 -7.4 0M1583.49 878.18a3.7 3.7 0 1 0 7.4 0a3.7 3.7 0 1 0 -7.4 0M1539.63 890.24a3.7 3.7 0 1 0 7.4 0a3.7 3.7 0 1 0 -7.4 0M1554.19 890.24a3.7 3.7 0 1 0 7.4 0a3.7 3.7 0 1 0 -7.4 0M1562.97 890.24a3.7 3.7 0 1 0 7.4 0a3.7 3.7 0 1 0 -7.4 0M1570.86 890.24a3.7 3.7 0 1 0 7.4 0a3.7 3.7 0 1 0 -7.4 0M1576.12 890.24a3.7 3.7 0 1 0 7.4 0a3.7 3.7 0 1 0 -7.4 0M1587.53 890.24a3.7 3.7 0 1 0 7.4 0a3.7 3.7 0 1 0 -7.4 0M1525.25 902.31a3.7 3.7 0 1 0 7.4 0a3.7 3.7 0 1 0 -7.4 0M1528.76 902.31a3.7 3.7 0 1 0 7.4 0a3.7 3.7 0 1 0 -7.4 0M1537.53 902.31a3.7 3.7 0 1 0 7.4 0a3.7 3.7 0 1 0 -7.4 0M1542.79 902.31a3.7 3.7 0 1 0 7.4 0a3.7 3.7 0 1 0 -7.4 0M1548.05 902.31a3.7 3.7 0 1 0 7.4 0a3.7 3.7 0 1 0 -7.4 0M1555.07 902.31a3.7 3.7 0 1 0 7.4 0a3.7 3.7 0 1 0 -7.4 0M1572.62 902.31a3.7 3.7 0 1 0 7.4 0a3.7 3.7 0 1 0 -7.4 0M1576.12 902.31a3.7 3.7 0 1 0 7.4 0a3.7 3.7 0 1 0 -7.4 0M1584.02 902.31a3.7 3.7 0 1 0 7.4 0a3.7 3.7 0 1 0 -7.4 0M1528.76 914.38a3.7 3.7 0 1 0 7.4 0a3.7 3.7 0 1 0 -7.4 0M1534.02 914.38a3.7 3.7 0 1 0 7.4 0a3.7 3.7 0 1 0 -7.4 0M1538.41 914.38a3.7 3.7 0 1 0 7.4 0a3.7 3.7 0 1 0 -7.4 0M1542.79 914.38a3.7 3.7 0 1 0 7.4 0a3.7 3.7 0 1 0 -7.4 0M1557.7 914.38a3.7 3.7 0 1 0 7.4 0a3.7 3.7 0 1 0 -7.4 0M1562.97 914.38a3.7 3.7 0 1 0 7.4 0a3.7 3.7 0 1 0 -7.4 0M1575.25 914.38a3.7 3.7 0 1 0 7.4 0a3.7 3.7 0 1 0 -7.4 0M1584.02 914.38a3.7 3.7 0 1 0 7.4 0a3.7 3.7 0 1 0 -7.4 0M1523.84 926.44a3.7 3.7 0 1 0 7.4 0a3.7 3.7 0 1 0 -7.4 0M1534.9 926.44a3.7 3.7 0 1 0 7.4 0a3.7 3.7 0 1 0 -7.4 0M1539.28 926.44a3.7 3.7 0 1 0 7.4 0a3.7 3.7 0 1 0 -7.4 0M1542.79 926.44a3.7 3.7 0 1 0 7.4 0a3.7 3.7 0 1 0 -7.4 0M1550.69 926.44a3.7 3.7 0 1 0 7.4 0a3.7 3.7 0 1 0 -7.4 0M1555.07 926.44a3.7 3.7 0 1 0 7.4 0a3.7 3.7 0 1 0 -7.4 0M1569.98 926.44a3.7 3.7 0 1 0 7.4 0a3.7 3.7 0 1 0 -7.4 0M1576.12 926.44a3.7 3.7 0 1 0 7.4 0a3.7 3.7 0 1 0 -7.4 0M1582.26 926.44a3.7 3.7 0 1 0 7.4 0a3.7 3.7 0 1 0 -7.4 0M1525.25 938.51a3.7 3.7 0 1 0 7.4 0a3.7 3.7 0 1 0 -7.4 0M1530.51 938.51a3.7 3.7 0 1 0 7.4 0a3.7 3.7 0 1 0 -7.4 0M1538.41 938.51a3.7 3.7 0 1 0 7.4 0a3.7 3.7 0 1 0 -7.4 0M1544.55 938.51a3.7 3.7 0 1 0 7.4 0a3.7 3.7 0 1 0 -7.4 0M1552.44 938.51a3.7 3.7 0 1 0 7.4 0a3.7 3.7 0 1 0 -7.4 0M1556.83 938.51a3.7 3.7 0 1 0 7.4 0a3.7 3.7 0 1 0 -7.4 0M1563.84 938.51a3.7 3.7 0 1 0 7.4 0a3.7 3.7 0 1 0 -7.4 0M1576.12 938.51a3.7 3.7 0 1 0 7.4 0a3.7 3.7 0 1 0 -7.4 0M1523.84 950.57a3.7 3.7 0 1 0 7.4 0a3.7 3.7 0 1 0 -7.4 0M1532.26 950.57a3.7 3.7 0 1 0 7.4 0a3.7 3.7 0 1 0 -7.4 0M1538.41 950.57a3.7 3.7 0 1 0 7.4 0a3.7 3.7 0 1 0 -7.4 0M1545.42 950.57a3.7 3.7 0 1 0 7.4 0a3.7 3.7 0 1 0 -7.4 0M1556.3 950.57a3.7 3.7 0 1 0 7.4 0a3.7 3.7 0 1 0 -7.4 0M1570.34 950.57a3.7 3.7 0 1 0 7.4 0a3.7 3.7 0 1 0 -7.4 0M1577.88 950.57a3.7 3.7 0 1 0 7.4 0a3.7 3.7 0 1 0 -7.4 0M1583.14 950.57a3.7 3.7 0 1 0 7.4 0a3.7 3.7 0 1 0 -7.4 0M1586.65 950.57a3.7 3.7 0 1 0 7.4 0a3.7 3.7 0 1 0 -7.4 0M1524.72 962.64a3.7 3.7 0 1 0 7.4 0a3.7 3.7 0 1 0 -7.4 0M1534.02 962.64a3.7 3.7 0 1 0 7.4 0a3.7 3.7 0 1 0 -7.4 0M1539.28 962.64a3.7 3.7 0 1 0 7.4 0a3.7 3.7 0 1 0 -7.4 0M1544.55 962.64a3.7 3.7 0 1 0 7.4 0a3.7 3.7 0 1 0 -7.4 0M1548.93 962.64a3.7 3.7 0 1 0 7.4 0a3.7 3.7 0 1 0 -7.4 0M1554.19 962.64a3.7 3.7 0 1 0 7.4 0a3.7 3.7 0 1 0 -7.4 0M1580.16 962.64a3.7 3.7 0 1 0 7.4 0a3.7 3.7 0 1 0 -7.4 0M1524.23 974.71a3.7 3.7 0 1 0 7.4 0a3.7 3.7 0 1 0 -7.4 0M1527.23 974.71a3.7 3.7 0 1 0 7.4 0a3.7 3.7 0 1 0 -7.4 0M1529.76 974.71a3.7 3.7 0 1 0 7.4 0a3.7 3.7 0 1 0 -7.4 0M1535.46 974.71a3.7 3.7 0 1 0 7.4 0a3.7 3.7 0 1 0 -7.4 0M1535.92 974.71a3.7 3.7 0 1 0 7.4 0a3.7 3.7 0 1 0 -7.4 0M1540.86 974.71a3.7 3.7 0 1 0 7.4 0a3.7 3.7 0 1 0 -7.4 0M1545.46 974.71a3.7 3.7 0 1 0 7.4 0a3.7 3.7 0 1 0 -7.4 0M1546.07 974.71a3.7 3.7 0 1 0 7.4 0a3.7 3.7 0 1 0 -7.4 0M1550.93 974.71a3.7 3.7 0 1 0 7.4 0a3.7 3.7 0 1 0 -7.4 0M1554.43 974.71a3.7 3.7 0 1 0 7.4 0a3.7 3.7 0 1 0 -7.4 0M1555.83 974.71a3.7 3.7 0 1 0 7.4 0a3.7 3.7 0 1 0 -7.4 0M1560.25 974.71a3.7 3.7 0 1 0 7.4 0a3.7 3.7 0 1 0 -7.4 0M1564.62 974.71a3.7 3.7 0 1 0 7.4 0a3.7 3.7 0 1 0 -7.4 0M1567.09 974.71a3.7 3.7 0 1 0 7.4 0a3.7 3.7 0 1 0 -7.4 0M1571.29 974.71a3.7 3.7 0 1 0 7.4 0a3.7 3.7 0 1 0 -7.4 0M1572.72 974.71a3.7 3.7 0 1 0 7.4 0a3.7 3.7 0 1 0 -7.4 0M1576.29 974.71a3.7 3.7 0 1 0 7.4 0a3.7 3.7 0 1 0 -7.4 0M1579.17 974.71a3.7 3.7 0 1 0 7.4 0a3.7 3.7 0 1 0 -7.4 0M1583.77 974.71a3.7 3.7 0 1 0 7.4 0a3.7 3.7 0 1 0 -7.4 0M1588.45 974.71a3.7 3.7 0 1 0 7.4 0a3.7 3.7 0 1 0 -7.4 0M1525.14 986.77a3.7 3.7 0 1 0 7.4 0a3.7 3.7 0 1 0 -7.4 0M1530.02 986.77a3.7 3.7 0 1 0 7.4 0a3.7 3.7 0 1 0 -7.4 0M1532.53 986.77a3.7 3.7 0 1 0 7.4 0a3.7 3.7 0 1 0 -7.4 0M1538.15 986.77a3.7 3.7 0 1 0 7.4 0a3.7 3.7 0 1 0 -7.4 0M1539.62 986.77a3.7 3.7 0 1 0 7.4 0a3.7 3.7 0 1 0 -7.4 0M1544.53 986.77a3.7 3.7 0 1 0 7.4 0a3.7 3.7 0 1 0 -7.4 0M1550.23 986.77a3.7 3.7 0 1 0 7.4 0a3.7 3.7 0 1 0 -7.4 0M1554.57 986.77a3.7 3.7 0 1 0 7.4 0a3.7 3.7 0 1 0 -7.4 0M1557.44 986.77a3.7 3.7 0 1 0 7.4 0a3.7 3.7 0 1 0 -7.4 0M1560.19 986.77a3.7 3.7 0 1 0 7.4 0a3.7 3.7 0 1 0 -7.4 0M1565.05 986.77a3.7 3.7 0 1 0 7.4 0a3.7 3.7 0 1 0 -7.4 0M1568.94 986.77a3.7 3.7 0 1 0 7.4 0a3.7 3.7 0 1 0 -7.4 0M1573.36 986.77a3.7 3.7 0 1 0 7.4 0a3.7 3.7 0 1 0 -7.4 0M1579.66 986.77a3.7 3.7 0 1 0 7.4 0a3.7 3.7 0 1 0 -7.4 0M1581.27 986.77a3.7 3.7 0 1 0 7.4 0a3.7 3.7 0 1 0 -7.4 0M1588.23 986.77a3.7 3.7 0 1 0 7.4 0a3.7 3.7 0 1 0 -7.4 0M1525.75 998.84a3.7 3.7 0 1 0 7.4 0a3.7 3.7 0 1 0 -7.4 0M1526.36 998.84a3.7 3.7 0 1 0 7.4 0a3.7 3.7 0 1 0 -7.4 0M1530.96 998.84a3.7 3.7 0 1 0 7.4 0a3.7 3.7 0 1 0 -7.4 0M1534.83 998.84a3.7 3.7 0 1 0 7.4 0a3.7 3.7 0 1 0 -7.4 0M1536.68 998.84a3.7 3.7 0 1 0 7.4 0a3.7 3.7 0 1 0 -7.4 0M1541.54 998.84a3.7 3.7 0 1 0 7.4 0a3.7 3.7 0 1 0 -7.4 0M1546.69 998.84a3.7 3.7 0 1 0 7.4 0a3.7 3.7 0 1 0 -7.4 0M1547.41 998.84a3.7 3.7 0 1 0 7.4 0a3.7 3.7 0 1 0 -7.4 0M1552.56 998.84a3.7 3.7 0 1 0 7.4 0a3.7 3.7 0 1 0 -7.4 0M1554.38 998.84a3.7 3.7 0 1 0 7.4 0a3.7 3.7 0 1 0 -7.4 0M1559.45 998.84a3.7 3.7 0 1 0 7.4 0a3.7 3.7 0 1 0 -7.4 0M1564.02 998.84a3.7 3.7 0 1 0 7.4 0a3.7 3.7 0 1 0 -7.4 0M1565.09 998.84a3.7 3.7 0 1 0 7.4 0a3.7 3.7 0 1 0 -7.4 0M1567.89 998.84a3.7 3.7 0 1 0 7.4 0a3.7 3.7 0 1 0 -7.4 0M1571.62 998.84a3.7 3.7 0 1 0 7.4 0a3.7 3.7 0 1 0 -7.4 0M1576.68 998.84a3.7 3.7 0 1 0 7.4 0a3.7 3.7 0 1 0 -7.4 0M1578.34 998.84a3.7 3.7 0 1 0 7.4 0a3.7 3.7 0 1 0 -7.4 0M1582.05 998.84a3.7 3.7 0 1 0 7.4 0a3.7 3.7 0 1 0 -7.4 0M1586.95 998.84a3.7 3.7 0 1 0 7.4 0a3.7 3.7 0 1 0 -7.4 0M1525.46 1010.9a3.7 3.7 0 1 0 7.4 0a3.7 3.7 0 1 0 -7.4 0M1526.96 1010.9a3.7 3.7 0 1 0 7.4 0a3.7 3.7 0 1 0 -7.4 0M1529.89 1010.9a3.7 3.7 0 1 0 7.4 0a3.7 3.7 0 1 0 -7.4 0M1533.62 1010.9a3.7 3.7 0 1 0 7.4 0a3.7 3.7 0 1 0 -7.4 0M1534.98 1010.9a3.7 3.7 0 1 0 7.4 0a3.7 3.7 0 1 0 -7.4 0M1539.44 1010.9a3.7 3.7 0 1 0 7.4 0a3.7 3.7 0 1 0 -7.4 0M1541.22 1010.9a3.7 3.7 0 1 0 7.4 0a3.7 3.7 0 1 0 -7.4 0M1545.53 1010.9a3.7 3.7 0 1 0 7.4 0a3.7 3.7 0 1 0 -7.4 0M1549.57 1010.9a3.7 3.7 0 1 0 7.4 0a3.7 3.7 0 1 0 -7.4 0M1549.86 1010.9a3.7 3.7 0 1 0 7.4 0a3.7 3.7 0 1 0 -7.4 0M1554.37 1010.9a3.7 3.7 0 1 0 7.4 0a3.7 3.7 0 1 0 -7.4 0M1557.52 1010.9a3.7 3.7 0 1 0 7.4 0a3.7 3.7 0 1 0 -7.4 0M1559.15 1010.9a3.7 3.7 0 1 0 7.4 0a3.7 3.7 0 1 0 -7.4 0M1562.5 1010.9a3.7 3.7 0 1 0 7.4 0a3.7 3.7 0 1 0 -7.4 0M1567.68 1010.9a3.7 3.7 0 1 0 7.4 0a3.7 3.7 0 1 0 -7.4 0M1570.69 1010.9a3.7 3.7 0 1 0 7.4 0a3.7 3.7 0 1 0 -7.4 0M1571.06 1010.9a3.7 3.7 0 1 0 7.4 0a3.7 3.7 0 1 0 -7.4 0M1575.82 1010.9a3.7 3.7 0 1 0 7.4 0a3.7 3.7 0 1 0 -7.4 0M1579.55 1010.9a3.7 3.7 0 1 0 7.4 0a3.7 3.7 0 1 0 -7.4 0M1580.41 1010.9a3.7 3.7 0 1 0 7.4 0a3.7 3.7 0 1 0 -7.4 0M1584.53 1010.9a3.7 3.7 0 1 0 7.4 0a3.7 3.7 0 1 0 -7.4 0M1585.83 1010.9a3.7 3.7 0 1 0 7.4 0a3.7 3.7 0 1 0 -7.4 0M1523.91 1022.97a3.7 3.7 0 1 0 7.4 0a3.7 3.7 0 1 0 -7.4 0M1528.22 1022.97a3.7 3.7 0 1 0 7.4 0a3.7 3.7 0 1 0 -7.4 0M1531.25 1022.97a3.7 3.7 0 1 0 7.4 0a3.7 3.7 0 1 0 -7.4 0M1535.16 1022.97a3.7 3.7 0 1 0 7.4 0a3.7 3.7 0 1 0 -7.4 0M1536.19 1022.97a3.7 3.7 0 1 0 7.4 0a3.7 3.7 0 1 0 -7.4 0M1540.35 1022.97a3.7 3.7 0 1 0 7.4 0a3.7 3.7 0 1 0 -7.4 0M1545.35 1022.97a3.7 3.7 0 1 0 7.4 0a3.7 3.7 0 1 0 -7.4 0M1547.73 1022.97a3.7 3.7 0 1 0 7.4 0a3.7 3.7 0 1 0 -7.4 0M1550.59 1022.97a3.7 3.7 0 1 0 7.4 0a3.7 3.7 0 1 0 -7.4 0M1553.73 1022.97a3.7 3.7 0 1 0 7.4 0a3.7 3.7 0 1 0 -7.4 0M1558.95 1022.97a3.7 3.7 0 1 0 7.4 0a3.7 3.7 0 1 0 -7.4 0M1560.9 1022.97a3.7 3.7 0 1 0 7.4 0a3.7 3.7 0 1 0 -7.4 0M1562.36 1022.97a3.7 3.7 0 1 0 7.4 0a3.7 3.7 0 1 0 -7.4 0M1568.24 1022.97a3.7 3.7 0 1 0 7.4 0a3.7 3.7 0 1 0 -7.4 0M1569.98 1022.97a3.7 3.7 0 1 0 7.4 0a3.7 3.7 0 1 0 -7.4 0M1573.63 1022.97a3.7 3.7 0 1 0 7.4 0a3.7 3.7 0 1 0 -7.4 0M1576.2 1022.97a3.7 3.7 0 1 0 7.4 0a3.7 3.7 0 1 0 -7.4 0M1580.27 1022.97a3.7 3.7 0 1 0 7.4 0a3.7 3.7 0 1 0 -7.4 0M1583.17 1022.97a3.7 3.7 0 1 0 7.4 0a3.7 3.7 0 1 0 -7.4 0M1585.69 1022.97a3.7 3.7 0 1 0 7.4 0a3.7 3.7 0 1 0 -7.4 0M1524.59 1035.04a3.7 3.7 0 1 0 7.4 0a3.7 3.7 0 1 0 -7.4 0M1526.01 1035.04a3.7 3.7 0 1 0 7.4 0a3.7 3.7 0 1 0 -7.4 0M1531.05 1035.04a3.7 3.7 0 1 0 7.4 0a3.7 3.7 0 1 0 -7.4 0M1531.78 1035.04a3.7 3.7 0 1 0 7.4 0a3.7 3.7 0 1 0 -7.4 0M1537.04 1035.04a3.7 3.7 0 1 0 7.4 0a3.7 3.7 0 1 0 -7.4 0M1540.12 1035.04a3.7 3.7 0 1 0 7.4 0a3.7 3.7 0 1 0 -7.4 0M1542.19 1035.04a3.7 3.7 0 1 0 7.4 0a3.7 3.7 0 1 0 -7.4 0M1545.83 1035.04a3.7 3.7 0 1 0 7.4 0a3.7 3.7 0 1 0 -7.4 0M1547.44 1035.04a3.7 3.7 0 1 0 7.4 0a3.7 3.7 0 1 0 -7.4 0M1551.91 1035.04a3.7 3.7 0 1 0 7.4 0a3.7 3.7 0 1 0 -7.4 0M1553.98 1035.04a3.7 3.7 0 1 0 7.4 0a3.7 3.7 0 1 0 -7.4 0M1556.39 1035.04a3.7 3.7 0 1 0 7.4 0a3.7 3.7 0 1 0 -7.4 0M1561.59 1035.04a3.7 3.7 0 1 0 7.4 0a3.7 3.7 0 1 0 -7.4 0M1562.9 1035.04a3.7 3.7 0 1 0 7.4 0a3.7 3.7 0 1 0 -7.4 0M1565.82 1035.04a3.7 3.7 0 1 0 7.4 0a3.7 3.7 0 1 0 -7.4 0M1570.28 1035.04a3.7 3.7 0 1 0 7.4 0a3.7 3.7 0 1 0 -7.4 0M1571.81 1035.04a3.7 3.7 0 1 0 7.4 0a3.7 3.7 0 1 0 -7.4 0M1575.7 1035.04a3.7 3.7 0 1 0 7.4 0a3.7 3.7 0 1 0 -7.4 0M1577.21 1035.04a3.7 3.7 0 1 0 7.4 0a3.7 3.7 0 1 0 -7.4 0M1582.23 1035.04a3.7 3.7 0 1 0 7.4 0a3.7 3.7 0 1 0 -7.4 0M1583.48 1035.04a3.7 3.7 0 1 0 7.4 0a3.7 3.7 0 1 0 -7.4 0M1585.85 1035.04a3.7 3.7 0 1 0 7.4 0a3.7 3.7 0 1 0 -7.4 0M1526.28 1047.1a3.7 3.7 0 1 0 7.4 0a3.7 3.7 0 1 0 -7.4 0M1527 1047.1a3.7 3.7 0 1 0 7.4 0a3.7 3.7 0 1 0 -7.4 0M1533.5 1047.1a3.7 3.7 0 1 0 7.4 0a3.7 3.7 0 1 0 -7.4 0M1537.32 1047.1a3.7 3.7 0 1 0 7.4 0a3.7 3.7 0 1 0 -7.4 0M1539.59 1047.1a3.7 3.7 0 1 0 7.4 0a3.7 3.7 0 1 0 -7.4 0M1541.08 1047.1a3.7 3.7 0 1 0 7.4 0a3.7 3.7 0 1 0 -7.4 0M1544.92 1047.1a3.7 3.7 0 1 0 7.4 0a3.7 3.7 0 1 0 -7.4 0M1549.13 1047.1a3.7 3.7 0 1 0 7.4 0a3.7 3.7 0 1 0 -7.4 0M1553.46 1047.1a3.7 3.7 0 1 0 7.4 0a3.7 3.7 0 1 0 -7.4 0M1557.94 1047.1a3.7 3.7 0 1 0 7.4 0a3.7 3.7 0 1 0 -7.4 0M1562.91 1047.1a3.7 3.7 0 1 0 7.4 0a3.7 3.7 0 1 0 -7.4 0M1564.33 1047.1a3.7 3.7 0 1 0 7.4 0a3.7 3.7 0 1 0 -7.4 0M1567.22 1047.1a3.7 3.7 0 1 0 7.4 0a3.7 3.7 0 1 0 -7.4 0M1572.43 1047.1a3.7 3.7 0 1 0 7.4 0a3.7 3.7 0 1 0 -7.4 0M1574.54 1047.1a3.7 3.7 0 1 0 7.4 0a3.7 3.7 0 1 0 -7.4 0M1578.02 1047.1a3.7 3.7 0 1 0 7.4 0a3.7 3.7 0 1 0 -7.4 0M1583.41 1047.1a3.7 3.7 0 1 0 7.4 0a3.7 3.7 0 1 0 -7.4 0M1587.59 1047.1a3.7 3.7 0 1 0 7.4 0a3.7 3.7 0 1 0 -7.4 0M1522.95 1059.17a3.7 3.7 0 1 0 7.4 0a3.7 3.7 0 1 0 -7.4 0M1528.33 1059.17a3.7 3.7 0 1 0 7.4 0a3.7 3.7 0 1 0 -7.4 0M1533.2 1059.17a3.7 3.7 0 1 0 7.4 0a3.7 3.7 0 1 0 -7.4 0M1537.31 1059.17a3.7 3.7 0 1 0 7.4 0a3.7 3.7 0 1 0 -7.4 0M1539.72 1059.17a3.7 3.7 0 1 0 7.4 0a3.7 3.7 0 1 0 -7.4 0M1545.56 1059.17a3.7 3.7 0 1 0 7.4 0a3.7 3.7 0 1 0 -7.4 0M1546.65 1059.17a3.7 3.7 0 1 0 7.4 0a3.7 3.7 0 1 0 -7.4 0M1552.65 1059.17a3.7 3.7 0 1 0 7.4 0a3.7 3.7 0 1 0 -7.4 0M1556.75 1059.17a3.7 3.7 0 1 0 7.4 0a3.7 3.7 0 1 0 -7.4 0M1561.06 1059.17a3.7 3.7 0 1 0 7.4 0a3.7 3.7 0 1 0 -7.4 0M1563.44 1059.17a3.7 3.7 0 1 0 7.4 0a3.7 3.7 0 1 0 -7.4 0M1565.79 1059.17a3.7 3.7 0 1 0 7.4 0a3.7 3.7 0 1 0 -7.4 0M1569.48 1059.17a3.7 3.7 0 1 0 7.4 0a3.7 3.7 0 1 0 -7.4 0M1575.22 1059.17a3.7 3.7 0 1 0 7.4 0a3.7 3.7 0 1 0 -7.4 0M1577.73 1059.17a3.7 3.7 0 1 0 7.4 0a3.7 3.7 0 1 0 -7.4 0M1583.38 1059.17a3.7 3.7 0 1 0 7.4 0a3.7 3.7 0 1 0 -7.4 0M1585.14 1059.17a3.7 3.7 0 1 0 7.4 0a3.7 3.7 0 1 0 -7.4 0M1523.84 1083.3a3.7 3.7 0 1 0 7.4 0a3.7 3.7 0 1 0 -7.4 0M1524.49 1083.3a3.7 3.7 0 1 0 7.4 0a3.7 3.7 0 1 0 -7.4 0M1525.65 1083.3a3.7 3.7 0 1 0 7.4 0a3.7 3.7 0 1 0 -7.4 0M1527.36 1083.3a3.7 3.7 0 1 0 7.4 0a3.7 3.7 0 1 0 -7.4 0M1529.24 1083.3a3.7 3.7 0 1 0 7.4 0a3.7 3.7 0 1 0 -7.4 0M1530.85 1083.3a3.7 3.7 0 1 0 7.4 0a3.7 3.7 0 1 0 -7.4 0M1532.07 1083.3a3.7 3.7 0 1 0 7.4 0a3.7 3.7 0 1 0 -7.4 0M1533.22 1083.3a3.7 3.7 0 1 0 7.4 0a3.7 3.7 0 1 0 -7.4 0M1535.14 1083.3a3.7 3.7 0 1 0 7.4 0a3.7 3.7 0 1 0 -7.4 0M1537.29 1083.3a3.7 3.7 0 1 0 7.4 0a3.7 3.7 0 1 0 -7.4 0M1538.15 1083.3a3.7 3.7 0 1 0 7.4 0a3.7 3.7 0 1 0 -7.4 0M1540.21 1083.3a3.7 3.7 0 1 0 7.4 0a3.7 3.7 0 1 0 -7.4 0M1540.34 1083.3a3.7 3.7 0 1 0 7.4 0a3.7 3.7 0 1 0 -7.4 0M1543.22 1083.3a3.7 3.7 0 1 0 7.4 0a3.7 3.7 0 1 0 -7.4 0M1544.54 1083.3a3.7 3.7 0 1 0 7.4 0a3.7 3.7 0 1 0 -7.4 0M1545.5 1083.3a3.7 3.7 0 1 0 7.4 0a3.7 3.7 0 1 0 -7.4 0M1546.93 1083.3a3.7 3.7 0 1 0 7.4 0a3.7 3.7 0 1 0 -7.4 0M1548.42 1083.3a3.7 3.7 0 1 0 7.4 0a3.7 3.7 0 1 0 -7.4 0M1550.43 1083.3a3.7 3.7 0 1 0 7.4 0a3.7 3.7 0 1 0 -7.4 0M1550.66 1083.3a3.7 3.7 0 1 0 7.4 0a3.7 3.7 0 1 0 -7.4 0M1552.98 1083.3a3.7 3.7 0 1 0 7.4 0a3.7 3.7 0 1 0 -7.4 0M1554.3 1083.3a3.7 3.7 0 1 0 7.4 0a3.7 3.7 0 1 0 -7.4 0M1555.41 1083.3a3.7 3.7 0 1 0 7.4 0a3.7 3.7 0 1 0 -7.4 0M1557.5 1083.3a3.7 3.7 0 1 0 7.4 0a3.7 3.7 0 1 0 -7.4 0M1558.96 1083.3a3.7 3.7 0 1 0 7.4 0a3.7 3.7 0 1 0 -7.4 0M1559.52 1083.3a3.7 3.7 0 1 0 7.4 0a3.7 3.7 0 1 0 -7.4 0M1561.86 1083.3a3.7 3.7 0 1 0 7.4 0a3.7 3.7 0 1 0 -7.4 0M1562.97 1083.3a3.7 3.7 0 1 0 7.4 0a3.7 3.7 0 1 0 -7.4 0M1564.49 1083.3a3.7 3.7 0 1 0 7.4 0a3.7 3.7 0 1 0 -7.4 0M1566.17 1083.3a3.7 3.7 0 1 0 7.4 0a3.7 3.7 0 1 0 -7.4 0M1566.78 1083.3a3.7 3.7 0 1 0 7.4 0a3.7 3.7 0 1 0 -7.4 0M1569.05 1083.3a3.7 3.7 0 1 0 7.4 0a3.7 3.7 0 1 0 -7.4 0M1570.18 1083.3a3.7 3.7 0 1 0 7.4 0a3.7 3.7 0 1 0 -7.4 0M1572.39 1083.3a3.7 3.7 0 1 0 7.4 0a3.7 3.7 0 1 0 -7.4 0M1572.91 1083.3a3.7 3.7 0 1 0 7.4 0a3.7 3.7 0 1 0 -7.4 0M1575.24 1083.3a3.7 3.7 0 1 0 7.4 0a3.7 3.7 0 1 0 -7.4 0M1576.57 1083.3a3.7 3.7 0 1 0 7.4 0a3.7 3.7 0 1 0 -7.4 0M1577.88 1083.3a3.7 3.7 0 1 0 7.4 0a3.7 3.7 0 1 0 -7.4 0M1579.72 1083.3a3.7 3.7 0 1 0 7.4 0a3.7 3.7 0 1 0 -7.4 0M1579.95 1083.3a3.7 3.7 0 1 0 7.4 0a3.7 3.7 0 1 0 -7.4 0M1582.24 1083.3a3.7 3.7 0 1 0 7.4 0a3.7 3.7 0 1 0 -7.4 0M1583.73 1083.3a3.7 3.7 0 1 0 7.4 0a3.7 3.7 0 1 0 -7.4 0M1585.29 1083.3a3.7 3.7 0 1 0 7.4 0a3.7 3.7 0 1 0 -7.4 0M1586.36 1083.3a3.7 3.7 0 1 0 7.4 0a3.7 3.7 0 1 0 -7.4 0M1587.33 1083.3a3.7 3.7 0 1 0 7.4 0a3.7 3.7 0 1 0 -7.4 0M1693.84 673.06a3.7 3.7 0 1 0 7.4 0a3.7 3.7 0 1 0 -7.4 0M1749.63 673.06a3.7 3.7 0 1 0 7.4 0a3.7 3.7 0 1 0 -7.4 0M1703.32 685.12a3.7 3.7 0 1 0 7.4 0a3.7 3.7 0 1 0 -7.4 0M1732.09 685.12a3.7 3.7 0 1 0 7.4 0a3.7 3.7 0 1 0 -7.4 0M1745.95 685.12a3.7 3.7 0 1 0 7.4 0a3.7 3.7 0 1 0 -7.4 0M1700.16 709.25a3.7 3.7 0 1 0 7.4 0a3.7 3.7 0 1 0 -7.4 0M1753.49 709.25a3.7 3.7 0 1 0 7.4 0a3.7 3.7 0 1 0 -7.4 0M1704.55 721.32a3.7 3.7 0 1 0 7.4 0a3.7 3.7 0 1 0 -7.4 0M1733.14 721.32a3.7 3.7 0 1 0 7.4 0a3.7 3.7 0 1 0 -7.4 0M1747 721.32a3.7 3.7 0 1 0 7.4 0a3.7 3.7 0 1 0 -7.4 0M1690.51 733.39a3.7 3.7 0 1 0 7.4 0a3.7 3.7 0 1 0 -7.4 0M1709.46 733.39a3.7 3.7 0 1 0 7.4 0a3.7 3.7 0 1 0 -7.4 0M1747.18 733.39a3.7 3.7 0 1 0 7.4 0a3.7 3.7 0 1 0 -7.4 0M1694.02 745.45a3.7 3.7 0 1 0 7.4 0a3.7 3.7 0 1 0 -7.4 0M1710.69 745.45a3.7 3.7 0 1 0 7.4 0a3.7 3.7 0 1 0 -7.4 0M1754.9 745.45a3.7 3.7 0 1 0 7.4 0a3.7 3.7 0 1 0 -7.4 0M1728.93 757.52a3.7 3.7 0 1 0 7.4 0a3.7 3.7 0 1 0 -7.4 0M1739.28 757.52a3.7 3.7 0 1 0 7.4 0a3.7 3.7 0 1 0 -7.4 0M1749.98 757.52a3.7 3.7 0 1 0 7.4 0a3.7 3.7 0 1 0 -7.4 0M1755.95 757.52a3.7 3.7 0 1 0 7.4 0a3.7 3.7 0 1 0 -7.4 0M1720.51 769.58a3.7 3.7 0 1 0 7.4 0a3.7 3.7 0 1 0 -7.4 0M1710.34 781.65a3.7 3.7 0 1 0 7.4 0a3.7 3.7 0 1 0 -7.4 0M1699.46 793.72a3.7 3.7 0 1 0 7.4 0a3.7 3.7 0 1 0 -7.4 0M1704.55 793.72a3.7 3.7 0 1 0 7.4 0a3.7 3.7 0 1 0 -7.4 0M1689.28 805.78a3.7 3.7 0 1 0 7.4 0a3.7 3.7 0 1 0 -7.4 0M1733.14 805.78a3.7 3.7 0 1 0 7.4 0a3.7 3.7 0 1 0 -7.4 0M1741.39 805.78a3.7 3.7 0 1 0 7.4 0a3.7 3.7 0 1 0 -7.4 0M1711.21 817.85a3.7 3.7 0 1 0 7.4 0a3.7 3.7 0 1 0 -7.4 0M1717.88 817.85a3.7 3.7 0 1 0 7.4 0a3.7 3.7 0 1 0 -7.4 0M1723.49 817.85a3.7 3.7 0 1 0 7.4 0a3.7 3.7 0 1 0 -7.4 0M1727.35 817.85a3.7 3.7 0 1 0 7.4 0a3.7 3.7 0 1 0 -7.4 0M1747.7 817.85a3.7 3.7 0 1 0 7.4 0a3.7 3.7 0 1 0 -7.4 0M1726.12 829.91a3.7 3.7 0 1 0 7.4 0a3.7 3.7 0 1 0 -7.4 0M1752.26 841.98a3.7 3.7 0 1 0 7.4 0a3.7 3.7 0 1 0 -7.4 0M1691.91 854.05a3.7 3.7 0 1 0 7.4 0a3.7 3.7 0 1 0 -7.4 0M1698.05 854.05a3.7 3.7 0 1 0 7.4 0a3.7 3.7 0 1 0 -7.4 0M1704.19 854.05a3.7 3.7 0 1 0 7.4 0a3.7 3.7 0 1 0 -7.4 0M1707.7 854.05a3.7 3.7 0 1 0 7.4 0a3.7 3.7 0 1 0 -7.4 0M1716.48 854.05a3.7 3.7 0 1 0 7.4 0a3.7 3.7 0 1 0 -7.4 0M1719.98 854.05a3.7 3.7 0 1 0 7.4 0a3.7 3.7 0 1 0 -7.4 0M1727.88 854.05a3.7 3.7 0 1 0 7.4 0a3.7 3.7 0 1 0 -7.4 0M1741.04 854.05a3.7 3.7 0 1 0 7.4 0a3.7 3.7 0 1 0 -7.4 0M1748.58 854.05a3.7 3.7 0 1 0 7.4 0a3.7 3.7 0 1 0 -7.4 0M1702.09 866.11a3.7 3.7 0 1 0 7.4 0a3.7 3.7 0 1 0 -7.4 0M1713.32 866.11a3.7 3.7 0 1 0 7.4 0a3.7 3.7 0 1 0 -7.4 0M1752.44 866.11a3.7 3.7 0 1 0 7.4 0a3.7 3.7 0 1 0 -7.4 0M1755.95 866.11a3.7 3.7 0 1 0 7.4 0a3.7 3.7 0 1 0 -7.4 0M1692.44 878.18a3.7 3.7 0 1 0 7.4 0a3.7 3.7 0 1 0 -7.4 0M1709.81 878.18a3.7 3.7 0 1 0 7.4 0a3.7 3.7 0 1 0 -7.4 0M1723.14 878.18a3.7 3.7 0 1 0 7.4 0a3.7 3.7 0 1 0 -7.4 0M1729.11 878.18a3.7 3.7 0 1 0 7.4 0a3.7 3.7 0 1 0 -7.4 0M1753.49 878.18a3.7 3.7 0 1 0 7.4 0a3.7 3.7 0 1 0 -7.4 0M1694.19 890.24a3.7 3.7 0 1 0 7.4 0a3.7 3.7 0 1 0 -7.4 0M1703.32 890.24a3.7 3.7 0 1 0 7.4 0a3.7 3.7 0 1 0 -7.4 0M1712.97 890.24a3.7 3.7 0 1 0 7.4 0a3.7 3.7 0 1 0 -7.4 0M1729.98 890.24a3.7 3.7 0 1 0 7.4 0a3.7 3.7 0 1 0 -7.4 0M1755.25 890.24a3.7 3.7 0 1 0 7.4 0a3.7 3.7 0 1 0 -7.4 0M1698.58 902.31a3.7 3.7 0 1 0 7.4 0a3.7 3.7 0 1 0 -7.4 0M1710.51 902.31a3.7 3.7 0 1 0 7.4 0a3.7 3.7 0 1 0 -7.4 0M1696.3 914.38a3.7 3.7 0 1 0 7.4 0a3.7 3.7 0 1 0 -7.4 0M1700.69 914.38a3.7 3.7 0 1 0 7.4 0a3.7 3.7 0 1 0 -7.4 0M1721.56 914.38a3.7 3.7 0 1 0 7.4 0a3.7 3.7 0 1 0 -7.4 0M1732.26 914.38a3.7 3.7 0 1 0 7.4 0a3.7 3.7 0 1 0 -7.4 0M1737.53 914.38a3.7 3.7 0 1 0 7.4 0a3.7 3.7 0 1 0 -7.4 0M1745.42 914.38a3.7 3.7 0 1 0 7.4 0a3.7 3.7 0 1 0 -7.4 0M1750.69 914.38a3.7 3.7 0 1 0 7.4 0a3.7 3.7 0 1 0 -7.4 0M1691.39 926.44a3.7 3.7 0 1 0 7.4 0a3.7 3.7 0 1 0 -7.4 0M1697.18 926.44a3.7 3.7 0 1 0 7.4 0a3.7 3.7 0 1 0 -7.4 0M1703.32 926.44a3.7 3.7 0 1 0 7.4 0a3.7 3.7 0 1 0 -7.4 0M1708.58 926.44a3.7 3.7 0 1 0 7.4 0a3.7 3.7 0 1 0 -7.4 0M1724.37 926.44a3.7 3.7 0 1 0 7.4 0a3.7 3.7 0 1 0 -7.4 0M1744.55 926.44a3.7 3.7 0 1 0 7.4 0a3.7 3.7 0 1 0 -7.4 0M1748.93 926.44a3.7 3.7 0 1 0 7.4 0a3.7 3.7 0 1 0 -7.4 0M1752.44 926.44a3.7 3.7 0 1 0 7.4 0a3.7 3.7 0 1 0 -7.4 0M1713.84 938.51a3.7 3.7 0 1 0 7.4 0a3.7 3.7 0 1 0 -7.4 0M1724.02 938.51a3.7 3.7 0 1 0 7.4 0a3.7 3.7 0 1 0 -7.4 0M1731.91 938.51a3.7 3.7 0 1 0 7.4 0a3.7 3.7 0 1 0 -7.4 0M1747.18 938.51a3.7 3.7 0 1 0 7.4 0a3.7 3.7 0 1 0 -7.4 0M1751.04 938.51a3.7 3.7 0 1 0 7.4 0a3.7 3.7 0 1 0 -7.4 0M1698.05 950.57a3.7 3.7 0 1 0 7.4 0a3.7 3.7 0 1 0 -7.4 0M1704.19 950.57a3.7 3.7 0 1 0 7.4 0a3.7 3.7 0 1 0 -7.4 0M1710.34 950.57a3.7 3.7 0 1 0 7.4 0a3.7 3.7 0 1 0 -7.4 0M1715.6 950.57a3.7 3.7 0 1 0 7.4 0a3.7 3.7 0 1 0 -7.4 0M1720.86 950.57a3.7 3.7 0 1 0 7.4 0a3.7 3.7 0 1 0 -7.4 0M1726.12 950.57a3.7 3.7 0 1 0 7.4 0a3.7 3.7 0 1 0 -7.4 0M1750.16 950.57a3.7 3.7 0 1 0 7.4 0a3.7 3.7 0 1 0 -7.4 0M1699.28 962.64a3.7 3.7 0 1 0 7.4 0a3.7 3.7 0 1 0 -7.4 0M1708.05 962.64a3.7 3.7 0 1 0 7.4 0a3.7 3.7 0 1 0 -7.4 0M1716.48 962.64a3.7 3.7 0 1 0 7.4 0a3.7 3.7 0 1 0 -7.4 0M1722.62 962.64a3.7 3.7 0 1 0 7.4 0a3.7 3.7 0 1 0 -7.4 0M1744.19 962.64a3.7 3.7 0 1 0 7.4 0a3.7 3.7 0 1 0 -7.4 0M1748.93 962.64a3.7 3.7 0 1 0 7.4 0a3.7 3.7 0 1 0 -7.4 0M1753.49 962.64a3.7 3.7 0 1 0 7.4 0a3.7 3.7 0 1 0 -7.4 0M1690.16 986.77a3.7 3.7 0 1 0 7.4 0a3.7 3.7 0 1 0 -7.4 0M1696.3 986.77a3.7 3.7 0 1 0 7.4 0a3.7 3.7 0 1 0 -7.4 0M1705.95 986.77a3.7 3.7 0 1 0 7.4 0a3.7 3.7 0 1 0 -7.4 0M1711.21 986.77a3.7 3.7 0 1 0 7.4 0a3.7 3.7 0 1 0 -7.4 0M1720.86 986.77a3.7 3.7 0 1 0 7.4 0a3.7 3.7 0 1 0 -7.4 0M1732.26 986.77a3.7 3.7 0 1 0 7.4 0a3.7 3.7 0 1 0 -7.4 0M1738.41 986.77a3.7 3.7 0 1 0 7.4 0a3.7 3.7 0 1 0 -7.4 0M1743.67 986.77a3.7 3.7 0 1 0 7.4 0a3.7 3.7 0 1 0 -7.4 0M1748.93 986.77a3.7 3.7 0 1 0 7.4 0a3.7 3.7 0 1 0 -7.4 0M1752.79 986.77a3.7 3.7 0 1 0 7.4 0a3.7 3.7 0 1 0 -7.4 0M1692.79 998.84a3.7 3.7 0 1 0 7.4 0a3.7 3.7 0 1 0 -7.4 0M1709.46 998.84a3.7 3.7 0 1 0 7.4 0a3.7 3.7 0 1 0 -7.4 0M1713.84 998.84a3.7 3.7 0 1 0 7.4 0a3.7 3.7 0 1 0 -7.4 0M1718.23 998.84a3.7 3.7 0 1 0 7.4 0a3.7 3.7 0 1 0 -7.4 0M1722.62 998.84a3.7 3.7 0 1 0 7.4 0a3.7 3.7 0 1 0 -7.4 0M1727 998.84a3.7 3.7 0 1 0 7.4 0a3.7 3.7 0 1 0 -7.4 0M1731.39 998.84a3.7 3.7 0 1 0 7.4 0a3.7 3.7 0 1 0 -7.4 0M1735.77 998.84a3.7 3.7 0 1 0 7.4 0a3.7 3.7 0 1 0 -7.4 0M1740.16 998.84a3.7 3.7 0 1 0 7.4 0a3.7 3.7 0 1 0 -7.4 0M1744.55 998.84a3.7 3.7 0 1 0 7.4 0a3.7 3.7 0 1 0 -7.4 0M1755.25 998.84a3.7 3.7 0 1 0 7.4 0a3.7 3.7 0 1 0 -7.4 0M1692.79 1010.9a3.7 3.7 0 1 0 7.4 0a3.7 3.7 0 1 0 -7.4 0M1698.05 1010.9a3.7 3.7 0 1 0 7.4 0a3.7 3.7 0 1 0 -7.4 0M1703.32 1010.9a3.7 3.7 0 1 0 7.4 0a3.7 3.7 0 1 0 -7.4 0M1707.7 1010.9a3.7 3.7 0 1 0 7.4 0a3.7 3.7 0 1 0 -7.4 0M1718.23 1010.9a3.7 3.7 0 1 0 7.4 0a3.7 3.7 0 1 0 -7.4 0M1724.37 1010.9a3.7 3.7 0 1 0 7.4 0a3.7 3.7 0 1 0 -7.4 0M1734.9 1010.9a3.7 3.7 0 1 0 7.4 0a3.7 3.7 0 1 0 -7.4 0M1739.28 1010.9a3.7 3.7 0 1 0 7.4 0a3.7 3.7 0 1 0 -7.4 0M1747.53 1010.9a3.7 3.7 0 1 0 7.4 0a3.7 3.7 0 1 0 -7.4 0M1755.42 1010.9a3.7 3.7 0 1 0 7.4 0a3.7 3.7 0 1 0 -7.4 0M1689.28 1022.97a3.7 3.7 0 1 0 7.4 0a3.7 3.7 0 1 0 -7.4 0M1695.42 1022.97a3.7 3.7 0 1 0 7.4 0a3.7 3.7 0 1 0 -7.4 0M1706.83 1022.97a3.7 3.7 0 1 0 7.4 0a3.7 3.7 0 1 0 -7.4 0M1716.48 1022.97a3.7 3.7 0 1 0 7.4 0a3.7 3.7 0 1 0 -7.4 0M1727 1022.97a3.7 3.7 0 1 0 7.4 0a3.7 3.7 0 1 0 -7.4 0M1733.14 1022.97a3.7 3.7 0 1 0 7.4 0a3.7 3.7 0 1 0 -7.4 0M1740.16 1022.97a3.7 3.7 0 1 0 7.4 0a3.7 3.7 0 1 0 -7.4 0M1752.44 1022.97a3.7 3.7 0 1 0 7.4 0a3.7 3.7 0 1 0 -7.4 0M1693.67 1035.04a3.7 3.7 0 1 0 7.4 0a3.7 3.7 0 1 0 -7.4 0M1704.19 1035.04a3.7 3.7 0 1 0 7.4 0a3.7 3.7 0 1 0 -7.4 0M1709.46 1035.04a3.7 3.7 0 1 0 7.4 0a3.7 3.7 0 1 0 -7.4 0M1715.6 1035.04a3.7 3.7 0 1 0 7.4 0a3.7 3.7 0 1 0 -7.4 0M1728.76 1035.04a3.7 3.7 0 1 0 7.4 0a3.7 3.7 0 1 0 -7.4 0M1734.9 1035.04a3.7 3.7 0 1 0 7.4 0a3.7 3.7 0 1 0 -7.4 0M1746.3 1035.04a3.7 3.7 0 1 0 7.4 0a3.7 3.7 0 1 0 -7.4 0M1751.56 1035.04a3.7 3.7 0 1 0 7.4 0a3.7 3.7 0 1 0 -7.4 0M1693.75 1047.1a3.7 3.7 0 1 0 7.4 0a3.7 3.7 0 1 0 -7.4 0M1698.25 1047.1a3.7 3.7 0 1 0 7.4 0a3.7 3.7 0 1 0 -7.4 0M1706.51 1047.1a3.7 3.7 0 1 0 7.4 0a3.7 3.7 0 1 0 -7.4 0M1711.01 1047.1a3.7 3.7 0 1 0 7.4 0a3.7 3.7 0 1 0 -7.4 0M1717.02 1047.1a3.7 3.7 0 1 0 7.4 0a3.7 3.7 0 1 0 -7.4 0M1720.02 1047.1a3.7 3.7 0 1 0 7.4 0a3.7 3.7 0 1 0 -7.4 0M1730.53 1047.1a3.7 3.7 0 1 0 7.4 0a3.7 3.7 0 1 0 -7.4 0M1736.54 1047.1a3.7 3.7 0 1 0 7.4 0a3.7 3.7 0 1 0 -7.4 0M1739.54 1047.1a3.7 3.7 0 1 0 7.4 0a3.7 3.7 0 1 0 -7.4 0M1754.56 1047.1a3.7 3.7 0 1 0 7.4 0a3.7 3.7 0 1 0 -7.4 0M1689.24 1059.17a3.7 3.7 0 1 0 7.4 0a3.7 3.7 0 1 0 -7.4 0M1693 1059.17a3.7 3.7 0 1 0 7.4 0a3.7 3.7 0 1 0 -7.4 0M1696.75 1059.17a3.7 3.7 0 1 0 7.4 0a3.7 3.7 0 1 0 -7.4 0M1700.5 1059.17a3.7 3.7 0 1 0 7.4 0a3.7 3.7 0 1 0 -7.4 0M1704.26 1059.17a3.7 3.7 0 1 0 7.4 0a3.7 3.7 0 1 0 -7.4 0M1708.01 1059.17a3.7 3.7 0 1 0 7.4 0a3.7 3.7 0 1 0 -7.4 0M1712.52 1059.17a3.7 3.7 0 1 0 7.4 0a3.7 3.7 0 1 0 -7.4 0M1724.53 1059.17a3.7 3.7 0 1 0 7.4 0a3.7 3.7 0 1 0 -7.4 0M1729.03 1059.17a3.7 3.7 0 1 0 7.4 0a3.7 3.7 0 1 0 -7.4 0M1738.04 1059.17a3.7 3.7 0 1 0 7.4 0a3.7 3.7 0 1 0 -7.4 0M1742.55 1059.17a3.7 3.7 0 1 0 7.4 0a3.7 3.7 0 1 0 -7.4 0M1747.05 1059.17a3.7 3.7 0 1 0 7.4 0a3.7 3.7 0 1 0 -7.4 0M1689.72 974.71a3.7 3.7 0 1 0 7.4 0a3.7 3.7 0 1 0 -7.4 0M1696.61 974.71a3.7 3.7 0 1 0 7.4 0a3.7 3.7 0 1 0 -7.4 0M1699.39 974.71a3.7 3.7 0 1 0 7.4 0a3.7 3.7 0 1 0 -7.4 0M1703.69 974.71a3.7 3.7 0 1 0 7.4 0a3.7 3.7 0 1 0 -7.4 0M1709.95 974.71a3.7 3.7 0 1 0 7.4 0a3.7 3.7 0 1 0 -7.4 0M1715.37 974.71a3.7 3.7 0 1 0 7.4 0a3.7 3.7 0 1 0 -7.4 0M1720.54 974.71a3.7 3.7 0 1 0 7.4 0a3.7 3.7 0 1 0 -7.4 0M1722.93 974.71a3.7 3.7 0 1 0 7.4 0a3.7 3.7 0 1 0 -7.4 0M1731.42 974.71a3.7 3.7 0 1 0 7.4 0a3.7 3.7 0 1 0 -7.4 0M1734.14 974.71a3.7 3.7 0 1 0 7.4 0a3.7 3.7 0 1 0 -7.4 0M1741.17 974.71a3.7 3.7 0 1 0 7.4 0a3.7 3.7 0 1 0 -7.4 0M1742.27 974.71a3.7 3.7 0 1 0 7.4 0a3.7 3.7 0 1 0 -7.4 0M1751.72 974.71a3.7 3.7 0 1 0 7.4 0a3.7 3.7 0 1 0 -7.4 0M1754.81 974.71a3.7 3.7 0 1 0 7.4 0a3.7 3.7 0 1 0 -7.4 0M1691.17 1083.3a3.7 3.7 0 1 0 7.4 0a3.7 3.7 0 1 0 -7.4 0M1693.62 1083.3a3.7 3.7 0 1 0 7.4 0a3.7 3.7 0 1 0 -7.4 0M1695.68 1083.3a3.7 3.7 0 1 0 7.4 0a3.7 3.7 0 1 0 -7.4 0M1696.34 1083.3a3.7 3.7 0 1 0 7.4 0a3.7 3.7 0 1 0 -7.4 0M1699.36 1083.3a3.7 3.7 0 1 0 7.4 0a3.7 3.7 0 1 0 -7.4 0M1701.5 1083.3a3.7 3.7 0 1 0 7.4 0a3.7 3.7 0 1 0 -7.4 0M1705.27 1083.3a3.7 3.7 0 1 0 7.4 0a3.7 3.7 0 1 0 -7.4 0M1706.27 1083.3a3.7 3.7 0 1 0 7.4 0a3.7 3.7 0 1 0 -7.4 0M1708.77 1083.3a3.7 3.7 0 1 0 7.4 0a3.7 3.7 0 1 0 -7.4 0M1710.93 1083.3a3.7 3.7 0 1 0 7.4 0a3.7 3.7 0 1 0 -7.4 0M1713.38 1083.3a3.7 3.7 0 1 0 7.4 0a3.7 3.7 0 1 0 -7.4 0M1717.79 1083.3a3.7 3.7 0 1 0 7.4 0a3.7 3.7 0 1 0 -7.4 0M1720.31 1083.3a3.7 3.7 0 1 0 7.4 0a3.7 3.7 0 1 0 -7.4 0M1721.28 1083.3a3.7 3.7 0 1 0 7.4 0a3.7 3.7 0 1 0 -7.4 0M1724.6 1083.3a3.7 3.7 0 1 0 7.4 0a3.7 3.7 0 1 0 -7.4 0M1726.36 1083.3a3.7 3.7 0 1 0 7.4 0a3.7 3.7 0 1 0 -7.4 0M1728.92 1083.3a3.7 3.7 0 1 0 7.4 0a3.7 3.7 0 1 0 -7.4 0M1730.98 1083.3a3.7 3.7 0 1 0 7.4 0a3.7 3.7 0 1 0 -7.4 0M1734.06 1083.3a3.7 3.7 0 1 0 7.4 0a3.7 3.7 0 1 0 -7.4 0M1735.52 1083.3a3.7 3.7 0 1 0 7.4 0a3.7 3.7 0 1 0 -7.4 0M1737.99 1083.3a3.7 3.7 0 1 0 7.4 0a3.7 3.7 0 1 0 -7.4 0M1741.06 1083.3a3.7 3.7 0 1 0 7.4 0a3.7 3.7 0 1 0 -7.4 0M1742.71 1083.3a3.7 3.7 0 1 0 7.4 0a3.7 3.7 0 1 0 -7.4 0M1745.72 1083.3a3.7 3.7 0 1 0 7.4 0a3.7 3.7 0 1 0 -7.4 0M1749.38 1083.3a3.7 3.7 0 1 0 7.4 0a3.7 3.7 0 1 0 -7.4 0M1749.57 1083.3a3.7 3.7 0 1 0 7.4 0a3.7 3.7 0 1 0 -7.4 0M1752.19 1083.3a3.7 3.7 0 1 0 7.4 0a3.7 3.7 0 1 0 -7.4 0M1756.31 1083.3a3.7 3.7 0 1 0 7.4 0a3.7 3.7 0 1 0 -7.4 0M1879.88 697.19a3.7 3.7 0 1 0 7.4 0a3.7 3.7 0 1 0 -7.4 0M1895.59 841.98a3.7 3.7 0 1 0 7.4 0a3.7 3.7 0 1 0 -7.4 0M1868.09 878.18a3.7 3.7 0 1 0 7.4 0a3.7 3.7 0 1 0 -7.4 0M1877.92 878.18a3.7 3.7 0 1 0 7.4 0a3.7 3.7 0 1 0 -7.4 0M1868.09 890.24a3.7 3.7 0 1 0 7.4 0a3.7 3.7 0 1 0 -7.4 0M1872.51 890.24a3.7 3.7 0 1 0 7.4 0a3.7 3.7 0 1 0 -7.4 0M1877.92 890.24a3.7 3.7 0 1 0 7.4 0a3.7 3.7 0 1 0 -7.4 0M1921.62 914.38a3.7 3.7 0 1 0 7.4 0a3.7 3.7 0 1 0 -7.4 0M1903.94 938.51a3.7 3.7 0 1 0 7.4 0a3.7 3.7 0 1 0 -7.4 0M1860.24 974.71a3.7 3.7 0 1 0 7.4 0a3.7 3.7 0 1 0 -7.4 0M1864.17 974.71a3.7 3.7 0 1 0 7.4 0a3.7 3.7 0 1 0 -7.4 0M1894.61 998.84a3.7 3.7 0 1 0 7.4 0a3.7 3.7 0 1 0 -7.4 0M1870.06 1010.9a3.7 3.7 0 1 0 7.4 0a3.7 3.7 0 1 0 -7.4 0M1901.49 1010.9a3.7 3.7 0 1 0 7.4 0a3.7 3.7 0 1 0 -7.4 0M1894.61 1047.1a3.7 3.7 0 1 0 7.4 0a3.7 3.7 0 1 0 -7.4 0M1900.5 1071.23a3.7 3.7 0 1 0 7.4 0a3.7 3.7 0 1 0 -7.4 0M1860.73 1083.3a3.7 3.7 0 1 0 7.4 0a3.7 3.7 0 1 0 -7.4 0" fill="#4BB8D6"/>
<line x1="1559.4" y1="709.25" x2="1559.4" y2="902.31" stroke="#111" stroke-width="1.1" stroke-dasharray="4.3 3.4"/>
<line x1="1559.4" y1="1035.04" x2="1559.4" y2="1083.3" stroke="#111" stroke-width="1.1" stroke-dasharray="4.3 3.4"/>
<line x1="1525.6" y1="709.25" x2="1592.9" y2="709.25" stroke="#0a0a0a" stroke-width="1.3"/>
<line x1="1525.6" y1="1083.3" x2="1592.9" y2="1083.3" stroke="#0a0a0a" stroke-width="1.3"/>
<rect x="1492.2" y="902.31" width="134.1" height="132.73" fill="#fff" stroke="#0a0a0a" stroke-width="1.25" fill-opacity="0.5"/>
<line x1="1492.2" y1="986.77" x2="1626.3" y2="986.77" stroke="#000" stroke-width="3.4"/>
<line x1="1726.5" y1="673.06" x2="1726.5" y2="884.21" stroke="#111" stroke-width="1.1" stroke-dasharray="4.3 3.4"/>
<line x1="1726.5" y1="1029" x2="1726.5" y2="1083.3" stroke="#111" stroke-width="1.1" stroke-dasharray="4.3 3.4"/>
<line x1="1700.9" y1="673.06" x2="1752" y2="673.06" stroke="#0a0a0a" stroke-width="1.3"/>
<line x1="1700.9" y1="1083.3" x2="1752" y2="1083.3" stroke="#0a0a0a" stroke-width="1.3"/>
<rect x="1676.2" y="884.21" width="100.9" height="144.79" fill="#fff" stroke="#0a0a0a" stroke-width="1.25" fill-opacity="0.5"/>
<line x1="1676.2" y1="974.71" x2="1777.1" y2="974.71" stroke="#000" stroke-width="3.4"/>
<line x1="1893.4" y1="697.19" x2="1893.4" y2="878.18" stroke="#111" stroke-width="1.1" stroke-dasharray="4.3 3.4"/>
<line x1="1893.4" y1="1010.9" x2="1893.4" y2="1083.3" stroke="#111" stroke-width="1.1" stroke-dasharray="4.3 3.4"/>
<line x1="1887" y1="697.19" x2="1900.3" y2="697.19" stroke="#0a0a0a" stroke-width="1.3"/>
<line x1="1887" y1="1083.3" x2="1900.3" y2="1083.3" stroke="#0a0a0a" stroke-width="1.3"/>
<rect x="1880.5" y="878.18" width="26.1" height="132.73" fill="#fff" stroke="#0a0a0a" stroke-width="1.25" fill-opacity="0.5"/>
<line x1="1880.5" y1="926.44" x2="1906.6" y2="926.44" stroke="#000" stroke-width="3.4"/>
<text transform="translate(1372.11 630) scale(0.9876 1.0056)" font-size="49" font-weight="bold">F</text>
<rect x="1455.9" y="656.9" width="541.3" height="442.9" fill="none" stroke="#000" stroke-width="1.8"/>
<line x1="1445.5" y1="1083.3" x2="1455.9" y2="1083.3" stroke="#000" stroke-width="1.6"/>
<text x="1438" y="1090.3" font-size="21.3" text-anchor="end">0</text>
<line x1="1445.5" y1="1022.97" x2="1455.9" y2="1022.97" stroke="#000" stroke-width="1.6"/>
<text x="1438" y="1029.97" font-size="21.3" text-anchor="end">5</text>
<line x1="1445.5" y1="962.64" x2="1455.9" y2="962.64" stroke="#000" stroke-width="1.6"/>
<text x="1438" y="969.64" font-size="21.3" text-anchor="end">10</text>
<line x1="1445.5" y1="902.31" x2="1455.9" y2="902.31" stroke="#000" stroke-width="1.6"/>
<text x="1438" y="909.31" font-size="21.3" text-anchor="end">15</text>
<line x1="1445.5" y1="841.98" x2="1455.9" y2="841.98" stroke="#000" stroke-width="1.6"/>
<text x="1438" y="848.98" font-size="21.3" text-anchor="end">20</text>
<line x1="1445.5" y1="781.65" x2="1455.9" y2="781.65" stroke="#000" stroke-width="1.6"/>
<text x="1438" y="788.65" font-size="21.3" text-anchor="end">25</text>
<line x1="1445.5" y1="721.32" x2="1455.9" y2="721.32" stroke="#000" stroke-width="1.6"/>
<text x="1438" y="728.32" font-size="21.3" text-anchor="end">30</text>
<line x1="1445.5" y1="660.99" x2="1455.9" y2="660.99" stroke="#000" stroke-width="1.6"/>
<text x="1438" y="667.99" font-size="21.3" text-anchor="end">35</text>
<line x1="1559.4" y1="1099.8" x2="1559.4" y2="1110.4" stroke="#000" stroke-width="1.6"/>
<text x="1559.4" y="1135" font-size="20.2" text-anchor="middle">Single copy</text>
<line x1="1726.5" y1="1099.8" x2="1726.5" y2="1110.4" stroke="#000" stroke-width="1.6"/>
<text x="1726.5" y="1135" font-size="20.2" text-anchor="middle">Het</text>
<line x1="1893.4" y1="1099.8" x2="1893.4" y2="1110.4" stroke="#000" stroke-width="1.6"/>
<text x="1893.4" y="1135" font-size="20" text-anchor="middle" textLength="84.6" lengthAdjust="spacing">Triplicated</text>
<text transform="translate(1391.5 878.3) rotate(-90)" font-size="23.6" text-anchor="middle">Muribaculaceae ASV_17008 MI (raw counts)</text>
</g>
</svg>
</body></html>
